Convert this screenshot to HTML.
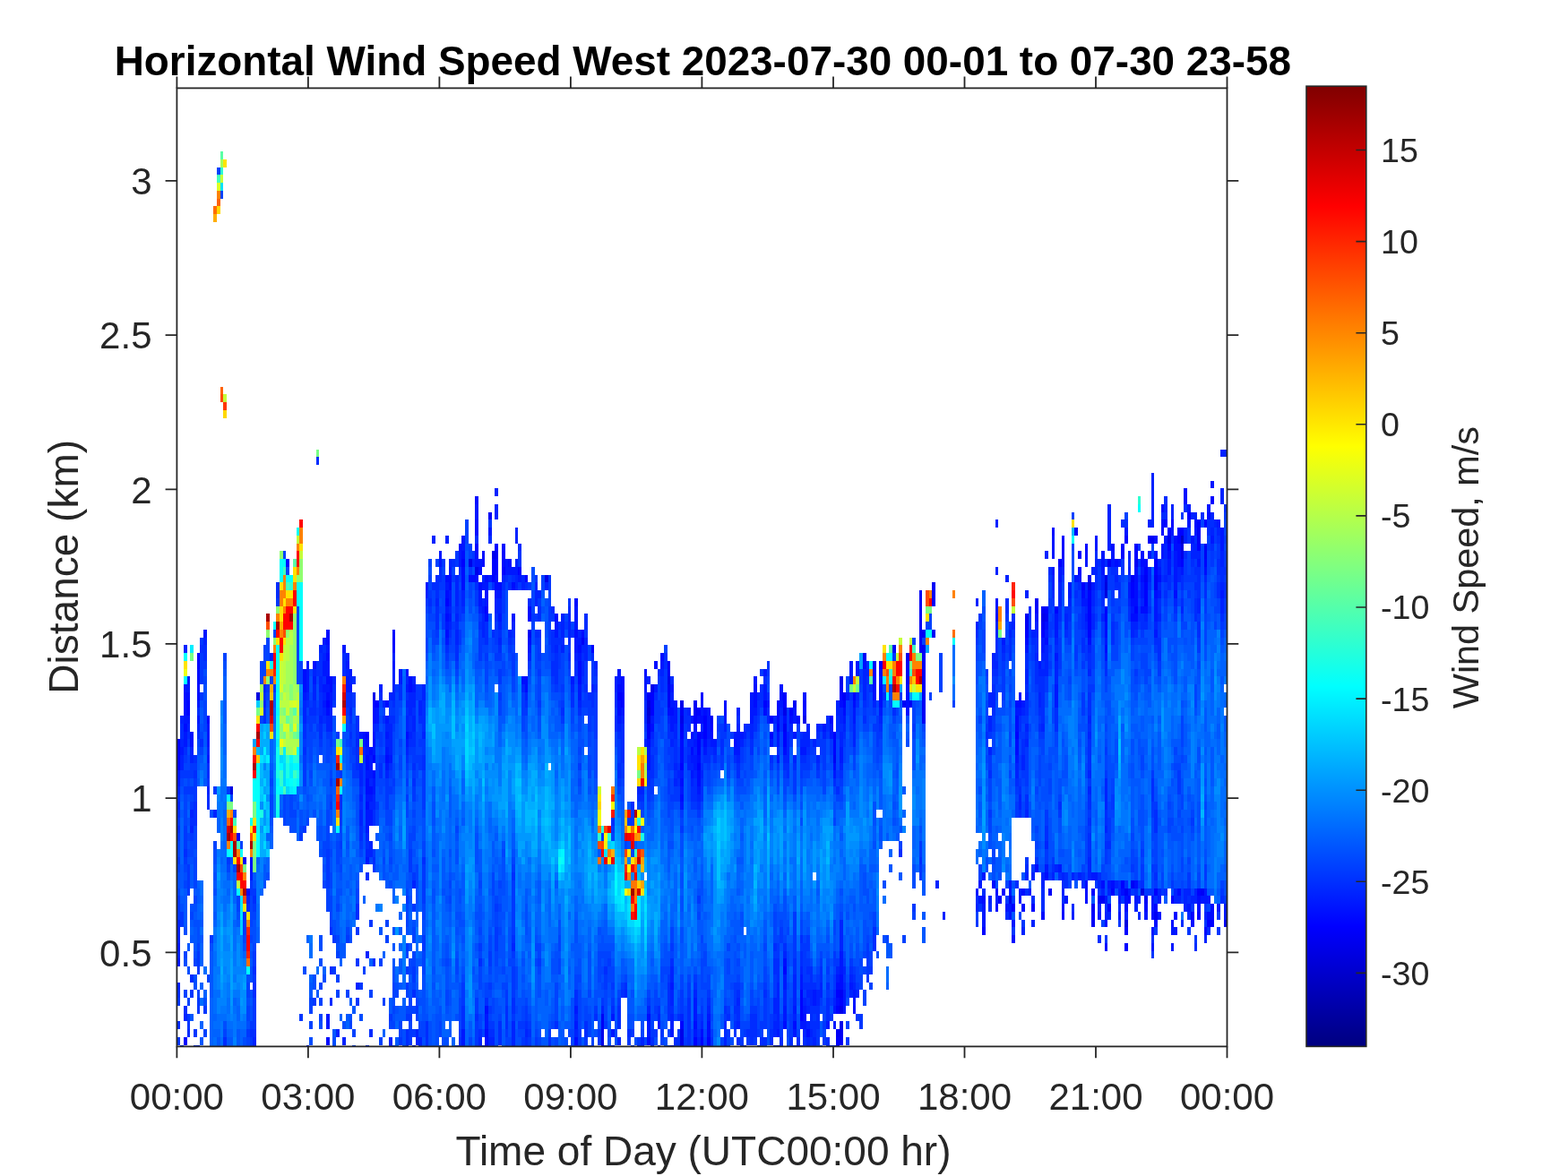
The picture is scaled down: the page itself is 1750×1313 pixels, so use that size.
<!DOCTYPE html><html><head><meta charset="utf-8"><style>html,body{margin:0;padding:0;background:#fff;}svg{display:block;}text{font-family:"Liberation Sans",Arial,sans-serif;}</style></head><body>
<svg width="1750" height="1313" viewBox="0 0 1750 1313">
<rect width="1750" height="1313" fill="#fff"/>
<g shape-rendering="crispEdges"><path fill="#0000cb" d="M1317.7 597.7h3.70V606.5h-3.70z"/><path fill="#0000d5" d="M722.4 790.2h3.70V799.0h-3.70z"/><path fill="#0000e0" d="M256.6 877.7h3.70V886.5h-3.70zM286.1 772.7h3.70V781.5h-3.70zM670.7 1166.5h3.70V1168.4h-3.70zM722.4 781.5h3.70V790.2h-3.70zM722.4 799.0h3.70V807.7h-3.70zM759.4 1166.5h3.70V1168.4h-3.70zM1232.7 650.2h3.70V667.7h-3.70zM1254.9 1026.5h3.70V1035.2h-3.70zM1273.4 991.5h3.70V1000.2h-3.70zM1317.7 606.5h3.70V615.2h-3.70z"/><path fill="#0000eb" d="M415.6 772.7h3.70V781.5h-3.70zM522.8 624.0h3.70V632.7h-3.70zM530.2 632.7h3.70V641.5h-3.70zM548.7 615.2h3.70V624.0h-3.70zM607.8 641.5h3.70V650.2h-3.70zM670.7 1149.0h3.70V1166.5h-3.70zM726.1 764.0h3.70V772.7h-3.70zM744.6 755.2h3.70V764.0h-3.70zM759.4 781.5h3.70V790.2h-3.70zM759.4 799.0h3.70V807.7h-3.70zM759.4 1149.0h3.70V1166.5h-3.70zM781.6 1166.5h3.70V1168.4h-3.70zM874.0 790.2h3.70V799.0h-3.70zM896.2 799.0h3.70V807.7h-3.70zM936.9 755.2h3.70V764.0h-3.70zM936.9 1122.7h3.70V1131.5h-3.70zM936.9 1140.2h3.70V1149.0h-3.70zM1125.5 1000.2h3.70V1009.0h-3.70zM1162.4 685.2h3.70V694.0h-3.70zM1214.2 641.5h3.70V659.0h-3.70zM1232.7 641.5h3.70V650.2h-3.70zM1302.9 597.7h3.70V606.5h-3.70zM1317.7 615.2h3.70V624.0h-3.70z"/><path fill="#0000f6" d="M264.0 930.2h3.70V939.0h-3.70zM271.3 956.5h3.70V965.2h-3.70zM545.0 571.5h3.70V580.2h-3.70zM552.4 615.2h3.70V624.0h-3.70zM589.3 702.7h3.70V711.5h-3.70zM648.5 711.5h3.70V720.2h-3.70zM670.7 1131.5h3.70V1149.0h-3.70zM722.4 772.7h3.70V781.5h-3.70zM722.4 807.7h3.70V825.2h-3.70zM744.6 737.7h3.70V755.2h-3.70zM744.6 764.0h3.70V790.2h-3.70zM759.4 790.2h3.70V799.0h-3.70zM759.4 807.7h3.70V816.5h-3.70zM774.2 781.5h3.70V799.0h-3.70zM774.2 1166.5h3.70V1168.4h-3.70zM792.7 799.0h3.70V807.7h-3.70zM874.0 807.7h3.70V816.5h-3.70zM885.1 781.5h3.70V790.2h-3.70zM929.5 842.7h3.70V851.5h-3.70zM933.2 1149.0h3.70V1157.7h-3.70zM936.9 764.0h3.70V772.7h-3.70zM936.9 1105.2h3.70V1114.0h-3.70zM936.9 1149.0h3.70V1166.5h-3.70zM940.6 772.7h3.70V781.5h-3.70zM962.8 729.0h3.70V737.7h-3.70zM973.9 737.7h3.70V746.5h-3.70zM996.1 720.2h3.70V729.0h-3.70zM1007.1 781.5h3.70V790.2h-3.70zM1010.8 729.0h3.70V764.0h-3.70zM1014.5 781.5h3.70V790.2h-3.70zM1025.6 659.0h3.70V729.0h-3.70zM1029.3 702.7h3.70V711.5h-3.70zM1029.3 720.2h3.70V807.7h-3.70zM1040.4 650.2h3.70V676.5h-3.70zM1040.4 702.7h3.70V711.5h-3.70zM1114.4 1000.2h3.70V1009.0h-3.70zM1144.0 685.2h3.70V702.7h-3.70zM1155.0 667.7h3.70V676.5h-3.70zM1162.4 676.5h3.70V685.2h-3.70zM1162.4 694.0h3.70V702.7h-3.70zM1166.1 685.2h3.70V694.0h-3.70zM1169.8 991.5h3.70V1000.2h-3.70zM1199.4 589.0h3.70V597.7h-3.70zM1217.9 1009.0h3.70V1017.7h-3.70zM1217.9 1026.5h3.70V1035.2h-3.70zM1225.3 1000.2h3.70V1009.0h-3.70zM1229.0 1000.2h3.70V1009.0h-3.70zM1236.4 624.0h3.70V632.7h-3.70zM1254.9 991.5h3.70V1000.2h-3.70zM1262.3 641.5h3.70V650.2h-3.70zM1262.3 982.7h3.70V991.5h-3.70zM1266.0 624.0h3.70V632.7h-3.70zM1277.1 641.5h3.70V650.2h-3.70zM1277.1 1000.2h3.70V1009.0h-3.70zM1280.8 597.7h3.70V606.5h-3.70zM1284.5 597.7h3.70V606.5h-3.70zM1288.2 641.5h3.70V659.0h-3.70zM1288.2 1017.7h3.70V1026.5h-3.70zM1336.2 589.0h3.70V606.5h-3.70zM1339.9 991.5h3.70V1000.2h-3.70zM1343.6 606.5h3.70V624.0h-3.70zM1365.8 1026.5h3.70V1035.2h-3.70z"/><path fill="#0001ff" d="M197.4 825.2h3.70V860.2h-3.70zM204.8 1157.7h3.70V1166.5h-3.70zM208.5 781.5h3.70V799.0h-3.70zM219.6 729.0h3.70V746.5h-3.70zM230.7 799.0h3.70V807.7h-3.70zM319.4 624.0h3.70V632.7h-3.70zM363.8 781.5h3.70V790.2h-3.70zM408.2 816.5h3.70V825.2h-3.70zM415.6 781.5h3.70V790.2h-3.70zM415.6 842.7h3.70V851.5h-3.70zM419.2 781.5h3.70V790.2h-3.70zM437.7 711.5h3.70V720.2h-3.70zM496.9 667.7h3.70V676.5h-3.70zM515.4 624.0h3.70V632.7h-3.70zM530.2 606.5h3.70V615.2h-3.70zM541.3 676.5h3.70V685.2h-3.70zM548.7 624.0h3.70V650.2h-3.70zM552.4 606.5h3.70V615.2h-3.70zM552.4 624.0h3.70V641.5h-3.70zM559.8 615.2h3.70V624.0h-3.70zM559.8 632.7h3.70V641.5h-3.70zM578.2 632.7h3.70V641.5h-3.70zM585.6 641.5h3.70V650.2h-3.70zM659.6 720.2h3.70V729.0h-3.70zM689.2 772.7h3.70V781.5h-3.70zM692.9 772.7h3.70V790.2h-3.70zM726.1 772.7h3.70V799.0h-3.70zM759.4 816.5h3.70V825.2h-3.70zM759.4 851.5h3.70V860.2h-3.70zM759.4 1140.2h3.70V1149.0h-3.70zM774.2 799.0h3.70V807.7h-3.70zM774.2 1157.7h3.70V1166.5h-3.70zM777.9 790.2h3.70V799.0h-3.70zM777.9 816.5h3.70V842.7h-3.70zM777.9 851.5h3.70V860.2h-3.70zM781.6 1157.7h3.70V1166.5h-3.70zM785.3 799.0h3.70V825.2h-3.70zM789.0 1157.7h3.70V1166.5h-3.70zM792.7 807.7h3.70V816.5h-3.70zM851.9 781.5h3.70V790.2h-3.70zM859.2 799.0h3.70V807.7h-3.70zM859.2 816.5h3.70V825.2h-3.70zM866.6 807.7h3.70V816.5h-3.70zM874.0 772.7h3.70V790.2h-3.70zM874.0 816.5h3.70V834.0h-3.70zM874.0 1079.0h3.70V1087.7h-3.70zM881.4 790.2h3.70V799.0h-3.70zM892.5 1105.2h3.70V1140.2h-3.70zM896.2 781.5h3.70V790.2h-3.70zM925.8 799.0h3.70V807.7h-3.70zM929.5 816.5h3.70V842.7h-3.70zM933.2 1105.2h3.70V1114.0h-3.70zM933.2 1122.7h3.70V1131.5h-3.70zM933.2 1157.7h3.70V1168.4h-3.70zM936.9 772.7h3.70V781.5h-3.70zM936.9 1114.0h3.70V1122.7h-3.70zM940.6 781.5h3.70V790.2h-3.70zM951.7 772.7h3.70V781.5h-3.70zM973.9 746.5h3.70V764.0h-3.70zM981.3 737.7h3.70V746.5h-3.70zM1095.9 1035.2h3.70V1044.0h-3.70zM1118.1 991.5h3.70V1000.2h-3.70zM1129.2 1009.0h3.70V1017.7h-3.70zM1132.9 816.5h3.70V825.2h-3.70zM1144.0 702.7h3.70V711.5h-3.70zM1151.3 1009.0h3.70V1017.7h-3.70zM1155.0 676.5h3.70V685.2h-3.70zM1162.4 702.7h3.70V711.5h-3.70zM1166.1 676.5h3.70V685.2h-3.70zM1177.2 676.5h3.70V685.2h-3.70zM1180.9 624.0h3.70V632.7h-3.70zM1184.6 597.7h3.70V615.2h-3.70zM1203.1 615.2h3.70V624.0h-3.70zM1203.1 632.7h3.70V641.5h-3.70zM1206.8 650.2h3.70V659.0h-3.70zM1210.5 606.5h3.70V615.2h-3.70zM1214.2 659.0h3.70V711.5h-3.70zM1217.9 991.5h3.70V1000.2h-3.70zM1217.9 1017.7h3.70V1026.5h-3.70zM1232.7 676.5h3.70V694.0h-3.70zM1236.4 1009.0h3.70V1017.7h-3.70zM1240.1 991.5h3.70V1000.2h-3.70zM1251.2 606.5h3.70V624.0h-3.70zM1251.2 982.7h3.70V991.5h-3.70zM1254.9 597.7h3.70V606.5h-3.70zM1254.9 1035.2h3.70V1044.0h-3.70zM1254.9 1052.7h3.70V1061.5h-3.70zM1258.6 1000.2h3.70V1009.0h-3.70zM1262.3 650.2h3.70V667.7h-3.70zM1266.0 606.5h3.70V624.0h-3.70zM1266.0 676.5h3.70V685.2h-3.70zM1277.1 632.7h3.70V641.5h-3.70zM1277.1 650.2h3.70V676.5h-3.70zM1288.2 624.0h3.70V641.5h-3.70zM1288.2 991.5h3.70V1000.2h-3.70zM1288.2 1009.0h3.70V1017.7h-3.70zM1295.6 589.0h3.70V597.7h-3.70zM1299.2 580.2h3.70V589.0h-3.70zM1302.9 589.0h3.70V597.7h-3.70zM1302.9 606.5h3.70V615.2h-3.70zM1306.6 580.2h3.70V589.0h-3.70zM1306.6 1000.2h3.70V1009.0h-3.70zM1310.3 1017.7h3.70V1026.5h-3.70zM1314.0 589.0h3.70V606.5h-3.70zM1317.7 589.0h3.70V597.7h-3.70zM1317.7 624.0h3.70V632.7h-3.70zM1325.1 571.5h3.70V580.2h-3.70zM1328.8 1017.7h3.70V1026.5h-3.70zM1336.2 580.2h3.70V589.0h-3.70zM1336.2 606.5h3.70V615.2h-3.70zM1336.2 991.5h3.70V1000.2h-3.70zM1336.2 1017.7h3.70V1026.5h-3.70zM1343.6 580.2h3.70V589.0h-3.70zM1343.6 624.0h3.70V632.7h-3.70zM1347.3 1026.5h3.70V1035.2h-3.70zM1351.0 554.0h3.70V562.7h-3.70zM1351.0 1026.5h3.70V1035.2h-3.70z"/><path fill="#000cff" d="M204.8 772.7h3.70V799.0h-3.70zM204.8 807.7h3.70V816.5h-3.70zM208.5 772.7h3.70V781.5h-3.70zM212.2 816.5h3.70V834.0h-3.70zM219.6 746.5h3.70V781.5h-3.70zM275.0 991.5h3.70V1000.2h-3.70zM278.7 956.5h3.70V974.0h-3.70zM337.9 746.5h3.70V772.7h-3.70zM349.0 737.7h3.70V746.5h-3.70zM363.8 702.7h3.70V720.2h-3.70zM363.8 729.0h3.70V737.7h-3.70zM363.8 755.2h3.70V764.0h-3.70zM363.8 772.7h3.70V781.5h-3.70zM363.8 790.2h3.70V799.0h-3.70zM363.8 1157.7h3.70V1166.5h-3.70zM367.5 755.2h3.70V772.7h-3.70zM404.5 816.5h3.70V825.2h-3.70zM408.2 825.2h3.70V834.0h-3.70zM408.2 842.7h3.70V860.2h-3.70zM408.2 869.0h3.70V886.5h-3.70zM408.2 895.2h3.70V904.0h-3.70zM411.9 834.0h3.70V842.7h-3.70zM411.9 877.7h3.70V886.5h-3.70zM415.6 790.2h3.70V807.7h-3.70zM415.6 825.2h3.70V834.0h-3.70zM415.6 860.2h3.70V869.0h-3.70zM430.3 781.5h3.70V790.2h-3.70zM430.3 842.7h3.70V851.5h-3.70zM437.7 702.7h3.70V711.5h-3.70zM437.7 720.2h3.70V729.0h-3.70zM452.5 746.5h3.70V755.2h-3.70zM452.5 816.5h3.70V825.2h-3.70zM456.2 755.2h3.70V772.7h-3.70zM496.9 641.5h3.70V650.2h-3.70zM496.9 659.0h3.70V667.7h-3.70zM496.9 685.2h3.70V694.0h-3.70zM496.9 702.7h3.70V711.5h-3.70zM500.6 641.5h3.70V659.0h-3.70zM511.7 606.5h3.70V615.2h-3.70zM515.4 615.2h3.70V624.0h-3.70zM515.4 632.7h3.70V659.0h-3.70zM522.8 641.5h3.70V650.2h-3.70zM526.5 641.5h3.70V650.2h-3.70zM530.2 554.0h3.70V562.7h-3.70zM530.2 580.2h3.70V597.7h-3.70zM530.2 615.2h3.70V624.0h-3.70zM530.2 641.5h3.70V650.2h-3.70zM533.9 632.7h3.70V641.5h-3.70zM533.9 650.2h3.70V659.0h-3.70zM537.6 615.2h3.70V632.7h-3.70zM541.3 641.5h3.70V650.2h-3.70zM541.3 659.0h3.70V667.7h-3.70zM541.3 685.2h3.70V694.0h-3.70zM541.3 1122.7h3.70V1131.5h-3.70zM541.3 1149.0h3.70V1168.4h-3.70zM552.4 641.5h3.70V659.0h-3.70zM556.1 650.2h3.70V659.0h-3.70zM559.8 606.5h3.70V615.2h-3.70zM559.8 624.0h3.70V632.7h-3.70zM567.1 624.0h3.70V632.7h-3.70zM570.8 650.2h3.70V659.0h-3.70zM581.9 755.2h3.70V764.0h-3.70zM585.6 755.2h3.70V772.7h-3.70zM589.3 676.5h3.70V694.0h-3.70zM589.3 711.5h3.70V720.2h-3.70zM618.9 685.2h3.70V694.0h-3.70zM641.1 667.7h3.70V676.5h-3.70zM641.1 702.7h3.70V711.5h-3.70zM641.1 1157.7h3.70V1166.5h-3.70zM644.8 720.2h3.70V729.0h-3.70zM644.8 737.7h3.70V764.0h-3.70zM648.5 702.7h3.70V711.5h-3.70zM689.2 764.0h3.70V772.7h-3.70zM689.2 781.5h3.70V799.0h-3.70zM692.9 755.2h3.70V772.7h-3.70zM718.7 746.5h3.70V755.2h-3.70zM722.4 825.2h3.70V834.0h-3.70zM722.4 1131.5h3.70V1140.2h-3.70zM722.4 1157.7h3.70V1166.5h-3.70zM726.1 807.7h3.70V816.5h-3.70zM729.8 737.7h3.70V746.5h-3.70zM737.2 729.0h3.70V737.7h-3.70zM744.6 790.2h3.70V799.0h-3.70zM748.3 790.2h3.70V799.0h-3.70zM748.3 1166.5h3.70V1168.4h-3.70zM759.4 825.2h3.70V851.5h-3.70zM759.4 869.0h3.70V877.7h-3.70zM759.4 886.5h3.70V895.2h-3.70zM770.5 816.5h3.70V825.2h-3.70zM770.5 834.0h3.70V842.7h-3.70zM774.2 807.7h3.70V816.5h-3.70zM774.2 1140.2h3.70V1149.0h-3.70zM777.9 799.0h3.70V807.7h-3.70zM777.9 842.7h3.70V851.5h-3.70zM777.9 860.2h3.70V877.7h-3.70zM781.6 772.7h3.70V781.5h-3.70zM781.6 799.0h3.70V807.7h-3.70zM781.6 816.5h3.70V825.2h-3.70zM781.6 1149.0h3.70V1157.7h-3.70zM785.3 790.2h3.70V799.0h-3.70zM785.3 825.2h3.70V834.0h-3.70zM789.0 1140.2h3.70V1157.7h-3.70zM789.0 1166.5h3.70V1168.4h-3.70zM792.7 816.5h3.70V825.2h-3.70zM807.5 781.5h3.70V799.0h-3.70zM807.5 1166.5h3.70V1168.4h-3.70zM818.6 825.2h3.70V834.0h-3.70zM840.8 764.0h3.70V790.2h-3.70zM851.9 790.2h3.70V799.0h-3.70zM866.6 781.5h3.70V807.7h-3.70zM866.6 1166.5h3.70V1168.4h-3.70zM870.3 772.7h3.70V781.5h-3.70zM874.0 799.0h3.70V807.7h-3.70zM874.0 834.0h3.70V842.7h-3.70zM874.0 1070.2h3.70V1079.0h-3.70zM874.0 1140.2h3.70V1149.0h-3.70zM881.4 799.0h3.70V807.7h-3.70zM885.1 1140.2h3.70V1149.0h-3.70zM888.8 799.0h3.70V807.7h-3.70zM888.8 1166.5h3.70V1168.4h-3.70zM896.2 790.2h3.70V799.0h-3.70zM896.2 1131.5h3.70V1140.2h-3.70zM899.9 1149.0h3.70V1157.7h-3.70zM929.5 851.5h3.70V860.2h-3.70zM933.2 1096.5h3.70V1105.2h-3.70zM933.2 1114.0h3.70V1122.7h-3.70zM936.9 781.5h3.70V790.2h-3.70zM936.9 1087.7h3.70V1105.2h-3.70zM940.6 790.2h3.70V799.0h-3.70zM951.7 781.5h3.70V790.2h-3.70zM951.7 1122.7h3.70V1131.5h-3.70zM962.8 737.7h3.70V746.5h-3.70zM973.9 764.0h3.70V781.5h-3.70zM981.3 746.5h3.70V755.2h-3.70zM981.3 764.0h3.70V790.2h-3.70zM1010.8 764.0h3.70V799.0h-3.70zM1095.9 1000.2h3.70V1009.0h-3.70zM1107.0 982.7h3.70V991.5h-3.70zM1110.7 685.2h3.70V694.0h-3.70zM1110.7 991.5h3.70V1000.2h-3.70zM1110.7 1009.0h3.70V1017.7h-3.70zM1129.2 1044.0h3.70V1052.7h-3.70zM1132.9 781.5h3.70V790.2h-3.70zM1132.9 799.0h3.70V816.5h-3.70zM1132.9 825.2h3.70V842.7h-3.70zM1136.6 772.7h3.70V790.2h-3.70zM1140.3 991.5h3.70V1000.2h-3.70zM1140.3 1009.0h3.70V1017.7h-3.70zM1144.0 711.5h3.70V720.2h-3.70zM1155.0 965.2h3.70V974.0h-3.70zM1162.4 1017.7h3.70V1026.5h-3.70zM1166.1 694.0h3.70V702.7h-3.70zM1166.1 711.5h3.70V720.2h-3.70zM1166.1 974.0h3.70V982.7h-3.70zM1173.5 589.0h3.70V597.7h-3.70zM1184.6 615.2h3.70V624.0h-3.70zM1184.6 1017.7h3.70V1026.5h-3.70zM1206.8 659.0h3.70V667.7h-3.70zM1210.5 615.2h3.70V624.0h-3.70zM1210.5 982.7h3.70V1009.0h-3.70zM1214.2 711.5h3.70V720.2h-3.70zM1229.0 982.7h3.70V991.5h-3.70zM1232.7 694.0h3.70V711.5h-3.70zM1232.7 720.2h3.70V729.0h-3.70zM1232.7 1026.5h3.70V1035.2h-3.70zM1232.7 1052.7h3.70V1061.5h-3.70zM1240.1 606.5h3.70V615.2h-3.70zM1240.1 982.7h3.70V991.5h-3.70zM1243.8 624.0h3.70V632.7h-3.70zM1251.2 991.5h3.70V1000.2h-3.70zM1254.9 1000.2h3.70V1017.7h-3.70zM1262.3 667.7h3.70V676.5h-3.70zM1262.3 685.2h3.70V694.0h-3.70zM1266.0 632.7h3.70V676.5h-3.70zM1266.0 685.2h3.70V694.0h-3.70zM1266.0 982.7h3.70V991.5h-3.70zM1273.4 615.2h3.70V632.7h-3.70zM1273.4 641.5h3.70V650.2h-3.70zM1273.4 676.5h3.70V685.2h-3.70zM1277.1 624.0h3.70V632.7h-3.70zM1277.1 676.5h3.70V685.2h-3.70zM1277.1 1009.0h3.70V1017.7h-3.70zM1284.5 1017.7h3.70V1026.5h-3.70zM1288.2 597.7h3.70V606.5h-3.70zM1288.2 659.0h3.70V667.7h-3.70zM1288.2 1026.5h3.70V1035.2h-3.70zM1291.9 641.5h3.70V650.2h-3.70zM1295.6 562.7h3.70V571.5h-3.70zM1295.6 580.2h3.70V589.0h-3.70zM1302.9 615.2h3.70V624.0h-3.70zM1306.6 1026.5h3.70V1035.2h-3.70zM1310.3 597.7h3.70V615.2h-3.70zM1310.3 659.0h3.70V667.7h-3.70zM1314.0 606.5h3.70V632.7h-3.70zM1314.0 991.5h3.70V1000.2h-3.70zM1321.4 545.2h3.70V562.7h-3.70zM1328.8 1026.5h3.70V1035.2h-3.70zM1332.5 580.2h3.70V589.0h-3.70zM1336.2 1000.2h3.70V1017.7h-3.70zM1343.6 632.7h3.70V641.5h-3.70zM1343.6 1035.2h3.70V1044.0h-3.70zM1347.3 571.5h3.70V580.2h-3.70zM1347.3 1017.7h3.70V1026.5h-3.70zM1351.0 1009.0h3.70V1026.5h-3.70z"/><path fill="#0017ff" d="M197.4 860.2h3.70V877.7h-3.70zM197.4 1052.7h3.70V1061.5h-3.70zM197.4 1070.2h3.70V1079.0h-3.70zM201.1 834.0h3.70V842.7h-3.70zM204.8 764.0h3.70V772.7h-3.70zM204.8 799.0h3.70V807.7h-3.70zM204.8 816.5h3.70V834.0h-3.70zM208.5 755.2h3.70V772.7h-3.70zM208.5 799.0h3.70V807.7h-3.70zM219.6 781.5h3.70V790.2h-3.70zM219.6 799.0h3.70V807.7h-3.70zM227.0 702.7h3.70V711.5h-3.70zM230.7 807.7h3.70V834.0h-3.70zM230.7 842.7h3.70V851.5h-3.70zM278.7 974.0h3.70V982.7h-3.70zM337.9 772.7h3.70V781.5h-3.70zM341.6 737.7h3.70V772.7h-3.70zM341.6 1166.5h3.70V1168.4h-3.70zM349.0 755.2h3.70V764.0h-3.70zM360.1 711.5h3.70V720.2h-3.70zM360.1 737.7h3.70V755.2h-3.70zM360.1 764.0h3.70V772.7h-3.70zM360.1 781.5h3.70V790.2h-3.70zM363.8 720.2h3.70V729.0h-3.70zM363.8 737.7h3.70V755.2h-3.70zM363.8 764.0h3.70V772.7h-3.70zM363.8 1131.5h3.70V1149.0h-3.70zM367.5 772.7h3.70V790.2h-3.70zM382.3 720.2h3.70V729.0h-3.70zM386.0 737.7h3.70V746.5h-3.70zM386.0 755.2h3.70V772.7h-3.70zM389.7 746.5h3.70V755.2h-3.70zM389.7 764.0h3.70V772.7h-3.70zM400.8 816.5h3.70V825.2h-3.70zM404.5 825.2h3.70V834.0h-3.70zM408.2 834.0h3.70V842.7h-3.70zM408.2 860.2h3.70V869.0h-3.70zM408.2 886.5h3.70V895.2h-3.70zM408.2 904.0h3.70V930.2h-3.70zM408.2 956.5h3.70V965.2h-3.70zM411.9 842.7h3.70V869.0h-3.70zM411.9 886.5h3.70V895.2h-3.70zM411.9 904.0h3.70V921.5h-3.70zM415.6 816.5h3.70V825.2h-3.70zM415.6 834.0h3.70V842.7h-3.70zM415.6 869.0h3.70V886.5h-3.70zM419.2 790.2h3.70V807.7h-3.70zM430.3 799.0h3.70V807.7h-3.70zM430.3 816.5h3.70V825.2h-3.70zM430.3 834.0h3.70V842.7h-3.70zM430.3 851.5h3.70V860.2h-3.70zM434.0 842.7h3.70V851.5h-3.70zM437.7 737.7h3.70V746.5h-3.70zM445.1 746.5h3.70V764.0h-3.70zM452.5 764.0h3.70V772.7h-3.70zM452.5 825.2h3.70V834.0h-3.70zM459.9 764.0h3.70V772.7h-3.70zM459.9 1166.5h3.70V1168.4h-3.70zM474.7 650.2h3.70V659.0h-3.70zM489.5 615.2h3.70V632.7h-3.70zM496.9 650.2h3.70V659.0h-3.70zM496.9 676.5h3.70V685.2h-3.70zM496.9 694.0h3.70V702.7h-3.70zM496.9 711.5h3.70V720.2h-3.70zM500.6 632.7h3.70V641.5h-3.70zM500.6 659.0h3.70V676.5h-3.70zM500.6 685.2h3.70V694.0h-3.70zM511.7 615.2h3.70V632.7h-3.70zM515.4 597.7h3.70V615.2h-3.70zM515.4 1149.0h3.70V1168.4h-3.70zM530.2 562.7h3.70V580.2h-3.70zM530.2 624.0h3.70V632.7h-3.70zM533.9 624.0h3.70V632.7h-3.70zM533.9 659.0h3.70V676.5h-3.70zM537.6 650.2h3.70V659.0h-3.70zM537.6 676.5h3.70V685.2h-3.70zM541.3 650.2h3.70V659.0h-3.70zM541.3 667.7h3.70V676.5h-3.70zM541.3 1131.5h3.70V1149.0h-3.70zM545.0 589.0h3.70V597.7h-3.70zM545.0 641.5h3.70V650.2h-3.70zM552.4 659.0h3.70V667.7h-3.70zM556.1 659.0h3.70V667.7h-3.70zM556.1 685.2h3.70V694.0h-3.70zM563.5 624.0h3.70V641.5h-3.70zM567.1 632.7h3.70V641.5h-3.70zM570.8 632.7h3.70V641.5h-3.70zM570.8 685.2h3.70V694.0h-3.70zM570.8 1166.5h3.70V1168.4h-3.70zM574.5 632.7h3.70V641.5h-3.70zM578.2 641.5h3.70V650.2h-3.70zM589.3 720.2h3.70V729.0h-3.70zM611.5 1166.5h3.70V1168.4h-3.70zM618.9 694.0h3.70V711.5h-3.70zM637.4 755.2h3.70V764.0h-3.70zM641.1 676.5h3.70V702.7h-3.70zM641.1 711.5h3.70V729.0h-3.70zM641.1 1122.7h3.70V1131.5h-3.70zM641.1 1140.2h3.70V1149.0h-3.70zM644.8 711.5h3.70V720.2h-3.70zM644.8 729.0h3.70V737.7h-3.70zM644.8 764.0h3.70V781.5h-3.70zM681.8 1131.5h3.70V1140.2h-3.70zM681.8 1149.0h3.70V1157.7h-3.70zM681.8 1166.5h3.70V1168.4h-3.70zM689.2 746.5h3.70V764.0h-3.70zM689.2 799.0h3.70V807.7h-3.70zM692.9 790.2h3.70V799.0h-3.70zM718.7 755.2h3.70V772.7h-3.70zM722.4 834.0h3.70V860.2h-3.70zM722.4 1140.2h3.70V1157.7h-3.70zM726.1 799.0h3.70V807.7h-3.70zM729.8 764.0h3.70V772.7h-3.70zM733.5 1140.2h3.70V1149.0h-3.70zM733.5 1166.5h3.70V1168.4h-3.70zM737.2 737.7h3.70V746.5h-3.70zM748.3 764.0h3.70V772.7h-3.70zM748.3 781.5h3.70V790.2h-3.70zM748.3 799.0h3.70V816.5h-3.70zM748.3 1096.5h3.70V1105.2h-3.70zM748.3 1149.0h3.70V1157.7h-3.70zM752.0 781.5h3.70V807.7h-3.70zM759.4 860.2h3.70V869.0h-3.70zM759.4 877.7h3.70V886.5h-3.70zM759.4 895.2h3.70V904.0h-3.70zM770.5 799.0h3.70V807.7h-3.70zM770.5 842.7h3.70V851.5h-3.70zM770.5 860.2h3.70V869.0h-3.70zM774.2 825.2h3.70V834.0h-3.70zM774.2 842.7h3.70V860.2h-3.70zM774.2 1114.0h3.70V1140.2h-3.70zM774.2 1149.0h3.70V1157.7h-3.70zM777.9 877.7h3.70V886.5h-3.70zM781.6 781.5h3.70V799.0h-3.70zM785.3 834.0h3.70V842.7h-3.70zM789.0 790.2h3.70V825.2h-3.70zM789.0 1131.5h3.70V1140.2h-3.70zM792.7 825.2h3.70V834.0h-3.70zM796.4 825.2h3.70V834.0h-3.70zM807.5 799.0h3.70V807.7h-3.70zM818.6 816.5h3.70V825.2h-3.70zM818.6 834.0h3.70V842.7h-3.70zM822.3 816.5h3.70V842.7h-3.70zM826.0 816.5h3.70V825.2h-3.70zM837.1 772.7h3.70V807.7h-3.70zM840.8 755.2h3.70V764.0h-3.70zM840.8 790.2h3.70V799.0h-3.70zM851.9 746.5h3.70V755.2h-3.70zM851.9 764.0h3.70V781.5h-3.70zM855.6 781.5h3.70V790.2h-3.70zM859.2 825.2h3.70V834.0h-3.70zM866.6 816.5h3.70V834.0h-3.70zM866.6 842.7h3.70V851.5h-3.70zM866.6 1149.0h3.70V1157.7h-3.70zM870.3 764.0h3.70V772.7h-3.70zM870.3 781.5h3.70V790.2h-3.70zM874.0 1087.7h3.70V1105.2h-3.70zM874.0 1122.7h3.70V1140.2h-3.70zM885.1 790.2h3.70V807.7h-3.70zM885.1 816.5h3.70V825.2h-3.70zM885.1 1122.7h3.70V1131.5h-3.70zM885.1 1149.0h3.70V1157.7h-3.70zM892.5 834.0h3.70V842.7h-3.70zM892.5 1087.7h3.70V1105.2h-3.70zM892.5 1140.2h3.70V1149.0h-3.70zM896.2 772.7h3.70V781.5h-3.70zM896.2 834.0h3.70V842.7h-3.70zM896.2 1122.7h3.70V1131.5h-3.70zM896.2 1140.2h3.70V1149.0h-3.70zM899.9 1166.5h3.70V1168.4h-3.70zM907.3 1105.2h3.70V1122.7h-3.70zM918.4 807.7h3.70V816.5h-3.70zM922.1 1140.2h3.70V1149.0h-3.70zM925.8 807.7h3.70V825.2h-3.70zM929.5 860.2h3.70V869.0h-3.70zM929.5 1122.7h3.70V1131.5h-3.70zM929.5 1140.2h3.70V1149.0h-3.70zM933.2 1087.7h3.70V1096.5h-3.70zM936.9 834.0h3.70V851.5h-3.70zM936.9 1061.5h3.70V1087.7h-3.70zM940.6 799.0h3.70V807.7h-3.70zM940.6 1105.2h3.70V1131.5h-3.70zM944.3 772.7h3.70V781.5h-3.70zM948.0 737.7h3.70V764.0h-3.70zM948.0 1096.5h3.70V1105.2h-3.70zM951.7 790.2h3.70V807.7h-3.70zM951.7 1105.2h3.70V1122.7h-3.70zM955.4 737.7h3.70V755.2h-3.70zM981.3 755.2h3.70V764.0h-3.70zM981.3 790.2h3.70V799.0h-3.70zM1088.5 991.5h3.70V1000.2h-3.70zM1092.2 982.7h3.70V991.5h-3.70zM1092.2 1000.2h3.70V1009.0h-3.70zM1095.9 974.0h3.70V982.7h-3.70zM1095.9 1009.0h3.70V1035.2h-3.70zM1110.7 667.7h3.70V685.2h-3.70zM1118.1 711.5h3.70V720.2h-3.70zM1121.8 1009.0h3.70V1017.7h-3.70zM1125.5 982.7h3.70V1000.2h-3.70zM1125.5 1009.0h3.70V1026.5h-3.70zM1129.2 1026.5h3.70V1035.2h-3.70zM1132.9 790.2h3.70V799.0h-3.70zM1132.9 842.7h3.70V851.5h-3.70zM1136.6 790.2h3.70V799.0h-3.70zM1136.6 991.5h3.70V1009.0h-3.70zM1140.3 781.5h3.70V790.2h-3.70zM1144.0 720.2h3.70V729.0h-3.70zM1147.7 991.5h3.70V1000.2h-3.70zM1155.0 685.2h3.70V694.0h-3.70zM1158.7 737.7h3.70V746.5h-3.70zM1162.4 711.5h3.70V729.0h-3.70zM1166.1 702.7h3.70V711.5h-3.70zM1166.1 965.2h3.70V974.0h-3.70zM1173.5 597.7h3.70V624.0h-3.70zM1173.5 632.7h3.70V641.5h-3.70zM1177.2 685.2h3.70V711.5h-3.70zM1177.2 729.0h3.70V737.7h-3.70zM1177.2 764.0h3.70V790.2h-3.70zM1180.9 632.7h3.70V650.2h-3.70zM1180.9 965.2h3.70V974.0h-3.70zM1184.6 624.0h3.70V632.7h-3.70zM1184.6 1009.0h3.70V1017.7h-3.70zM1188.3 1000.2h3.70V1009.0h-3.70zM1192.0 650.2h3.70V667.7h-3.70zM1199.4 641.5h3.70V650.2h-3.70zM1203.1 641.5h3.70V650.2h-3.70zM1206.8 667.7h3.70V676.5h-3.70zM1210.5 624.0h3.70V632.7h-3.70zM1210.5 667.7h3.70V676.5h-3.70zM1210.5 685.2h3.70V694.0h-3.70zM1217.9 650.2h3.70V659.0h-3.70zM1217.9 974.0h3.70V982.7h-3.70zM1221.6 597.7h3.70V615.2h-3.70zM1221.6 974.0h3.70V982.7h-3.70zM1225.3 1017.7h3.70V1026.5h-3.70zM1229.0 615.2h3.70V641.5h-3.70zM1232.7 711.5h3.70V720.2h-3.70zM1232.7 729.0h3.70V737.7h-3.70zM1232.7 1000.2h3.70V1009.0h-3.70zM1236.4 982.7h3.70V991.5h-3.70zM1240.1 615.2h3.70V632.7h-3.70zM1247.5 624.0h3.70V632.7h-3.70zM1247.5 1000.2h3.70V1009.0h-3.70zM1247.5 1017.7h3.70V1026.5h-3.70zM1254.9 589.0h3.70V597.7h-3.70zM1258.6 650.2h3.70V667.7h-3.70zM1258.6 991.5h3.70V1000.2h-3.70zM1262.3 676.5h3.70V685.2h-3.70zM1266.0 1000.2h3.70V1009.0h-3.70zM1273.4 632.7h3.70V641.5h-3.70zM1273.4 650.2h3.70V667.7h-3.70zM1277.1 1017.7h3.70V1026.5h-3.70zM1280.8 615.2h3.70V624.0h-3.70zM1284.5 1000.2h3.70V1017.7h-3.70zM1284.5 1035.2h3.70V1044.0h-3.70zM1284.5 1052.7h3.70V1061.5h-3.70zM1288.2 615.2h3.70V624.0h-3.70zM1288.2 667.7h3.70V694.0h-3.70zM1288.2 702.7h3.70V711.5h-3.70zM1291.9 632.7h3.70V641.5h-3.70zM1291.9 659.0h3.70V667.7h-3.70zM1291.9 1000.2h3.70V1009.0h-3.70zM1291.9 1017.7h3.70V1026.5h-3.70zM1295.6 606.5h3.70V624.0h-3.70zM1299.2 597.7h3.70V606.5h-3.70zM1302.9 624.0h3.70V641.5h-3.70zM1306.6 589.0h3.70V597.7h-3.70zM1306.6 1035.2h3.70V1044.0h-3.70zM1306.6 1052.7h3.70V1061.5h-3.70zM1310.3 615.2h3.70V659.0h-3.70zM1310.3 1035.2h3.70V1044.0h-3.70zM1317.7 632.7h3.70V641.5h-3.70zM1325.1 562.7h3.70V571.5h-3.70zM1325.1 580.2h3.70V589.0h-3.70zM1325.1 1009.0h3.70V1017.7h-3.70zM1328.8 597.7h3.70V606.5h-3.70zM1332.5 589.0h3.70V597.7h-3.70zM1336.2 624.0h3.70V632.7h-3.70zM1339.9 1000.2h3.70V1009.0h-3.70zM1343.6 991.5h3.70V1009.0h-3.70zM1347.3 562.7h3.70V571.5h-3.70zM1347.3 1000.2h3.70V1009.0h-3.70zM1351.0 536.5h3.70V545.2h-3.70zM1351.0 597.7h3.70V606.5h-3.70zM1358.4 580.2h3.70V589.0h-3.70zM1358.4 1009.0h3.70V1017.7h-3.70zM1362.1 589.0h3.70V615.2h-3.70zM1362.1 659.0h3.70V667.7h-3.70zM1365.8 1009.0h3.70V1026.5h-3.70z"/><path fill="#0022ff" d="M197.4 877.7h3.70V886.5h-3.70zM197.4 895.2h3.70V904.0h-3.70zM197.4 1026.5h3.70V1052.7h-3.70zM197.4 1061.5h3.70V1070.2h-3.70zM197.4 1096.5h3.70V1105.2h-3.70zM201.1 799.0h3.70V807.7h-3.70zM201.1 825.2h3.70V834.0h-3.70zM201.1 842.7h3.70V860.2h-3.70zM204.8 720.2h3.70V729.0h-3.70zM204.8 1131.5h3.70V1140.2h-3.70zM208.5 807.7h3.70V816.5h-3.70zM212.2 834.0h3.70V851.5h-3.70zM212.2 904.0h3.70V912.7h-3.70zM212.2 921.5h3.70V930.2h-3.70zM219.6 807.7h3.70V816.5h-3.70zM219.6 1166.5h3.70V1168.4h-3.70zM227.0 711.5h3.70V720.2h-3.70zM230.7 834.0h3.70V842.7h-3.70zM230.7 877.7h3.70V886.5h-3.70zM238.1 904.0h3.70V912.7h-3.70zM249.2 1166.5h3.70V1168.4h-3.70zM275.0 1000.2h3.70V1009.0h-3.70zM282.4 1157.7h3.70V1168.4h-3.70zM293.5 764.0h3.70V772.7h-3.70zM293.5 781.5h3.70V790.2h-3.70zM300.9 729.0h3.70V737.7h-3.70zM337.9 781.5h3.70V807.7h-3.70zM341.6 772.7h3.70V781.5h-3.70zM349.0 746.5h3.70V755.2h-3.70zM349.0 764.0h3.70V781.5h-3.70zM356.4 720.2h3.70V729.0h-3.70zM356.4 755.2h3.70V772.7h-3.70zM356.4 799.0h3.70V807.7h-3.70zM360.1 729.0h3.70V737.7h-3.70zM360.1 772.7h3.70V781.5h-3.70zM360.1 790.2h3.70V799.0h-3.70zM363.8 799.0h3.70V816.5h-3.70zM367.5 790.2h3.70V816.5h-3.70zM371.2 755.2h3.70V764.0h-3.70zM374.9 1149.0h3.70V1157.7h-3.70zM382.3 1157.7h3.70V1166.5h-3.70zM386.0 729.0h3.70V737.7h-3.70zM386.0 746.5h3.70V755.2h-3.70zM389.7 755.2h3.70V764.0h-3.70zM389.7 790.2h3.70V799.0h-3.70zM397.1 825.2h3.70V834.0h-3.70zM397.1 1096.5h3.70V1105.2h-3.70zM400.8 851.5h3.70V877.7h-3.70zM400.8 886.5h3.70V895.2h-3.70zM400.8 904.0h3.70V921.5h-3.70zM404.5 834.0h3.70V842.7h-3.70zM408.2 930.2h3.70V939.0h-3.70zM408.2 947.7h3.70V956.5h-3.70zM408.2 1061.5h3.70V1070.2h-3.70zM411.9 869.0h3.70V877.7h-3.70zM411.9 895.2h3.70V904.0h-3.70zM411.9 939.0h3.70V956.5h-3.70zM415.6 807.7h3.70V816.5h-3.70zM415.6 886.5h3.70V904.0h-3.70zM422.9 764.0h3.70V772.7h-3.70zM426.6 781.5h3.70V790.2h-3.70zM430.3 807.7h3.70V816.5h-3.70zM430.3 825.2h3.70V834.0h-3.70zM430.3 860.2h3.70V869.0h-3.70zM434.0 772.7h3.70V781.5h-3.70zM434.0 807.7h3.70V842.7h-3.70zM434.0 1157.7h3.70V1168.4h-3.70zM437.7 729.0h3.70V737.7h-3.70zM437.7 746.5h3.70V781.5h-3.70zM452.5 755.2h3.70V764.0h-3.70zM452.5 781.5h3.70V790.2h-3.70zM452.5 799.0h3.70V816.5h-3.70zM452.5 834.0h3.70V842.7h-3.70zM456.2 772.7h3.70V799.0h-3.70zM456.2 816.5h3.70V825.2h-3.70zM459.9 755.2h3.70V764.0h-3.70zM459.9 772.7h3.70V790.2h-3.70zM459.9 799.0h3.70V816.5h-3.70zM459.9 982.7h3.70V991.5h-3.70zM463.6 1149.0h3.70V1166.5h-3.70zM467.3 781.5h3.70V799.0h-3.70zM467.3 1157.7h3.70V1168.4h-3.70zM471.0 764.0h3.70V781.5h-3.70zM471.0 816.5h3.70V825.2h-3.70zM474.7 659.0h3.70V667.7h-3.70zM474.7 1166.5h3.70V1168.4h-3.70zM482.1 597.7h3.70V606.5h-3.70zM485.8 667.7h3.70V676.5h-3.70zM496.9 597.7h3.70V606.5h-3.70zM500.6 624.0h3.70V632.7h-3.70zM500.6 676.5h3.70V685.2h-3.70zM500.6 694.0h3.70V702.7h-3.70zM508.0 641.5h3.70V676.5h-3.70zM508.0 685.2h3.70V694.0h-3.70zM508.0 702.7h3.70V720.2h-3.70zM511.7 1166.5h3.70V1168.4h-3.70zM515.4 659.0h3.70V676.5h-3.70zM526.5 624.0h3.70V632.7h-3.70zM533.9 676.5h3.70V685.2h-3.70zM533.9 1157.7h3.70V1168.4h-3.70zM537.6 641.5h3.70V650.2h-3.70zM537.6 667.7h3.70V676.5h-3.70zM537.6 685.2h3.70V711.5h-3.70zM545.0 1157.7h3.70V1166.5h-3.70zM548.7 1157.7h3.70V1168.4h-3.70zM552.4 545.2h3.70V554.0h-3.70zM552.4 562.7h3.70V580.2h-3.70zM552.4 667.7h3.70V685.2h-3.70zM556.1 667.7h3.70V685.2h-3.70zM556.1 694.0h3.70V702.7h-3.70zM556.1 711.5h3.70V720.2h-3.70zM559.8 641.5h3.70V650.2h-3.70zM567.1 702.7h3.70V711.5h-3.70zM570.8 694.0h3.70V702.7h-3.70zM570.8 1052.7h3.70V1061.5h-3.70zM570.8 1140.2h3.70V1166.5h-3.70zM574.5 589.0h3.70V606.5h-3.70zM574.5 624.0h3.70V632.7h-3.70zM574.5 641.5h3.70V659.0h-3.70zM581.9 641.5h3.70V659.0h-3.70zM581.9 764.0h3.70V772.7h-3.70zM585.6 772.7h3.70V781.5h-3.70zM585.6 1149.0h3.70V1157.7h-3.70zM585.6 1166.5h3.70V1168.4h-3.70zM589.3 729.0h3.70V737.7h-3.70zM589.3 1166.5h3.70V1168.4h-3.70zM596.7 650.2h3.70V676.5h-3.70zM600.4 659.0h3.70V667.7h-3.70zM607.8 650.2h3.70V659.0h-3.70zM618.9 720.2h3.70V729.0h-3.70zM626.3 685.2h3.70V711.5h-3.70zM626.3 720.2h3.70V729.0h-3.70zM633.7 685.2h3.70V711.5h-3.70zM637.4 764.0h3.70V772.7h-3.70zM641.1 729.0h3.70V737.7h-3.70zM641.1 1131.5h3.70V1140.2h-3.70zM641.1 1149.0h3.70V1157.7h-3.70zM641.1 1166.5h3.70V1168.4h-3.70zM644.8 702.7h3.70V711.5h-3.70zM644.8 781.5h3.70V790.2h-3.70zM648.5 720.2h3.70V729.0h-3.70zM648.5 737.7h3.70V755.2h-3.70zM652.2 711.5h3.70V737.7h-3.70zM659.6 764.0h3.70V772.7h-3.70zM663.3 737.7h3.70V746.5h-3.70zM670.7 1122.7h3.70V1131.5h-3.70zM685.5 755.2h3.70V772.7h-3.70zM689.2 807.7h3.70V816.5h-3.70zM689.2 1157.7h3.70V1166.5h-3.70zM692.9 799.0h3.70V807.7h-3.70zM696.6 1105.2h3.70V1114.0h-3.70zM711.3 877.7h3.70V886.5h-3.70zM711.3 1166.5h3.70V1168.4h-3.70zM715.0 877.7h3.70V886.5h-3.70zM715.0 1157.7h3.70V1168.4h-3.70zM718.7 772.7h3.70V781.5h-3.70zM718.7 825.2h3.70V834.0h-3.70zM722.4 755.2h3.70V764.0h-3.70zM722.4 1122.7h3.70V1131.5h-3.70zM726.1 816.5h3.70V825.2h-3.70zM726.1 1166.5h3.70V1168.4h-3.70zM733.5 1131.5h3.70V1140.2h-3.70zM737.2 746.5h3.70V755.2h-3.70zM744.6 799.0h3.70V807.7h-3.70zM748.3 772.7h3.70V781.5h-3.70zM748.3 825.2h3.70V834.0h-3.70zM748.3 1079.0h3.70V1096.5h-3.70zM748.3 1105.2h3.70V1122.7h-3.70zM748.3 1131.5h3.70V1149.0h-3.70zM752.0 807.7h3.70V825.2h-3.70zM752.0 851.5h3.70V860.2h-3.70zM752.0 869.0h3.70V877.7h-3.70zM755.7 860.2h3.70V869.0h-3.70zM759.4 1131.5h3.70V1140.2h-3.70zM766.8 790.2h3.70V799.0h-3.70zM766.8 825.2h3.70V834.0h-3.70zM766.8 842.7h3.70V860.2h-3.70zM770.5 825.2h3.70V834.0h-3.70zM770.5 851.5h3.70V860.2h-3.70zM770.5 869.0h3.70V877.7h-3.70zM774.2 816.5h3.70V825.2h-3.70zM774.2 834.0h3.70V842.7h-3.70zM774.2 860.2h3.70V869.0h-3.70zM774.2 1105.2h3.70V1114.0h-3.70zM777.9 886.5h3.70V895.2h-3.70zM777.9 1157.7h3.70V1168.4h-3.70zM781.6 807.7h3.70V816.5h-3.70zM781.6 860.2h3.70V869.0h-3.70zM781.6 1140.2h3.70V1149.0h-3.70zM789.0 825.2h3.70V834.0h-3.70zM789.0 1122.7h3.70V1131.5h-3.70zM796.4 834.0h3.70V842.7h-3.70zM807.5 807.7h3.70V816.5h-3.70zM807.5 1140.2h3.70V1149.0h-3.70zM807.5 1157.7h3.70V1166.5h-3.70zM822.3 790.2h3.70V799.0h-3.70zM822.3 807.7h3.70V816.5h-3.70zM822.3 842.7h3.70V851.5h-3.70zM822.3 1114.0h3.70V1122.7h-3.70zM822.3 1140.2h3.70V1149.0h-3.70zM826.0 825.2h3.70V834.0h-3.70zM829.7 816.5h3.70V825.2h-3.70zM829.7 1166.5h3.70V1168.4h-3.70zM837.1 807.7h3.70V825.2h-3.70zM844.5 772.7h3.70V781.5h-3.70zM855.6 799.0h3.70V807.7h-3.70zM862.9 799.0h3.70V807.7h-3.70zM862.9 1114.0h3.70V1131.5h-3.70zM862.9 1140.2h3.70V1157.7h-3.70zM862.9 1166.5h3.70V1168.4h-3.70zM866.6 1096.5h3.70V1149.0h-3.70zM870.3 790.2h3.70V799.0h-3.70zM874.0 842.7h3.70V851.5h-3.70zM874.0 1061.5h3.70V1070.2h-3.70zM874.0 1105.2h3.70V1122.7h-3.70zM877.7 816.5h3.70V851.5h-3.70zM881.4 807.7h3.70V816.5h-3.70zM885.1 842.7h3.70V851.5h-3.70zM885.1 1087.7h3.70V1122.7h-3.70zM885.1 1131.5h3.70V1140.2h-3.70zM892.5 825.2h3.70V834.0h-3.70zM892.5 1079.0h3.70V1087.7h-3.70zM892.5 1166.5h3.70V1168.4h-3.70zM896.2 816.5h3.70V834.0h-3.70zM896.2 1114.0h3.70V1122.7h-3.70zM896.2 1149.0h3.70V1157.7h-3.70zM899.9 807.7h3.70V834.0h-3.70zM899.9 1105.2h3.70V1114.0h-3.70zM899.9 1122.7h3.70V1131.5h-3.70zM899.9 1140.2h3.70V1149.0h-3.70zM899.9 1157.7h3.70V1166.5h-3.70zM903.6 1105.2h3.70V1122.7h-3.70zM903.6 1149.0h3.70V1157.7h-3.70zM907.3 825.2h3.70V834.0h-3.70zM907.3 1157.7h3.70V1168.4h-3.70zM911.0 807.7h3.70V816.5h-3.70zM911.0 842.7h3.70V851.5h-3.70zM911.0 1105.2h3.70V1122.7h-3.70zM914.7 1096.5h3.70V1114.0h-3.70zM918.4 816.5h3.70V825.2h-3.70zM929.5 1114.0h3.70V1122.7h-3.70zM933.2 781.5h3.70V799.0h-3.70zM933.2 1079.0h3.70V1087.7h-3.70zM936.9 790.2h3.70V807.7h-3.70zM936.9 816.5h3.70V834.0h-3.70zM936.9 851.5h3.70V860.2h-3.70zM936.9 1026.5h3.70V1061.5h-3.70zM940.6 807.7h3.70V816.5h-3.70zM940.6 1079.0h3.70V1087.7h-3.70zM940.6 1096.5h3.70V1105.2h-3.70zM948.0 1087.7h3.70V1096.5h-3.70zM948.0 1105.2h3.70V1114.0h-3.70zM951.7 807.7h3.70V834.0h-3.70zM951.7 1096.5h3.70V1105.2h-3.70zM955.4 772.7h3.70V781.5h-3.70zM955.4 1105.2h3.70V1114.0h-3.70zM962.8 746.5h3.70V781.5h-3.70zM966.5 746.5h3.70V755.2h-3.70zM973.9 781.5h3.70V790.2h-3.70zM981.3 799.0h3.70V807.7h-3.70zM1044.1 982.7h3.70V991.5h-3.70zM1051.5 1017.7h3.70V1026.5h-3.70zM1088.5 667.7h3.70V676.5h-3.70zM1088.5 694.0h3.70V702.7h-3.70zM1088.5 1009.0h3.70V1017.7h-3.70zM1103.3 772.7h3.70V790.2h-3.70zM1103.3 799.0h3.70V816.5h-3.70zM1103.3 834.0h3.70V842.7h-3.70zM1103.3 1000.2h3.70V1009.0h-3.70zM1107.0 729.0h3.70V746.5h-3.70zM1107.0 772.7h3.70V790.2h-3.70zM1110.7 580.2h3.70V589.0h-3.70zM1110.7 632.7h3.70V641.5h-3.70zM1110.7 694.0h3.70V711.5h-3.70zM1110.7 737.7h3.70V746.5h-3.70zM1110.7 1000.2h3.70V1009.0h-3.70zM1118.1 720.2h3.70V729.0h-3.70zM1121.8 641.5h3.70V650.2h-3.70zM1125.5 702.7h3.70V711.5h-3.70zM1129.2 694.0h3.70V702.7h-3.70zM1132.9 851.5h3.70V869.0h-3.70zM1136.6 886.5h3.70V904.0h-3.70zM1140.3 790.2h3.70V799.0h-3.70zM1140.3 842.7h3.70V860.2h-3.70zM1140.3 1035.2h3.70V1044.0h-3.70zM1144.0 659.0h3.70V667.7h-3.70zM1144.0 746.5h3.70V764.0h-3.70zM1144.0 772.7h3.70V781.5h-3.70zM1144.0 807.7h3.70V816.5h-3.70zM1144.0 825.2h3.70V834.0h-3.70zM1144.0 904.0h3.70V912.7h-3.70zM1144.0 974.0h3.70V982.7h-3.70zM1151.3 702.7h3.70V711.5h-3.70zM1151.3 974.0h3.70V982.7h-3.70zM1151.3 1026.5h3.70V1035.2h-3.70zM1155.0 694.0h3.70V711.5h-3.70zM1155.0 729.0h3.70V737.7h-3.70zM1158.7 746.5h3.70V755.2h-3.70zM1158.7 772.7h3.70V790.2h-3.70zM1162.4 729.0h3.70V737.7h-3.70zM1162.4 746.5h3.70V755.2h-3.70zM1162.4 807.7h3.70V816.5h-3.70zM1162.4 974.0h3.70V991.5h-3.70zM1166.1 615.2h3.70V624.0h-3.70zM1166.1 720.2h3.70V755.2h-3.70zM1166.1 939.0h3.70V947.7h-3.70zM1173.5 641.5h3.70V659.0h-3.70zM1173.5 974.0h3.70V982.7h-3.70zM1177.2 711.5h3.70V720.2h-3.70zM1177.2 737.7h3.70V764.0h-3.70zM1177.2 965.2h3.70V974.0h-3.70zM1180.9 650.2h3.70V676.5h-3.70zM1184.6 632.7h3.70V641.5h-3.70zM1184.6 974.0h3.70V982.7h-3.70zM1184.6 991.5h3.70V1000.2h-3.70zM1188.3 685.2h3.70V702.7h-3.70zM1192.0 667.7h3.70V676.5h-3.70zM1195.7 974.0h3.70V982.7h-3.70zM1195.7 1017.7h3.70V1026.5h-3.70zM1203.1 974.0h3.70V982.7h-3.70zM1210.5 650.2h3.70V667.7h-3.70zM1210.5 676.5h3.70V685.2h-3.70zM1210.5 694.0h3.70V702.7h-3.70zM1214.2 720.2h3.70V729.0h-3.70zM1214.2 746.5h3.70V755.2h-3.70zM1214.2 799.0h3.70V807.7h-3.70zM1214.2 816.5h3.70V825.2h-3.70zM1214.2 860.2h3.70V869.0h-3.70zM1214.2 877.7h3.70V886.5h-3.70zM1214.2 956.5h3.70V982.7h-3.70zM1217.9 632.7h3.70V641.5h-3.70zM1217.9 659.0h3.70V676.5h-3.70zM1217.9 685.2h3.70V702.7h-3.70zM1221.6 624.0h3.70V641.5h-3.70zM1225.3 982.7h3.70V991.5h-3.70zM1225.3 1009.0h3.70V1017.7h-3.70zM1229.0 641.5h3.70V659.0h-3.70zM1229.0 685.2h3.70V694.0h-3.70zM1229.0 991.5h3.70V1000.2h-3.70zM1232.7 869.0h3.70V904.0h-3.70zM1232.7 921.5h3.70V930.2h-3.70zM1232.7 1017.7h3.70V1026.5h-3.70zM1236.4 562.7h3.70V615.2h-3.70zM1236.4 991.5h3.70V1000.2h-3.70zM1236.4 1017.7h3.70V1026.5h-3.70zM1243.8 641.5h3.70V650.2h-3.70zM1243.8 982.7h3.70V991.5h-3.70zM1247.5 991.5h3.70V1000.2h-3.70zM1254.9 1017.7h3.70V1026.5h-3.70zM1258.6 615.2h3.70V624.0h-3.70zM1258.6 632.7h3.70V641.5h-3.70zM1258.6 667.7h3.70V676.5h-3.70zM1262.3 694.0h3.70V711.5h-3.70zM1266.0 694.0h3.70V702.7h-3.70zM1266.0 1009.0h3.70V1017.7h-3.70zM1269.7 1000.2h3.70V1009.0h-3.70zM1273.4 667.7h3.70V676.5h-3.70zM1277.1 685.2h3.70V694.0h-3.70zM1280.8 580.2h3.70V589.0h-3.70zM1280.8 632.7h3.70V650.2h-3.70zM1284.5 527.7h3.70V589.0h-3.70zM1288.2 694.0h3.70V702.7h-3.70zM1291.9 624.0h3.70V632.7h-3.70zM1291.9 650.2h3.70V659.0h-3.70zM1291.9 685.2h3.70V694.0h-3.70zM1291.9 991.5h3.70V1000.2h-3.70zM1299.2 562.7h3.70V571.5h-3.70zM1299.2 606.5h3.70V624.0h-3.70zM1299.2 641.5h3.70V650.2h-3.70zM1306.6 562.7h3.70V580.2h-3.70zM1310.3 667.7h3.70V676.5h-3.70zM1310.3 991.5h3.70V1009.0h-3.70zM1314.0 632.7h3.70V650.2h-3.70zM1314.0 1000.2h3.70V1009.0h-3.70zM1317.7 676.5h3.70V685.2h-3.70zM1321.4 589.0h3.70V606.5h-3.70zM1321.4 991.5h3.70V1017.7h-3.70zM1325.1 991.5h3.70V1000.2h-3.70zM1328.8 571.5h3.70V580.2h-3.70zM1328.8 606.5h3.70V624.0h-3.70zM1328.8 1000.2h3.70V1009.0h-3.70zM1332.5 571.5h3.70V580.2h-3.70zM1332.5 606.5h3.70V624.0h-3.70zM1332.5 991.5h3.70V1009.0h-3.70zM1336.2 615.2h3.70V624.0h-3.70zM1336.2 667.7h3.70V685.2h-3.70zM1343.6 641.5h3.70V650.2h-3.70zM1343.6 1017.7h3.70V1026.5h-3.70zM1343.6 1044.0h3.70V1052.7h-3.70zM1351.0 571.5h3.70V580.2h-3.70zM1351.0 589.0h3.70V597.7h-3.70zM1354.7 580.2h3.70V589.0h-3.70zM1358.4 589.0h3.70V597.7h-3.70zM1362.1 501.5h3.70V510.2h-3.70zM1362.1 545.2h3.70V562.7h-3.70zM1362.1 615.2h3.70V632.7h-3.70zM1362.1 650.2h3.70V659.0h-3.70zM1362.1 667.7h3.70V685.2h-3.70zM1365.8 501.5h3.70V510.2h-3.70z"/><path fill="#002cff" d="M197.4 886.5h3.70V895.2h-3.70zM197.4 904.0h3.70V912.7h-3.70zM197.4 921.5h3.70V930.2h-3.70zM197.4 1105.2h3.70V1114.0h-3.70zM197.4 1140.2h3.70V1149.0h-3.70zM201.1 807.7h3.70V825.2h-3.70zM204.8 834.0h3.70V842.7h-3.70zM204.8 947.7h3.70V956.5h-3.70zM204.8 1122.7h3.70V1131.5h-3.70zM208.5 816.5h3.70V825.2h-3.70zM208.5 1149.0h3.70V1157.7h-3.70zM212.2 912.7h3.70V921.5h-3.70zM212.2 1087.7h3.70V1096.5h-3.70zM215.9 842.7h3.70V851.5h-3.70zM215.9 860.2h3.70V869.0h-3.70zM215.9 895.2h3.70V921.5h-3.70zM215.9 1166.5h3.70V1168.4h-3.70zM219.6 790.2h3.70V799.0h-3.70zM219.6 816.5h3.70V825.2h-3.70zM223.3 720.2h3.70V729.0h-3.70zM223.3 825.2h3.70V834.0h-3.70zM227.0 720.2h3.70V737.7h-3.70zM230.7 851.5h3.70V869.0h-3.70zM230.7 886.5h3.70V904.0h-3.70zM249.2 1157.7h3.70V1166.5h-3.70zM271.3 1017.7h3.70V1026.5h-3.70zM275.0 1009.0h3.70V1017.7h-3.70zM278.7 1149.0h3.70V1157.7h-3.70zM278.7 1166.5h3.70V1168.4h-3.70zM282.4 1000.2h3.70V1009.0h-3.70zM282.4 1079.0h3.70V1087.7h-3.70zM282.4 1096.5h3.70V1114.0h-3.70zM282.4 1149.0h3.70V1157.7h-3.70zM293.5 772.7h3.70V781.5h-3.70zM293.5 790.2h3.70V807.7h-3.70zM308.3 650.2h3.70V667.7h-3.70zM337.9 807.7h3.70V825.2h-3.70zM337.9 834.0h3.70V842.7h-3.70zM341.6 781.5h3.70V790.2h-3.70zM345.3 790.2h3.70V799.0h-3.70zM349.0 781.5h3.70V799.0h-3.70zM352.7 510.2h3.70V519.0h-3.70zM352.7 737.7h3.70V755.2h-3.70zM356.4 729.0h3.70V755.2h-3.70zM356.4 772.7h3.70V799.0h-3.70zM356.4 807.7h3.70V825.2h-3.70zM360.1 720.2h3.70V729.0h-3.70zM360.1 755.2h3.70V764.0h-3.70zM360.1 799.0h3.70V807.7h-3.70zM367.5 1035.2h3.70V1044.0h-3.70zM367.5 1079.0h3.70V1087.7h-3.70zM367.5 1114.0h3.70V1122.7h-3.70zM371.2 764.0h3.70V781.5h-3.70zM378.6 886.5h3.70V904.0h-3.70zM382.3 729.0h3.70V755.2h-3.70zM386.0 772.7h3.70V790.2h-3.70zM389.7 772.7h3.70V790.2h-3.70zM389.7 799.0h3.70V807.7h-3.70zM389.7 816.5h3.70V825.2h-3.70zM393.4 755.2h3.70V764.0h-3.70zM397.1 799.0h3.70V825.2h-3.70zM397.1 834.0h3.70V860.2h-3.70zM397.1 1009.0h3.70V1026.5h-3.70zM400.8 877.7h3.70V886.5h-3.70zM400.8 895.2h3.70V904.0h-3.70zM400.8 921.5h3.70V939.0h-3.70zM404.5 842.7h3.70V851.5h-3.70zM408.2 939.0h3.70V947.7h-3.70zM408.2 974.0h3.70V982.7h-3.70zM408.2 1166.5h3.70V1168.4h-3.70zM411.9 1149.0h3.70V1157.7h-3.70zM415.6 904.0h3.70V921.5h-3.70zM415.6 956.5h3.70V965.2h-3.70zM415.6 1070.2h3.70V1079.0h-3.70zM419.2 807.7h3.70V816.5h-3.70zM422.9 772.7h3.70V781.5h-3.70zM422.9 851.5h3.70V869.0h-3.70zM426.6 799.0h3.70V807.7h-3.70zM434.0 799.0h3.70V807.7h-3.70zM434.0 851.5h3.70V860.2h-3.70zM437.7 781.5h3.70V790.2h-3.70zM437.7 799.0h3.70V807.7h-3.70zM445.1 764.0h3.70V781.5h-3.70zM452.5 772.7h3.70V781.5h-3.70zM452.5 790.2h3.70V799.0h-3.70zM452.5 842.7h3.70V851.5h-3.70zM452.5 1149.0h3.70V1168.4h-3.70zM456.2 799.0h3.70V816.5h-3.70zM456.2 825.2h3.70V834.0h-3.70zM459.9 790.2h3.70V799.0h-3.70zM459.9 816.5h3.70V834.0h-3.70zM459.9 851.5h3.70V860.2h-3.70zM459.9 869.0h3.70V877.7h-3.70zM459.9 1105.2h3.70V1114.0h-3.70zM467.3 799.0h3.70V807.7h-3.70zM471.0 781.5h3.70V816.5h-3.70zM471.0 842.7h3.70V860.2h-3.70zM471.0 956.5h3.70V965.2h-3.70zM474.7 1140.2h3.70V1166.5h-3.70zM478.4 667.7h3.70V676.5h-3.70zM482.1 650.2h3.70V659.0h-3.70zM485.8 641.5h3.70V667.7h-3.70zM485.8 676.5h3.70V702.7h-3.70zM489.5 632.7h3.70V650.2h-3.70zM496.9 720.2h3.70V729.0h-3.70zM500.6 702.7h3.70V711.5h-3.70zM504.3 624.0h3.70V632.7h-3.70zM508.0 676.5h3.70V685.2h-3.70zM508.0 694.0h3.70V702.7h-3.70zM508.0 720.2h3.70V737.7h-3.70zM508.0 1166.5h3.70V1168.4h-3.70zM511.7 632.7h3.70V641.5h-3.70zM511.7 1157.7h3.70V1166.5h-3.70zM515.4 676.5h3.70V685.2h-3.70zM515.4 1122.7h3.70V1149.0h-3.70zM530.2 597.7h3.70V606.5h-3.70zM530.2 650.2h3.70V659.0h-3.70zM530.2 1131.5h3.70V1140.2h-3.70zM530.2 1166.5h3.70V1168.4h-3.70zM533.9 694.0h3.70V702.7h-3.70zM533.9 1070.2h3.70V1079.0h-3.70zM533.9 1149.0h3.70V1157.7h-3.70zM541.3 694.0h3.70V720.2h-3.70zM541.3 1114.0h3.70V1122.7h-3.70zM545.0 597.7h3.70V606.5h-3.70zM545.0 1149.0h3.70V1157.7h-3.70zM545.0 1166.5h3.70V1168.4h-3.70zM548.7 650.2h3.70V659.0h-3.70zM548.7 702.7h3.70V711.5h-3.70zM548.7 1149.0h3.70V1157.7h-3.70zM552.4 685.2h3.70V694.0h-3.70zM556.1 702.7h3.70V711.5h-3.70zM556.1 720.2h3.70V729.0h-3.70zM556.1 1140.2h3.70V1166.5h-3.70zM559.8 650.2h3.70V659.0h-3.70zM563.5 641.5h3.70V650.2h-3.70zM563.5 1122.7h3.70V1149.0h-3.70zM567.1 650.2h3.70V659.0h-3.70zM567.1 711.5h3.70V720.2h-3.70zM570.8 641.5h3.70V650.2h-3.70zM570.8 702.7h3.70V711.5h-3.70zM570.8 974.0h3.70V982.7h-3.70zM570.8 1044.0h3.70V1052.7h-3.70zM570.8 1114.0h3.70V1131.5h-3.70zM578.2 606.5h3.70V615.2h-3.70zM581.9 1166.5h3.70V1168.4h-3.70zM585.6 650.2h3.70V659.0h-3.70zM585.6 781.5h3.70V790.2h-3.70zM585.6 1140.2h3.70V1149.0h-3.70zM585.6 1157.7h3.70V1166.5h-3.70zM589.3 667.7h3.70V676.5h-3.70zM589.3 1149.0h3.70V1157.7h-3.70zM596.7 702.7h3.70V711.5h-3.70zM600.4 676.5h3.70V694.0h-3.70zM600.4 702.7h3.70V711.5h-3.70zM611.5 1157.7h3.70V1166.5h-3.70zM615.2 676.5h3.70V685.2h-3.70zM615.2 702.7h3.70V729.0h-3.70zM615.2 737.7h3.70V755.2h-3.70zM618.9 711.5h3.70V720.2h-3.70zM618.9 729.0h3.70V764.0h-3.70zM618.9 1140.2h3.70V1149.0h-3.70zM622.6 694.0h3.70V702.7h-3.70zM622.6 711.5h3.70V720.2h-3.70zM626.3 711.5h3.70V720.2h-3.70zM626.3 790.2h3.70V799.0h-3.70zM633.7 676.5h3.70V685.2h-3.70zM633.7 711.5h3.70V720.2h-3.70zM633.7 729.0h3.70V737.7h-3.70zM637.4 702.7h3.70V711.5h-3.70zM637.4 772.7h3.70V790.2h-3.70zM641.1 737.7h3.70V755.2h-3.70zM641.1 1105.2h3.70V1122.7h-3.70zM644.8 790.2h3.70V799.0h-3.70zM644.8 1166.5h3.70V1168.4h-3.70zM648.5 729.0h3.70V737.7h-3.70zM648.5 755.2h3.70V764.0h-3.70zM652.2 685.2h3.70V702.7h-3.70zM652.2 764.0h3.70V772.7h-3.70zM652.2 1140.2h3.70V1157.7h-3.70zM655.9 772.7h3.70V781.5h-3.70zM659.6 729.0h3.70V737.7h-3.70zM659.6 772.7h3.70V790.2h-3.70zM659.6 1166.5h3.70V1168.4h-3.70zM663.3 746.5h3.70V755.2h-3.70zM663.3 764.0h3.70V772.7h-3.70zM663.3 1131.5h3.70V1140.2h-3.70zM674.4 1079.0h3.70V1087.7h-3.70zM681.8 912.7h3.70V921.5h-3.70zM681.8 1122.7h3.70V1131.5h-3.70zM685.5 772.7h3.70V790.2h-3.70zM685.5 799.0h3.70V816.5h-3.70zM689.2 816.5h3.70V825.2h-3.70zM689.2 851.5h3.70V869.0h-3.70zM689.2 1122.7h3.70V1149.0h-3.70zM692.9 807.7h3.70V851.5h-3.70zM692.9 1105.2h3.70V1114.0h-3.70zM696.6 1096.5h3.70V1105.2h-3.70zM700.3 1149.0h3.70V1157.7h-3.70zM704.0 895.2h3.70V904.0h-3.70zM711.3 886.5h3.70V895.2h-3.70zM715.0 886.5h3.70V895.2h-3.70zM718.7 781.5h3.70V807.7h-3.70zM722.4 860.2h3.70V877.7h-3.70zM726.1 825.2h3.70V834.0h-3.70zM726.1 842.7h3.70V869.0h-3.70zM726.1 1157.7h3.70V1166.5h-3.70zM729.8 772.7h3.70V781.5h-3.70zM733.5 746.5h3.70V755.2h-3.70zM733.5 1122.7h3.70V1131.5h-3.70zM737.2 755.2h3.70V772.7h-3.70zM740.9 729.0h3.70V746.5h-3.70zM744.6 807.7h3.70V825.2h-3.70zM744.6 1096.5h3.70V1140.2h-3.70zM748.3 755.2h3.70V764.0h-3.70zM748.3 816.5h3.70V825.2h-3.70zM748.3 1070.2h3.70V1079.0h-3.70zM748.3 1122.7h3.70V1131.5h-3.70zM752.0 825.2h3.70V851.5h-3.70zM752.0 860.2h3.70V869.0h-3.70zM752.0 1157.7h3.70V1166.5h-3.70zM755.7 851.5h3.70V860.2h-3.70zM755.7 869.0h3.70V877.7h-3.70zM755.7 1131.5h3.70V1140.2h-3.70zM755.7 1157.7h3.70V1168.4h-3.70zM763.1 790.2h3.70V807.7h-3.70zM763.1 1166.5h3.70V1168.4h-3.70zM766.8 799.0h3.70V816.5h-3.70zM766.8 834.0h3.70V842.7h-3.70zM766.8 1114.0h3.70V1166.5h-3.70zM770.5 877.7h3.70V895.2h-3.70zM774.2 869.0h3.70V895.2h-3.70zM774.2 1096.5h3.70V1105.2h-3.70zM777.9 895.2h3.70V904.0h-3.70zM777.9 1149.0h3.70V1157.7h-3.70zM781.6 825.2h3.70V834.0h-3.70zM781.6 851.5h3.70V860.2h-3.70zM781.6 869.0h3.70V895.2h-3.70zM781.6 1131.5h3.70V1140.2h-3.70zM785.3 842.7h3.70V851.5h-3.70zM789.0 834.0h3.70V851.5h-3.70zM789.0 1114.0h3.70V1122.7h-3.70zM792.7 834.0h3.70V842.7h-3.70zM792.7 1157.7h3.70V1168.4h-3.70zM796.4 842.7h3.70V851.5h-3.70zM803.8 825.2h3.70V842.7h-3.70zM807.5 1122.7h3.70V1131.5h-3.70zM807.5 1149.0h3.70V1157.7h-3.70zM811.2 1131.5h3.70V1140.2h-3.70zM818.6 842.7h3.70V851.5h-3.70zM818.6 1122.7h3.70V1131.5h-3.70zM818.6 1140.2h3.70V1149.0h-3.70zM822.3 799.0h3.70V807.7h-3.70zM822.3 851.5h3.70V869.0h-3.70zM822.3 1105.2h3.70V1114.0h-3.70zM822.3 1122.7h3.70V1140.2h-3.70zM822.3 1157.7h3.70V1166.5h-3.70zM826.0 1166.5h3.70V1168.4h-3.70zM829.7 807.7h3.70V816.5h-3.70zM833.4 807.7h3.70V816.5h-3.70zM833.4 1149.0h3.70V1157.7h-3.70zM837.1 825.2h3.70V842.7h-3.70zM837.1 1131.5h3.70V1166.5h-3.70zM840.8 799.0h3.70V816.5h-3.70zM840.8 1131.5h3.70V1157.7h-3.70zM844.5 781.5h3.70V799.0h-3.70zM844.5 1166.5h3.70V1168.4h-3.70zM848.2 764.0h3.70V790.2h-3.70zM848.2 1157.7h3.70V1166.5h-3.70zM851.9 755.2h3.70V764.0h-3.70zM851.9 1105.2h3.70V1114.0h-3.70zM851.9 1157.7h3.70V1166.5h-3.70zM855.6 772.7h3.70V781.5h-3.70zM855.6 790.2h3.70V799.0h-3.70zM859.2 842.7h3.70V851.5h-3.70zM859.2 1149.0h3.70V1166.5h-3.70zM862.9 1052.7h3.70V1061.5h-3.70zM862.9 1070.2h3.70V1087.7h-3.70zM862.9 1131.5h3.70V1140.2h-3.70zM866.6 834.0h3.70V842.7h-3.70zM866.6 1070.2h3.70V1096.5h-3.70zM870.3 799.0h3.70V816.5h-3.70zM870.3 1157.7h3.70V1168.4h-3.70zM874.0 851.5h3.70V860.2h-3.70zM874.0 1052.7h3.70V1061.5h-3.70zM877.7 851.5h3.70V869.0h-3.70zM881.4 816.5h3.70V825.2h-3.70zM881.4 1157.7h3.70V1166.5h-3.70zM885.1 851.5h3.70V860.2h-3.70zM885.1 1070.2h3.70V1087.7h-3.70zM885.1 1166.5h3.70V1168.4h-3.70zM888.8 1157.7h3.70V1166.5h-3.70zM892.5 816.5h3.70V825.2h-3.70zM892.5 842.7h3.70V851.5h-3.70zM892.5 1044.0h3.70V1052.7h-3.70zM892.5 1061.5h3.70V1079.0h-3.70zM896.2 842.7h3.70V851.5h-3.70zM896.2 1096.5h3.70V1105.2h-3.70zM896.2 1157.7h3.70V1168.4h-3.70zM899.9 834.0h3.70V842.7h-3.70zM899.9 1079.0h3.70V1087.7h-3.70zM899.9 1096.5h3.70V1105.2h-3.70zM899.9 1114.0h3.70V1122.7h-3.70zM903.6 1079.0h3.70V1105.2h-3.70zM903.6 1122.7h3.70V1149.0h-3.70zM903.6 1157.7h3.70V1168.4h-3.70zM907.3 1096.5h3.70V1105.2h-3.70zM907.3 1122.7h3.70V1131.5h-3.70zM907.3 1140.2h3.70V1157.7h-3.70zM911.0 816.5h3.70V825.2h-3.70zM911.0 851.5h3.70V860.2h-3.70zM911.0 1122.7h3.70V1149.0h-3.70zM914.7 807.7h3.70V816.5h-3.70zM914.7 1079.0h3.70V1096.5h-3.70zM922.1 799.0h3.70V816.5h-3.70zM922.1 1096.5h3.70V1105.2h-3.70zM922.1 1114.0h3.70V1140.2h-3.70zM922.1 1157.7h3.70V1168.4h-3.70zM929.5 869.0h3.70V877.7h-3.70zM929.5 1105.2h3.70V1114.0h-3.70zM929.5 1166.5h3.70V1168.4h-3.70zM933.2 799.0h3.70V816.5h-3.70zM933.2 877.7h3.70V886.5h-3.70zM936.9 807.7h3.70V816.5h-3.70zM936.9 860.2h3.70V869.0h-3.70zM940.6 816.5h3.70V825.2h-3.70zM940.6 1087.7h3.70V1096.5h-3.70zM948.0 772.7h3.70V781.5h-3.70zM948.0 1079.0h3.70V1087.7h-3.70zM951.7 1087.7h3.70V1096.5h-3.70zM955.4 781.5h3.70V790.2h-3.70zM962.8 781.5h3.70V790.2h-3.70zM962.8 799.0h3.70V807.7h-3.70zM966.5 737.7h3.70V746.5h-3.70zM966.5 755.2h3.70V764.0h-3.70zM970.2 764.0h3.70V772.7h-3.70zM973.9 1035.2h3.70V1061.5h-3.70zM981.3 807.7h3.70V816.5h-3.70zM985.0 772.7h3.70V781.5h-3.70zM996.1 790.2h3.70V799.0h-3.70zM1003.4 947.7h3.70V956.5h-3.70zM1025.6 956.5h3.70V965.2h-3.70zM1088.5 702.7h3.70V711.5h-3.70zM1088.5 1000.2h3.70V1009.0h-3.70zM1095.9 991.5h3.70V1000.2h-3.70zM1099.6 816.5h3.70V825.2h-3.70zM1103.3 860.2h3.70V869.0h-3.70zM1103.3 1009.0h3.70V1017.7h-3.70zM1107.0 746.5h3.70V755.2h-3.70zM1107.0 764.0h3.70V772.7h-3.70zM1107.0 790.2h3.70V799.0h-3.70zM1110.7 711.5h3.70V737.7h-3.70zM1110.7 746.5h3.70V755.2h-3.70zM1118.1 729.0h3.70V737.7h-3.70zM1121.8 667.7h3.70V685.2h-3.70zM1121.8 1017.7h3.70V1026.5h-3.70zM1125.5 694.0h3.70V702.7h-3.70zM1125.5 711.5h3.70V737.7h-3.70zM1129.2 685.2h3.70V694.0h-3.70zM1132.9 869.0h3.70V877.7h-3.70zM1132.9 982.7h3.70V991.5h-3.70zM1136.6 799.0h3.70V816.5h-3.70zM1136.6 877.7h3.70V886.5h-3.70zM1136.6 904.0h3.70V912.7h-3.70zM1140.3 825.2h3.70V842.7h-3.70zM1144.0 729.0h3.70V746.5h-3.70zM1144.0 764.0h3.70V772.7h-3.70zM1144.0 781.5h3.70V799.0h-3.70zM1144.0 816.5h3.70V825.2h-3.70zM1144.0 886.5h3.70V904.0h-3.70zM1144.0 965.2h3.70V974.0h-3.70zM1144.0 991.5h3.70V1000.2h-3.70zM1147.7 676.5h3.70V685.2h-3.70zM1151.3 711.5h3.70V720.2h-3.70zM1151.3 1000.2h3.70V1009.0h-3.70zM1155.0 711.5h3.70V729.0h-3.70zM1155.0 737.7h3.70V764.0h-3.70zM1158.7 755.2h3.70V772.7h-3.70zM1158.7 790.2h3.70V799.0h-3.70zM1158.7 807.7h3.70V816.5h-3.70zM1162.4 737.7h3.70V746.5h-3.70zM1162.4 755.2h3.70V807.7h-3.70zM1162.4 991.5h3.70V1017.7h-3.70zM1166.1 921.5h3.70V939.0h-3.70zM1169.8 632.7h3.70V641.5h-3.70zM1173.5 659.0h3.70V667.7h-3.70zM1173.5 965.2h3.70V974.0h-3.70zM1177.2 720.2h3.70V729.0h-3.70zM1177.2 790.2h3.70V816.5h-3.70zM1180.9 676.5h3.70V694.0h-3.70zM1180.9 895.2h3.70V904.0h-3.70zM1180.9 974.0h3.70V982.7h-3.70zM1184.6 982.7h3.70V991.5h-3.70zM1184.6 1000.2h3.70V1009.0h-3.70zM1188.3 676.5h3.70V685.2h-3.70zM1188.3 702.7h3.70V711.5h-3.70zM1188.3 974.0h3.70V991.5h-3.70zM1192.0 676.5h3.70V694.0h-3.70zM1195.7 1009.0h3.70V1017.7h-3.70zM1199.4 659.0h3.70V667.7h-3.70zM1203.1 650.2h3.70V659.0h-3.70zM1206.8 676.5h3.70V702.7h-3.70zM1206.8 711.5h3.70V729.0h-3.70zM1206.8 974.0h3.70V991.5h-3.70zM1210.5 702.7h3.70V711.5h-3.70zM1214.2 729.0h3.70V746.5h-3.70zM1214.2 772.7h3.70V799.0h-3.70zM1214.2 807.7h3.70V816.5h-3.70zM1214.2 825.2h3.70V860.2h-3.70zM1214.2 886.5h3.70V904.0h-3.70zM1214.2 912.7h3.70V921.5h-3.70zM1214.2 930.2h3.70V956.5h-3.70zM1217.9 676.5h3.70V685.2h-3.70zM1221.6 615.2h3.70V624.0h-3.70zM1221.6 641.5h3.70V659.0h-3.70zM1225.3 624.0h3.70V632.7h-3.70zM1225.3 974.0h3.70V982.7h-3.70zM1225.3 1044.0h3.70V1052.7h-3.70zM1229.0 659.0h3.70V676.5h-3.70zM1232.7 624.0h3.70V632.7h-3.70zM1232.7 737.7h3.70V755.2h-3.70zM1232.7 904.0h3.70V921.5h-3.70zM1232.7 939.0h3.70V947.7h-3.70zM1232.7 1009.0h3.70V1017.7h-3.70zM1236.4 939.0h3.70V947.7h-3.70zM1240.1 632.7h3.70V641.5h-3.70zM1240.1 694.0h3.70V720.2h-3.70zM1243.8 632.7h3.70V641.5h-3.70zM1243.8 650.2h3.70V659.0h-3.70zM1247.5 650.2h3.70V667.7h-3.70zM1247.5 982.7h3.70V991.5h-3.70zM1247.5 1009.0h3.70V1017.7h-3.70zM1251.2 580.2h3.70V589.0h-3.70zM1254.9 580.2h3.70V589.0h-3.70zM1254.9 982.7h3.70V991.5h-3.70zM1258.6 624.0h3.70V632.7h-3.70zM1258.6 641.5h3.70V650.2h-3.70zM1258.6 676.5h3.70V694.0h-3.70zM1266.0 702.7h3.70V711.5h-3.70zM1266.0 991.5h3.70V1000.2h-3.70zM1269.7 624.0h3.70V632.7h-3.70zM1269.7 641.5h3.70V650.2h-3.70zM1269.7 659.0h3.70V667.7h-3.70zM1269.7 676.5h3.70V694.0h-3.70zM1269.7 1017.7h3.70V1026.5h-3.70zM1273.4 685.2h3.70V702.7h-3.70zM1273.4 982.7h3.70V991.5h-3.70zM1277.1 694.0h3.70V702.7h-3.70zM1280.8 650.2h3.70V659.0h-3.70zM1280.8 676.5h3.70V685.2h-3.70zM1284.5 869.0h3.70V895.2h-3.70zM1284.5 1044.0h3.70V1052.7h-3.70zM1288.2 711.5h3.70V720.2h-3.70zM1288.2 904.0h3.70V930.2h-3.70zM1288.2 974.0h3.70V982.7h-3.70zM1288.2 1000.2h3.70V1009.0h-3.70zM1291.9 667.7h3.70V685.2h-3.70zM1291.9 711.5h3.70V737.7h-3.70zM1295.6 571.5h3.70V580.2h-3.70zM1295.6 641.5h3.70V650.2h-3.70zM1299.2 554.0h3.70V562.7h-3.70zM1299.2 571.5h3.70V580.2h-3.70zM1299.2 624.0h3.70V641.5h-3.70zM1299.2 659.0h3.70V667.7h-3.70zM1299.2 991.5h3.70V1000.2h-3.70zM1302.9 641.5h3.70V659.0h-3.70zM1306.6 597.7h3.70V606.5h-3.70zM1310.3 676.5h3.70V685.2h-3.70zM1317.7 641.5h3.70V659.0h-3.70zM1317.7 667.7h3.70V676.5h-3.70zM1317.7 1026.5h3.70V1035.2h-3.70zM1321.4 562.7h3.70V571.5h-3.70zM1321.4 615.2h3.70V624.0h-3.70zM1325.1 1000.2h3.70V1009.0h-3.70zM1325.1 1017.7h3.70V1026.5h-3.70zM1328.8 624.0h3.70V632.7h-3.70zM1332.5 597.7h3.70V606.5h-3.70zM1332.5 632.7h3.70V641.5h-3.70zM1332.5 650.2h3.70V659.0h-3.70zM1332.5 667.7h3.70V694.0h-3.70zM1332.5 1052.7h3.70V1061.5h-3.70zM1336.2 632.7h3.70V667.7h-3.70zM1336.2 694.0h3.70V711.5h-3.70zM1339.9 571.5h3.70V580.2h-3.70zM1343.6 650.2h3.70V667.7h-3.70zM1347.3 580.2h3.70V597.7h-3.70zM1347.3 1035.2h3.70V1044.0h-3.70zM1351.0 580.2h3.70V589.0h-3.70zM1351.0 606.5h3.70V615.2h-3.70zM1358.4 597.7h3.70V606.5h-3.70zM1358.4 624.0h3.70V641.5h-3.70zM1358.4 650.2h3.70V667.7h-3.70zM1362.1 632.7h3.70V650.2h-3.70zM1362.1 685.2h3.70V694.0h-3.70zM1362.1 1000.2h3.70V1009.0h-3.70zM1365.8 562.7h3.70V571.5h-3.70zM1365.8 632.7h3.70V641.5h-3.70zM1365.8 650.2h3.70V667.7h-3.70z"/><path fill="#0037ff" d="M197.4 912.7h3.70V921.5h-3.70zM197.4 930.2h3.70V939.0h-3.70zM197.4 956.5h3.70V965.2h-3.70zM197.4 1000.2h3.70V1026.5h-3.70zM197.4 1114.0h3.70V1122.7h-3.70zM197.4 1157.7h3.70V1166.5h-3.70zM201.1 860.2h3.70V869.0h-3.70zM201.1 1017.7h3.70V1035.2h-3.70zM201.1 1166.5h3.70V1168.4h-3.70zM204.8 842.7h3.70V851.5h-3.70zM204.8 860.2h3.70V869.0h-3.70zM204.8 877.7h3.70V886.5h-3.70zM204.8 921.5h3.70V947.7h-3.70zM204.8 956.5h3.70V965.2h-3.70zM208.5 825.2h3.70V834.0h-3.70zM208.5 860.2h3.70V869.0h-3.70zM208.5 877.7h3.70V886.5h-3.70zM208.5 965.2h3.70V1000.2h-3.70zM208.5 1131.5h3.70V1149.0h-3.70zM212.2 851.5h3.70V869.0h-3.70zM212.2 877.7h3.70V886.5h-3.70zM212.2 895.2h3.70V904.0h-3.70zM212.2 930.2h3.70V939.0h-3.70zM212.2 1105.2h3.70V1114.0h-3.70zM215.9 851.5h3.70V860.2h-3.70zM215.9 869.0h3.70V895.2h-3.70zM215.9 1149.0h3.70V1157.7h-3.70zM219.6 1061.5h3.70V1087.7h-3.70zM219.6 1114.0h3.70V1131.5h-3.70zM223.3 711.5h3.70V720.2h-3.70zM223.3 729.0h3.70V764.0h-3.70zM223.3 772.7h3.70V781.5h-3.70zM227.0 737.7h3.70V746.5h-3.70zM227.0 1122.7h3.70V1131.5h-3.70zM230.7 869.0h3.70V877.7h-3.70zM234.4 1044.0h3.70V1052.7h-3.70zM238.1 877.7h3.70V886.5h-3.70zM252.9 877.7h3.70V886.5h-3.70zM252.9 956.5h3.70V965.2h-3.70zM271.3 1026.5h3.70V1044.0h-3.70zM275.0 1149.0h3.70V1157.7h-3.70zM278.7 982.7h3.70V1000.2h-3.70zM278.7 1140.2h3.70V1149.0h-3.70zM278.7 1157.7h3.70V1166.5h-3.70zM282.4 991.5h3.70V1000.2h-3.70zM282.4 1009.0h3.70V1017.7h-3.70zM282.4 1061.5h3.70V1079.0h-3.70zM282.4 1087.7h3.70V1096.5h-3.70zM282.4 1114.0h3.70V1149.0h-3.70zM297.2 764.0h3.70V772.7h-3.70zM304.6 764.0h3.70V772.7h-3.70zM308.3 667.7h3.70V676.5h-3.70zM334.2 930.2h3.70V939.0h-3.70zM334.2 1131.5h3.70V1140.2h-3.70zM337.9 825.2h3.70V834.0h-3.70zM337.9 842.7h3.70V877.7h-3.70zM337.9 921.5h3.70V930.2h-3.70zM341.6 799.0h3.70V807.7h-3.70zM345.3 781.5h3.70V790.2h-3.70zM345.3 799.0h3.70V816.5h-3.70zM349.0 799.0h3.70V807.7h-3.70zM349.0 1114.0h3.70V1122.7h-3.70zM352.7 790.2h3.70V799.0h-3.70zM352.7 807.7h3.70V816.5h-3.70zM356.4 825.2h3.70V834.0h-3.70zM363.8 816.5h3.70V825.2h-3.70zM363.8 947.7h3.70V991.5h-3.70zM367.5 816.5h3.70V834.0h-3.70zM367.5 869.0h3.70V877.7h-3.70zM367.5 895.2h3.70V904.0h-3.70zM371.2 781.5h3.70V790.2h-3.70zM371.2 1044.0h3.70V1052.7h-3.70zM371.2 1079.0h3.70V1087.7h-3.70zM374.9 816.5h3.70V825.2h-3.70zM378.6 860.2h3.70V869.0h-3.70zM378.6 904.0h3.70V921.5h-3.70zM378.6 939.0h3.70V947.7h-3.70zM386.0 790.2h3.70V799.0h-3.70zM386.0 1044.0h3.70V1052.7h-3.70zM389.7 807.7h3.70V816.5h-3.70zM389.7 825.2h3.70V834.0h-3.70zM393.4 772.7h3.70V790.2h-3.70zM393.4 834.0h3.70V842.7h-3.70zM393.4 851.5h3.70V869.0h-3.70zM397.1 860.2h3.70V869.0h-3.70zM397.1 1035.2h3.70V1044.0h-3.70zM397.1 1070.2h3.70V1079.0h-3.70zM397.1 1114.0h3.70V1122.7h-3.70zM400.8 939.0h3.70V947.7h-3.70zM400.8 1096.5h3.70V1105.2h-3.70zM404.5 851.5h3.70V877.7h-3.70zM411.9 1026.5h3.70V1035.2h-3.70zM415.6 947.7h3.70V956.5h-3.70zM415.6 965.2h3.70V974.0h-3.70zM419.2 816.5h3.70V825.2h-3.70zM419.2 851.5h3.70V860.2h-3.70zM419.2 895.2h3.70V904.0h-3.70zM422.9 816.5h3.70V834.0h-3.70zM422.9 842.7h3.70V851.5h-3.70zM426.6 842.7h3.70V851.5h-3.70zM430.3 869.0h3.70V904.0h-3.70zM434.0 781.5h3.70V799.0h-3.70zM434.0 860.2h3.70V869.0h-3.70zM434.0 877.7h3.70V886.5h-3.70zM434.0 1131.5h3.70V1140.2h-3.70zM437.7 790.2h3.70V799.0h-3.70zM437.7 807.7h3.70V816.5h-3.70zM437.7 869.0h3.70V877.7h-3.70zM437.7 1166.5h3.70V1168.4h-3.70zM441.4 764.0h3.70V772.7h-3.70zM445.1 1157.7h3.70V1166.5h-3.70zM452.5 851.5h3.70V860.2h-3.70zM452.5 869.0h3.70V877.7h-3.70zM452.5 886.5h3.70V895.2h-3.70zM452.5 1000.2h3.70V1009.0h-3.70zM452.5 1052.7h3.70V1061.5h-3.70zM452.5 1079.0h3.70V1087.7h-3.70zM452.5 1096.5h3.70V1105.2h-3.70zM452.5 1131.5h3.70V1140.2h-3.70zM456.2 834.0h3.70V842.7h-3.70zM456.2 947.7h3.70V974.0h-3.70zM456.2 1131.5h3.70V1140.2h-3.70zM456.2 1149.0h3.70V1166.5h-3.70zM459.9 834.0h3.70V851.5h-3.70zM459.9 860.2h3.70V869.0h-3.70zM459.9 877.7h3.70V895.2h-3.70zM459.9 974.0h3.70V982.7h-3.70zM459.9 1009.0h3.70V1017.7h-3.70zM459.9 1079.0h3.70V1096.5h-3.70zM459.9 1149.0h3.70V1157.7h-3.70zM463.6 764.0h3.70V781.5h-3.70zM463.6 842.7h3.70V851.5h-3.70zM463.6 1122.7h3.70V1131.5h-3.70zM467.3 764.0h3.70V781.5h-3.70zM467.3 825.2h3.70V834.0h-3.70zM467.3 842.7h3.70V860.2h-3.70zM471.0 825.2h3.70V842.7h-3.70zM471.0 860.2h3.70V904.0h-3.70zM471.0 965.2h3.70V1009.0h-3.70zM471.0 1044.0h3.70V1061.5h-3.70zM474.7 667.7h3.70V676.5h-3.70zM478.4 659.0h3.70V667.7h-3.70zM478.4 676.5h3.70V685.2h-3.70zM485.8 702.7h3.70V711.5h-3.70zM489.5 650.2h3.70V659.0h-3.70zM493.2 624.0h3.70V632.7h-3.70zM493.2 641.5h3.70V659.0h-3.70zM493.2 685.2h3.70V702.7h-3.70zM496.9 729.0h3.70V737.7h-3.70zM500.6 711.5h3.70V720.2h-3.70zM504.3 641.5h3.70V650.2h-3.70zM504.3 694.0h3.70V702.7h-3.70zM508.0 615.2h3.70V632.7h-3.70zM508.0 737.7h3.70V746.5h-3.70zM511.7 641.5h3.70V650.2h-3.70zM511.7 659.0h3.70V694.0h-3.70zM511.7 702.7h3.70V720.2h-3.70zM511.7 1149.0h3.70V1157.7h-3.70zM515.4 1096.5h3.70V1122.7h-3.70zM522.8 632.7h3.70V641.5h-3.70zM526.5 615.2h3.70V624.0h-3.70zM530.2 659.0h3.70V676.5h-3.70zM530.2 1114.0h3.70V1131.5h-3.70zM530.2 1140.2h3.70V1166.5h-3.70zM533.9 685.2h3.70V694.0h-3.70zM533.9 702.7h3.70V737.7h-3.70zM533.9 1052.7h3.70V1061.5h-3.70zM537.6 711.5h3.70V720.2h-3.70zM537.6 1166.5h3.70V1168.4h-3.70zM541.3 729.0h3.70V737.7h-3.70zM545.0 580.2h3.70V589.0h-3.70zM545.0 1061.5h3.70V1079.0h-3.70zM545.0 1096.5h3.70V1105.2h-3.70zM545.0 1122.7h3.70V1131.5h-3.70zM545.0 1140.2h3.70V1149.0h-3.70zM548.7 1140.2h3.70V1149.0h-3.70zM552.4 694.0h3.70V720.2h-3.70zM552.4 729.0h3.70V737.7h-3.70zM552.4 1009.0h3.70V1017.7h-3.70zM552.4 1035.2h3.70V1061.5h-3.70zM556.1 729.0h3.70V737.7h-3.70zM556.1 746.5h3.70V764.0h-3.70zM556.1 772.7h3.70V781.5h-3.70zM559.8 659.0h3.70V685.2h-3.70zM563.5 1105.2h3.70V1122.7h-3.70zM563.5 1149.0h3.70V1157.7h-3.70zM563.5 1166.5h3.70V1168.4h-3.70zM567.1 641.5h3.70V650.2h-3.70zM567.1 720.2h3.70V729.0h-3.70zM570.8 711.5h3.70V720.2h-3.70zM570.8 729.0h3.70V755.2h-3.70zM570.8 965.2h3.70V974.0h-3.70zM570.8 982.7h3.70V1044.0h-3.70zM570.8 1061.5h3.70V1070.2h-3.70zM570.8 1079.0h3.70V1114.0h-3.70zM570.8 1131.5h3.70V1140.2h-3.70zM578.2 615.2h3.70V632.7h-3.70zM578.2 650.2h3.70V659.0h-3.70zM578.2 1140.2h3.70V1149.0h-3.70zM581.9 772.7h3.70V799.0h-3.70zM581.9 1140.2h3.70V1149.0h-3.70zM581.9 1157.7h3.70V1166.5h-3.70zM585.6 790.2h3.70V799.0h-3.70zM585.6 1122.7h3.70V1140.2h-3.70zM589.3 650.2h3.70V659.0h-3.70zM589.3 737.7h3.70V746.5h-3.70zM589.3 1140.2h3.70V1149.0h-3.70zM589.3 1157.7h3.70V1166.5h-3.70zM593.0 685.2h3.70V694.0h-3.70zM596.7 641.5h3.70V650.2h-3.70zM596.7 685.2h3.70V694.0h-3.70zM596.7 711.5h3.70V720.2h-3.70zM596.7 1157.7h3.70V1168.4h-3.70zM600.4 667.7h3.70V676.5h-3.70zM600.4 711.5h3.70V737.7h-3.70zM600.4 746.5h3.70V755.2h-3.70zM600.4 781.5h3.70V790.2h-3.70zM600.4 1070.2h3.70V1079.0h-3.70zM611.5 641.5h3.70V659.0h-3.70zM611.5 676.5h3.70V694.0h-3.70zM611.5 702.7h3.70V720.2h-3.70zM611.5 1149.0h3.70V1157.7h-3.70zM615.2 685.2h3.70V694.0h-3.70zM615.2 729.0h3.70V737.7h-3.70zM615.2 755.2h3.70V764.0h-3.70zM618.9 764.0h3.70V772.7h-3.70zM622.6 702.7h3.70V711.5h-3.70zM622.6 720.2h3.70V746.5h-3.70zM626.3 764.0h3.70V772.7h-3.70zM626.3 781.5h3.70V790.2h-3.70zM626.3 799.0h3.70V807.7h-3.70zM630.0 694.0h3.70V702.7h-3.70zM633.7 667.7h3.70V676.5h-3.70zM633.7 720.2h3.70V729.0h-3.70zM633.7 737.7h3.70V746.5h-3.70zM637.4 1166.5h3.70V1168.4h-3.70zM644.8 851.5h3.70V860.2h-3.70zM644.8 1149.0h3.70V1166.5h-3.70zM648.5 764.0h3.70V772.7h-3.70zM648.5 781.5h3.70V790.2h-3.70zM652.2 702.7h3.70V711.5h-3.70zM652.2 737.7h3.70V764.0h-3.70zM652.2 772.7h3.70V790.2h-3.70zM652.2 1157.7h3.70V1168.4h-3.70zM655.9 781.5h3.70V816.5h-3.70zM659.6 737.7h3.70V764.0h-3.70zM659.6 790.2h3.70V799.0h-3.70zM663.3 755.2h3.70V764.0h-3.70zM663.3 772.7h3.70V825.2h-3.70zM663.3 1122.7h3.70V1131.5h-3.70zM667.0 1149.0h3.70V1166.5h-3.70zM670.7 930.2h3.70V939.0h-3.70zM670.7 1114.0h3.70V1122.7h-3.70zM674.4 1087.7h3.70V1105.2h-3.70zM674.4 1140.2h3.70V1149.0h-3.70zM674.4 1166.5h3.70V1168.4h-3.70zM678.1 1070.2h3.70V1079.0h-3.70zM678.1 1166.5h3.70V1168.4h-3.70zM681.8 921.5h3.70V930.2h-3.70zM681.8 1096.5h3.70V1105.2h-3.70zM681.8 1114.0h3.70V1122.7h-3.70zM685.5 790.2h3.70V799.0h-3.70zM689.2 825.2h3.70V851.5h-3.70zM689.2 869.0h3.70V877.7h-3.70zM689.2 1114.0h3.70V1122.7h-3.70zM692.9 851.5h3.70V869.0h-3.70zM692.9 1096.5h3.70V1105.2h-3.70zM700.3 912.7h3.70V921.5h-3.70zM700.3 1157.7h3.70V1166.5h-3.70zM704.0 904.0h3.70V921.5h-3.70zM704.0 1149.0h3.70V1157.7h-3.70zM704.0 1166.5h3.70V1168.4h-3.70zM711.3 1157.7h3.70V1166.5h-3.70zM715.0 895.2h3.70V904.0h-3.70zM718.7 807.7h3.70V816.5h-3.70zM722.4 877.7h3.70V895.2h-3.70zM722.4 1114.0h3.70V1122.7h-3.70zM726.1 834.0h3.70V842.7h-3.70zM726.1 869.0h3.70V886.5h-3.70zM726.1 1149.0h3.70V1157.7h-3.70zM729.8 781.5h3.70V807.7h-3.70zM729.8 834.0h3.70V842.7h-3.70zM729.8 1122.7h3.70V1131.5h-3.70zM729.8 1149.0h3.70V1157.7h-3.70zM733.5 755.2h3.70V764.0h-3.70zM733.5 781.5h3.70V807.7h-3.70zM737.2 772.7h3.70V781.5h-3.70zM737.2 790.2h3.70V799.0h-3.70zM737.2 1149.0h3.70V1157.7h-3.70zM740.9 746.5h3.70V772.7h-3.70zM744.6 834.0h3.70V842.7h-3.70zM744.6 851.5h3.70V860.2h-3.70zM744.6 869.0h3.70V886.5h-3.70zM744.6 1087.7h3.70V1096.5h-3.70zM748.3 834.0h3.70V860.2h-3.70zM748.3 886.5h3.70V895.2h-3.70zM748.3 1052.7h3.70V1061.5h-3.70zM752.0 877.7h3.70V895.2h-3.70zM752.0 1166.5h3.70V1168.4h-3.70zM755.7 834.0h3.70V851.5h-3.70zM755.7 877.7h3.70V895.2h-3.70zM755.7 1149.0h3.70V1157.7h-3.70zM759.4 904.0h3.70V912.7h-3.70zM759.4 921.5h3.70V930.2h-3.70zM759.4 1105.2h3.70V1131.5h-3.70zM763.1 807.7h3.70V825.2h-3.70zM763.1 834.0h3.70V851.5h-3.70zM763.1 1157.7h3.70V1166.5h-3.70zM766.8 1096.5h3.70V1114.0h-3.70zM766.8 1166.5h3.70V1168.4h-3.70zM770.5 895.2h3.70V904.0h-3.70zM770.5 1166.5h3.70V1168.4h-3.70zM774.2 895.2h3.70V904.0h-3.70zM774.2 1087.7h3.70V1096.5h-3.70zM777.9 904.0h3.70V912.7h-3.70zM777.9 1000.2h3.70V1009.0h-3.70zM777.9 1131.5h3.70V1149.0h-3.70zM781.6 834.0h3.70V851.5h-3.70zM781.6 1122.7h3.70V1131.5h-3.70zM785.3 1157.7h3.70V1168.4h-3.70zM789.0 851.5h3.70V860.2h-3.70zM789.0 1105.2h3.70V1114.0h-3.70zM792.7 1149.0h3.70V1157.7h-3.70zM800.1 807.7h3.70V816.5h-3.70zM803.8 807.7h3.70V825.2h-3.70zM803.8 842.7h3.70V860.2h-3.70zM803.8 1166.5h3.70V1168.4h-3.70zM807.5 816.5h3.70V825.2h-3.70zM807.5 1131.5h3.70V1140.2h-3.70zM811.2 1122.7h3.70V1131.5h-3.70zM811.2 1149.0h3.70V1157.7h-3.70zM811.2 1166.5h3.70V1168.4h-3.70zM814.9 816.5h3.70V825.2h-3.70zM818.6 1096.5h3.70V1122.7h-3.70zM818.6 1131.5h3.70V1140.2h-3.70zM818.6 1149.0h3.70V1157.7h-3.70zM822.3 1096.5h3.70V1105.2h-3.70zM826.0 834.0h3.70V851.5h-3.70zM826.0 1157.7h3.70V1166.5h-3.70zM829.7 825.2h3.70V834.0h-3.70zM829.7 1149.0h3.70V1157.7h-3.70zM833.4 816.5h3.70V825.2h-3.70zM833.4 1157.7h3.70V1166.5h-3.70zM837.1 1122.7h3.70V1131.5h-3.70zM840.8 1122.7h3.70V1131.5h-3.70zM840.8 1157.7h3.70V1166.5h-3.70zM844.5 799.0h3.70V807.7h-3.70zM844.5 1149.0h3.70V1157.7h-3.70zM848.2 746.5h3.70V755.2h-3.70zM848.2 1140.2h3.70V1149.0h-3.70zM848.2 1166.5h3.70V1168.4h-3.70zM851.9 1096.5h3.70V1105.2h-3.70zM851.9 1114.0h3.70V1149.0h-3.70zM855.6 737.7h3.70V755.2h-3.70zM859.2 851.5h3.70V860.2h-3.70zM859.2 1131.5h3.70V1149.0h-3.70zM862.9 807.7h3.70V816.5h-3.70zM862.9 1061.5h3.70V1070.2h-3.70zM862.9 1087.7h3.70V1114.0h-3.70zM866.6 851.5h3.70V860.2h-3.70zM866.6 1052.7h3.70V1070.2h-3.70zM870.3 1035.2h3.70V1052.7h-3.70zM870.3 1140.2h3.70V1157.7h-3.70zM874.0 860.2h3.70V869.0h-3.70zM877.7 790.2h3.70V816.5h-3.70zM881.4 825.2h3.70V834.0h-3.70zM881.4 1131.5h3.70V1157.7h-3.70zM881.4 1166.5h3.70V1168.4h-3.70zM885.1 860.2h3.70V886.5h-3.70zM885.1 1017.7h3.70V1070.2h-3.70zM888.8 807.7h3.70V816.5h-3.70zM892.5 851.5h3.70V869.0h-3.70zM892.5 1052.7h3.70V1061.5h-3.70zM896.2 851.5h3.70V860.2h-3.70zM896.2 1052.7h3.70V1096.5h-3.70zM896.2 1105.2h3.70V1114.0h-3.70zM899.9 842.7h3.70V860.2h-3.70zM899.9 1044.0h3.70V1061.5h-3.70zM899.9 1070.2h3.70V1079.0h-3.70zM899.9 1087.7h3.70V1096.5h-3.70zM903.6 825.2h3.70V842.7h-3.70zM907.3 834.0h3.70V842.7h-3.70zM907.3 1131.5h3.70V1140.2h-3.70zM911.0 825.2h3.70V834.0h-3.70zM911.0 860.2h3.70V869.0h-3.70zM911.0 1087.7h3.70V1105.2h-3.70zM911.0 1149.0h3.70V1166.5h-3.70zM914.7 825.2h3.70V842.7h-3.70zM914.7 1070.2h3.70V1079.0h-3.70zM914.7 1114.0h3.70V1122.7h-3.70zM918.4 825.2h3.70V860.2h-3.70zM918.4 1140.2h3.70V1149.0h-3.70zM918.4 1157.7h3.70V1166.5h-3.70zM922.1 816.5h3.70V825.2h-3.70zM922.1 1079.0h3.70V1087.7h-3.70zM922.1 1105.2h3.70V1114.0h-3.70zM925.8 825.2h3.70V842.7h-3.70zM925.8 1114.0h3.70V1122.7h-3.70zM925.8 1131.5h3.70V1140.2h-3.70zM925.8 1166.5h3.70V1168.4h-3.70zM929.5 1061.5h3.70V1079.0h-3.70zM929.5 1087.7h3.70V1105.2h-3.70zM933.2 816.5h3.70V825.2h-3.70zM933.2 860.2h3.70V869.0h-3.70zM933.2 1070.2h3.70V1079.0h-3.70zM936.9 869.0h3.70V877.7h-3.70zM940.6 825.2h3.70V834.0h-3.70zM940.6 1070.2h3.70V1079.0h-3.70zM944.3 1157.7h3.70V1166.5h-3.70zM948.0 781.5h3.70V816.5h-3.70zM948.0 1070.2h3.70V1079.0h-3.70zM951.7 834.0h3.70V842.7h-3.70zM951.7 1079.0h3.70V1087.7h-3.70zM955.4 1096.5h3.70V1105.2h-3.70zM955.4 1131.5h3.70V1140.2h-3.70zM959.1 746.5h3.70V764.0h-3.70zM959.1 1131.5h3.70V1149.0h-3.70zM962.8 790.2h3.70V799.0h-3.70zM966.5 764.0h3.70V790.2h-3.70zM966.5 1052.7h3.70V1096.5h-3.70zM970.2 1079.0h3.70V1087.7h-3.70zM973.9 790.2h3.70V799.0h-3.70zM973.9 807.7h3.70V816.5h-3.70zM977.6 799.0h3.70V834.0h-3.70zM981.3 816.5h3.70V825.2h-3.70zM996.1 729.0h3.70V737.7h-3.70zM1003.4 772.7h3.70V781.5h-3.70zM1018.2 807.7h3.70V816.5h-3.70zM1018.2 1009.0h3.70V1017.7h-3.70zM1025.6 939.0h3.70V956.5h-3.70zM1025.6 965.2h3.70V982.7h-3.70zM1088.5 711.5h3.70V720.2h-3.70zM1088.5 1026.5h3.70V1035.2h-3.70zM1092.2 685.2h3.70V694.0h-3.70zM1092.2 1009.0h3.70V1017.7h-3.70zM1099.6 746.5h3.70V755.2h-3.70zM1099.6 807.7h3.70V816.5h-3.70zM1099.6 825.2h3.70V834.0h-3.70zM1103.3 816.5h3.70V825.2h-3.70zM1103.3 842.7h3.70V860.2h-3.70zM1103.3 904.0h3.70V912.7h-3.70zM1107.0 755.2h3.70V764.0h-3.70zM1107.0 799.0h3.70V816.5h-3.70zM1110.7 755.2h3.70V764.0h-3.70zM1118.1 737.7h3.70V781.5h-3.70zM1121.8 685.2h3.70V694.0h-3.70zM1121.8 720.2h3.70V729.0h-3.70zM1121.8 1000.2h3.70V1009.0h-3.70zM1129.2 702.7h3.70V711.5h-3.70zM1129.2 1000.2h3.70V1009.0h-3.70zM1129.2 1035.2h3.70V1044.0h-3.70zM1132.9 877.7h3.70V886.5h-3.70zM1132.9 895.2h3.70V912.7h-3.70zM1136.6 816.5h3.70V825.2h-3.70zM1136.6 842.7h3.70V860.2h-3.70zM1136.6 869.0h3.70V877.7h-3.70zM1140.3 799.0h3.70V807.7h-3.70zM1140.3 816.5h3.70V825.2h-3.70zM1140.3 860.2h3.70V869.0h-3.70zM1140.3 1026.5h3.70V1035.2h-3.70zM1144.0 799.0h3.70V807.7h-3.70zM1144.0 834.0h3.70V877.7h-3.70zM1144.0 956.5h3.70V965.2h-3.70zM1147.7 685.2h3.70V711.5h-3.70zM1151.3 720.2h3.70V737.7h-3.70zM1151.3 965.2h3.70V974.0h-3.70zM1155.0 764.0h3.70V772.7h-3.70zM1155.0 956.5h3.70V965.2h-3.70zM1158.7 799.0h3.70V807.7h-3.70zM1158.7 816.5h3.70V825.2h-3.70zM1162.4 816.5h3.70V825.2h-3.70zM1166.1 755.2h3.70V772.7h-3.70zM1166.1 904.0h3.70V921.5h-3.70zM1166.1 947.7h3.70V965.2h-3.70zM1169.8 641.5h3.70V650.2h-3.70zM1169.8 667.7h3.70V685.2h-3.70zM1169.8 694.0h3.70V711.5h-3.70zM1169.8 720.2h3.70V729.0h-3.70zM1169.8 737.7h3.70V746.5h-3.70zM1169.8 974.0h3.70V982.7h-3.70zM1173.5 667.7h3.70V676.5h-3.70zM1173.5 685.2h3.70V702.7h-3.70zM1173.5 956.5h3.70V965.2h-3.70zM1180.9 694.0h3.70V702.7h-3.70zM1180.9 711.5h3.70V746.5h-3.70zM1180.9 904.0h3.70V912.7h-3.70zM1184.6 641.5h3.70V650.2h-3.70zM1192.0 694.0h3.70V720.2h-3.70zM1199.4 650.2h3.70V659.0h-3.70zM1199.4 667.7h3.70V676.5h-3.70zM1199.4 720.2h3.70V737.7h-3.70zM1199.4 974.0h3.70V982.7h-3.70zM1203.1 659.0h3.70V676.5h-3.70zM1203.1 685.2h3.70V702.7h-3.70zM1206.8 702.7h3.70V711.5h-3.70zM1206.8 737.7h3.70V746.5h-3.70zM1206.8 772.7h3.70V799.0h-3.70zM1210.5 720.2h3.70V737.7h-3.70zM1214.2 764.0h3.70V772.7h-3.70zM1214.2 869.0h3.70V877.7h-3.70zM1214.2 904.0h3.70V912.7h-3.70zM1214.2 921.5h3.70V930.2h-3.70zM1217.9 702.7h3.70V711.5h-3.70zM1217.9 720.2h3.70V746.5h-3.70zM1217.9 764.0h3.70V772.7h-3.70zM1221.6 659.0h3.70V676.5h-3.70zM1221.6 685.2h3.70V694.0h-3.70zM1221.6 982.7h3.70V991.5h-3.70zM1225.3 632.7h3.70V659.0h-3.70zM1225.3 991.5h3.70V1000.2h-3.70zM1229.0 676.5h3.70V685.2h-3.70zM1229.0 694.0h3.70V711.5h-3.70zM1232.7 834.0h3.70V842.7h-3.70zM1232.7 860.2h3.70V869.0h-3.70zM1232.7 930.2h3.70V939.0h-3.70zM1232.7 947.7h3.70V965.2h-3.70zM1232.7 1044.0h3.70V1052.7h-3.70zM1236.4 632.7h3.70V659.0h-3.70zM1236.4 912.7h3.70V939.0h-3.70zM1240.1 641.5h3.70V676.5h-3.70zM1240.1 685.2h3.70V694.0h-3.70zM1240.1 886.5h3.70V904.0h-3.70zM1243.8 694.0h3.70V702.7h-3.70zM1247.5 641.5h3.70V650.2h-3.70zM1247.5 676.5h3.70V685.2h-3.70zM1247.5 1026.5h3.70V1035.2h-3.70zM1251.2 624.0h3.70V641.5h-3.70zM1251.2 1000.2h3.70V1009.0h-3.70zM1262.3 711.5h3.70V720.2h-3.70zM1262.3 965.2h3.70V974.0h-3.70zM1262.3 991.5h3.70V1000.2h-3.70zM1266.0 746.5h3.70V755.2h-3.70zM1269.7 606.5h3.70V615.2h-3.70zM1269.7 650.2h3.70V659.0h-3.70zM1269.7 667.7h3.70V676.5h-3.70zM1269.7 694.0h3.70V702.7h-3.70zM1269.7 982.7h3.70V991.5h-3.70zM1273.4 702.7h3.70V711.5h-3.70zM1273.4 947.7h3.70V956.5h-3.70zM1273.4 965.2h3.70V982.7h-3.70zM1277.1 991.5h3.70V1000.2h-3.70zM1280.8 659.0h3.70V676.5h-3.70zM1280.8 991.5h3.70V1000.2h-3.70zM1284.5 860.2h3.70V869.0h-3.70zM1284.5 895.2h3.70V912.7h-3.70zM1284.5 965.2h3.70V974.0h-3.70zM1284.5 991.5h3.70V1000.2h-3.70zM1284.5 1061.5h3.70V1070.2h-3.70zM1288.2 720.2h3.70V729.0h-3.70zM1288.2 895.2h3.70V904.0h-3.70zM1288.2 965.2h3.70V974.0h-3.70zM1288.2 982.7h3.70V991.5h-3.70zM1288.2 1035.2h3.70V1044.0h-3.70zM1291.9 694.0h3.70V711.5h-3.70zM1291.9 737.7h3.70V755.2h-3.70zM1295.6 624.0h3.70V641.5h-3.70zM1295.6 991.5h3.70V1000.2h-3.70zM1299.2 650.2h3.70V659.0h-3.70zM1299.2 667.7h3.70V676.5h-3.70zM1306.6 615.2h3.70V632.7h-3.70zM1306.6 641.5h3.70V650.2h-3.70zM1306.6 982.7h3.70V991.5h-3.70zM1310.3 685.2h3.70V694.0h-3.70zM1314.0 860.2h3.70V886.5h-3.70zM1317.7 571.5h3.70V580.2h-3.70zM1317.7 659.0h3.70V667.7h-3.70zM1317.7 685.2h3.70V694.0h-3.70zM1317.7 991.5h3.70V1009.0h-3.70zM1321.4 624.0h3.70V650.2h-3.70zM1325.1 589.0h3.70V606.5h-3.70zM1325.1 641.5h3.70V650.2h-3.70zM1325.1 659.0h3.70V667.7h-3.70zM1325.1 974.0h3.70V991.5h-3.70zM1325.1 1035.2h3.70V1044.0h-3.70zM1328.8 632.7h3.70V650.2h-3.70zM1328.8 912.7h3.70V921.5h-3.70zM1328.8 1009.0h3.70V1017.7h-3.70zM1332.5 624.0h3.70V632.7h-3.70zM1332.5 641.5h3.70V650.2h-3.70zM1332.5 659.0h3.70V667.7h-3.70zM1332.5 1044.0h3.70V1052.7h-3.70zM1336.2 685.2h3.70V694.0h-3.70zM1336.2 711.5h3.70V729.0h-3.70zM1343.6 667.7h3.70V685.2h-3.70zM1343.6 965.2h3.70V982.7h-3.70zM1343.6 1009.0h3.70V1017.7h-3.70zM1343.6 1026.5h3.70V1035.2h-3.70zM1347.3 606.5h3.70V615.2h-3.70zM1351.0 615.2h3.70V632.7h-3.70zM1354.7 589.0h3.70V606.5h-3.70zM1358.4 606.5h3.70V624.0h-3.70zM1358.4 641.5h3.70V650.2h-3.70zM1358.4 1017.7h3.70V1026.5h-3.70zM1358.4 1035.2h3.70V1044.0h-3.70zM1362.1 694.0h3.70V702.7h-3.70zM1362.1 991.5h3.70V1000.2h-3.70zM1365.8 571.5h3.70V580.2h-3.70zM1365.8 597.7h3.70V606.5h-3.70zM1365.8 615.2h3.70V632.7h-3.70zM1365.8 641.5h3.70V650.2h-3.70zM1365.8 667.7h3.70V685.2h-3.70zM1365.8 1000.2h3.70V1009.0h-3.70z"/><path fill="#0042ff" d="M197.4 939.0h3.70V956.5h-3.70zM197.4 965.2h3.70V974.0h-3.70zM197.4 991.5h3.70V1000.2h-3.70zM201.1 869.0h3.70V877.7h-3.70zM204.8 851.5h3.70V860.2h-3.70zM204.8 886.5h3.70V921.5h-3.70zM204.8 965.2h3.70V974.0h-3.70zM204.8 982.7h3.70V991.5h-3.70zM204.8 1061.5h3.70V1070.2h-3.70zM204.8 1105.2h3.70V1114.0h-3.70zM208.5 842.7h3.70V860.2h-3.70zM208.5 869.0h3.70V877.7h-3.70zM208.5 930.2h3.70V939.0h-3.70zM208.5 947.7h3.70V956.5h-3.70zM208.5 1114.0h3.70V1122.7h-3.70zM212.2 886.5h3.70V895.2h-3.70zM212.2 939.0h3.70V956.5h-3.70zM212.2 1017.7h3.70V1026.5h-3.70zM215.9 921.5h3.70V947.7h-3.70zM215.9 956.5h3.70V991.5h-3.70zM215.9 1000.2h3.70V1009.0h-3.70zM215.9 1070.2h3.70V1079.0h-3.70zM219.6 825.2h3.70V834.0h-3.70zM219.6 1052.7h3.70V1061.5h-3.70zM219.6 1105.2h3.70V1114.0h-3.70zM223.3 816.5h3.70V825.2h-3.70zM223.3 834.0h3.70V842.7h-3.70zM227.0 755.2h3.70V764.0h-3.70zM227.0 781.5h3.70V816.5h-3.70zM227.0 1149.0h3.70V1157.7h-3.70zM230.7 1087.7h3.70V1096.5h-3.70zM238.1 939.0h3.70V947.7h-3.70zM241.8 186.5h3.70V195.2h-3.70zM245.5 212.7h3.70V221.5h-3.70zM249.2 729.0h3.70V737.7h-3.70zM249.2 1149.0h3.70V1157.7h-3.70zM252.9 965.2h3.70V974.0h-3.70zM256.6 886.5h3.70V895.2h-3.70zM260.3 904.0h3.70V912.7h-3.70zM260.3 965.2h3.70V974.0h-3.70zM264.0 1000.2h3.70V1017.7h-3.70zM267.7 939.0h3.70V947.7h-3.70zM271.3 1044.0h3.70V1052.7h-3.70zM271.3 1166.5h3.70V1168.4h-3.70zM275.0 1096.5h3.70V1114.0h-3.70zM275.0 1122.7h3.70V1140.2h-3.70zM275.0 1157.7h3.70V1168.4h-3.70zM278.7 1000.2h3.70V1035.2h-3.70zM278.7 1044.0h3.70V1052.7h-3.70zM282.4 1017.7h3.70V1026.5h-3.70zM282.4 1052.7h3.70V1061.5h-3.70zM289.8 737.7h3.70V764.0h-3.70zM289.8 799.0h3.70V807.7h-3.70zM293.5 720.2h3.70V755.2h-3.70zM297.2 711.5h3.70V737.7h-3.70zM297.2 772.7h3.70V781.5h-3.70zM300.9 755.2h3.70V764.0h-3.70zM300.9 869.0h3.70V877.7h-3.70zM300.9 886.5h3.70V912.7h-3.70zM304.6 702.7h3.70V711.5h-3.70zM315.7 615.2h3.70V624.0h-3.70zM315.7 886.5h3.70V921.5h-3.70zM319.4 632.7h3.70V641.5h-3.70zM323.1 886.5h3.70V912.7h-3.70zM326.8 904.0h3.70V912.7h-3.70zM330.5 676.5h3.70V764.0h-3.70zM334.2 737.7h3.70V764.0h-3.70zM334.2 921.5h3.70V930.2h-3.70zM341.6 790.2h3.70V799.0h-3.70zM341.6 807.7h3.70V834.0h-3.70zM341.6 912.7h3.70V921.5h-3.70zM345.3 746.5h3.70V755.2h-3.70zM345.3 772.7h3.70V781.5h-3.70zM345.3 816.5h3.70V851.5h-3.70zM345.3 860.2h3.70V869.0h-3.70zM345.3 1114.0h3.70V1131.5h-3.70zM345.3 1140.2h3.70V1149.0h-3.70zM349.0 816.5h3.70V825.2h-3.70zM352.7 755.2h3.70V764.0h-3.70zM352.7 781.5h3.70V790.2h-3.70zM352.7 799.0h3.70V807.7h-3.70zM356.4 834.0h3.70V842.7h-3.70zM356.4 1096.5h3.70V1105.2h-3.70zM356.4 1114.0h3.70V1122.7h-3.70zM356.4 1131.5h3.70V1140.2h-3.70zM360.1 807.7h3.70V816.5h-3.70zM360.1 939.0h3.70V956.5h-3.70zM360.1 982.7h3.70V991.5h-3.70zM363.8 825.2h3.70V851.5h-3.70zM363.8 904.0h3.70V947.7h-3.70zM363.8 991.5h3.70V1017.7h-3.70zM367.5 834.0h3.70V842.7h-3.70zM367.5 860.2h3.70V869.0h-3.70zM367.5 886.5h3.70V895.2h-3.70zM367.5 947.7h3.70V956.5h-3.70zM367.5 974.0h3.70V991.5h-3.70zM367.5 1000.2h3.70V1035.2h-3.70zM371.2 1166.5h3.70V1168.4h-3.70zM374.9 860.2h3.70V869.0h-3.70zM374.9 939.0h3.70V965.2h-3.70zM374.9 1009.0h3.70V1017.7h-3.70zM374.9 1044.0h3.70V1052.7h-3.70zM374.9 1061.5h3.70V1070.2h-3.70zM374.9 1087.7h3.70V1096.5h-3.70zM374.9 1105.2h3.70V1114.0h-3.70zM378.6 921.5h3.70V939.0h-3.70zM378.6 947.7h3.70V956.5h-3.70zM378.6 965.2h3.70V974.0h-3.70zM386.0 799.0h3.70V816.5h-3.70zM386.0 825.2h3.70V834.0h-3.70zM386.0 1035.2h3.70V1044.0h-3.70zM386.0 1105.2h3.70V1114.0h-3.70zM389.7 834.0h3.70V851.5h-3.70zM389.7 1140.2h3.70V1149.0h-3.70zM393.4 807.7h3.70V834.0h-3.70zM393.4 842.7h3.70V851.5h-3.70zM393.4 1149.0h3.70V1157.7h-3.70zM393.4 1166.5h3.70V1168.4h-3.70zM397.1 991.5h3.70V1009.0h-3.70zM400.8 947.7h3.70V956.5h-3.70zM404.5 877.7h3.70V886.5h-3.70zM404.5 921.5h3.70V930.2h-3.70zM404.5 1079.0h3.70V1087.7h-3.70zM411.9 956.5h3.70V965.2h-3.70zM411.9 1105.2h3.70V1114.0h-3.70zM419.2 825.2h3.70V834.0h-3.70zM419.2 842.7h3.70V851.5h-3.70zM419.2 860.2h3.70V877.7h-3.70zM419.2 904.0h3.70V921.5h-3.70zM422.9 781.5h3.70V790.2h-3.70zM422.9 799.0h3.70V807.7h-3.70zM422.9 834.0h3.70V842.7h-3.70zM422.9 869.0h3.70V886.5h-3.70zM422.9 1070.2h3.70V1079.0h-3.70zM422.9 1157.7h3.70V1166.5h-3.70zM426.6 790.2h3.70V799.0h-3.70zM426.6 807.7h3.70V834.0h-3.70zM426.6 869.0h3.70V877.7h-3.70zM426.6 956.5h3.70V965.2h-3.70zM426.6 1114.0h3.70V1122.7h-3.70zM430.3 904.0h3.70V921.5h-3.70zM430.3 1026.5h3.70V1035.2h-3.70zM430.3 1044.0h3.70V1052.7h-3.70zM434.0 869.0h3.70V877.7h-3.70zM434.0 904.0h3.70V921.5h-3.70zM434.0 930.2h3.70V939.0h-3.70zM434.0 956.5h3.70V965.2h-3.70zM434.0 1140.2h3.70V1149.0h-3.70zM437.7 816.5h3.70V842.7h-3.70zM437.7 851.5h3.70V869.0h-3.70zM437.7 877.7h3.70V886.5h-3.70zM437.7 1096.5h3.70V1114.0h-3.70zM437.7 1122.7h3.70V1131.5h-3.70zM437.7 1140.2h3.70V1149.0h-3.70zM441.4 772.7h3.70V807.7h-3.70zM441.4 1105.2h3.70V1114.0h-3.70zM445.1 781.5h3.70V790.2h-3.70zM445.1 825.2h3.70V834.0h-3.70zM445.1 842.7h3.70V860.2h-3.70zM445.1 1140.2h3.70V1157.7h-3.70zM448.8 1166.5h3.70V1168.4h-3.70zM452.5 860.2h3.70V869.0h-3.70zM452.5 895.2h3.70V912.7h-3.70zM452.5 991.5h3.70V1000.2h-3.70zM452.5 1009.0h3.70V1035.2h-3.70zM452.5 1061.5h3.70V1070.2h-3.70zM452.5 1105.2h3.70V1114.0h-3.70zM452.5 1122.7h3.70V1131.5h-3.70zM456.2 842.7h3.70V851.5h-3.70zM456.2 930.2h3.70V947.7h-3.70zM456.2 1070.2h3.70V1087.7h-3.70zM456.2 1114.0h3.70V1131.5h-3.70zM456.2 1140.2h3.70V1149.0h-3.70zM459.9 904.0h3.70V912.7h-3.70zM459.9 921.5h3.70V939.0h-3.70zM459.9 1035.2h3.70V1052.7h-3.70zM459.9 1061.5h3.70V1079.0h-3.70zM459.9 1096.5h3.70V1105.2h-3.70zM459.9 1122.7h3.70V1131.5h-3.70zM463.6 816.5h3.70V842.7h-3.70zM463.6 851.5h3.70V869.0h-3.70zM463.6 965.2h3.70V991.5h-3.70zM463.6 1114.0h3.70V1122.7h-3.70zM463.6 1131.5h3.70V1140.2h-3.70zM467.3 807.7h3.70V825.2h-3.70zM467.3 834.0h3.70V842.7h-3.70zM467.3 1140.2h3.70V1157.7h-3.70zM471.0 904.0h3.70V912.7h-3.70zM471.0 939.0h3.70V956.5h-3.70zM471.0 1009.0h3.70V1026.5h-3.70zM471.0 1061.5h3.70V1087.7h-3.70zM471.0 1140.2h3.70V1157.7h-3.70zM474.7 676.5h3.70V685.2h-3.70zM474.7 711.5h3.70V729.0h-3.70zM478.4 624.0h3.70V632.7h-3.70zM478.4 641.5h3.70V659.0h-3.70zM478.4 685.2h3.70V694.0h-3.70zM482.1 659.0h3.70V676.5h-3.70zM482.1 685.2h3.70V694.0h-3.70zM482.1 702.7h3.70V720.2h-3.70zM485.8 624.0h3.70V632.7h-3.70zM485.8 711.5h3.70V720.2h-3.70zM489.5 659.0h3.70V667.7h-3.70zM489.5 676.5h3.70V685.2h-3.70zM489.5 1140.2h3.70V1157.7h-3.70zM493.2 632.7h3.70V641.5h-3.70zM493.2 659.0h3.70V685.2h-3.70zM493.2 1166.5h3.70V1168.4h-3.70zM496.9 737.7h3.70V746.5h-3.70zM496.9 1070.2h3.70V1079.0h-3.70zM496.9 1105.2h3.70V1122.7h-3.70zM500.6 720.2h3.70V729.0h-3.70zM500.6 982.7h3.70V991.5h-3.70zM500.6 1000.2h3.70V1009.0h-3.70zM504.3 632.7h3.70V641.5h-3.70zM504.3 676.5h3.70V685.2h-3.70zM504.3 702.7h3.70V729.0h-3.70zM508.0 746.5h3.70V755.2h-3.70zM508.0 921.5h3.70V930.2h-3.70zM508.0 1070.2h3.70V1087.7h-3.70zM511.7 650.2h3.70V659.0h-3.70zM511.7 1114.0h3.70V1149.0h-3.70zM515.4 685.2h3.70V694.0h-3.70zM515.4 1087.7h3.70V1096.5h-3.70zM519.1 580.2h3.70V606.5h-3.70zM522.8 606.5h3.70V624.0h-3.70zM522.8 650.2h3.70V667.7h-3.70zM522.8 1157.7h3.70V1166.5h-3.70zM533.9 982.7h3.70V991.5h-3.70zM533.9 1035.2h3.70V1044.0h-3.70zM533.9 1061.5h3.70V1070.2h-3.70zM533.9 1079.0h3.70V1105.2h-3.70zM533.9 1131.5h3.70V1149.0h-3.70zM537.6 720.2h3.70V729.0h-3.70zM537.6 1149.0h3.70V1157.7h-3.70zM541.3 720.2h3.70V729.0h-3.70zM541.3 737.7h3.70V764.0h-3.70zM541.3 1096.5h3.70V1114.0h-3.70zM545.0 1044.0h3.70V1061.5h-3.70zM545.0 1079.0h3.70V1087.7h-3.70zM545.0 1105.2h3.70V1114.0h-3.70zM545.0 1131.5h3.70V1140.2h-3.70zM548.7 711.5h3.70V729.0h-3.70zM548.7 974.0h3.70V1000.2h-3.70zM548.7 1114.0h3.70V1131.5h-3.70zM552.4 720.2h3.70V729.0h-3.70zM552.4 1000.2h3.70V1009.0h-3.70zM552.4 1017.7h3.70V1035.2h-3.70zM552.4 1061.5h3.70V1079.0h-3.70zM552.4 1166.5h3.70V1168.4h-3.70zM556.1 781.5h3.70V799.0h-3.70zM556.1 982.7h3.70V991.5h-3.70zM556.1 1009.0h3.70V1017.7h-3.70zM556.1 1035.2h3.70V1044.0h-3.70zM556.1 1131.5h3.70V1140.2h-3.70zM559.8 685.2h3.70V702.7h-3.70zM559.8 737.7h3.70V755.2h-3.70zM559.8 947.7h3.70V956.5h-3.70zM559.8 1079.0h3.70V1087.7h-3.70zM559.8 1096.5h3.70V1105.2h-3.70zM563.5 650.2h3.70V659.0h-3.70zM563.5 1096.5h3.70V1105.2h-3.70zM563.5 1157.7h3.70V1166.5h-3.70zM567.1 729.0h3.70V737.7h-3.70zM567.1 1070.2h3.70V1079.0h-3.70zM567.1 1157.7h3.70V1168.4h-3.70zM570.8 720.2h3.70V729.0h-3.70zM570.8 755.2h3.70V772.7h-3.70zM570.8 956.5h3.70V965.2h-3.70zM570.8 1070.2h3.70V1079.0h-3.70zM574.5 1079.0h3.70V1105.2h-3.70zM574.5 1122.7h3.70V1131.5h-3.70zM574.5 1166.5h3.70V1168.4h-3.70zM578.2 1149.0h3.70V1157.7h-3.70zM581.9 799.0h3.70V816.5h-3.70zM581.9 1122.7h3.70V1140.2h-3.70zM581.9 1149.0h3.70V1157.7h-3.70zM585.6 1114.0h3.70V1122.7h-3.70zM589.3 746.5h3.70V755.2h-3.70zM589.3 1131.5h3.70V1140.2h-3.70zM593.0 659.0h3.70V685.2h-3.70zM593.0 694.0h3.70V702.7h-3.70zM596.7 720.2h3.70V746.5h-3.70zM596.7 1052.7h3.70V1061.5h-3.70zM596.7 1070.2h3.70V1079.0h-3.70zM596.7 1149.0h3.70V1157.7h-3.70zM600.4 737.7h3.70V746.5h-3.70zM600.4 755.2h3.70V781.5h-3.70zM600.4 790.2h3.70V799.0h-3.70zM600.4 1052.7h3.70V1070.2h-3.70zM600.4 1079.0h3.70V1087.7h-3.70zM600.4 1157.7h3.70V1168.4h-3.70zM604.1 641.5h3.70V659.0h-3.70zM611.5 659.0h3.70V676.5h-3.70zM611.5 694.0h3.70V702.7h-3.70zM611.5 720.2h3.70V737.7h-3.70zM615.2 764.0h3.70V772.7h-3.70zM615.2 1140.2h3.70V1149.0h-3.70zM618.9 1096.5h3.70V1140.2h-3.70zM618.9 1157.7h3.70V1168.4h-3.70zM622.6 746.5h3.70V772.7h-3.70zM622.6 781.5h3.70V790.2h-3.70zM622.6 1044.0h3.70V1061.5h-3.70zM622.6 1070.2h3.70V1087.7h-3.70zM626.3 729.0h3.70V764.0h-3.70zM626.3 772.7h3.70V781.5h-3.70zM630.0 685.2h3.70V694.0h-3.70zM633.7 746.5h3.70V755.2h-3.70zM633.7 1149.0h3.70V1157.7h-3.70zM637.4 694.0h3.70V702.7h-3.70zM637.4 790.2h3.70V807.7h-3.70zM637.4 1149.0h3.70V1166.5h-3.70zM641.1 755.2h3.70V764.0h-3.70zM641.1 1087.7h3.70V1105.2h-3.70zM644.8 799.0h3.70V816.5h-3.70zM644.8 834.0h3.70V842.7h-3.70zM644.8 869.0h3.70V877.7h-3.70zM644.8 1087.7h3.70V1096.5h-3.70zM644.8 1105.2h3.70V1149.0h-3.70zM648.5 772.7h3.70V781.5h-3.70zM648.5 790.2h3.70V799.0h-3.70zM652.2 790.2h3.70V799.0h-3.70zM652.2 1122.7h3.70V1140.2h-3.70zM655.9 720.2h3.70V737.7h-3.70zM655.9 816.5h3.70V834.0h-3.70zM655.9 842.7h3.70V869.0h-3.70zM655.9 1105.2h3.70V1114.0h-3.70zM655.9 1131.5h3.70V1157.7h-3.70zM655.9 1166.5h3.70V1168.4h-3.70zM659.6 799.0h3.70V816.5h-3.70zM659.6 1157.7h3.70V1166.5h-3.70zM663.3 825.2h3.70V869.0h-3.70zM667.0 1061.5h3.70V1096.5h-3.70zM670.7 1061.5h3.70V1070.2h-3.70zM670.7 1079.0h3.70V1087.7h-3.70zM670.7 1096.5h3.70V1105.2h-3.70zM674.4 1061.5h3.70V1079.0h-3.70zM674.4 1105.2h3.70V1140.2h-3.70zM678.1 1061.5h3.70V1070.2h-3.70zM678.1 1079.0h3.70V1096.5h-3.70zM678.1 1149.0h3.70V1157.7h-3.70zM681.8 930.2h3.70V939.0h-3.70zM681.8 1079.0h3.70V1096.5h-3.70zM681.8 1105.2h3.70V1114.0h-3.70zM685.5 816.5h3.70V834.0h-3.70zM685.5 1149.0h3.70V1157.7h-3.70zM689.2 877.7h3.70V886.5h-3.70zM689.2 1105.2h3.70V1114.0h-3.70zM692.9 869.0h3.70V877.7h-3.70zM696.6 939.0h3.70V947.7h-3.70zM696.6 1087.7h3.70V1096.5h-3.70zM704.0 947.7h3.70V956.5h-3.70zM711.3 895.2h3.70V904.0h-3.70zM715.0 904.0h3.70V912.7h-3.70zM715.0 1149.0h3.70V1157.7h-3.70zM718.7 816.5h3.70V825.2h-3.70zM718.7 1157.7h3.70V1166.5h-3.70zM722.4 895.2h3.70V904.0h-3.70zM722.4 1105.2h3.70V1114.0h-3.70zM726.1 886.5h3.70V895.2h-3.70zM726.1 1131.5h3.70V1149.0h-3.70zM729.8 816.5h3.70V834.0h-3.70zM729.8 842.7h3.70V869.0h-3.70zM729.8 1105.2h3.70V1122.7h-3.70zM729.8 1131.5h3.70V1140.2h-3.70zM733.5 764.0h3.70V781.5h-3.70zM733.5 807.7h3.70V816.5h-3.70zM733.5 1114.0h3.70V1122.7h-3.70zM737.2 781.5h3.70V790.2h-3.70zM737.2 799.0h3.70V825.2h-3.70zM737.2 1079.0h3.70V1096.5h-3.70zM737.2 1157.7h3.70V1166.5h-3.70zM740.9 720.2h3.70V729.0h-3.70zM740.9 772.7h3.70V790.2h-3.70zM740.9 825.2h3.70V860.2h-3.70zM740.9 1079.0h3.70V1087.7h-3.70zM744.6 825.2h3.70V834.0h-3.70zM744.6 842.7h3.70V851.5h-3.70zM744.6 860.2h3.70V869.0h-3.70zM744.6 886.5h3.70V912.7h-3.70zM744.6 1079.0h3.70V1087.7h-3.70zM744.6 1149.0h3.70V1157.7h-3.70zM748.3 869.0h3.70V886.5h-3.70zM748.3 895.2h3.70V904.0h-3.70zM748.3 1035.2h3.70V1052.7h-3.70zM748.3 1061.5h3.70V1070.2h-3.70zM752.0 1131.5h3.70V1140.2h-3.70zM755.7 825.2h3.70V834.0h-3.70zM755.7 1114.0h3.70V1131.5h-3.70zM759.4 912.7h3.70V921.5h-3.70zM759.4 1087.7h3.70V1105.2h-3.70zM763.1 825.2h3.70V834.0h-3.70zM763.1 1122.7h3.70V1157.7h-3.70zM766.8 860.2h3.70V895.2h-3.70zM766.8 1087.7h3.70V1096.5h-3.70zM770.5 1149.0h3.70V1166.5h-3.70zM777.9 1017.7h3.70V1026.5h-3.70zM781.6 895.2h3.70V904.0h-3.70zM781.6 1044.0h3.70V1052.7h-3.70zM781.6 1070.2h3.70V1105.2h-3.70zM781.6 1114.0h3.70V1122.7h-3.70zM785.3 851.5h3.70V860.2h-3.70zM785.3 1061.5h3.70V1079.0h-3.70zM785.3 1096.5h3.70V1105.2h-3.70zM785.3 1149.0h3.70V1157.7h-3.70zM789.0 860.2h3.70V877.7h-3.70zM789.0 1087.7h3.70V1105.2h-3.70zM792.7 842.7h3.70V851.5h-3.70zM792.7 1131.5h3.70V1140.2h-3.70zM796.4 851.5h3.70V860.2h-3.70zM800.1 799.0h3.70V807.7h-3.70zM800.1 816.5h3.70V834.0h-3.70zM800.1 842.7h3.70V851.5h-3.70zM803.8 1157.7h3.70V1166.5h-3.70zM807.5 1114.0h3.70V1122.7h-3.70zM811.2 842.7h3.70V869.0h-3.70zM811.2 1052.7h3.70V1061.5h-3.70zM811.2 1070.2h3.70V1087.7h-3.70zM811.2 1157.7h3.70V1166.5h-3.70zM814.9 1096.5h3.70V1105.2h-3.70zM818.6 851.5h3.70V860.2h-3.70zM822.3 869.0h3.70V877.7h-3.70zM822.3 1070.2h3.70V1079.0h-3.70zM822.3 1087.7h3.70V1096.5h-3.70zM826.0 851.5h3.70V860.2h-3.70zM826.0 869.0h3.70V877.7h-3.70zM826.0 1096.5h3.70V1105.2h-3.70zM826.0 1140.2h3.70V1157.7h-3.70zM829.7 834.0h3.70V851.5h-3.70zM829.7 860.2h3.70V869.0h-3.70zM829.7 1140.2h3.70V1149.0h-3.70zM833.4 825.2h3.70V834.0h-3.70zM833.4 1140.2h3.70V1149.0h-3.70zM837.1 842.7h3.70V860.2h-3.70zM837.1 1105.2h3.70V1122.7h-3.70zM840.8 816.5h3.70V825.2h-3.70zM844.5 807.7h3.70V816.5h-3.70zM844.5 834.0h3.70V842.7h-3.70zM844.5 1114.0h3.70V1149.0h-3.70zM848.2 790.2h3.70V799.0h-3.70zM848.2 1149.0h3.70V1157.7h-3.70zM851.9 1052.7h3.70V1061.5h-3.70zM851.9 1079.0h3.70V1096.5h-3.70zM851.9 1166.5h3.70V1168.4h-3.70zM855.6 755.2h3.70V764.0h-3.70zM855.6 1105.2h3.70V1149.0h-3.70zM862.9 816.5h3.70V834.0h-3.70zM862.9 1017.7h3.70V1052.7h-3.70zM866.6 860.2h3.70V877.7h-3.70zM866.6 1044.0h3.70V1052.7h-3.70zM870.3 816.5h3.70V834.0h-3.70zM870.3 1026.5h3.70V1035.2h-3.70zM870.3 1131.5h3.70V1140.2h-3.70zM874.0 869.0h3.70V886.5h-3.70zM874.0 1044.0h3.70V1052.7h-3.70zM877.7 869.0h3.70V877.7h-3.70zM877.7 1035.2h3.70V1044.0h-3.70zM877.7 1061.5h3.70V1079.0h-3.70zM877.7 1096.5h3.70V1105.2h-3.70zM877.7 1131.5h3.70V1140.2h-3.70zM877.7 1149.0h3.70V1157.7h-3.70zM877.7 1166.5h3.70V1168.4h-3.70zM881.4 1114.0h3.70V1131.5h-3.70zM888.8 816.5h3.70V825.2h-3.70zM888.8 1149.0h3.70V1157.7h-3.70zM892.5 869.0h3.70V886.5h-3.70zM892.5 1026.5h3.70V1044.0h-3.70zM896.2 860.2h3.70V869.0h-3.70zM896.2 1044.0h3.70V1052.7h-3.70zM899.9 860.2h3.70V869.0h-3.70zM899.9 1061.5h3.70V1070.2h-3.70zM903.6 842.7h3.70V860.2h-3.70zM903.6 1070.2h3.70V1079.0h-3.70zM907.3 842.7h3.70V851.5h-3.70zM907.3 1087.7h3.70V1096.5h-3.70zM911.0 1079.0h3.70V1087.7h-3.70zM911.0 1166.5h3.70V1168.4h-3.70zM914.7 816.5h3.70V825.2h-3.70zM914.7 842.7h3.70V851.5h-3.70zM914.7 1061.5h3.70V1070.2h-3.70zM914.7 1122.7h3.70V1131.5h-3.70zM918.4 860.2h3.70V886.5h-3.70zM918.4 1122.7h3.70V1140.2h-3.70zM918.4 1149.0h3.70V1157.7h-3.70zM922.1 1070.2h3.70V1079.0h-3.70zM922.1 1087.7h3.70V1096.5h-3.70zM925.8 842.7h3.70V851.5h-3.70zM925.8 1105.2h3.70V1114.0h-3.70zM929.5 877.7h3.70V886.5h-3.70zM929.5 912.7h3.70V921.5h-3.70zM929.5 1026.5h3.70V1044.0h-3.70zM929.5 1079.0h3.70V1087.7h-3.70zM933.2 825.2h3.70V860.2h-3.70zM933.2 869.0h3.70V877.7h-3.70zM933.2 886.5h3.70V895.2h-3.70zM936.9 877.7h3.70V895.2h-3.70zM936.9 1017.7h3.70V1026.5h-3.70zM940.6 834.0h3.70V851.5h-3.70zM940.6 1061.5h3.70V1070.2h-3.70zM944.3 755.2h3.70V772.7h-3.70zM944.3 781.5h3.70V799.0h-3.70zM944.3 1096.5h3.70V1114.0h-3.70zM944.3 1140.2h3.70V1149.0h-3.70zM948.0 816.5h3.70V834.0h-3.70zM951.7 842.7h3.70V860.2h-3.70zM955.4 790.2h3.70V799.0h-3.70zM955.4 1079.0h3.70V1096.5h-3.70zM959.1 764.0h3.70V772.7h-3.70zM959.1 1070.2h3.70V1079.0h-3.70zM959.1 1087.7h3.70V1105.2h-3.70zM962.8 807.7h3.70V816.5h-3.70zM962.8 1061.5h3.70V1070.2h-3.70zM962.8 1079.0h3.70V1087.7h-3.70zM962.8 1105.2h3.70V1122.7h-3.70zM966.5 790.2h3.70V816.5h-3.70zM966.5 1044.0h3.70V1052.7h-3.70zM970.2 772.7h3.70V799.0h-3.70zM970.2 1061.5h3.70V1079.0h-3.70zM970.2 1096.5h3.70V1105.2h-3.70zM973.9 1017.7h3.70V1035.2h-3.70zM977.6 781.5h3.70V790.2h-3.70zM977.6 834.0h3.70V851.5h-3.70zM981.3 825.2h3.70V842.7h-3.70zM985.0 764.0h3.70V772.7h-3.70zM985.0 781.5h3.70V790.2h-3.70zM988.7 1044.0h3.70V1052.7h-3.70zM992.4 764.0h3.70V772.7h-3.70zM996.1 799.0h3.70V807.7h-3.70zM999.8 790.2h3.70V799.0h-3.70zM1003.4 939.0h3.70V947.7h-3.70zM1007.1 1044.0h3.70V1052.7h-3.70zM1018.2 711.5h3.70V720.2h-3.70zM1018.2 781.5h3.70V807.7h-3.70zM1018.2 816.5h3.70V825.2h-3.70zM1018.2 1017.7h3.70V1026.5h-3.70zM1029.3 711.5h3.70V720.2h-3.70zM1029.3 807.7h3.70V816.5h-3.70zM1033.0 694.0h3.70V702.7h-3.70zM1036.7 685.2h3.70V702.7h-3.70zM1036.7 772.7h3.70V781.5h-3.70zM1047.8 729.0h3.70V772.7h-3.70zM1062.6 781.5h3.70V790.2h-3.70zM1088.5 720.2h3.70V737.7h-3.70zM1088.5 1017.7h3.70V1026.5h-3.70zM1092.2 694.0h3.70V702.7h-3.70zM1092.2 799.0h3.70V807.7h-3.70zM1092.2 965.2h3.70V982.7h-3.70zM1095.9 702.7h3.70V729.0h-3.70zM1099.6 755.2h3.70V764.0h-3.70zM1099.6 781.5h3.70V807.7h-3.70zM1099.6 842.7h3.70V851.5h-3.70zM1103.3 869.0h3.70V895.2h-3.70zM1103.3 912.7h3.70V930.2h-3.70zM1107.0 816.5h3.70V842.7h-3.70zM1107.0 947.7h3.70V965.2h-3.70zM1110.7 764.0h3.70V781.5h-3.70zM1114.4 711.5h3.70V755.2h-3.70zM1114.4 764.0h3.70V772.7h-3.70zM1118.1 781.5h3.70V790.2h-3.70zM1121.8 702.7h3.70V720.2h-3.70zM1121.8 729.0h3.70V737.7h-3.70zM1121.8 982.7h3.70V991.5h-3.70zM1125.5 746.5h3.70V755.2h-3.70zM1125.5 764.0h3.70V772.7h-3.70zM1125.5 781.5h3.70V790.2h-3.70zM1125.5 816.5h3.70V834.0h-3.70zM1125.5 860.2h3.70V869.0h-3.70zM1129.2 711.5h3.70V720.2h-3.70zM1132.9 886.5h3.70V895.2h-3.70zM1136.6 825.2h3.70V842.7h-3.70zM1136.6 860.2h3.70V869.0h-3.70zM1136.6 1017.7h3.70V1026.5h-3.70zM1140.3 807.7h3.70V816.5h-3.70zM1140.3 869.0h3.70V877.7h-3.70zM1140.3 895.2h3.70V912.7h-3.70zM1144.0 877.7h3.70V886.5h-3.70zM1147.7 711.5h3.70V720.2h-3.70zM1147.7 729.0h3.70V737.7h-3.70zM1147.7 781.5h3.70V790.2h-3.70zM1147.7 807.7h3.70V816.5h-3.70zM1151.3 737.7h3.70V772.7h-3.70zM1155.0 772.7h3.70V799.0h-3.70zM1155.0 877.7h3.70V886.5h-3.70zM1155.0 921.5h3.70V930.2h-3.70zM1155.0 939.0h3.70V947.7h-3.70zM1158.7 825.2h3.70V834.0h-3.70zM1158.7 842.7h3.70V877.7h-3.70zM1162.4 825.2h3.70V842.7h-3.70zM1169.8 650.2h3.70V667.7h-3.70zM1169.8 685.2h3.70V694.0h-3.70zM1169.8 729.0h3.70V737.7h-3.70zM1169.8 746.5h3.70V755.2h-3.70zM1169.8 851.5h3.70V860.2h-3.70zM1169.8 869.0h3.70V886.5h-3.70zM1169.8 965.2h3.70V974.0h-3.70zM1173.5 676.5h3.70V685.2h-3.70zM1173.5 702.7h3.70V711.5h-3.70zM1173.5 790.2h3.70V807.7h-3.70zM1177.2 816.5h3.70V834.0h-3.70zM1180.9 702.7h3.70V711.5h-3.70zM1180.9 746.5h3.70V755.2h-3.70zM1180.9 886.5h3.70V895.2h-3.70zM1184.6 650.2h3.70V659.0h-3.70zM1188.3 711.5h3.70V720.2h-3.70zM1192.0 755.2h3.70V764.0h-3.70zM1192.0 982.7h3.70V991.5h-3.70zM1195.7 571.5h3.70V580.2h-3.70zM1195.7 606.5h3.70V615.2h-3.70zM1199.4 676.5h3.70V685.2h-3.70zM1199.4 694.0h3.70V720.2h-3.70zM1199.4 737.7h3.70V746.5h-3.70zM1203.1 676.5h3.70V685.2h-3.70zM1203.1 702.7h3.70V720.2h-3.70zM1206.8 729.0h3.70V737.7h-3.70zM1206.8 965.2h3.70V974.0h-3.70zM1210.5 711.5h3.70V720.2h-3.70zM1210.5 834.0h3.70V842.7h-3.70zM1210.5 851.5h3.70V869.0h-3.70zM1210.5 921.5h3.70V965.2h-3.70zM1210.5 974.0h3.70V982.7h-3.70zM1214.2 755.2h3.70V764.0h-3.70zM1217.9 711.5h3.70V720.2h-3.70zM1217.9 746.5h3.70V764.0h-3.70zM1221.6 676.5h3.70V685.2h-3.70zM1221.6 694.0h3.70V702.7h-3.70zM1225.3 667.7h3.70V676.5h-3.70zM1229.0 711.5h3.70V720.2h-3.70zM1229.0 965.2h3.70V982.7h-3.70zM1229.0 1026.5h3.70V1035.2h-3.70zM1232.7 755.2h3.70V772.7h-3.70zM1232.7 807.7h3.70V816.5h-3.70zM1232.7 825.2h3.70V834.0h-3.70zM1232.7 842.7h3.70V860.2h-3.70zM1232.7 974.0h3.70V982.7h-3.70zM1236.4 895.2h3.70V912.7h-3.70zM1236.4 947.7h3.70V965.2h-3.70zM1240.1 676.5h3.70V685.2h-3.70zM1240.1 720.2h3.70V737.7h-3.70zM1240.1 869.0h3.70V886.5h-3.70zM1240.1 904.0h3.70V912.7h-3.70zM1243.8 667.7h3.70V685.2h-3.70zM1243.8 702.7h3.70V737.7h-3.70zM1247.5 667.7h3.70V676.5h-3.70zM1251.2 641.5h3.70V650.2h-3.70zM1254.9 571.5h3.70V580.2h-3.70zM1262.3 720.2h3.70V737.7h-3.70zM1262.3 930.2h3.70V939.0h-3.70zM1262.3 947.7h3.70V965.2h-3.70zM1266.0 711.5h3.70V720.2h-3.70zM1266.0 755.2h3.70V764.0h-3.70zM1266.0 956.5h3.70V982.7h-3.70zM1269.7 632.7h3.70V641.5h-3.70zM1269.7 711.5h3.70V720.2h-3.70zM1273.4 711.5h3.70V720.2h-3.70zM1273.4 729.0h3.70V746.5h-3.70zM1273.4 842.7h3.70V860.2h-3.70zM1273.4 939.0h3.70V947.7h-3.70zM1273.4 956.5h3.70V965.2h-3.70zM1277.1 711.5h3.70V720.2h-3.70zM1277.1 729.0h3.70V764.0h-3.70zM1280.8 685.2h3.70V702.7h-3.70zM1280.8 746.5h3.70V755.2h-3.70zM1284.5 606.5h3.70V624.0h-3.70zM1284.5 912.7h3.70V939.0h-3.70zM1284.5 947.7h3.70V956.5h-3.70zM1284.5 974.0h3.70V991.5h-3.70zM1288.2 930.2h3.70V965.2h-3.70zM1295.6 650.2h3.70V667.7h-3.70zM1295.6 974.0h3.70V991.5h-3.70zM1299.2 676.5h3.70V694.0h-3.70zM1302.9 659.0h3.70V667.7h-3.70zM1302.9 895.2h3.70V904.0h-3.70zM1302.9 912.7h3.70V930.2h-3.70zM1306.6 632.7h3.70V641.5h-3.70zM1306.6 650.2h3.70V659.0h-3.70zM1306.6 912.7h3.70V921.5h-3.70zM1306.6 974.0h3.70V982.7h-3.70zM1310.3 834.0h3.70V842.7h-3.70zM1310.3 851.5h3.70V860.2h-3.70zM1314.0 650.2h3.70V659.0h-3.70zM1314.0 667.7h3.70V676.5h-3.70zM1314.0 851.5h3.70V860.2h-3.70zM1314.0 904.0h3.70V912.7h-3.70zM1317.7 694.0h3.70V702.7h-3.70zM1317.7 799.0h3.70V834.0h-3.70zM1317.7 842.7h3.70V851.5h-3.70zM1317.7 886.5h3.70V904.0h-3.70zM1317.7 921.5h3.70V930.2h-3.70zM1317.7 956.5h3.70V974.0h-3.70zM1317.7 982.7h3.70V991.5h-3.70zM1321.4 650.2h3.70V659.0h-3.70zM1321.4 694.0h3.70V702.7h-3.70zM1325.1 615.2h3.70V641.5h-3.70zM1325.1 650.2h3.70V659.0h-3.70zM1325.1 956.5h3.70V965.2h-3.70zM1328.8 650.2h3.70V685.2h-3.70zM1328.8 904.0h3.70V912.7h-3.70zM1328.8 921.5h3.70V930.2h-3.70zM1328.8 991.5h3.70V1000.2h-3.70zM1332.5 764.0h3.70V790.2h-3.70zM1336.2 737.7h3.70V746.5h-3.70zM1336.2 974.0h3.70V991.5h-3.70zM1339.9 580.2h3.70V589.0h-3.70zM1339.9 606.5h3.70V641.5h-3.70zM1343.6 685.2h3.70V720.2h-3.70zM1343.6 895.2h3.70V904.0h-3.70zM1343.6 982.7h3.70V991.5h-3.70zM1347.3 597.7h3.70V606.5h-3.70zM1347.3 615.2h3.70V641.5h-3.70zM1347.3 1009.0h3.70V1017.7h-3.70zM1354.7 615.2h3.70V624.0h-3.70zM1354.7 650.2h3.70V667.7h-3.70zM1354.7 676.5h3.70V685.2h-3.70zM1354.7 694.0h3.70V702.7h-3.70zM1358.4 667.7h3.70V685.2h-3.70zM1362.1 702.7h3.70V711.5h-3.70zM1362.1 982.7h3.70V991.5h-3.70zM1365.8 580.2h3.70V597.7h-3.70zM1365.8 606.5h3.70V615.2h-3.70zM1365.8 685.2h3.70V702.7h-3.70z"/><path fill="#004dff" d="M197.4 974.0h3.70V991.5h-3.70zM201.1 877.7h3.70V886.5h-3.70zM201.1 1009.0h3.70V1017.7h-3.70zM204.8 869.0h3.70V877.7h-3.70zM204.8 974.0h3.70V982.7h-3.70zM204.8 1035.2h3.70V1044.0h-3.70zM204.8 1070.2h3.70V1079.0h-3.70zM208.5 834.0h3.70V842.7h-3.70zM208.5 886.5h3.70V895.2h-3.70zM208.5 912.7h3.70V921.5h-3.70zM208.5 939.0h3.70V947.7h-3.70zM208.5 956.5h3.70V965.2h-3.70zM208.5 1079.0h3.70V1087.7h-3.70zM212.2 869.0h3.70V877.7h-3.70zM212.2 956.5h3.70V965.2h-3.70zM212.2 1009.0h3.70V1017.7h-3.70zM215.9 947.7h3.70V956.5h-3.70zM215.9 1009.0h3.70V1017.7h-3.70zM215.9 1026.5h3.70V1035.2h-3.70zM215.9 1061.5h3.70V1070.2h-3.70zM215.9 1087.7h3.70V1105.2h-3.70zM219.6 834.0h3.70V842.7h-3.70zM219.6 1026.5h3.70V1052.7h-3.70zM223.3 781.5h3.70V790.2h-3.70zM223.3 807.7h3.70V816.5h-3.70zM227.0 746.5h3.70V755.2h-3.70zM227.0 764.0h3.70V781.5h-3.70zM227.0 1114.0h3.70V1122.7h-3.70zM234.4 904.0h3.70V912.7h-3.70zM234.4 1052.7h3.70V1061.5h-3.70zM238.1 947.7h3.70V965.2h-3.70zM238.1 974.0h3.70V982.7h-3.70zM238.1 991.5h3.70V1000.2h-3.70zM249.2 737.7h3.70V746.5h-3.70zM249.2 1140.2h3.70V1149.0h-3.70zM256.6 956.5h3.70V965.2h-3.70zM264.0 1017.7h3.70V1026.5h-3.70zM264.0 1166.5h3.70V1168.4h-3.70zM271.3 1052.7h3.70V1061.5h-3.70zM271.3 1157.7h3.70V1166.5h-3.70zM275.0 1087.7h3.70V1096.5h-3.70zM275.0 1114.0h3.70V1122.7h-3.70zM275.0 1140.2h3.70V1149.0h-3.70zM278.7 1035.2h3.70V1044.0h-3.70zM278.7 1061.5h3.70V1070.2h-3.70zM278.7 1079.0h3.70V1096.5h-3.70zM278.7 1105.2h3.70V1114.0h-3.70zM278.7 1122.7h3.70V1140.2h-3.70zM282.4 982.7h3.70V991.5h-3.70zM282.4 1026.5h3.70V1052.7h-3.70zM293.5 982.7h3.70V991.5h-3.70zM297.2 781.5h3.70V790.2h-3.70zM297.2 974.0h3.70V982.7h-3.70zM300.9 860.2h3.70V869.0h-3.70zM300.9 877.7h3.70V886.5h-3.70zM300.9 912.7h3.70V921.5h-3.70zM304.6 772.7h3.70V781.5h-3.70zM319.4 886.5h3.70V921.5h-3.70zM323.1 912.7h3.70V930.2h-3.70zM326.8 886.5h3.70V895.2h-3.70zM326.8 912.7h3.70V930.2h-3.70zM330.5 895.2h3.70V904.0h-3.70zM334.2 904.0h3.70V921.5h-3.70zM337.9 877.7h3.70V886.5h-3.70zM337.9 1079.0h3.70V1087.7h-3.70zM341.6 834.0h3.70V851.5h-3.70zM341.6 886.5h3.70V895.2h-3.70zM341.6 904.0h3.70V912.7h-3.70zM345.3 755.2h3.70V772.7h-3.70zM345.3 851.5h3.70V860.2h-3.70zM345.3 869.0h3.70V877.7h-3.70zM345.3 1157.7h3.70V1166.5h-3.70zM349.0 807.7h3.70V816.5h-3.70zM349.0 825.2h3.70V834.0h-3.70zM349.0 904.0h3.70V912.7h-3.70zM349.0 1087.7h3.70V1105.2h-3.70zM352.7 764.0h3.70V781.5h-3.70zM352.7 816.5h3.70V851.5h-3.70zM356.4 921.5h3.70V939.0h-3.70zM356.4 947.7h3.70V956.5h-3.70zM356.4 1044.0h3.70V1061.5h-3.70zM356.4 1070.2h3.70V1079.0h-3.70zM356.4 1140.2h3.70V1149.0h-3.70zM360.1 816.5h3.70V851.5h-3.70zM360.1 965.2h3.70V974.0h-3.70zM360.1 1087.7h3.70V1096.5h-3.70zM363.8 886.5h3.70V904.0h-3.70zM367.5 842.7h3.70V860.2h-3.70zM367.5 877.7h3.70V886.5h-3.70zM367.5 904.0h3.70V921.5h-3.70zM367.5 939.0h3.70V947.7h-3.70zM367.5 956.5h3.70V974.0h-3.70zM367.5 991.5h3.70V1000.2h-3.70zM371.2 799.0h3.70V816.5h-3.70zM371.2 825.2h3.70V834.0h-3.70zM371.2 1026.5h3.70V1044.0h-3.70zM371.2 1157.7h3.70V1166.5h-3.70zM374.9 930.2h3.70V939.0h-3.70zM374.9 965.2h3.70V974.0h-3.70zM374.9 991.5h3.70V1009.0h-3.70zM374.9 1052.7h3.70V1061.5h-3.70zM378.6 956.5h3.70V965.2h-3.70zM378.6 974.0h3.70V982.7h-3.70zM378.6 991.5h3.70V1000.2h-3.70zM382.3 816.5h3.70V825.2h-3.70zM382.3 1140.2h3.70V1149.0h-3.70zM386.0 816.5h3.70V825.2h-3.70zM386.0 939.0h3.70V947.7h-3.70zM389.7 851.5h3.70V860.2h-3.70zM389.7 1044.0h3.70V1052.7h-3.70zM389.7 1131.5h3.70V1140.2h-3.70zM393.4 790.2h3.70V807.7h-3.70zM393.4 869.0h3.70V877.7h-3.70zM397.1 869.0h3.70V877.7h-3.70zM397.1 886.5h3.70V921.5h-3.70zM397.1 982.7h3.70V991.5h-3.70zM400.8 965.2h3.70V974.0h-3.70zM400.8 1131.5h3.70V1140.2h-3.70zM404.5 886.5h3.70V921.5h-3.70zM404.5 930.2h3.70V947.7h-3.70zM419.2 834.0h3.70V842.7h-3.70zM419.2 877.7h3.70V895.2h-3.70zM422.9 790.2h3.70V799.0h-3.70zM422.9 807.7h3.70V816.5h-3.70zM422.9 886.5h3.70V895.2h-3.70zM426.6 834.0h3.70V842.7h-3.70zM426.6 851.5h3.70V869.0h-3.70zM426.6 877.7h3.70V904.0h-3.70zM426.6 947.7h3.70V956.5h-3.70zM426.6 965.2h3.70V982.7h-3.70zM430.3 930.2h3.70V939.0h-3.70zM434.0 886.5h3.70V904.0h-3.70zM434.0 921.5h3.70V930.2h-3.70zM434.0 939.0h3.70V956.5h-3.70zM434.0 965.2h3.70V974.0h-3.70zM434.0 982.7h3.70V991.5h-3.70zM437.7 842.7h3.70V851.5h-3.70zM437.7 886.5h3.70V904.0h-3.70zM437.7 1035.2h3.70V1044.0h-3.70zM437.7 1079.0h3.70V1096.5h-3.70zM437.7 1114.0h3.70V1122.7h-3.70zM437.7 1131.5h3.70V1140.2h-3.70zM441.4 807.7h3.70V825.2h-3.70zM441.4 1096.5h3.70V1105.2h-3.70zM441.4 1122.7h3.70V1131.5h-3.70zM445.1 790.2h3.70V799.0h-3.70zM445.1 834.0h3.70V842.7h-3.70zM445.1 860.2h3.70V869.0h-3.70zM448.8 1149.0h3.70V1166.5h-3.70zM452.5 877.7h3.70V886.5h-3.70zM452.5 982.7h3.70V991.5h-3.70zM452.5 1035.2h3.70V1044.0h-3.70zM456.2 851.5h3.70V860.2h-3.70zM456.2 921.5h3.70V930.2h-3.70zM456.2 974.0h3.70V991.5h-3.70zM456.2 1000.2h3.70V1009.0h-3.70zM456.2 1052.7h3.70V1061.5h-3.70zM456.2 1096.5h3.70V1114.0h-3.70zM459.9 895.2h3.70V904.0h-3.70zM459.9 912.7h3.70V921.5h-3.70zM459.9 947.7h3.70V956.5h-3.70zM459.9 965.2h3.70V974.0h-3.70zM459.9 1026.5h3.70V1035.2h-3.70zM463.6 781.5h3.70V816.5h-3.70zM463.6 869.0h3.70V877.7h-3.70zM463.6 886.5h3.70V895.2h-3.70zM463.6 991.5h3.70V1009.0h-3.70zM463.6 1105.2h3.70V1114.0h-3.70zM467.3 869.0h3.70V877.7h-3.70zM467.3 1114.0h3.70V1122.7h-3.70zM471.0 912.7h3.70V939.0h-3.70zM471.0 1026.5h3.70V1044.0h-3.70zM471.0 1087.7h3.70V1140.2h-3.70zM471.0 1157.7h3.70V1168.4h-3.70zM474.7 685.2h3.70V711.5h-3.70zM474.7 729.0h3.70V737.7h-3.70zM474.7 1131.5h3.70V1140.2h-3.70zM478.4 632.7h3.70V641.5h-3.70zM478.4 694.0h3.70V702.7h-3.70zM478.4 1140.2h3.70V1168.4h-3.70zM482.1 676.5h3.70V685.2h-3.70zM482.1 694.0h3.70V702.7h-3.70zM482.1 720.2h3.70V729.0h-3.70zM482.1 895.2h3.70V921.5h-3.70zM482.1 947.7h3.70V956.5h-3.70zM482.1 991.5h3.70V1009.0h-3.70zM482.1 1079.0h3.70V1087.7h-3.70zM482.1 1096.5h3.70V1105.2h-3.70zM482.1 1166.5h3.70V1168.4h-3.70zM485.8 1131.5h3.70V1166.5h-3.70zM489.5 667.7h3.70V676.5h-3.70zM489.5 1122.7h3.70V1140.2h-3.70zM489.5 1166.5h3.70V1168.4h-3.70zM493.2 711.5h3.70V720.2h-3.70zM493.2 991.5h3.70V1000.2h-3.70zM493.2 1070.2h3.70V1079.0h-3.70zM493.2 1157.7h3.70V1166.5h-3.70zM496.9 1000.2h3.70V1009.0h-3.70zM496.9 1052.7h3.70V1070.2h-3.70zM496.9 1079.0h3.70V1105.2h-3.70zM496.9 1122.7h3.70V1131.5h-3.70zM496.9 1157.7h3.70V1168.4h-3.70zM500.6 729.0h3.70V737.7h-3.70zM500.6 947.7h3.70V956.5h-3.70zM500.6 974.0h3.70V982.7h-3.70zM500.6 991.5h3.70V1000.2h-3.70zM500.6 1009.0h3.70V1017.7h-3.70zM500.6 1070.2h3.70V1079.0h-3.70zM500.6 1105.2h3.70V1122.7h-3.70zM504.3 650.2h3.70V676.5h-3.70zM504.3 685.2h3.70V694.0h-3.70zM504.3 729.0h3.70V737.7h-3.70zM508.0 755.2h3.70V764.0h-3.70zM508.0 930.2h3.70V939.0h-3.70zM508.0 947.7h3.70V965.2h-3.70zM508.0 1017.7h3.70V1026.5h-3.70zM508.0 1035.2h3.70V1044.0h-3.70zM508.0 1061.5h3.70V1070.2h-3.70zM508.0 1087.7h3.70V1096.5h-3.70zM508.0 1131.5h3.70V1140.2h-3.70zM511.7 694.0h3.70V702.7h-3.70zM511.7 720.2h3.70V729.0h-3.70zM511.7 991.5h3.70V1009.0h-3.70zM511.7 1017.7h3.70V1035.2h-3.70zM511.7 1096.5h3.70V1114.0h-3.70zM515.4 694.0h3.70V711.5h-3.70zM515.4 1026.5h3.70V1035.2h-3.70zM515.4 1044.0h3.70V1052.7h-3.70zM515.4 1079.0h3.70V1087.7h-3.70zM519.1 606.5h3.70V615.2h-3.70zM522.8 667.7h3.70V685.2h-3.70zM522.8 1166.5h3.70V1168.4h-3.70zM526.5 632.7h3.70V641.5h-3.70zM526.5 650.2h3.70V659.0h-3.70zM526.5 1079.0h3.70V1087.7h-3.70zM530.2 676.5h3.70V685.2h-3.70zM530.2 737.7h3.70V746.5h-3.70zM530.2 930.2h3.70V965.2h-3.70zM530.2 1017.7h3.70V1026.5h-3.70zM530.2 1052.7h3.70V1061.5h-3.70zM530.2 1105.2h3.70V1114.0h-3.70zM533.9 737.7h3.70V746.5h-3.70zM533.9 974.0h3.70V982.7h-3.70zM533.9 991.5h3.70V1000.2h-3.70zM533.9 1009.0h3.70V1035.2h-3.70zM533.9 1044.0h3.70V1052.7h-3.70zM537.6 729.0h3.70V737.7h-3.70zM537.6 1070.2h3.70V1079.0h-3.70zM537.6 1096.5h3.70V1114.0h-3.70zM537.6 1131.5h3.70V1140.2h-3.70zM541.3 764.0h3.70V772.7h-3.70zM545.0 650.2h3.70V659.0h-3.70zM545.0 711.5h3.70V729.0h-3.70zM545.0 737.7h3.70V746.5h-3.70zM545.0 1035.2h3.70V1044.0h-3.70zM545.0 1087.7h3.70V1096.5h-3.70zM545.0 1114.0h3.70V1122.7h-3.70zM548.7 1000.2h3.70V1035.2h-3.70zM548.7 1096.5h3.70V1105.2h-3.70zM548.7 1131.5h3.70V1140.2h-3.70zM552.4 737.7h3.70V755.2h-3.70zM552.4 1079.0h3.70V1096.5h-3.70zM552.4 1114.0h3.70V1166.5h-3.70zM556.1 737.7h3.70V746.5h-3.70zM556.1 764.0h3.70V772.7h-3.70zM556.1 991.5h3.70V1009.0h-3.70zM556.1 1017.7h3.70V1035.2h-3.70zM556.1 1044.0h3.70V1070.2h-3.70zM556.1 1079.0h3.70V1087.7h-3.70zM556.1 1122.7h3.70V1131.5h-3.70zM559.8 702.7h3.70V720.2h-3.70zM559.8 729.0h3.70V737.7h-3.70zM559.8 939.0h3.70V947.7h-3.70zM559.8 956.5h3.70V1000.2h-3.70zM559.8 1017.7h3.70V1026.5h-3.70zM559.8 1044.0h3.70V1079.0h-3.70zM559.8 1105.2h3.70V1114.0h-3.70zM563.5 659.0h3.70V702.7h-3.70zM563.5 711.5h3.70V720.2h-3.70zM563.5 746.5h3.70V755.2h-3.70zM563.5 1087.7h3.70V1096.5h-3.70zM567.1 737.7h3.70V746.5h-3.70zM567.1 1035.2h3.70V1070.2h-3.70zM567.1 1140.2h3.70V1157.7h-3.70zM570.8 947.7h3.70V956.5h-3.70zM574.5 729.0h3.70V737.7h-3.70zM574.5 1105.2h3.70V1122.7h-3.70zM574.5 1131.5h3.70V1140.2h-3.70zM574.5 1149.0h3.70V1166.5h-3.70zM578.2 1114.0h3.70V1140.2h-3.70zM578.2 1157.7h3.70V1168.4h-3.70zM581.9 1070.2h3.70V1079.0h-3.70zM581.9 1087.7h3.70V1096.5h-3.70zM581.9 1105.2h3.70V1122.7h-3.70zM585.6 799.0h3.70V825.2h-3.70zM585.6 1009.0h3.70V1044.0h-3.70zM589.3 755.2h3.70V764.0h-3.70zM589.3 1122.7h3.70V1131.5h-3.70zM593.0 632.7h3.70V650.2h-3.70zM593.0 702.7h3.70V720.2h-3.70zM596.7 746.5h3.70V755.2h-3.70zM596.7 764.0h3.70V781.5h-3.70zM596.7 1044.0h3.70V1052.7h-3.70zM596.7 1140.2h3.70V1149.0h-3.70zM600.4 799.0h3.70V816.5h-3.70zM600.4 1087.7h3.70V1114.0h-3.70zM600.4 1149.0h3.70V1157.7h-3.70zM604.1 676.5h3.70V685.2h-3.70zM604.1 729.0h3.70V737.7h-3.70zM604.1 1166.5h3.70V1168.4h-3.70zM607.8 667.7h3.70V676.5h-3.70zM607.8 694.0h3.70V711.5h-3.70zM607.8 720.2h3.70V746.5h-3.70zM611.5 737.7h3.70V746.5h-3.70zM611.5 1140.2h3.70V1149.0h-3.70zM615.2 772.7h3.70V781.5h-3.70zM615.2 1070.2h3.70V1087.7h-3.70zM615.2 1131.5h3.70V1140.2h-3.70zM615.2 1157.7h3.70V1166.5h-3.70zM618.9 772.7h3.70V781.5h-3.70zM618.9 1061.5h3.70V1087.7h-3.70zM622.6 772.7h3.70V781.5h-3.70zM622.6 790.2h3.70V799.0h-3.70zM622.6 1026.5h3.70V1044.0h-3.70zM622.6 1061.5h3.70V1070.2h-3.70zM622.6 1166.5h3.70V1168.4h-3.70zM626.3 807.7h3.70V816.5h-3.70zM630.0 702.7h3.70V711.5h-3.70zM630.0 720.2h3.70V737.7h-3.70zM630.0 1157.7h3.70V1168.4h-3.70zM633.7 755.2h3.70V764.0h-3.70zM633.7 1166.5h3.70V1168.4h-3.70zM637.4 807.7h3.70V816.5h-3.70zM637.4 1114.0h3.70V1149.0h-3.70zM641.1 764.0h3.70V772.7h-3.70zM641.1 1026.5h3.70V1052.7h-3.70zM641.1 1079.0h3.70V1087.7h-3.70zM644.8 816.5h3.70V834.0h-3.70zM644.8 842.7h3.70V851.5h-3.70zM644.8 860.2h3.70V869.0h-3.70zM644.8 877.7h3.70V886.5h-3.70zM644.8 1070.2h3.70V1087.7h-3.70zM644.8 1096.5h3.70V1105.2h-3.70zM648.5 799.0h3.70V807.7h-3.70zM648.5 825.2h3.70V834.0h-3.70zM648.5 1114.0h3.70V1140.2h-3.70zM648.5 1166.5h3.70V1168.4h-3.70zM652.2 1114.0h3.70V1122.7h-3.70zM655.9 834.0h3.70V842.7h-3.70zM655.9 877.7h3.70V886.5h-3.70zM655.9 1061.5h3.70V1105.2h-3.70zM655.9 1122.7h3.70V1131.5h-3.70zM659.6 816.5h3.70V860.2h-3.70zM663.3 869.0h3.70V886.5h-3.70zM663.3 1105.2h3.70V1122.7h-3.70zM663.3 1149.0h3.70V1157.7h-3.70zM667.0 1035.2h3.70V1044.0h-3.70zM667.0 1052.7h3.70V1061.5h-3.70zM667.0 1096.5h3.70V1114.0h-3.70zM667.0 1140.2h3.70V1149.0h-3.70zM670.7 1044.0h3.70V1061.5h-3.70zM670.7 1070.2h3.70V1079.0h-3.70zM670.7 1087.7h3.70V1096.5h-3.70zM670.7 1105.2h3.70V1114.0h-3.70zM674.4 1052.7h3.70V1061.5h-3.70zM678.1 1052.7h3.70V1061.5h-3.70zM678.1 1096.5h3.70V1114.0h-3.70zM678.1 1157.7h3.70V1166.5h-3.70zM681.8 1052.7h3.70V1061.5h-3.70zM681.8 1070.2h3.70V1079.0h-3.70zM685.5 1140.2h3.70V1149.0h-3.70zM685.5 1157.7h3.70V1166.5h-3.70zM692.9 877.7h3.70V895.2h-3.70zM692.9 1087.7h3.70V1096.5h-3.70zM700.3 939.0h3.70V947.7h-3.70zM700.3 1131.5h3.70V1149.0h-3.70zM704.0 1105.2h3.70V1114.0h-3.70zM704.0 1131.5h3.70V1149.0h-3.70zM707.7 1157.7h3.70V1166.5h-3.70zM715.0 1140.2h3.70V1149.0h-3.70zM722.4 904.0h3.70V912.7h-3.70zM726.1 895.2h3.70V904.0h-3.70zM726.1 1114.0h3.70V1131.5h-3.70zM729.8 807.7h3.70V816.5h-3.70zM729.8 1096.5h3.70V1105.2h-3.70zM729.8 1157.7h3.70V1166.5h-3.70zM733.5 816.5h3.70V825.2h-3.70zM737.2 1070.2h3.70V1079.0h-3.70zM737.2 1096.5h3.70V1114.0h-3.70zM737.2 1140.2h3.70V1149.0h-3.70zM740.9 790.2h3.70V799.0h-3.70zM740.9 816.5h3.70V825.2h-3.70zM740.9 860.2h3.70V869.0h-3.70zM740.9 877.7h3.70V895.2h-3.70zM740.9 1052.7h3.70V1079.0h-3.70zM740.9 1087.7h3.70V1105.2h-3.70zM740.9 1122.7h3.70V1131.5h-3.70zM740.9 1157.7h3.70V1166.5h-3.70zM744.6 939.0h3.70V947.7h-3.70zM744.6 1061.5h3.70V1079.0h-3.70zM744.6 1166.5h3.70V1168.4h-3.70zM748.3 860.2h3.70V869.0h-3.70zM748.3 904.0h3.70V930.2h-3.70zM748.3 939.0h3.70V947.7h-3.70zM752.0 895.2h3.70V904.0h-3.70zM755.7 790.2h3.70V825.2h-3.70zM755.7 895.2h3.70V904.0h-3.70zM755.7 1105.2h3.70V1114.0h-3.70zM759.4 930.2h3.70V956.5h-3.70zM759.4 974.0h3.70V991.5h-3.70zM759.4 1000.2h3.70V1017.7h-3.70zM759.4 1035.2h3.70V1052.7h-3.70zM763.1 851.5h3.70V869.0h-3.70zM763.1 1114.0h3.70V1122.7h-3.70zM766.8 895.2h3.70V912.7h-3.70zM770.5 904.0h3.70V912.7h-3.70zM770.5 921.5h3.70V930.2h-3.70zM774.2 904.0h3.70V912.7h-3.70zM774.2 1079.0h3.70V1087.7h-3.70zM777.9 912.7h3.70V921.5h-3.70zM777.9 991.5h3.70V1000.2h-3.70zM777.9 1009.0h3.70V1017.7h-3.70zM777.9 1087.7h3.70V1122.7h-3.70zM781.6 904.0h3.70V912.7h-3.70zM781.6 982.7h3.70V1000.2h-3.70zM781.6 1052.7h3.70V1070.2h-3.70zM781.6 1105.2h3.70V1114.0h-3.70zM785.3 860.2h3.70V877.7h-3.70zM785.3 1052.7h3.70V1061.5h-3.70zM785.3 1079.0h3.70V1096.5h-3.70zM785.3 1105.2h3.70V1149.0h-3.70zM789.0 877.7h3.70V886.5h-3.70zM789.0 1079.0h3.70V1087.7h-3.70zM792.7 851.5h3.70V877.7h-3.70zM792.7 1114.0h3.70V1131.5h-3.70zM792.7 1140.2h3.70V1149.0h-3.70zM796.4 860.2h3.70V869.0h-3.70zM800.1 851.5h3.70V860.2h-3.70zM803.8 799.0h3.70V807.7h-3.70zM807.5 825.2h3.70V834.0h-3.70zM807.5 1070.2h3.70V1114.0h-3.70zM811.2 807.7h3.70V842.7h-3.70zM811.2 1087.7h3.70V1105.2h-3.70zM811.2 1114.0h3.70V1122.7h-3.70zM814.9 842.7h3.70V851.5h-3.70zM814.9 1087.7h3.70V1096.5h-3.70zM814.9 1105.2h3.70V1122.7h-3.70zM814.9 1131.5h3.70V1140.2h-3.70zM814.9 1157.7h3.70V1166.5h-3.70zM818.6 860.2h3.70V869.0h-3.70zM818.6 1044.0h3.70V1052.7h-3.70zM818.6 1061.5h3.70V1096.5h-3.70zM822.3 877.7h3.70V886.5h-3.70zM822.3 1052.7h3.70V1061.5h-3.70zM822.3 1079.0h3.70V1087.7h-3.70zM826.0 860.2h3.70V869.0h-3.70zM826.0 877.7h3.70V886.5h-3.70zM826.0 1017.7h3.70V1035.2h-3.70zM826.0 1105.2h3.70V1114.0h-3.70zM826.0 1122.7h3.70V1140.2h-3.70zM829.7 851.5h3.70V860.2h-3.70zM829.7 877.7h3.70V886.5h-3.70zM833.4 834.0h3.70V877.7h-3.70zM833.4 1131.5h3.70V1140.2h-3.70zM837.1 860.2h3.70V869.0h-3.70zM837.1 1096.5h3.70V1105.2h-3.70zM840.8 825.2h3.70V834.0h-3.70zM840.8 1114.0h3.70V1122.7h-3.70zM844.5 816.5h3.70V834.0h-3.70zM844.5 1096.5h3.70V1114.0h-3.70zM848.2 1096.5h3.70V1105.2h-3.70zM848.2 1122.7h3.70V1140.2h-3.70zM851.9 799.0h3.70V807.7h-3.70zM851.9 816.5h3.70V825.2h-3.70zM851.9 834.0h3.70V842.7h-3.70zM851.9 1044.0h3.70V1052.7h-3.70zM851.9 1061.5h3.70V1079.0h-3.70zM855.6 764.0h3.70V772.7h-3.70zM855.6 1087.7h3.70V1105.2h-3.70zM855.6 1149.0h3.70V1166.5h-3.70zM859.2 860.2h3.70V869.0h-3.70zM859.2 1114.0h3.70V1131.5h-3.70zM862.9 842.7h3.70V851.5h-3.70zM862.9 1009.0h3.70V1017.7h-3.70zM866.6 877.7h3.70V886.5h-3.70zM866.6 1017.7h3.70V1035.2h-3.70zM870.3 834.0h3.70V842.7h-3.70zM870.3 1017.7h3.70V1026.5h-3.70zM870.3 1052.7h3.70V1061.5h-3.70zM874.0 886.5h3.70V895.2h-3.70zM874.0 1000.2h3.70V1044.0h-3.70zM877.7 1026.5h3.70V1035.2h-3.70zM877.7 1052.7h3.70V1061.5h-3.70zM877.7 1079.0h3.70V1096.5h-3.70zM877.7 1105.2h3.70V1131.5h-3.70zM877.7 1140.2h3.70V1149.0h-3.70zM877.7 1157.7h3.70V1166.5h-3.70zM881.4 1052.7h3.70V1079.0h-3.70zM881.4 1096.5h3.70V1114.0h-3.70zM885.1 886.5h3.70V895.2h-3.70zM888.8 825.2h3.70V834.0h-3.70zM888.8 1131.5h3.70V1149.0h-3.70zM892.5 895.2h3.70V904.0h-3.70zM892.5 912.7h3.70V921.5h-3.70zM892.5 1017.7h3.70V1026.5h-3.70zM896.2 869.0h3.70V877.7h-3.70zM899.9 1035.2h3.70V1044.0h-3.70zM911.0 1070.2h3.70V1079.0h-3.70zM914.7 851.5h3.70V877.7h-3.70zM918.4 1114.0h3.70V1122.7h-3.70zM922.1 825.2h3.70V842.7h-3.70zM922.1 851.5h3.70V860.2h-3.70zM922.1 1044.0h3.70V1052.7h-3.70zM922.1 1061.5h3.70V1070.2h-3.70zM925.8 851.5h3.70V860.2h-3.70zM925.8 1070.2h3.70V1079.0h-3.70zM925.8 1087.7h3.70V1105.2h-3.70zM925.8 1122.7h3.70V1131.5h-3.70zM929.5 895.2h3.70V912.7h-3.70zM929.5 1044.0h3.70V1061.5h-3.70zM933.2 1061.5h3.70V1070.2h-3.70zM936.9 895.2h3.70V904.0h-3.70zM936.9 991.5h3.70V1000.2h-3.70zM936.9 1009.0h3.70V1017.7h-3.70zM944.3 799.0h3.70V816.5h-3.70zM944.3 825.2h3.70V851.5h-3.70zM944.3 1017.7h3.70V1026.5h-3.70zM944.3 1087.7h3.70V1096.5h-3.70zM944.3 1114.0h3.70V1122.7h-3.70zM948.0 834.0h3.70V842.7h-3.70zM948.0 1052.7h3.70V1070.2h-3.70zM951.7 1009.0h3.70V1017.7h-3.70zM951.7 1070.2h3.70V1079.0h-3.70zM955.4 799.0h3.70V825.2h-3.70zM955.4 1052.7h3.70V1079.0h-3.70zM959.1 772.7h3.70V781.5h-3.70zM959.1 790.2h3.70V799.0h-3.70zM959.1 1079.0h3.70V1087.7h-3.70zM962.8 974.0h3.70V1000.2h-3.70zM962.8 1026.5h3.70V1061.5h-3.70zM966.5 991.5h3.70V1009.0h-3.70zM966.5 1035.2h3.70V1044.0h-3.70zM970.2 799.0h3.70V807.7h-3.70zM970.2 1017.7h3.70V1026.5h-3.70zM970.2 1044.0h3.70V1052.7h-3.70zM973.9 799.0h3.70V807.7h-3.70zM973.9 816.5h3.70V851.5h-3.70zM973.9 895.2h3.70V921.5h-3.70zM973.9 939.0h3.70V947.7h-3.70zM977.6 790.2h3.70V799.0h-3.70zM977.6 851.5h3.70V860.2h-3.70zM977.6 1061.5h3.70V1070.2h-3.70zM981.3 842.7h3.70V851.5h-3.70zM981.3 860.2h3.70V869.0h-3.70zM981.3 921.5h3.70V939.0h-3.70zM985.0 982.7h3.70V991.5h-3.70zM985.0 1044.0h3.70V1052.7h-3.70zM992.4 772.7h3.70V790.2h-3.70zM996.1 816.5h3.70V825.2h-3.70zM996.1 895.2h3.70V904.0h-3.70zM996.1 912.7h3.70V921.5h-3.70zM999.8 851.5h3.70V869.0h-3.70zM1003.4 921.5h3.70V930.2h-3.70zM1010.8 799.0h3.70V807.7h-3.70zM1010.8 825.2h3.70V834.0h-3.70zM1018.2 825.2h3.70V860.2h-3.70zM1018.2 965.2h3.70V991.5h-3.70zM1021.9 781.5h3.70V790.2h-3.70zM1025.6 921.5h3.70V930.2h-3.70zM1029.3 816.5h3.70V825.2h-3.70zM1088.5 737.7h3.70V764.0h-3.70zM1092.2 702.7h3.70V720.2h-3.70zM1092.2 729.0h3.70V737.7h-3.70zM1092.2 877.7h3.70V886.5h-3.70zM1095.9 676.5h3.70V685.2h-3.70zM1095.9 694.0h3.70V702.7h-3.70zM1095.9 729.0h3.70V737.7h-3.70zM1099.6 764.0h3.70V781.5h-3.70zM1099.6 834.0h3.70V842.7h-3.70zM1099.6 851.5h3.70V860.2h-3.70zM1099.6 956.5h3.70V974.0h-3.70zM1103.3 895.2h3.70V904.0h-3.70zM1103.3 930.2h3.70V947.7h-3.70zM1107.0 965.2h3.70V982.7h-3.70zM1110.7 781.5h3.70V799.0h-3.70zM1110.7 807.7h3.70V816.5h-3.70zM1110.7 982.7h3.70V991.5h-3.70zM1114.4 755.2h3.70V764.0h-3.70zM1114.4 790.2h3.70V799.0h-3.70zM1114.4 807.7h3.70V816.5h-3.70zM1114.4 974.0h3.70V982.7h-3.70zM1118.1 790.2h3.70V799.0h-3.70zM1121.8 694.0h3.70V702.7h-3.70zM1121.8 737.7h3.70V746.5h-3.70zM1125.5 755.2h3.70V764.0h-3.70zM1125.5 772.7h3.70V781.5h-3.70zM1125.5 790.2h3.70V816.5h-3.70zM1125.5 842.7h3.70V851.5h-3.70zM1129.2 720.2h3.70V729.0h-3.70zM1129.2 982.7h3.70V991.5h-3.70zM1140.3 877.7h3.70V895.2h-3.70zM1147.7 720.2h3.70V729.0h-3.70zM1147.7 737.7h3.70V746.5h-3.70zM1147.7 772.7h3.70V781.5h-3.70zM1147.7 790.2h3.70V799.0h-3.70zM1147.7 816.5h3.70V825.2h-3.70zM1147.7 895.2h3.70V912.7h-3.70zM1151.3 772.7h3.70V807.7h-3.70zM1155.0 799.0h3.70V816.5h-3.70zM1155.0 860.2h3.70V869.0h-3.70zM1155.0 886.5h3.70V895.2h-3.70zM1155.0 930.2h3.70V939.0h-3.70zM1155.0 947.7h3.70V956.5h-3.70zM1158.7 834.0h3.70V842.7h-3.70zM1158.7 895.2h3.70V904.0h-3.70zM1158.7 939.0h3.70V947.7h-3.70zM1158.7 965.2h3.70V974.0h-3.70zM1162.4 842.7h3.70V869.0h-3.70zM1162.4 877.7h3.70V895.2h-3.70zM1162.4 965.2h3.70V974.0h-3.70zM1166.1 772.7h3.70V790.2h-3.70zM1166.1 851.5h3.70V904.0h-3.70zM1169.8 711.5h3.70V720.2h-3.70zM1169.8 834.0h3.70V851.5h-3.70zM1169.8 860.2h3.70V869.0h-3.70zM1169.8 886.5h3.70V895.2h-3.70zM1169.8 912.7h3.70V965.2h-3.70zM1173.5 764.0h3.70V790.2h-3.70zM1173.5 834.0h3.70V842.7h-3.70zM1173.5 939.0h3.70V956.5h-3.70zM1177.2 834.0h3.70V851.5h-3.70zM1180.9 869.0h3.70V886.5h-3.70zM1180.9 912.7h3.70V930.2h-3.70zM1180.9 947.7h3.70V956.5h-3.70zM1184.6 659.0h3.70V676.5h-3.70zM1184.6 825.2h3.70V834.0h-3.70zM1184.6 860.2h3.70V869.0h-3.70zM1184.6 947.7h3.70V956.5h-3.70zM1188.3 720.2h3.70V729.0h-3.70zM1188.3 842.7h3.70V869.0h-3.70zM1192.0 720.2h3.70V729.0h-3.70zM1192.0 746.5h3.70V755.2h-3.70zM1192.0 764.0h3.70V781.5h-3.70zM1192.0 965.2h3.70V982.7h-3.70zM1195.7 615.2h3.70V641.5h-3.70zM1199.4 685.2h3.70V694.0h-3.70zM1199.4 746.5h3.70V755.2h-3.70zM1203.1 720.2h3.70V729.0h-3.70zM1203.1 807.7h3.70V816.5h-3.70zM1203.1 825.2h3.70V834.0h-3.70zM1206.8 746.5h3.70V772.7h-3.70zM1206.8 799.0h3.70V816.5h-3.70zM1210.5 737.7h3.70V746.5h-3.70zM1210.5 790.2h3.70V799.0h-3.70zM1210.5 807.7h3.70V834.0h-3.70zM1210.5 842.7h3.70V851.5h-3.70zM1210.5 895.2h3.70V921.5h-3.70zM1210.5 965.2h3.70V974.0h-3.70zM1217.9 772.7h3.70V781.5h-3.70zM1225.3 659.0h3.70V667.7h-3.70zM1225.3 676.5h3.70V694.0h-3.70zM1229.0 720.2h3.70V746.5h-3.70zM1232.7 781.5h3.70V790.2h-3.70zM1232.7 799.0h3.70V807.7h-3.70zM1232.7 816.5h3.70V825.2h-3.70zM1232.7 965.2h3.70V974.0h-3.70zM1232.7 982.7h3.70V1000.2h-3.70zM1236.4 667.7h3.70V676.5h-3.70zM1236.4 755.2h3.70V764.0h-3.70zM1236.4 781.5h3.70V799.0h-3.70zM1236.4 842.7h3.70V895.2h-3.70zM1236.4 965.2h3.70V982.7h-3.70zM1236.4 1000.2h3.70V1009.0h-3.70zM1240.1 851.5h3.70V869.0h-3.70zM1240.1 912.7h3.70V930.2h-3.70zM1243.8 685.2h3.70V694.0h-3.70zM1243.8 825.2h3.70V851.5h-3.70zM1243.8 991.5h3.70V1000.2h-3.70zM1247.5 685.2h3.70V720.2h-3.70zM1251.2 650.2h3.70V676.5h-3.70zM1254.9 641.5h3.70V650.2h-3.70zM1254.9 667.7h3.70V676.5h-3.70zM1254.9 694.0h3.70V711.5h-3.70zM1254.9 956.5h3.70V965.2h-3.70zM1258.6 694.0h3.70V702.7h-3.70zM1262.3 746.5h3.70V772.7h-3.70zM1262.3 825.2h3.70V842.7h-3.70zM1262.3 851.5h3.70V869.0h-3.70zM1262.3 912.7h3.70V930.2h-3.70zM1262.3 939.0h3.70V947.7h-3.70zM1262.3 974.0h3.70V982.7h-3.70zM1266.0 720.2h3.70V746.5h-3.70zM1266.0 764.0h3.70V781.5h-3.70zM1266.0 947.7h3.70V956.5h-3.70zM1269.7 702.7h3.70V711.5h-3.70zM1269.7 729.0h3.70V737.7h-3.70zM1269.7 746.5h3.70V764.0h-3.70zM1269.7 825.2h3.70V842.7h-3.70zM1269.7 904.0h3.70V921.5h-3.70zM1273.4 720.2h3.70V729.0h-3.70zM1273.4 746.5h3.70V755.2h-3.70zM1273.4 834.0h3.70V842.7h-3.70zM1273.4 860.2h3.70V869.0h-3.70zM1273.4 886.5h3.70V939.0h-3.70zM1277.1 702.7h3.70V711.5h-3.70zM1277.1 720.2h3.70V729.0h-3.70zM1280.8 702.7h3.70V729.0h-3.70zM1280.8 764.0h3.70V772.7h-3.70zM1284.5 694.0h3.70V720.2h-3.70zM1284.5 834.0h3.70V860.2h-3.70zM1284.5 939.0h3.70V947.7h-3.70zM1284.5 956.5h3.70V965.2h-3.70zM1288.2 729.0h3.70V737.7h-3.70zM1288.2 877.7h3.70V895.2h-3.70zM1291.9 755.2h3.70V764.0h-3.70zM1291.9 912.7h3.70V921.5h-3.70zM1295.6 667.7h3.70V676.5h-3.70zM1295.6 685.2h3.70V694.0h-3.70zM1295.6 947.7h3.70V956.5h-3.70zM1295.6 965.2h3.70V974.0h-3.70zM1299.2 694.0h3.70V702.7h-3.70zM1302.9 667.7h3.70V676.5h-3.70zM1302.9 711.5h3.70V729.0h-3.70zM1302.9 886.5h3.70V895.2h-3.70zM1302.9 904.0h3.70V912.7h-3.70zM1306.6 606.5h3.70V615.2h-3.70zM1306.6 659.0h3.70V676.5h-3.70zM1306.6 685.2h3.70V694.0h-3.70zM1306.6 711.5h3.70V720.2h-3.70zM1306.6 729.0h3.70V737.7h-3.70zM1306.6 851.5h3.70V860.2h-3.70zM1306.6 869.0h3.70V877.7h-3.70zM1306.6 895.2h3.70V912.7h-3.70zM1306.6 921.5h3.70V939.0h-3.70zM1306.6 965.2h3.70V974.0h-3.70zM1306.6 991.5h3.70V1000.2h-3.70zM1310.3 694.0h3.70V764.0h-3.70zM1310.3 842.7h3.70V851.5h-3.70zM1310.3 860.2h3.70V869.0h-3.70zM1310.3 921.5h3.70V939.0h-3.70zM1310.3 982.7h3.70V991.5h-3.70zM1314.0 659.0h3.70V667.7h-3.70zM1314.0 842.7h3.70V851.5h-3.70zM1314.0 886.5h3.70V904.0h-3.70zM1314.0 912.7h3.70V921.5h-3.70zM1314.0 930.2h3.70V939.0h-3.70zM1314.0 974.0h3.70V991.5h-3.70zM1317.7 702.7h3.70V711.5h-3.70zM1317.7 781.5h3.70V790.2h-3.70zM1317.7 834.0h3.70V842.7h-3.70zM1317.7 869.0h3.70V886.5h-3.70zM1317.7 912.7h3.70V921.5h-3.70zM1317.7 930.2h3.70V956.5h-3.70zM1317.7 974.0h3.70V982.7h-3.70zM1321.4 667.7h3.70V676.5h-3.70zM1321.4 711.5h3.70V720.2h-3.70zM1321.4 842.7h3.70V851.5h-3.70zM1321.4 982.7h3.70V991.5h-3.70zM1325.1 667.7h3.70V685.2h-3.70zM1325.1 886.5h3.70V895.2h-3.70zM1325.1 912.7h3.70V921.5h-3.70zM1325.1 965.2h3.70V974.0h-3.70zM1328.8 685.2h3.70V720.2h-3.70zM1328.8 895.2h3.70V904.0h-3.70zM1328.8 930.2h3.70V939.0h-3.70zM1332.5 790.2h3.70V799.0h-3.70zM1336.2 729.0h3.70V737.7h-3.70zM1336.2 746.5h3.70V764.0h-3.70zM1336.2 834.0h3.70V851.5h-3.70zM1336.2 895.2h3.70V930.2h-3.70zM1336.2 965.2h3.70V974.0h-3.70zM1339.9 641.5h3.70V650.2h-3.70zM1343.6 720.2h3.70V737.7h-3.70zM1343.6 869.0h3.70V877.7h-3.70zM1343.6 886.5h3.70V895.2h-3.70zM1343.6 904.0h3.70V921.5h-3.70zM1343.6 947.7h3.70V965.2h-3.70zM1347.3 641.5h3.70V650.2h-3.70zM1347.3 685.2h3.70V694.0h-3.70zM1351.0 632.7h3.70V641.5h-3.70zM1351.0 650.2h3.70V676.5h-3.70zM1354.7 606.5h3.70V615.2h-3.70zM1354.7 624.0h3.70V632.7h-3.70zM1354.7 641.5h3.70V650.2h-3.70zM1354.7 667.7h3.70V676.5h-3.70zM1354.7 685.2h3.70V694.0h-3.70zM1362.1 711.5h3.70V720.2h-3.70zM1365.8 982.7h3.70V1000.2h-3.70z"/><path fill="#0057ff" d="M201.1 886.5h3.70V895.2h-3.70zM201.1 904.0h3.70V912.7h-3.70zM201.1 965.2h3.70V991.5h-3.70zM201.1 1000.2h3.70V1009.0h-3.70zM204.8 991.5h3.70V1035.2h-3.70zM208.5 895.2h3.70V904.0h-3.70zM208.5 921.5h3.70V930.2h-3.70zM208.5 1052.7h3.70V1061.5h-3.70zM212.2 965.2h3.70V991.5h-3.70zM212.2 1026.5h3.70V1035.2h-3.70zM212.2 1044.0h3.70V1052.7h-3.70zM212.2 1131.5h3.70V1140.2h-3.70zM215.9 991.5h3.70V1000.2h-3.70zM215.9 1017.7h3.70V1026.5h-3.70zM215.9 1035.2h3.70V1061.5h-3.70zM219.6 842.7h3.70V860.2h-3.70zM219.6 869.0h3.70V877.7h-3.70zM219.6 991.5h3.70V1009.0h-3.70zM223.3 790.2h3.70V807.7h-3.70zM223.3 842.7h3.70V851.5h-3.70zM223.3 1026.5h3.70V1035.2h-3.70zM223.3 1044.0h3.70V1052.7h-3.70zM223.3 1157.7h3.70V1166.5h-3.70zM227.0 816.5h3.70V834.0h-3.70zM227.0 869.0h3.70V877.7h-3.70zM234.4 1061.5h3.70V1114.0h-3.70zM238.1 965.2h3.70V974.0h-3.70zM238.1 982.7h3.70V991.5h-3.70zM238.1 1017.7h3.70V1026.5h-3.70zM241.8 1157.7h3.70V1168.4h-3.70zM249.2 746.5h3.70V755.2h-3.70zM249.2 781.5h3.70V807.7h-3.70zM252.9 974.0h3.70V982.7h-3.70zM252.9 1157.7h3.70V1168.4h-3.70zM256.6 1157.7h3.70V1168.4h-3.70zM264.0 1026.5h3.70V1035.2h-3.70zM264.0 1149.0h3.70V1166.5h-3.70zM267.7 1166.5h3.70V1168.4h-3.70zM278.7 1052.7h3.70V1061.5h-3.70zM278.7 1070.2h3.70V1079.0h-3.70zM278.7 1114.0h3.70V1122.7h-3.70zM282.4 974.0h3.70V982.7h-3.70zM293.5 965.2h3.70V982.7h-3.70zM297.2 790.2h3.70V807.7h-3.70zM300.9 851.5h3.70V860.2h-3.70zM300.9 921.5h3.70V930.2h-3.70zM304.6 781.5h3.70V790.2h-3.70zM312.0 904.0h3.70V912.7h-3.70zM326.8 895.2h3.70V904.0h-3.70zM330.5 886.5h3.70V895.2h-3.70zM337.9 904.0h3.70V921.5h-3.70zM341.6 851.5h3.70V860.2h-3.70zM341.6 877.7h3.70V886.5h-3.70zM341.6 895.2h3.70V904.0h-3.70zM345.3 886.5h3.70V895.2h-3.70zM345.3 1096.5h3.70V1114.0h-3.70zM349.0 834.0h3.70V842.7h-3.70zM352.7 851.5h3.70V860.2h-3.70zM352.7 921.5h3.70V939.0h-3.70zM352.7 1105.2h3.70V1114.0h-3.70zM356.4 851.5h3.70V860.2h-3.70zM356.4 904.0h3.70V921.5h-3.70zM356.4 939.0h3.70V947.7h-3.70zM360.1 851.5h3.70V860.2h-3.70zM360.1 869.0h3.70V877.7h-3.70zM360.1 921.5h3.70V939.0h-3.70zM360.1 956.5h3.70V965.2h-3.70zM360.1 974.0h3.70V982.7h-3.70zM363.8 851.5h3.70V886.5h-3.70zM367.5 930.2h3.70V939.0h-3.70zM371.2 816.5h3.70V825.2h-3.70zM371.2 834.0h3.70V851.5h-3.70zM371.2 869.0h3.70V886.5h-3.70zM371.2 939.0h3.70V947.7h-3.70zM371.2 1149.0h3.70V1157.7h-3.70zM374.9 974.0h3.70V991.5h-3.70zM374.9 1017.7h3.70V1044.0h-3.70zM378.6 982.7h3.70V991.5h-3.70zM378.6 1009.0h3.70V1017.7h-3.70zM378.6 1052.7h3.70V1070.2h-3.70zM382.3 825.2h3.70V834.0h-3.70zM382.3 1052.7h3.70V1070.2h-3.70zM386.0 834.0h3.70V860.2h-3.70zM386.0 921.5h3.70V939.0h-3.70zM386.0 947.7h3.70V956.5h-3.70zM386.0 982.7h3.70V991.5h-3.70zM386.0 1026.5h3.70V1035.2h-3.70zM386.0 1131.5h3.70V1140.2h-3.70zM389.7 965.2h3.70V982.7h-3.70zM389.7 991.5h3.70V1000.2h-3.70zM389.7 1035.2h3.70V1044.0h-3.70zM389.7 1114.0h3.70V1122.7h-3.70zM393.4 877.7h3.70V895.2h-3.70zM393.4 1122.7h3.70V1131.5h-3.70zM397.1 877.7h3.70V886.5h-3.70zM397.1 921.5h3.70V939.0h-3.70zM397.1 947.7h3.70V956.5h-3.70zM397.1 974.0h3.70V982.7h-3.70zM400.8 956.5h3.70V965.2h-3.70zM404.5 947.7h3.70V965.2h-3.70zM419.2 930.2h3.70V939.0h-3.70zM419.2 965.2h3.70V974.0h-3.70zM422.9 895.2h3.70V912.7h-3.70zM422.9 1035.2h3.70V1044.0h-3.70zM426.6 904.0h3.70V912.7h-3.70zM426.6 921.5h3.70V930.2h-3.70zM426.6 939.0h3.70V947.7h-3.70zM430.3 921.5h3.70V930.2h-3.70zM430.3 974.0h3.70V991.5h-3.70zM434.0 1114.0h3.70V1131.5h-3.70zM437.7 947.7h3.70V965.2h-3.70zM437.7 974.0h3.70V982.7h-3.70zM437.7 1052.7h3.70V1061.5h-3.70zM437.7 1070.2h3.70V1079.0h-3.70zM441.4 825.2h3.70V842.7h-3.70zM441.4 851.5h3.70V860.2h-3.70zM441.4 869.0h3.70V877.7h-3.70zM441.4 965.2h3.70V982.7h-3.70zM441.4 1131.5h3.70V1140.2h-3.70zM441.4 1157.7h3.70V1166.5h-3.70zM445.1 799.0h3.70V825.2h-3.70zM445.1 869.0h3.70V877.7h-3.70zM445.1 1035.2h3.70V1044.0h-3.70zM445.1 1070.2h3.70V1087.7h-3.70zM445.1 1096.5h3.70V1105.2h-3.70zM445.1 1122.7h3.70V1140.2h-3.70zM448.8 1122.7h3.70V1140.2h-3.70zM452.5 912.7h3.70V947.7h-3.70zM452.5 974.0h3.70V982.7h-3.70zM456.2 904.0h3.70V921.5h-3.70zM456.2 991.5h3.70V1000.2h-3.70zM456.2 1009.0h3.70V1017.7h-3.70zM456.2 1026.5h3.70V1044.0h-3.70zM456.2 1087.7h3.70V1096.5h-3.70zM459.9 939.0h3.70V947.7h-3.70zM459.9 956.5h3.70V965.2h-3.70zM463.6 877.7h3.70V886.5h-3.70zM463.6 895.2h3.70V930.2h-3.70zM463.6 939.0h3.70V947.7h-3.70zM463.6 956.5h3.70V965.2h-3.70zM463.6 1009.0h3.70V1017.7h-3.70zM463.6 1070.2h3.70V1087.7h-3.70zM463.6 1096.5h3.70V1105.2h-3.70zM467.3 860.2h3.70V869.0h-3.70zM467.3 877.7h3.70V921.5h-3.70zM467.3 1070.2h3.70V1079.0h-3.70zM467.3 1105.2h3.70V1114.0h-3.70zM467.3 1131.5h3.70V1140.2h-3.70zM474.7 1114.0h3.70V1131.5h-3.70zM478.4 702.7h3.70V711.5h-3.70zM482.1 729.0h3.70V737.7h-3.70zM482.1 877.7h3.70V895.2h-3.70zM482.1 921.5h3.70V947.7h-3.70zM482.1 965.2h3.70V974.0h-3.70zM482.1 982.7h3.70V991.5h-3.70zM482.1 1009.0h3.70V1079.0h-3.70zM482.1 1087.7h3.70V1096.5h-3.70zM482.1 1105.2h3.70V1122.7h-3.70zM482.1 1131.5h3.70V1166.5h-3.70zM485.8 965.2h3.70V974.0h-3.70zM485.8 1114.0h3.70V1131.5h-3.70zM485.8 1166.5h3.70V1168.4h-3.70zM489.5 685.2h3.70V694.0h-3.70zM489.5 1105.2h3.70V1114.0h-3.70zM493.2 702.7h3.70V711.5h-3.70zM493.2 720.2h3.70V729.0h-3.70zM493.2 956.5h3.70V991.5h-3.70zM493.2 1052.7h3.70V1070.2h-3.70zM496.9 746.5h3.70V755.2h-3.70zM496.9 982.7h3.70V1000.2h-3.70zM496.9 1009.0h3.70V1017.7h-3.70zM496.9 1044.0h3.70V1052.7h-3.70zM496.9 1131.5h3.70V1140.2h-3.70zM500.6 737.7h3.70V755.2h-3.70zM500.6 877.7h3.70V912.7h-3.70zM500.6 956.5h3.70V974.0h-3.70zM500.6 1017.7h3.70V1035.2h-3.70zM500.6 1079.0h3.70V1105.2h-3.70zM500.6 1122.7h3.70V1140.2h-3.70zM500.6 1149.0h3.70V1157.7h-3.70zM504.3 974.0h3.70V982.7h-3.70zM504.3 1096.5h3.70V1105.2h-3.70zM508.0 912.7h3.70V921.5h-3.70zM508.0 939.0h3.70V947.7h-3.70zM508.0 982.7h3.70V1017.7h-3.70zM508.0 1026.5h3.70V1035.2h-3.70zM508.0 1044.0h3.70V1061.5h-3.70zM508.0 1096.5h3.70V1105.2h-3.70zM511.7 1009.0h3.70V1017.7h-3.70zM511.7 1035.2h3.70V1044.0h-3.70zM515.4 711.5h3.70V720.2h-3.70zM515.4 912.7h3.70V921.5h-3.70zM515.4 974.0h3.70V1000.2h-3.70zM515.4 1017.7h3.70V1026.5h-3.70zM515.4 1035.2h3.70V1044.0h-3.70zM515.4 1052.7h3.70V1061.5h-3.70zM515.4 1070.2h3.70V1079.0h-3.70zM519.1 615.2h3.70V632.7h-3.70zM519.1 641.5h3.70V650.2h-3.70zM519.1 659.0h3.70V667.7h-3.70zM519.1 1166.5h3.70V1168.4h-3.70zM522.8 1140.2h3.70V1157.7h-3.70zM526.5 659.0h3.70V676.5h-3.70zM526.5 685.2h3.70V694.0h-3.70zM526.5 1087.7h3.70V1096.5h-3.70zM530.2 685.2h3.70V694.0h-3.70zM530.2 729.0h3.70V737.7h-3.70zM530.2 746.5h3.70V764.0h-3.70zM530.2 921.5h3.70V930.2h-3.70zM530.2 965.2h3.70V974.0h-3.70zM530.2 1000.2h3.70V1017.7h-3.70zM530.2 1026.5h3.70V1044.0h-3.70zM530.2 1061.5h3.70V1070.2h-3.70zM530.2 1087.7h3.70V1096.5h-3.70zM533.9 746.5h3.70V755.2h-3.70zM533.9 947.7h3.70V974.0h-3.70zM533.9 1000.2h3.70V1009.0h-3.70zM533.9 1105.2h3.70V1131.5h-3.70zM537.6 737.7h3.70V746.5h-3.70zM537.6 1017.7h3.70V1026.5h-3.70zM537.6 1044.0h3.70V1061.5h-3.70zM537.6 1079.0h3.70V1096.5h-3.70zM537.6 1114.0h3.70V1131.5h-3.70zM537.6 1140.2h3.70V1149.0h-3.70zM541.3 772.7h3.70V781.5h-3.70zM541.3 1087.7h3.70V1096.5h-3.70zM545.0 685.2h3.70V694.0h-3.70zM545.0 746.5h3.70V755.2h-3.70zM545.0 991.5h3.70V1000.2h-3.70zM545.0 1026.5h3.70V1035.2h-3.70zM548.7 729.0h3.70V746.5h-3.70zM548.7 939.0h3.70V956.5h-3.70zM548.7 965.2h3.70V974.0h-3.70zM548.7 1044.0h3.70V1096.5h-3.70zM548.7 1105.2h3.70V1114.0h-3.70zM552.4 930.2h3.70V939.0h-3.70zM552.4 956.5h3.70V965.2h-3.70zM552.4 982.7h3.70V1000.2h-3.70zM552.4 1096.5h3.70V1105.2h-3.70zM556.1 799.0h3.70V816.5h-3.70zM556.1 965.2h3.70V982.7h-3.70zM556.1 1070.2h3.70V1079.0h-3.70zM556.1 1087.7h3.70V1105.2h-3.70zM556.1 1114.0h3.70V1122.7h-3.70zM559.8 755.2h3.70V807.7h-3.70zM559.8 1000.2h3.70V1017.7h-3.70zM559.8 1026.5h3.70V1044.0h-3.70zM559.8 1087.7h3.70V1096.5h-3.70zM559.8 1114.0h3.70V1131.5h-3.70zM559.8 1149.0h3.70V1168.4h-3.70zM563.5 702.7h3.70V711.5h-3.70zM563.5 720.2h3.70V729.0h-3.70zM563.5 737.7h3.70V746.5h-3.70zM563.5 755.2h3.70V764.0h-3.70zM563.5 982.7h3.70V1017.7h-3.70zM563.5 1079.0h3.70V1087.7h-3.70zM567.1 746.5h3.70V755.2h-3.70zM567.1 1017.7h3.70V1035.2h-3.70zM567.1 1079.0h3.70V1096.5h-3.70zM567.1 1122.7h3.70V1140.2h-3.70zM570.8 772.7h3.70V781.5h-3.70zM570.8 930.2h3.70V947.7h-3.70zM574.5 737.7h3.70V772.7h-3.70zM574.5 1070.2h3.70V1079.0h-3.70zM574.5 1140.2h3.70V1149.0h-3.70zM581.9 816.5h3.70V825.2h-3.70zM581.9 1061.5h3.70V1070.2h-3.70zM581.9 1079.0h3.70V1087.7h-3.70zM581.9 1096.5h3.70V1105.2h-3.70zM585.6 825.2h3.70V834.0h-3.70zM585.6 991.5h3.70V1009.0h-3.70zM585.6 1044.0h3.70V1052.7h-3.70zM585.6 1105.2h3.70V1114.0h-3.70zM589.3 764.0h3.70V772.7h-3.70zM589.3 1035.2h3.70V1052.7h-3.70zM589.3 1061.5h3.70V1070.2h-3.70zM589.3 1096.5h3.70V1122.7h-3.70zM593.0 650.2h3.70V659.0h-3.70zM593.0 1157.7h3.70V1168.4h-3.70zM596.7 755.2h3.70V764.0h-3.70zM596.7 781.5h3.70V790.2h-3.70zM596.7 1035.2h3.70V1044.0h-3.70zM596.7 1061.5h3.70V1070.2h-3.70zM596.7 1079.0h3.70V1140.2h-3.70zM600.4 816.5h3.70V825.2h-3.70zM600.4 982.7h3.70V1009.0h-3.70zM600.4 1044.0h3.70V1052.7h-3.70zM600.4 1140.2h3.70V1149.0h-3.70zM604.1 659.0h3.70V667.7h-3.70zM604.1 737.7h3.70V755.2h-3.70zM604.1 1157.7h3.70V1166.5h-3.70zM607.8 676.5h3.70V694.0h-3.70zM607.8 711.5h3.70V720.2h-3.70zM607.8 746.5h3.70V755.2h-3.70zM607.8 1105.2h3.70V1122.7h-3.70zM607.8 1157.7h3.70V1166.5h-3.70zM611.5 746.5h3.70V755.2h-3.70zM611.5 1131.5h3.70V1140.2h-3.70zM615.2 790.2h3.70V799.0h-3.70zM615.2 1061.5h3.70V1070.2h-3.70zM615.2 1087.7h3.70V1096.5h-3.70zM615.2 1114.0h3.70V1131.5h-3.70zM618.9 781.5h3.70V790.2h-3.70zM618.9 799.0h3.70V816.5h-3.70zM618.9 982.7h3.70V991.5h-3.70zM618.9 1052.7h3.70V1061.5h-3.70zM618.9 1087.7h3.70V1096.5h-3.70zM622.6 799.0h3.70V816.5h-3.70zM622.6 1096.5h3.70V1105.2h-3.70zM622.6 1140.2h3.70V1157.7h-3.70zM626.3 816.5h3.70V825.2h-3.70zM626.3 1122.7h3.70V1140.2h-3.70zM626.3 1149.0h3.70V1166.5h-3.70zM630.0 737.7h3.70V755.2h-3.70zM630.0 1140.2h3.70V1149.0h-3.70zM633.7 764.0h3.70V781.5h-3.70zM633.7 1079.0h3.70V1087.7h-3.70zM633.7 1140.2h3.70V1149.0h-3.70zM637.4 816.5h3.70V825.2h-3.70zM637.4 1052.7h3.70V1061.5h-3.70zM641.1 772.7h3.70V799.0h-3.70zM641.1 807.7h3.70V816.5h-3.70zM641.1 1017.7h3.70V1026.5h-3.70zM641.1 1052.7h3.70V1079.0h-3.70zM644.8 1052.7h3.70V1070.2h-3.70zM648.5 807.7h3.70V825.2h-3.70zM648.5 834.0h3.70V842.7h-3.70zM648.5 1140.2h3.70V1149.0h-3.70zM648.5 1157.7h3.70V1166.5h-3.70zM655.9 869.0h3.70V877.7h-3.70zM655.9 1052.7h3.70V1061.5h-3.70zM655.9 1114.0h3.70V1122.7h-3.70zM659.6 1114.0h3.70V1157.7h-3.70zM663.3 1079.0h3.70V1105.2h-3.70zM667.0 947.7h3.70V956.5h-3.70zM667.0 1044.0h3.70V1052.7h-3.70zM667.0 1131.5h3.70V1140.2h-3.70zM670.7 1035.2h3.70V1044.0h-3.70zM674.4 1026.5h3.70V1052.7h-3.70zM678.1 1044.0h3.70V1052.7h-3.70zM678.1 1114.0h3.70V1122.7h-3.70zM678.1 1140.2h3.70V1149.0h-3.70zM681.8 1044.0h3.70V1052.7h-3.70zM681.8 1061.5h3.70V1070.2h-3.70zM685.5 834.0h3.70V842.7h-3.70zM685.5 1122.7h3.70V1140.2h-3.70zM689.2 886.5h3.70V895.2h-3.70zM689.2 1096.5h3.70V1105.2h-3.70zM692.9 895.2h3.70V904.0h-3.70zM692.9 1070.2h3.70V1087.7h-3.70zM696.6 1079.0h3.70V1087.7h-3.70zM700.3 895.2h3.70V904.0h-3.70zM700.3 1114.0h3.70V1131.5h-3.70zM704.0 1114.0h3.70V1131.5h-3.70zM707.7 939.0h3.70V947.7h-3.70zM711.3 1131.5h3.70V1140.2h-3.70zM715.0 921.5h3.70V930.2h-3.70zM715.0 1131.5h3.70V1140.2h-3.70zM718.7 1114.0h3.70V1122.7h-3.70zM718.7 1131.5h3.70V1140.2h-3.70zM722.4 912.7h3.70V921.5h-3.70zM722.4 1096.5h3.70V1105.2h-3.70zM726.1 904.0h3.70V912.7h-3.70zM726.1 1070.2h3.70V1079.0h-3.70zM726.1 1087.7h3.70V1114.0h-3.70zM729.8 869.0h3.70V877.7h-3.70zM729.8 1087.7h3.70V1096.5h-3.70zM733.5 825.2h3.70V842.7h-3.70zM733.5 851.5h3.70V860.2h-3.70zM733.5 869.0h3.70V877.7h-3.70zM737.2 834.0h3.70V851.5h-3.70zM737.2 877.7h3.70V895.2h-3.70zM737.2 904.0h3.70V912.7h-3.70zM737.2 1052.7h3.70V1070.2h-3.70zM737.2 1114.0h3.70V1122.7h-3.70zM737.2 1131.5h3.70V1140.2h-3.70zM740.9 799.0h3.70V816.5h-3.70zM740.9 869.0h3.70V877.7h-3.70zM740.9 895.2h3.70V921.5h-3.70zM740.9 1044.0h3.70V1052.7h-3.70zM740.9 1105.2h3.70V1122.7h-3.70zM740.9 1131.5h3.70V1149.0h-3.70zM740.9 1166.5h3.70V1168.4h-3.70zM744.6 912.7h3.70V939.0h-3.70zM744.6 947.7h3.70V974.0h-3.70zM748.3 930.2h3.70V939.0h-3.70zM748.3 1026.5h3.70V1035.2h-3.70zM752.0 1052.7h3.70V1070.2h-3.70zM752.0 1079.0h3.70V1087.7h-3.70zM752.0 1096.5h3.70V1105.2h-3.70zM752.0 1122.7h3.70V1131.5h-3.70zM755.7 904.0h3.70V912.7h-3.70zM759.4 956.5h3.70V974.0h-3.70zM759.4 991.5h3.70V1000.2h-3.70zM759.4 1017.7h3.70V1026.5h-3.70zM759.4 1052.7h3.70V1087.7h-3.70zM763.1 869.0h3.70V895.2h-3.70zM763.1 1096.5h3.70V1114.0h-3.70zM766.8 912.7h3.70V930.2h-3.70zM766.8 1079.0h3.70V1087.7h-3.70zM770.5 912.7h3.70V921.5h-3.70zM770.5 930.2h3.70V939.0h-3.70zM770.5 1070.2h3.70V1079.0h-3.70zM770.5 1140.2h3.70V1149.0h-3.70zM774.2 912.7h3.70V921.5h-3.70zM774.2 956.5h3.70V974.0h-3.70zM777.9 921.5h3.70V939.0h-3.70zM777.9 982.7h3.70V991.5h-3.70zM777.9 1026.5h3.70V1044.0h-3.70zM777.9 1052.7h3.70V1061.5h-3.70zM777.9 1070.2h3.70V1079.0h-3.70zM777.9 1122.7h3.70V1131.5h-3.70zM781.6 921.5h3.70V930.2h-3.70zM781.6 965.2h3.70V982.7h-3.70zM781.6 1000.2h3.70V1017.7h-3.70zM781.6 1026.5h3.70V1044.0h-3.70zM785.3 1017.7h3.70V1026.5h-3.70zM792.7 877.7h3.70V886.5h-3.70zM792.7 1079.0h3.70V1087.7h-3.70zM792.7 1105.2h3.70V1114.0h-3.70zM796.4 869.0h3.70V877.7h-3.70zM800.1 834.0h3.70V842.7h-3.70zM800.1 860.2h3.70V869.0h-3.70zM803.8 1131.5h3.70V1149.0h-3.70zM807.5 1061.5h3.70V1070.2h-3.70zM811.2 869.0h3.70V877.7h-3.70zM811.2 1061.5h3.70V1070.2h-3.70zM811.2 1105.2h3.70V1114.0h-3.70zM814.9 834.0h3.70V842.7h-3.70zM814.9 851.5h3.70V860.2h-3.70zM814.9 1026.5h3.70V1035.2h-3.70zM814.9 1044.0h3.70V1087.7h-3.70zM814.9 1122.7h3.70V1131.5h-3.70zM814.9 1140.2h3.70V1149.0h-3.70zM818.6 869.0h3.70V886.5h-3.70zM818.6 1017.7h3.70V1044.0h-3.70zM818.6 1052.7h3.70V1061.5h-3.70zM822.3 886.5h3.70V895.2h-3.70zM822.3 956.5h3.70V965.2h-3.70zM822.3 991.5h3.70V1000.2h-3.70zM822.3 1026.5h3.70V1044.0h-3.70zM822.3 1061.5h3.70V1070.2h-3.70zM826.0 895.2h3.70V904.0h-3.70zM826.0 930.2h3.70V939.0h-3.70zM826.0 956.5h3.70V965.2h-3.70zM826.0 1035.2h3.70V1044.0h-3.70zM826.0 1079.0h3.70V1096.5h-3.70zM826.0 1114.0h3.70V1122.7h-3.70zM829.7 869.0h3.70V877.7h-3.70zM829.7 1052.7h3.70V1070.2h-3.70zM829.7 1131.5h3.70V1140.2h-3.70zM833.4 877.7h3.70V886.5h-3.70zM837.1 1061.5h3.70V1096.5h-3.70zM840.8 860.2h3.70V869.0h-3.70zM840.8 1105.2h3.70V1114.0h-3.70zM844.5 842.7h3.70V851.5h-3.70zM844.5 1087.7h3.70V1096.5h-3.70zM848.2 799.0h3.70V807.7h-3.70zM848.2 1105.2h3.70V1122.7h-3.70zM851.9 807.7h3.70V816.5h-3.70zM851.9 825.2h3.70V834.0h-3.70zM851.9 860.2h3.70V869.0h-3.70zM851.9 877.7h3.70V886.5h-3.70zM851.9 1026.5h3.70V1044.0h-3.70zM855.6 807.7h3.70V816.5h-3.70zM855.6 1079.0h3.70V1087.7h-3.70zM859.2 869.0h3.70V877.7h-3.70zM862.9 851.5h3.70V860.2h-3.70zM866.6 1000.2h3.70V1017.7h-3.70zM866.6 1035.2h3.70V1044.0h-3.70zM870.3 842.7h3.70V851.5h-3.70zM870.3 1061.5h3.70V1079.0h-3.70zM870.3 1114.0h3.70V1131.5h-3.70zM874.0 895.2h3.70V904.0h-3.70zM874.0 991.5h3.70V1000.2h-3.70zM877.7 1017.7h3.70V1026.5h-3.70zM877.7 1044.0h3.70V1052.7h-3.70zM881.4 834.0h3.70V842.7h-3.70zM881.4 851.5h3.70V886.5h-3.70zM881.4 1044.0h3.70V1052.7h-3.70zM881.4 1087.7h3.70V1096.5h-3.70zM885.1 1000.2h3.70V1017.7h-3.70zM888.8 1061.5h3.70V1105.2h-3.70zM888.8 1114.0h3.70V1122.7h-3.70zM892.5 886.5h3.70V895.2h-3.70zM892.5 1009.0h3.70V1017.7h-3.70zM896.2 1026.5h3.70V1044.0h-3.70zM899.9 869.0h3.70V877.7h-3.70zM899.9 1017.7h3.70V1035.2h-3.70zM903.6 860.2h3.70V877.7h-3.70zM903.6 1061.5h3.70V1070.2h-3.70zM907.3 851.5h3.70V869.0h-3.70zM907.3 1079.0h3.70V1087.7h-3.70zM911.0 869.0h3.70V877.7h-3.70zM911.0 991.5h3.70V1000.2h-3.70zM911.0 1052.7h3.70V1070.2h-3.70zM914.7 1052.7h3.70V1061.5h-3.70zM914.7 1140.2h3.70V1157.7h-3.70zM918.4 1052.7h3.70V1070.2h-3.70zM918.4 1105.2h3.70V1114.0h-3.70zM922.1 842.7h3.70V851.5h-3.70zM922.1 869.0h3.70V877.7h-3.70zM922.1 1035.2h3.70V1044.0h-3.70zM922.1 1052.7h3.70V1061.5h-3.70zM925.8 860.2h3.70V869.0h-3.70zM925.8 1079.0h3.70V1087.7h-3.70zM929.5 886.5h3.70V895.2h-3.70zM933.2 895.2h3.70V904.0h-3.70zM933.2 1009.0h3.70V1061.5h-3.70zM936.9 930.2h3.70V939.0h-3.70zM936.9 1000.2h3.70V1009.0h-3.70zM940.6 851.5h3.70V877.7h-3.70zM940.6 886.5h3.70V895.2h-3.70zM940.6 1044.0h3.70V1061.5h-3.70zM944.3 816.5h3.70V825.2h-3.70zM944.3 851.5h3.70V860.2h-3.70zM944.3 1009.0h3.70V1017.7h-3.70zM944.3 1035.2h3.70V1044.0h-3.70zM944.3 1079.0h3.70V1087.7h-3.70zM948.0 1000.2h3.70V1009.0h-3.70zM948.0 1044.0h3.70V1052.7h-3.70zM951.7 860.2h3.70V869.0h-3.70zM951.7 1000.2h3.70V1009.0h-3.70zM951.7 1017.7h3.70V1026.5h-3.70zM955.4 825.2h3.70V842.7h-3.70zM955.4 1035.2h3.70V1052.7h-3.70zM959.1 781.5h3.70V790.2h-3.70zM959.1 799.0h3.70V816.5h-3.70zM959.1 965.2h3.70V1017.7h-3.70zM959.1 1061.5h3.70V1070.2h-3.70zM962.8 816.5h3.70V825.2h-3.70zM962.8 965.2h3.70V974.0h-3.70zM962.8 1009.0h3.70V1026.5h-3.70zM966.5 816.5h3.70V834.0h-3.70zM966.5 1009.0h3.70V1035.2h-3.70zM970.2 807.7h3.70V816.5h-3.70zM970.2 965.2h3.70V974.0h-3.70zM970.2 982.7h3.70V991.5h-3.70zM970.2 1009.0h3.70V1017.7h-3.70zM970.2 1026.5h3.70V1044.0h-3.70zM970.2 1052.7h3.70V1061.5h-3.70zM973.9 851.5h3.70V869.0h-3.70zM973.9 921.5h3.70V939.0h-3.70zM973.9 965.2h3.70V974.0h-3.70zM973.9 991.5h3.70V1017.7h-3.70zM981.3 851.5h3.70V860.2h-3.70zM981.3 869.0h3.70V904.0h-3.70zM981.3 912.7h3.70V921.5h-3.70zM981.3 939.0h3.70V947.7h-3.70zM985.0 790.2h3.70V799.0h-3.70zM988.7 930.2h3.70V939.0h-3.70zM988.7 1052.7h3.70V1070.2h-3.70zM992.4 790.2h3.70V799.0h-3.70zM992.4 807.7h3.70V825.2h-3.70zM992.4 965.2h3.70V974.0h-3.70zM992.4 1052.7h3.70V1070.2h-3.70zM996.1 807.7h3.70V816.5h-3.70zM996.1 825.2h3.70V834.0h-3.70zM996.1 860.2h3.70V869.0h-3.70zM996.1 886.5h3.70V895.2h-3.70zM996.1 904.0h3.70V912.7h-3.70zM999.8 799.0h3.70V807.7h-3.70zM999.8 825.2h3.70V851.5h-3.70zM999.8 869.0h3.70V886.5h-3.70zM999.8 895.2h3.70V904.0h-3.70zM999.8 912.7h3.70V921.5h-3.70zM999.8 930.2h3.70V939.0h-3.70zM1003.4 781.5h3.70V790.2h-3.70zM1003.4 799.0h3.70V807.7h-3.70zM1003.4 974.0h3.70V982.7h-3.70zM1007.1 877.7h3.70V886.5h-3.70zM1010.8 816.5h3.70V825.2h-3.70zM1021.9 790.2h3.70V799.0h-3.70zM1025.6 781.5h3.70V799.0h-3.70zM1025.6 930.2h3.70V939.0h-3.70zM1029.3 825.2h3.70V834.0h-3.70zM1029.3 965.2h3.70V974.0h-3.70zM1029.3 982.7h3.70V1000.2h-3.70zM1029.3 1017.7h3.70V1026.5h-3.70zM1029.3 1035.2h3.70V1052.7h-3.70zM1088.5 764.0h3.70V790.2h-3.70zM1088.5 799.0h3.70V816.5h-3.70zM1092.2 720.2h3.70V729.0h-3.70zM1092.2 737.7h3.70V755.2h-3.70zM1092.2 790.2h3.70V799.0h-3.70zM1092.2 807.7h3.70V825.2h-3.70zM1092.2 895.2h3.70V912.7h-3.70zM1095.9 685.2h3.70V694.0h-3.70zM1099.6 869.0h3.70V877.7h-3.70zM1099.6 886.5h3.70V895.2h-3.70zM1107.0 851.5h3.70V869.0h-3.70zM1107.0 939.0h3.70V947.7h-3.70zM1110.7 799.0h3.70V807.7h-3.70zM1110.7 834.0h3.70V877.7h-3.70zM1110.7 921.5h3.70V930.2h-3.70zM1110.7 956.5h3.70V974.0h-3.70zM1114.4 799.0h3.70V807.7h-3.70zM1114.4 816.5h3.70V851.5h-3.70zM1114.4 869.0h3.70V904.0h-3.70zM1114.4 956.5h3.70V974.0h-3.70zM1121.8 755.2h3.70V764.0h-3.70zM1121.8 790.2h3.70V799.0h-3.70zM1125.5 851.5h3.70V860.2h-3.70zM1125.5 869.0h3.70V886.5h-3.70zM1129.2 729.0h3.70V746.5h-3.70zM1129.2 755.2h3.70V781.5h-3.70zM1129.2 869.0h3.70V877.7h-3.70zM1129.2 1017.7h3.70V1026.5h-3.70zM1140.3 974.0h3.70V982.7h-3.70zM1147.7 746.5h3.70V755.2h-3.70zM1147.7 764.0h3.70V772.7h-3.70zM1147.7 799.0h3.70V807.7h-3.70zM1147.7 825.2h3.70V886.5h-3.70zM1147.7 982.7h3.70V991.5h-3.70zM1151.3 807.7h3.70V834.0h-3.70zM1151.3 912.7h3.70V930.2h-3.70zM1155.0 825.2h3.70V834.0h-3.70zM1155.0 842.7h3.70V860.2h-3.70zM1155.0 869.0h3.70V877.7h-3.70zM1155.0 895.2h3.70V921.5h-3.70zM1158.7 877.7h3.70V895.2h-3.70zM1158.7 904.0h3.70V939.0h-3.70zM1158.7 947.7h3.70V965.2h-3.70zM1162.4 869.0h3.70V877.7h-3.70zM1162.4 895.2h3.70V904.0h-3.70zM1162.4 939.0h3.70V947.7h-3.70zM1162.4 956.5h3.70V965.2h-3.70zM1166.1 799.0h3.70V807.7h-3.70zM1166.1 842.7h3.70V851.5h-3.70zM1169.8 895.2h3.70V912.7h-3.70zM1173.5 711.5h3.70V746.5h-3.70zM1173.5 807.7h3.70V834.0h-3.70zM1173.5 842.7h3.70V860.2h-3.70zM1173.5 930.2h3.70V939.0h-3.70zM1177.2 851.5h3.70V904.0h-3.70zM1180.9 755.2h3.70V772.7h-3.70zM1180.9 930.2h3.70V947.7h-3.70zM1180.9 956.5h3.70V965.2h-3.70zM1184.6 676.5h3.70V694.0h-3.70zM1184.6 755.2h3.70V764.0h-3.70zM1184.6 816.5h3.70V825.2h-3.70zM1184.6 834.0h3.70V860.2h-3.70zM1184.6 869.0h3.70V877.7h-3.70zM1184.6 956.5h3.70V974.0h-3.70zM1188.3 729.0h3.70V737.7h-3.70zM1188.3 746.5h3.70V781.5h-3.70zM1188.3 834.0h3.70V842.7h-3.70zM1188.3 869.0h3.70V877.7h-3.70zM1188.3 947.7h3.70V965.2h-3.70zM1192.0 729.0h3.70V746.5h-3.70zM1192.0 947.7h3.70V965.2h-3.70zM1195.7 641.5h3.70V667.7h-3.70zM1195.7 676.5h3.70V685.2h-3.70zM1199.4 982.7h3.70V991.5h-3.70zM1203.1 729.0h3.70V755.2h-3.70zM1203.1 772.7h3.70V781.5h-3.70zM1203.1 790.2h3.70V807.7h-3.70zM1203.1 816.5h3.70V825.2h-3.70zM1203.1 834.0h3.70V851.5h-3.70zM1203.1 921.5h3.70V930.2h-3.70zM1203.1 947.7h3.70V956.5h-3.70zM1206.8 921.5h3.70V939.0h-3.70zM1210.5 746.5h3.70V772.7h-3.70zM1210.5 781.5h3.70V790.2h-3.70zM1210.5 799.0h3.70V807.7h-3.70zM1210.5 869.0h3.70V895.2h-3.70zM1217.9 781.5h3.70V799.0h-3.70zM1217.9 1000.2h3.70V1009.0h-3.70zM1221.6 702.7h3.70V711.5h-3.70zM1221.6 904.0h3.70V921.5h-3.70zM1221.6 939.0h3.70V947.7h-3.70zM1221.6 956.5h3.70V965.2h-3.70zM1225.3 842.7h3.70V851.5h-3.70zM1229.0 746.5h3.70V781.5h-3.70zM1229.0 877.7h3.70V886.5h-3.70zM1229.0 956.5h3.70V965.2h-3.70zM1232.7 772.7h3.70V781.5h-3.70zM1232.7 790.2h3.70V799.0h-3.70zM1236.4 659.0h3.70V667.7h-3.70zM1236.4 676.5h3.70V685.2h-3.70zM1236.4 746.5h3.70V755.2h-3.70zM1236.4 764.0h3.70V781.5h-3.70zM1236.4 799.0h3.70V842.7h-3.70zM1240.1 737.7h3.70V755.2h-3.70zM1240.1 799.0h3.70V807.7h-3.70zM1240.1 842.7h3.70V851.5h-3.70zM1240.1 930.2h3.70V939.0h-3.70zM1240.1 974.0h3.70V982.7h-3.70zM1243.8 737.7h3.70V746.5h-3.70zM1243.8 816.5h3.70V825.2h-3.70zM1243.8 851.5h3.70V860.2h-3.70zM1247.5 720.2h3.70V746.5h-3.70zM1251.2 676.5h3.70V685.2h-3.70zM1251.2 807.7h3.70V816.5h-3.70zM1251.2 965.2h3.70V974.0h-3.70zM1254.9 650.2h3.70V667.7h-3.70zM1254.9 676.5h3.70V694.0h-3.70zM1254.9 965.2h3.70V974.0h-3.70zM1258.6 851.5h3.70V869.0h-3.70zM1258.6 956.5h3.70V974.0h-3.70zM1262.3 737.7h3.70V746.5h-3.70zM1262.3 772.7h3.70V799.0h-3.70zM1262.3 807.7h3.70V816.5h-3.70zM1262.3 842.7h3.70V851.5h-3.70zM1262.3 869.0h3.70V912.7h-3.70zM1266.0 781.5h3.70V790.2h-3.70zM1266.0 807.7h3.70V825.2h-3.70zM1266.0 869.0h3.70V877.7h-3.70zM1266.0 939.0h3.70V947.7h-3.70zM1269.7 720.2h3.70V729.0h-3.70zM1269.7 737.7h3.70V746.5h-3.70zM1269.7 764.0h3.70V772.7h-3.70zM1269.7 816.5h3.70V825.2h-3.70zM1269.7 842.7h3.70V860.2h-3.70zM1269.7 869.0h3.70V904.0h-3.70zM1269.7 921.5h3.70V930.2h-3.70zM1269.7 991.5h3.70V1000.2h-3.70zM1273.4 755.2h3.70V764.0h-3.70zM1273.4 799.0h3.70V816.5h-3.70zM1273.4 825.2h3.70V834.0h-3.70zM1277.1 764.0h3.70V781.5h-3.70zM1277.1 825.2h3.70V842.7h-3.70zM1277.1 851.5h3.70V860.2h-3.70zM1277.1 904.0h3.70V921.5h-3.70zM1280.8 729.0h3.70V746.5h-3.70zM1280.8 755.2h3.70V764.0h-3.70zM1280.8 772.7h3.70V790.2h-3.70zM1284.5 641.5h3.70V659.0h-3.70zM1284.5 676.5h3.70V694.0h-3.70zM1284.5 799.0h3.70V807.7h-3.70zM1284.5 825.2h3.70V834.0h-3.70zM1288.2 737.7h3.70V746.5h-3.70zM1288.2 755.2h3.70V764.0h-3.70zM1288.2 869.0h3.70V877.7h-3.70zM1291.9 764.0h3.70V772.7h-3.70zM1291.9 799.0h3.70V807.7h-3.70zM1291.9 816.5h3.70V860.2h-3.70zM1291.9 904.0h3.70V912.7h-3.70zM1291.9 921.5h3.70V974.0h-3.70zM1291.9 982.7h3.70V991.5h-3.70zM1295.6 676.5h3.70V685.2h-3.70zM1295.6 694.0h3.70V711.5h-3.70zM1295.6 921.5h3.70V947.7h-3.70zM1295.6 956.5h3.70V965.2h-3.70zM1299.2 702.7h3.70V711.5h-3.70zM1299.2 921.5h3.70V930.2h-3.70zM1299.2 1000.2h3.70V1009.0h-3.70zM1302.9 676.5h3.70V685.2h-3.70zM1302.9 694.0h3.70V711.5h-3.70zM1302.9 729.0h3.70V737.7h-3.70zM1302.9 877.7h3.70V886.5h-3.70zM1302.9 930.2h3.70V947.7h-3.70zM1302.9 974.0h3.70V991.5h-3.70zM1306.6 676.5h3.70V685.2h-3.70zM1306.6 694.0h3.70V711.5h-3.70zM1306.6 737.7h3.70V755.2h-3.70zM1306.6 825.2h3.70V834.0h-3.70zM1306.6 877.7h3.70V895.2h-3.70zM1306.6 939.0h3.70V965.2h-3.70zM1310.3 825.2h3.70V834.0h-3.70zM1310.3 869.0h3.70V886.5h-3.70zM1310.3 912.7h3.70V921.5h-3.70zM1310.3 974.0h3.70V982.7h-3.70zM1314.0 711.5h3.70V720.2h-3.70zM1314.0 825.2h3.70V842.7h-3.70zM1314.0 921.5h3.70V930.2h-3.70zM1314.0 939.0h3.70V974.0h-3.70zM1317.7 711.5h3.70V720.2h-3.70zM1317.7 790.2h3.70V799.0h-3.70zM1317.7 851.5h3.70V869.0h-3.70zM1317.7 904.0h3.70V912.7h-3.70zM1321.4 659.0h3.70V667.7h-3.70zM1321.4 676.5h3.70V694.0h-3.70zM1321.4 702.7h3.70V711.5h-3.70zM1321.4 720.2h3.70V729.0h-3.70zM1321.4 755.2h3.70V772.7h-3.70zM1321.4 781.5h3.70V790.2h-3.70zM1321.4 807.7h3.70V834.0h-3.70zM1321.4 851.5h3.70V860.2h-3.70zM1321.4 904.0h3.70V930.2h-3.70zM1321.4 965.2h3.70V982.7h-3.70zM1325.1 685.2h3.70V694.0h-3.70zM1325.1 702.7h3.70V737.7h-3.70zM1325.1 877.7h3.70V886.5h-3.70zM1325.1 895.2h3.70V912.7h-3.70zM1325.1 921.5h3.70V956.5h-3.70zM1328.8 720.2h3.70V746.5h-3.70zM1328.8 886.5h3.70V895.2h-3.70zM1328.8 982.7h3.70V991.5h-3.70zM1332.5 694.0h3.70V702.7h-3.70zM1332.5 755.2h3.70V764.0h-3.70zM1332.5 860.2h3.70V869.0h-3.70zM1336.2 764.0h3.70V781.5h-3.70zM1336.2 851.5h3.70V860.2h-3.70zM1336.2 869.0h3.70V895.2h-3.70zM1336.2 930.2h3.70V965.2h-3.70zM1339.9 650.2h3.70V667.7h-3.70zM1343.6 790.2h3.70V816.5h-3.70zM1343.6 834.0h3.70V842.7h-3.70zM1343.6 851.5h3.70V869.0h-3.70zM1343.6 877.7h3.70V886.5h-3.70zM1343.6 921.5h3.70V947.7h-3.70zM1347.3 650.2h3.70V659.0h-3.70zM1347.3 667.7h3.70V685.2h-3.70zM1347.3 694.0h3.70V702.7h-3.70zM1347.3 991.5h3.70V1000.2h-3.70zM1351.0 641.5h3.70V650.2h-3.70zM1351.0 676.5h3.70V694.0h-3.70zM1351.0 746.5h3.70V772.7h-3.70zM1351.0 834.0h3.70V877.7h-3.70zM1351.0 991.5h3.70V1000.2h-3.70zM1354.7 632.7h3.70V641.5h-3.70zM1358.4 685.2h3.70V702.7h-3.70zM1358.4 807.7h3.70V825.2h-3.70zM1358.4 991.5h3.70V1000.2h-3.70zM1362.1 720.2h3.70V729.0h-3.70zM1362.1 755.2h3.70V764.0h-3.70zM1365.8 702.7h3.70V711.5h-3.70zM1365.8 799.0h3.70V816.5h-3.70zM1365.8 965.2h3.70V974.0h-3.70z"/><path fill="#0062ff" d="M201.1 895.2h3.70V904.0h-3.70zM201.1 912.7h3.70V965.2h-3.70zM201.1 991.5h3.70V1000.2h-3.70zM208.5 904.0h3.70V912.7h-3.70zM212.2 1035.2h3.70V1044.0h-3.70zM219.6 860.2h3.70V869.0h-3.70zM219.6 982.7h3.70V991.5h-3.70zM219.6 1009.0h3.70V1026.5h-3.70zM223.3 851.5h3.70V860.2h-3.70zM223.3 1000.2h3.70V1009.0h-3.70zM223.3 1017.7h3.70V1026.5h-3.70zM223.3 1052.7h3.70V1079.0h-3.70zM223.3 1096.5h3.70V1105.2h-3.70zM223.3 1140.2h3.70V1149.0h-3.70zM227.0 834.0h3.70V842.7h-3.70zM227.0 851.5h3.70V869.0h-3.70zM227.0 1105.2h3.70V1114.0h-3.70zM234.4 1114.0h3.70V1168.4h-3.70zM238.1 1000.2h3.70V1017.7h-3.70zM238.1 1026.5h3.70V1035.2h-3.70zM238.1 1131.5h3.70V1140.2h-3.70zM238.1 1149.0h3.70V1157.7h-3.70zM238.1 1166.5h3.70V1168.4h-3.70zM241.8 912.7h3.70V930.2h-3.70zM241.8 1149.0h3.70V1157.7h-3.70zM245.5 956.5h3.70V965.2h-3.70zM249.2 755.2h3.70V781.5h-3.70zM249.2 807.7h3.70V842.7h-3.70zM249.2 904.0h3.70V921.5h-3.70zM249.2 939.0h3.70V947.7h-3.70zM252.9 991.5h3.70V1000.2h-3.70zM252.9 1149.0h3.70V1157.7h-3.70zM256.6 1149.0h3.70V1157.7h-3.70zM260.3 974.0h3.70V1009.0h-3.70zM260.3 1026.5h3.70V1035.2h-3.70zM260.3 1114.0h3.70V1122.7h-3.70zM264.0 1122.7h3.70V1140.2h-3.70zM267.7 1149.0h3.70V1166.5h-3.70zM271.3 1061.5h3.70V1070.2h-3.70zM271.3 1149.0h3.70V1157.7h-3.70zM286.1 956.5h3.70V965.2h-3.70zM286.1 1035.2h3.70V1052.7h-3.70zM289.8 991.5h3.70V1000.2h-3.70zM297.2 930.2h3.70V939.0h-3.70zM297.2 956.5h3.70V974.0h-3.70zM300.9 825.2h3.70V851.5h-3.70zM300.9 930.2h3.70V947.7h-3.70zM304.6 790.2h3.70V807.7h-3.70zM312.0 886.5h3.70V904.0h-3.70zM330.5 877.7h3.70V886.5h-3.70zM330.5 904.0h3.70V912.7h-3.70zM330.5 930.2h3.70V939.0h-3.70zM334.2 877.7h3.70V886.5h-3.70zM337.9 886.5h3.70V904.0h-3.70zM341.6 860.2h3.70V877.7h-3.70zM341.6 1044.0h3.70V1052.7h-3.70zM345.3 877.7h3.70V886.5h-3.70zM345.3 895.2h3.70V912.7h-3.70zM345.3 1087.7h3.70V1096.5h-3.70zM349.0 842.7h3.70V851.5h-3.70zM349.0 877.7h3.70V886.5h-3.70zM349.0 895.2h3.70V904.0h-3.70zM352.7 860.2h3.70V877.7h-3.70zM352.7 912.7h3.70V921.5h-3.70zM356.4 860.2h3.70V869.0h-3.70zM356.4 895.2h3.70V904.0h-3.70zM360.1 860.2h3.70V869.0h-3.70zM360.1 1079.0h3.70V1087.7h-3.70zM371.2 851.5h3.70V869.0h-3.70zM371.2 886.5h3.70V895.2h-3.70zM371.2 930.2h3.70V939.0h-3.70zM371.2 947.7h3.70V974.0h-3.70zM371.2 1000.2h3.70V1026.5h-3.70zM378.6 1000.2h3.70V1009.0h-3.70zM378.6 1035.2h3.70V1052.7h-3.70zM378.6 1070.2h3.70V1079.0h-3.70zM378.6 1131.5h3.70V1140.2h-3.70zM382.3 834.0h3.70V851.5h-3.70zM382.3 956.5h3.70V965.2h-3.70zM382.3 974.0h3.70V1000.2h-3.70zM386.0 860.2h3.70V869.0h-3.70zM386.0 956.5h3.70V982.7h-3.70zM386.0 1000.2h3.70V1026.5h-3.70zM386.0 1140.2h3.70V1149.0h-3.70zM389.7 860.2h3.70V877.7h-3.70zM389.7 982.7h3.70V991.5h-3.70zM389.7 1009.0h3.70V1017.7h-3.70zM389.7 1026.5h3.70V1035.2h-3.70zM393.4 895.2h3.70V904.0h-3.70zM393.4 912.7h3.70V921.5h-3.70zM393.4 939.0h3.70V947.7h-3.70zM393.4 956.5h3.70V982.7h-3.70zM393.4 1017.7h3.70V1026.5h-3.70zM397.1 939.0h3.70V947.7h-3.70zM397.1 956.5h3.70V965.2h-3.70zM404.5 1000.2h3.70V1009.0h-3.70zM411.9 1070.2h3.70V1079.0h-3.70zM419.2 947.7h3.70V965.2h-3.70zM422.9 912.7h3.70V921.5h-3.70zM422.9 930.2h3.70V956.5h-3.70zM422.9 965.2h3.70V974.0h-3.70zM426.6 912.7h3.70V921.5h-3.70zM426.6 930.2h3.70V939.0h-3.70zM426.6 1061.5h3.70V1070.2h-3.70zM426.6 1149.0h3.70V1157.7h-3.70zM430.3 939.0h3.70V947.7h-3.70zM430.3 965.2h3.70V974.0h-3.70zM434.0 974.0h3.70V982.7h-3.70zM437.7 904.0h3.70V921.5h-3.70zM437.7 939.0h3.70V947.7h-3.70zM437.7 965.2h3.70V974.0h-3.70zM437.7 982.7h3.70V1009.0h-3.70zM441.4 842.7h3.70V851.5h-3.70zM441.4 860.2h3.70V869.0h-3.70zM441.4 877.7h3.70V886.5h-3.70zM441.4 947.7h3.70V965.2h-3.70zM441.4 1087.7h3.70V1096.5h-3.70zM441.4 1140.2h3.70V1149.0h-3.70zM441.4 1166.5h3.70V1168.4h-3.70zM445.1 877.7h3.70V886.5h-3.70zM445.1 921.5h3.70V939.0h-3.70zM445.1 947.7h3.70V965.2h-3.70zM445.1 1017.7h3.70V1026.5h-3.70zM445.1 1052.7h3.70V1061.5h-3.70zM448.8 755.2h3.70V781.5h-3.70zM448.8 825.2h3.70V842.7h-3.70zM448.8 965.2h3.70V974.0h-3.70zM448.8 1096.5h3.70V1105.2h-3.70zM448.8 1114.0h3.70V1122.7h-3.70zM452.5 947.7h3.70V974.0h-3.70zM456.2 860.2h3.70V869.0h-3.70zM456.2 877.7h3.70V886.5h-3.70zM456.2 895.2h3.70V904.0h-3.70zM456.2 1017.7h3.70V1026.5h-3.70zM463.6 930.2h3.70V939.0h-3.70zM463.6 947.7h3.70V956.5h-3.70zM463.6 1017.7h3.70V1035.2h-3.70zM463.6 1087.7h3.70V1096.5h-3.70zM467.3 921.5h3.70V947.7h-3.70zM467.3 982.7h3.70V1017.7h-3.70zM467.3 1044.0h3.70V1052.7h-3.70zM467.3 1061.5h3.70V1070.2h-3.70zM467.3 1122.7h3.70V1131.5h-3.70zM474.7 737.7h3.70V746.5h-3.70zM474.7 755.2h3.70V764.0h-3.70zM474.7 956.5h3.70V991.5h-3.70zM474.7 1026.5h3.70V1035.2h-3.70zM474.7 1105.2h3.70V1114.0h-3.70zM478.4 1122.7h3.70V1140.2h-3.70zM482.1 746.5h3.70V755.2h-3.70zM482.1 956.5h3.70V965.2h-3.70zM482.1 974.0h3.70V982.7h-3.70zM482.1 1122.7h3.70V1131.5h-3.70zM485.8 720.2h3.70V737.7h-3.70zM485.8 930.2h3.70V965.2h-3.70zM485.8 974.0h3.70V1000.2h-3.70zM485.8 1044.0h3.70V1061.5h-3.70zM485.8 1087.7h3.70V1096.5h-3.70zM485.8 1105.2h3.70V1114.0h-3.70zM489.5 694.0h3.70V702.7h-3.70zM489.5 1070.2h3.70V1079.0h-3.70zM489.5 1087.7h3.70V1105.2h-3.70zM489.5 1114.0h3.70V1122.7h-3.70zM493.2 729.0h3.70V746.5h-3.70zM493.2 947.7h3.70V956.5h-3.70zM493.2 1000.2h3.70V1052.7h-3.70zM493.2 1079.0h3.70V1087.7h-3.70zM493.2 1131.5h3.70V1157.7h-3.70zM496.9 755.2h3.70V764.0h-3.70zM496.9 974.0h3.70V982.7h-3.70zM496.9 1017.7h3.70V1035.2h-3.70zM496.9 1149.0h3.70V1157.7h-3.70zM500.6 755.2h3.70V772.7h-3.70zM500.6 869.0h3.70V877.7h-3.70zM500.6 912.7h3.70V947.7h-3.70zM500.6 1035.2h3.70V1070.2h-3.70zM500.6 1140.2h3.70V1149.0h-3.70zM504.3 991.5h3.70V1000.2h-3.70zM504.3 1114.0h3.70V1140.2h-3.70zM504.3 1157.7h3.70V1168.4h-3.70zM508.0 764.0h3.70V772.7h-3.70zM508.0 904.0h3.70V912.7h-3.70zM508.0 965.2h3.70V982.7h-3.70zM508.0 1105.2h3.70V1131.5h-3.70zM511.7 729.0h3.70V746.5h-3.70zM511.7 982.7h3.70V991.5h-3.70zM511.7 1044.0h3.70V1052.7h-3.70zM511.7 1079.0h3.70V1096.5h-3.70zM515.4 720.2h3.70V737.7h-3.70zM515.4 746.5h3.70V764.0h-3.70zM515.4 869.0h3.70V886.5h-3.70zM515.4 895.2h3.70V912.7h-3.70zM515.4 965.2h3.70V974.0h-3.70zM515.4 1000.2h3.70V1017.7h-3.70zM515.4 1061.5h3.70V1070.2h-3.70zM519.1 632.7h3.70V641.5h-3.70zM519.1 650.2h3.70V659.0h-3.70zM519.1 667.7h3.70V676.5h-3.70zM519.1 1149.0h3.70V1166.5h-3.70zM522.8 685.2h3.70V694.0h-3.70zM526.5 676.5h3.70V685.2h-3.70zM526.5 694.0h3.70V746.5h-3.70zM526.5 1052.7h3.70V1079.0h-3.70zM526.5 1096.5h3.70V1105.2h-3.70zM526.5 1157.7h3.70V1168.4h-3.70zM530.2 694.0h3.70V702.7h-3.70zM530.2 711.5h3.70V729.0h-3.70zM530.2 764.0h3.70V790.2h-3.70zM530.2 912.7h3.70V921.5h-3.70zM530.2 991.5h3.70V1000.2h-3.70zM530.2 1044.0h3.70V1052.7h-3.70zM530.2 1079.0h3.70V1087.7h-3.70zM530.2 1096.5h3.70V1105.2h-3.70zM533.9 755.2h3.70V772.7h-3.70zM537.6 1000.2h3.70V1017.7h-3.70zM537.6 1026.5h3.70V1044.0h-3.70zM537.6 1061.5h3.70V1070.2h-3.70zM541.3 781.5h3.70V790.2h-3.70zM541.3 1052.7h3.70V1070.2h-3.70zM541.3 1079.0h3.70V1087.7h-3.70zM545.0 694.0h3.70V711.5h-3.70zM545.0 729.0h3.70V737.7h-3.70zM545.0 755.2h3.70V790.2h-3.70zM545.0 912.7h3.70V930.2h-3.70zM545.0 974.0h3.70V991.5h-3.70zM545.0 1000.2h3.70V1026.5h-3.70zM548.7 746.5h3.70V772.7h-3.70zM548.7 956.5h3.70V965.2h-3.70zM548.7 1035.2h3.70V1044.0h-3.70zM552.4 755.2h3.70V764.0h-3.70zM552.4 921.5h3.70V930.2h-3.70zM552.4 947.7h3.70V956.5h-3.70zM552.4 965.2h3.70V974.0h-3.70zM552.4 1105.2h3.70V1114.0h-3.70zM556.1 816.5h3.70V834.0h-3.70zM556.1 956.5h3.70V965.2h-3.70zM556.1 1105.2h3.70V1114.0h-3.70zM559.8 720.2h3.70V729.0h-3.70zM559.8 1131.5h3.70V1149.0h-3.70zM563.5 729.0h3.70V737.7h-3.70zM563.5 764.0h3.70V799.0h-3.70zM563.5 974.0h3.70V982.7h-3.70zM563.5 1061.5h3.70V1070.2h-3.70zM567.1 755.2h3.70V764.0h-3.70zM567.1 1000.2h3.70V1017.7h-3.70zM567.1 1096.5h3.70V1122.7h-3.70zM570.8 781.5h3.70V790.2h-3.70zM570.8 912.7h3.70V930.2h-3.70zM574.5 772.7h3.70V799.0h-3.70zM574.5 1061.5h3.70V1070.2h-3.70zM578.2 1079.0h3.70V1114.0h-3.70zM581.9 825.2h3.70V842.7h-3.70zM581.9 1017.7h3.70V1026.5h-3.70zM585.6 834.0h3.70V851.5h-3.70zM585.6 1052.7h3.70V1061.5h-3.70zM585.6 1087.7h3.70V1105.2h-3.70zM589.3 772.7h3.70V790.2h-3.70zM589.3 991.5h3.70V1000.2h-3.70zM589.3 1017.7h3.70V1035.2h-3.70zM589.3 1052.7h3.70V1061.5h-3.70zM589.3 1070.2h3.70V1087.7h-3.70zM593.0 799.0h3.70V816.5h-3.70zM593.0 1122.7h3.70V1157.7h-3.70zM596.7 790.2h3.70V799.0h-3.70zM596.7 982.7h3.70V991.5h-3.70zM596.7 1000.2h3.70V1009.0h-3.70zM596.7 1017.7h3.70V1035.2h-3.70zM600.4 974.0h3.70V982.7h-3.70zM600.4 1009.0h3.70V1044.0h-3.70zM600.4 1114.0h3.70V1131.5h-3.70zM604.1 667.7h3.70V676.5h-3.70zM604.1 685.2h3.70V694.0h-3.70zM604.1 1052.7h3.70V1061.5h-3.70zM604.1 1070.2h3.70V1079.0h-3.70zM604.1 1105.2h3.70V1149.0h-3.70zM607.8 1096.5h3.70V1105.2h-3.70zM607.8 1122.7h3.70V1157.7h-3.70zM607.8 1166.5h3.70V1168.4h-3.70zM611.5 755.2h3.70V781.5h-3.70zM611.5 799.0h3.70V825.2h-3.70zM611.5 991.5h3.70V1035.2h-3.70zM611.5 1096.5h3.70V1105.2h-3.70zM611.5 1122.7h3.70V1131.5h-3.70zM615.2 781.5h3.70V790.2h-3.70zM615.2 799.0h3.70V807.7h-3.70zM615.2 816.5h3.70V825.2h-3.70zM615.2 1052.7h3.70V1061.5h-3.70zM615.2 1096.5h3.70V1114.0h-3.70zM615.2 1166.5h3.70V1168.4h-3.70zM618.9 790.2h3.70V799.0h-3.70zM618.9 816.5h3.70V825.2h-3.70zM618.9 860.2h3.70V869.0h-3.70zM622.6 1009.0h3.70V1026.5h-3.70zM622.6 1087.7h3.70V1096.5h-3.70zM622.6 1105.2h3.70V1114.0h-3.70zM622.6 1157.7h3.70V1166.5h-3.70zM626.3 825.2h3.70V842.7h-3.70zM626.3 1087.7h3.70V1096.5h-3.70zM626.3 1105.2h3.70V1122.7h-3.70zM626.3 1140.2h3.70V1149.0h-3.70zM626.3 1166.5h3.70V1168.4h-3.70zM630.0 755.2h3.70V772.7h-3.70zM633.7 781.5h3.70V790.2h-3.70zM633.7 1017.7h3.70V1026.5h-3.70zM633.7 1070.2h3.70V1079.0h-3.70zM633.7 1087.7h3.70V1105.2h-3.70zM633.7 1122.7h3.70V1140.2h-3.70zM637.4 825.2h3.70V842.7h-3.70zM637.4 851.5h3.70V860.2h-3.70zM637.4 869.0h3.70V895.2h-3.70zM637.4 1061.5h3.70V1070.2h-3.70zM641.1 799.0h3.70V807.7h-3.70zM641.1 825.2h3.70V877.7h-3.70zM641.1 886.5h3.70V912.7h-3.70zM641.1 1000.2h3.70V1017.7h-3.70zM644.8 886.5h3.70V895.2h-3.70zM644.8 1044.0h3.70V1052.7h-3.70zM648.5 842.7h3.70V851.5h-3.70zM648.5 1044.0h3.70V1070.2h-3.70zM648.5 1096.5h3.70V1114.0h-3.70zM652.2 807.7h3.70V834.0h-3.70zM652.2 1105.2h3.70V1114.0h-3.70zM655.9 886.5h3.70V895.2h-3.70zM655.9 1035.2h3.70V1052.7h-3.70zM659.6 860.2h3.70V904.0h-3.70zM659.6 912.7h3.70V921.5h-3.70zM663.3 886.5h3.70V895.2h-3.70zM663.3 1044.0h3.70V1052.7h-3.70zM663.3 1061.5h3.70V1079.0h-3.70zM667.0 1114.0h3.70V1131.5h-3.70zM670.7 1026.5h3.70V1035.2h-3.70zM674.4 1009.0h3.70V1026.5h-3.70zM678.1 1122.7h3.70V1140.2h-3.70zM685.5 842.7h3.70V860.2h-3.70zM685.5 1114.0h3.70V1122.7h-3.70zM689.2 895.2h3.70V904.0h-3.70zM689.2 1087.7h3.70V1096.5h-3.70zM692.9 904.0h3.70V921.5h-3.70zM696.6 1070.2h3.70V1079.0h-3.70zM700.3 1087.7h3.70V1096.5h-3.70zM700.3 1105.2h3.70V1114.0h-3.70zM704.0 1087.7h3.70V1105.2h-3.70zM711.3 1122.7h3.70V1131.5h-3.70zM715.0 1122.7h3.70V1131.5h-3.70zM718.7 877.7h3.70V886.5h-3.70zM718.7 1122.7h3.70V1131.5h-3.70zM722.4 930.2h3.70V939.0h-3.70zM722.4 1087.7h3.70V1096.5h-3.70zM726.1 912.7h3.70V939.0h-3.70zM726.1 1061.5h3.70V1070.2h-3.70zM726.1 1079.0h3.70V1087.7h-3.70zM729.8 886.5h3.70V895.2h-3.70zM733.5 842.7h3.70V851.5h-3.70zM733.5 860.2h3.70V869.0h-3.70zM733.5 1096.5h3.70V1114.0h-3.70zM737.2 825.2h3.70V834.0h-3.70zM737.2 851.5h3.70V877.7h-3.70zM737.2 895.2h3.70V904.0h-3.70zM737.2 912.7h3.70V947.7h-3.70zM737.2 1026.5h3.70V1052.7h-3.70zM737.2 1122.7h3.70V1131.5h-3.70zM740.9 921.5h3.70V930.2h-3.70zM740.9 1017.7h3.70V1044.0h-3.70zM744.6 974.0h3.70V982.7h-3.70zM744.6 1052.7h3.70V1061.5h-3.70zM748.3 947.7h3.70V956.5h-3.70zM748.3 1009.0h3.70V1026.5h-3.70zM752.0 904.0h3.70V921.5h-3.70zM752.0 974.0h3.70V1017.7h-3.70zM752.0 1035.2h3.70V1052.7h-3.70zM752.0 1070.2h3.70V1079.0h-3.70zM752.0 1087.7h3.70V1096.5h-3.70zM752.0 1105.2h3.70V1122.7h-3.70zM755.7 912.7h3.70V921.5h-3.70zM755.7 1070.2h3.70V1079.0h-3.70zM755.7 1087.7h3.70V1105.2h-3.70zM759.4 1026.5h3.70V1035.2h-3.70zM763.1 895.2h3.70V904.0h-3.70zM763.1 921.5h3.70V930.2h-3.70zM763.1 1052.7h3.70V1070.2h-3.70zM763.1 1079.0h3.70V1096.5h-3.70zM766.8 930.2h3.70V939.0h-3.70zM766.8 982.7h3.70V991.5h-3.70zM766.8 1009.0h3.70V1017.7h-3.70zM770.5 1052.7h3.70V1070.2h-3.70zM770.5 1079.0h3.70V1096.5h-3.70zM770.5 1105.2h3.70V1140.2h-3.70zM774.2 921.5h3.70V956.5h-3.70zM774.2 974.0h3.70V982.7h-3.70zM774.2 991.5h3.70V1009.0h-3.70zM774.2 1070.2h3.70V1079.0h-3.70zM777.9 947.7h3.70V956.5h-3.70zM777.9 1044.0h3.70V1052.7h-3.70zM777.9 1061.5h3.70V1070.2h-3.70zM777.9 1079.0h3.70V1087.7h-3.70zM781.6 912.7h3.70V921.5h-3.70zM781.6 939.0h3.70V965.2h-3.70zM781.6 1017.7h3.70V1026.5h-3.70zM785.3 991.5h3.70V1009.0h-3.70zM785.3 1026.5h3.70V1052.7h-3.70zM789.0 886.5h3.70V895.2h-3.70zM789.0 1017.7h3.70V1026.5h-3.70zM789.0 1061.5h3.70V1079.0h-3.70zM792.7 886.5h3.70V895.2h-3.70zM792.7 965.2h3.70V1009.0h-3.70zM792.7 1070.2h3.70V1079.0h-3.70zM796.4 1079.0h3.70V1114.0h-3.70zM796.4 1149.0h3.70V1157.7h-3.70zM800.1 869.0h3.70V877.7h-3.70zM803.8 869.0h3.70V877.7h-3.70zM807.5 834.0h3.70V851.5h-3.70zM807.5 1044.0h3.70V1061.5h-3.70zM811.2 1017.7h3.70V1026.5h-3.70zM811.2 1035.2h3.70V1052.7h-3.70zM814.9 860.2h3.70V869.0h-3.70zM814.9 1000.2h3.70V1026.5h-3.70zM814.9 1035.2h3.70V1044.0h-3.70zM818.6 886.5h3.70V895.2h-3.70zM818.6 1009.0h3.70V1017.7h-3.70zM822.3 965.2h3.70V991.5h-3.70zM822.3 1017.7h3.70V1026.5h-3.70zM822.3 1044.0h3.70V1052.7h-3.70zM826.0 886.5h3.70V895.2h-3.70zM826.0 912.7h3.70V930.2h-3.70zM826.0 939.0h3.70V956.5h-3.70zM826.0 965.2h3.70V974.0h-3.70zM826.0 982.7h3.70V1000.2h-3.70zM826.0 1009.0h3.70V1017.7h-3.70zM826.0 1044.0h3.70V1061.5h-3.70zM826.0 1070.2h3.70V1079.0h-3.70zM829.7 886.5h3.70V895.2h-3.70zM829.7 1044.0h3.70V1052.7h-3.70zM829.7 1070.2h3.70V1079.0h-3.70zM829.7 1122.7h3.70V1131.5h-3.70zM833.4 886.5h3.70V895.2h-3.70zM833.4 1096.5h3.70V1131.5h-3.70zM837.1 869.0h3.70V886.5h-3.70zM837.1 1044.0h3.70V1061.5h-3.70zM840.8 834.0h3.70V860.2h-3.70zM840.8 1052.7h3.70V1070.2h-3.70zM844.5 851.5h3.70V860.2h-3.70zM844.5 1061.5h3.70V1087.7h-3.70zM848.2 807.7h3.70V816.5h-3.70zM848.2 825.2h3.70V842.7h-3.70zM848.2 1052.7h3.70V1096.5h-3.70zM851.9 842.7h3.70V860.2h-3.70zM851.9 869.0h3.70V877.7h-3.70zM851.9 886.5h3.70V912.7h-3.70zM851.9 1017.7h3.70V1026.5h-3.70zM855.6 816.5h3.70V825.2h-3.70zM855.6 1070.2h3.70V1079.0h-3.70zM859.2 886.5h3.70V895.2h-3.70zM859.2 974.0h3.70V982.7h-3.70zM859.2 991.5h3.70V1009.0h-3.70zM859.2 1017.7h3.70V1035.2h-3.70zM859.2 1096.5h3.70V1114.0h-3.70zM862.9 860.2h3.70V869.0h-3.70zM862.9 1000.2h3.70V1009.0h-3.70zM866.6 982.7h3.70V1000.2h-3.70zM870.3 851.5h3.70V860.2h-3.70zM870.3 1009.0h3.70V1017.7h-3.70zM870.3 1079.0h3.70V1114.0h-3.70zM874.0 904.0h3.70V912.7h-3.70zM874.0 974.0h3.70V982.7h-3.70zM877.7 877.7h3.70V886.5h-3.70zM877.7 1009.0h3.70V1017.7h-3.70zM881.4 842.7h3.70V851.5h-3.70zM881.4 1079.0h3.70V1087.7h-3.70zM885.1 895.2h3.70V904.0h-3.70zM888.8 834.0h3.70V877.7h-3.70zM888.8 1105.2h3.70V1114.0h-3.70zM888.8 1122.7h3.70V1131.5h-3.70zM892.5 904.0h3.70V912.7h-3.70zM892.5 982.7h3.70V1009.0h-3.70zM896.2 1017.7h3.70V1026.5h-3.70zM899.9 877.7h3.70V886.5h-3.70zM903.6 877.7h3.70V886.5h-3.70zM903.6 1052.7h3.70V1061.5h-3.70zM907.3 869.0h3.70V886.5h-3.70zM911.0 877.7h3.70V895.2h-3.70zM911.0 982.7h3.70V991.5h-3.70zM911.0 1000.2h3.70V1009.0h-3.70zM911.0 1035.2h3.70V1052.7h-3.70zM914.7 877.7h3.70V886.5h-3.70zM914.7 1044.0h3.70V1052.7h-3.70zM914.7 1166.5h3.70V1168.4h-3.70zM918.4 886.5h3.70V895.2h-3.70zM918.4 1087.7h3.70V1105.2h-3.70zM922.1 860.2h3.70V869.0h-3.70zM922.1 1026.5h3.70V1035.2h-3.70zM925.8 869.0h3.70V877.7h-3.70zM925.8 1052.7h3.70V1070.2h-3.70zM929.5 1009.0h3.70V1026.5h-3.70zM933.2 904.0h3.70V921.5h-3.70zM933.2 991.5h3.70V1009.0h-3.70zM936.9 904.0h3.70V912.7h-3.70zM936.9 921.5h3.70V930.2h-3.70zM936.9 947.7h3.70V956.5h-3.70zM936.9 982.7h3.70V991.5h-3.70zM940.6 895.2h3.70V912.7h-3.70zM940.6 956.5h3.70V982.7h-3.70zM940.6 1009.0h3.70V1017.7h-3.70zM944.3 860.2h3.70V877.7h-3.70zM944.3 1000.2h3.70V1009.0h-3.70zM944.3 1026.5h3.70V1035.2h-3.70zM944.3 1044.0h3.70V1079.0h-3.70zM948.0 851.5h3.70V860.2h-3.70zM948.0 877.7h3.70V886.5h-3.70zM948.0 991.5h3.70V1000.2h-3.70zM948.0 1009.0h3.70V1026.5h-3.70zM948.0 1035.2h3.70V1044.0h-3.70zM951.7 895.2h3.70V904.0h-3.70zM951.7 991.5h3.70V1000.2h-3.70zM951.7 1026.5h3.70V1035.2h-3.70zM951.7 1044.0h3.70V1052.7h-3.70zM951.7 1061.5h3.70V1070.2h-3.70zM955.4 851.5h3.70V877.7h-3.70zM955.4 1009.0h3.70V1035.2h-3.70zM959.1 956.5h3.70V965.2h-3.70zM959.1 1017.7h3.70V1026.5h-3.70zM959.1 1052.7h3.70V1061.5h-3.70zM962.8 825.2h3.70V834.0h-3.70zM962.8 1000.2h3.70V1009.0h-3.70zM966.5 834.0h3.70V842.7h-3.70zM966.5 851.5h3.70V877.7h-3.70zM966.5 974.0h3.70V991.5h-3.70zM970.2 834.0h3.70V842.7h-3.70zM970.2 851.5h3.70V869.0h-3.70zM970.2 947.7h3.70V965.2h-3.70zM970.2 974.0h3.70V982.7h-3.70zM970.2 991.5h3.70V1009.0h-3.70zM973.9 869.0h3.70V886.5h-3.70zM973.9 947.7h3.70V965.2h-3.70zM973.9 982.7h3.70V991.5h-3.70zM977.6 860.2h3.70V869.0h-3.70zM977.6 965.2h3.70V974.0h-3.70zM977.6 1035.2h3.70V1044.0h-3.70zM988.7 790.2h3.70V799.0h-3.70zM988.7 1096.5h3.70V1105.2h-3.70zM992.4 799.0h3.70V807.7h-3.70zM992.4 825.2h3.70V834.0h-3.70zM992.4 947.7h3.70V956.5h-3.70zM996.1 834.0h3.70V860.2h-3.70zM996.1 869.0h3.70V886.5h-3.70zM996.1 921.5h3.70V930.2h-3.70zM999.8 807.7h3.70V816.5h-3.70zM999.8 886.5h3.70V895.2h-3.70zM999.8 904.0h3.70V912.7h-3.70zM999.8 921.5h3.70V930.2h-3.70zM1003.4 790.2h3.70V799.0h-3.70zM1007.1 904.0h3.70V912.7h-3.70zM1010.8 807.7h3.70V816.5h-3.70zM1018.2 921.5h3.70V947.7h-3.70zM1018.2 956.5h3.70V965.2h-3.70zM1021.9 799.0h3.70V807.7h-3.70zM1021.9 965.2h3.70V974.0h-3.70zM1025.6 799.0h3.70V834.0h-3.70zM1025.6 842.7h3.70V860.2h-3.70zM1025.6 912.7h3.70V921.5h-3.70zM1029.3 842.7h3.70V851.5h-3.70zM1029.3 974.0h3.70V982.7h-3.70zM1088.5 790.2h3.70V799.0h-3.70zM1088.5 816.5h3.70V842.7h-3.70zM1088.5 851.5h3.70V860.2h-3.70zM1088.5 869.0h3.70V886.5h-3.70zM1088.5 921.5h3.70V930.2h-3.70zM1092.2 772.7h3.70V790.2h-3.70zM1092.2 825.2h3.70V834.0h-3.70zM1092.2 869.0h3.70V877.7h-3.70zM1092.2 886.5h3.70V895.2h-3.70zM1092.2 912.7h3.70V921.5h-3.70zM1092.2 947.7h3.70V956.5h-3.70zM1095.9 659.0h3.70V676.5h-3.70zM1095.9 737.7h3.70V746.5h-3.70zM1099.6 860.2h3.70V869.0h-3.70zM1099.6 877.7h3.70V886.5h-3.70zM1099.6 904.0h3.70V921.5h-3.70zM1103.3 956.5h3.70V965.2h-3.70zM1103.3 974.0h3.70V982.7h-3.70zM1107.0 842.7h3.70V851.5h-3.70zM1107.0 869.0h3.70V895.2h-3.70zM1107.0 904.0h3.70V912.7h-3.70zM1107.0 921.5h3.70V939.0h-3.70zM1110.7 816.5h3.70V825.2h-3.70zM1110.7 930.2h3.70V947.7h-3.70zM1110.7 974.0h3.70V982.7h-3.70zM1114.4 860.2h3.70V869.0h-3.70zM1114.4 904.0h3.70V912.7h-3.70zM1114.4 921.5h3.70V930.2h-3.70zM1114.4 939.0h3.70V956.5h-3.70zM1118.1 807.7h3.70V816.5h-3.70zM1121.8 746.5h3.70V755.2h-3.70zM1121.8 764.0h3.70V772.7h-3.70zM1121.8 781.5h3.70V790.2h-3.70zM1121.8 965.2h3.70V974.0h-3.70zM1125.5 834.0h3.70V842.7h-3.70zM1129.2 746.5h3.70V755.2h-3.70zM1129.2 781.5h3.70V790.2h-3.70zM1129.2 807.7h3.70V816.5h-3.70zM1129.2 851.5h3.70V860.2h-3.70zM1129.2 877.7h3.70V886.5h-3.70zM1129.2 904.0h3.70V912.7h-3.70zM1147.7 755.2h3.70V764.0h-3.70zM1147.7 886.5h3.70V895.2h-3.70zM1151.3 834.0h3.70V860.2h-3.70zM1151.3 904.0h3.70V912.7h-3.70zM1151.3 930.2h3.70V939.0h-3.70zM1155.0 816.5h3.70V825.2h-3.70zM1155.0 834.0h3.70V842.7h-3.70zM1162.4 904.0h3.70V939.0h-3.70zM1162.4 947.7h3.70V956.5h-3.70zM1166.1 790.2h3.70V799.0h-3.70zM1166.1 807.7h3.70V842.7h-3.70zM1169.8 755.2h3.70V772.7h-3.70zM1169.8 816.5h3.70V834.0h-3.70zM1173.5 746.5h3.70V764.0h-3.70zM1173.5 860.2h3.70V886.5h-3.70zM1173.5 904.0h3.70V930.2h-3.70zM1177.2 904.0h3.70V930.2h-3.70zM1177.2 974.0h3.70V982.7h-3.70zM1180.9 772.7h3.70V790.2h-3.70zM1180.9 799.0h3.70V807.7h-3.70zM1180.9 860.2h3.70V869.0h-3.70zM1184.6 737.7h3.70V755.2h-3.70zM1184.6 807.7h3.70V816.5h-3.70zM1184.6 930.2h3.70V947.7h-3.70zM1188.3 737.7h3.70V746.5h-3.70zM1188.3 816.5h3.70V834.0h-3.70zM1188.3 877.7h3.70V886.5h-3.70zM1188.3 965.2h3.70V974.0h-3.70zM1192.0 781.5h3.70V790.2h-3.70zM1192.0 886.5h3.70V895.2h-3.70zM1192.0 921.5h3.70V947.7h-3.70zM1195.7 667.7h3.70V676.5h-3.70zM1195.7 895.2h3.70V912.7h-3.70zM1199.4 755.2h3.70V764.0h-3.70zM1199.4 939.0h3.70V956.5h-3.70zM1203.1 755.2h3.70V772.7h-3.70zM1203.1 781.5h3.70V790.2h-3.70zM1203.1 851.5h3.70V860.2h-3.70zM1203.1 869.0h3.70V921.5h-3.70zM1203.1 930.2h3.70V947.7h-3.70zM1203.1 956.5h3.70V974.0h-3.70zM1206.8 904.0h3.70V921.5h-3.70zM1206.8 947.7h3.70V965.2h-3.70zM1210.5 772.7h3.70V781.5h-3.70zM1217.9 799.0h3.70V834.0h-3.70zM1217.9 895.2h3.70V912.7h-3.70zM1221.6 711.5h3.70V720.2h-3.70zM1221.6 729.0h3.70V746.5h-3.70zM1221.6 877.7h3.70V904.0h-3.70zM1221.6 921.5h3.70V939.0h-3.70zM1221.6 947.7h3.70V956.5h-3.70zM1221.6 965.2h3.70V974.0h-3.70zM1225.3 694.0h3.70V711.5h-3.70zM1225.3 720.2h3.70V737.7h-3.70zM1225.3 799.0h3.70V816.5h-3.70zM1225.3 825.2h3.70V842.7h-3.70zM1229.0 781.5h3.70V790.2h-3.70zM1229.0 799.0h3.70V807.7h-3.70zM1229.0 869.0h3.70V877.7h-3.70zM1229.0 886.5h3.70V895.2h-3.70zM1229.0 947.7h3.70V956.5h-3.70zM1240.1 772.7h3.70V781.5h-3.70zM1240.1 790.2h3.70V799.0h-3.70zM1240.1 807.7h3.70V842.7h-3.70zM1240.1 939.0h3.70V956.5h-3.70zM1240.1 965.2h3.70V974.0h-3.70zM1243.8 807.7h3.70V816.5h-3.70zM1243.8 860.2h3.70V869.0h-3.70zM1247.5 921.5h3.70V930.2h-3.70zM1247.5 947.7h3.70V956.5h-3.70zM1247.5 965.2h3.70V982.7h-3.70zM1251.2 685.2h3.70V694.0h-3.70zM1251.2 816.5h3.70V851.5h-3.70zM1251.2 947.7h3.70V965.2h-3.70zM1251.2 974.0h3.70V982.7h-3.70zM1254.9 711.5h3.70V729.0h-3.70zM1254.9 930.2h3.70V956.5h-3.70zM1254.9 974.0h3.70V982.7h-3.70zM1258.6 702.7h3.70V711.5h-3.70zM1258.6 842.7h3.70V851.5h-3.70zM1258.6 869.0h3.70V877.7h-3.70zM1258.6 939.0h3.70V956.5h-3.70zM1262.3 799.0h3.70V807.7h-3.70zM1262.3 816.5h3.70V825.2h-3.70zM1266.0 790.2h3.70V807.7h-3.70zM1266.0 825.2h3.70V869.0h-3.70zM1266.0 877.7h3.70V904.0h-3.70zM1266.0 921.5h3.70V939.0h-3.70zM1269.7 799.0h3.70V816.5h-3.70zM1269.7 860.2h3.70V869.0h-3.70zM1269.7 930.2h3.70V939.0h-3.70zM1269.7 956.5h3.70V982.7h-3.70zM1273.4 772.7h3.70V781.5h-3.70zM1273.4 816.5h3.70V825.2h-3.70zM1273.4 869.0h3.70V886.5h-3.70zM1277.1 781.5h3.70V825.2h-3.70zM1277.1 842.7h3.70V851.5h-3.70zM1277.1 860.2h3.70V869.0h-3.70zM1277.1 886.5h3.70V904.0h-3.70zM1277.1 974.0h3.70V982.7h-3.70zM1280.8 799.0h3.70V807.7h-3.70zM1280.8 860.2h3.70V886.5h-3.70zM1284.5 632.7h3.70V641.5h-3.70zM1284.5 667.7h3.70V676.5h-3.70zM1284.5 720.2h3.70V737.7h-3.70zM1284.5 807.7h3.70V825.2h-3.70zM1288.2 746.5h3.70V755.2h-3.70zM1288.2 834.0h3.70V842.7h-3.70zM1288.2 851.5h3.70V869.0h-3.70zM1291.9 807.7h3.70V816.5h-3.70zM1291.9 860.2h3.70V869.0h-3.70zM1291.9 886.5h3.70V904.0h-3.70zM1291.9 974.0h3.70V982.7h-3.70zM1295.6 711.5h3.70V729.0h-3.70zM1295.6 737.7h3.70V746.5h-3.70zM1295.6 860.2h3.70V869.0h-3.70zM1295.6 904.0h3.70V912.7h-3.70zM1299.2 755.2h3.70V764.0h-3.70zM1299.2 895.2h3.70V921.5h-3.70zM1302.9 685.2h3.70V694.0h-3.70zM1302.9 737.7h3.70V746.5h-3.70zM1302.9 947.7h3.70V974.0h-3.70zM1306.6 720.2h3.70V729.0h-3.70zM1306.6 755.2h3.70V764.0h-3.70zM1306.6 799.0h3.70V825.2h-3.70zM1306.6 834.0h3.70V842.7h-3.70zM1306.6 860.2h3.70V869.0h-3.70zM1310.3 764.0h3.70V772.7h-3.70zM1310.3 886.5h3.70V912.7h-3.70zM1310.3 939.0h3.70V974.0h-3.70zM1314.0 676.5h3.70V685.2h-3.70zM1314.0 720.2h3.70V737.7h-3.70zM1314.0 807.7h3.70V825.2h-3.70zM1317.7 720.2h3.70V729.0h-3.70zM1317.7 755.2h3.70V764.0h-3.70zM1317.7 772.7h3.70V781.5h-3.70zM1321.4 729.0h3.70V755.2h-3.70zM1321.4 772.7h3.70V781.5h-3.70zM1321.4 790.2h3.70V807.7h-3.70zM1321.4 834.0h3.70V842.7h-3.70zM1321.4 860.2h3.70V869.0h-3.70zM1321.4 886.5h3.70V895.2h-3.70zM1321.4 930.2h3.70V947.7h-3.70zM1321.4 956.5h3.70V965.2h-3.70zM1325.1 694.0h3.70V702.7h-3.70zM1325.1 737.7h3.70V755.2h-3.70zM1325.1 807.7h3.70V816.5h-3.70zM1325.1 825.2h3.70V842.7h-3.70zM1325.1 851.5h3.70V869.0h-3.70zM1328.8 939.0h3.70V982.7h-3.70zM1332.5 702.7h3.70V711.5h-3.70zM1332.5 746.5h3.70V755.2h-3.70zM1332.5 799.0h3.70V807.7h-3.70zM1332.5 851.5h3.70V860.2h-3.70zM1332.5 869.0h3.70V912.7h-3.70zM1332.5 921.5h3.70V930.2h-3.70zM1332.5 982.7h3.70V991.5h-3.70zM1336.2 781.5h3.70V799.0h-3.70zM1336.2 825.2h3.70V834.0h-3.70zM1336.2 860.2h3.70V869.0h-3.70zM1343.6 737.7h3.70V746.5h-3.70zM1343.6 781.5h3.70V790.2h-3.70zM1343.6 816.5h3.70V834.0h-3.70zM1343.6 842.7h3.70V851.5h-3.70zM1347.3 659.0h3.70V667.7h-3.70zM1347.3 702.7h3.70V720.2h-3.70zM1347.3 816.5h3.70V834.0h-3.70zM1347.3 895.2h3.70V912.7h-3.70zM1347.3 921.5h3.70V956.5h-3.70zM1347.3 965.2h3.70V974.0h-3.70zM1351.0 694.0h3.70V746.5h-3.70zM1351.0 772.7h3.70V799.0h-3.70zM1351.0 877.7h3.70V904.0h-3.70zM1351.0 912.7h3.70V921.5h-3.70zM1354.7 702.7h3.70V711.5h-3.70zM1354.7 720.2h3.70V729.0h-3.70zM1354.7 816.5h3.70V825.2h-3.70zM1358.4 746.5h3.70V755.2h-3.70zM1358.4 790.2h3.70V807.7h-3.70zM1358.4 825.2h3.70V842.7h-3.70zM1358.4 974.0h3.70V991.5h-3.70zM1358.4 1000.2h3.70V1009.0h-3.70zM1362.1 729.0h3.70V755.2h-3.70zM1362.1 764.0h3.70V772.7h-3.70zM1362.1 842.7h3.70V851.5h-3.70zM1362.1 965.2h3.70V982.7h-3.70zM1365.8 711.5h3.70V729.0h-3.70zM1365.8 737.7h3.70V755.2h-3.70zM1365.8 781.5h3.70V790.2h-3.70zM1365.8 816.5h3.70V834.0h-3.70zM1365.8 851.5h3.70V860.2h-3.70zM1365.8 869.0h3.70V877.7h-3.70zM1365.8 895.2h3.70V904.0h-3.70zM1365.8 912.7h3.70V921.5h-3.70zM1365.8 939.0h3.70V965.2h-3.70zM1365.8 974.0h3.70V982.7h-3.70z"/><path fill="#006dff" d="M223.3 982.7h3.70V1000.2h-3.70zM223.3 1009.0h3.70V1017.7h-3.70zM223.3 1035.2h3.70V1044.0h-3.70zM223.3 1114.0h3.70V1122.7h-3.70zM227.0 842.7h3.70V851.5h-3.70zM227.0 1079.0h3.70V1087.7h-3.70zM238.1 1044.0h3.70V1052.7h-3.70zM238.1 1061.5h3.70V1079.0h-3.70zM238.1 1105.2h3.70V1131.5h-3.70zM238.1 1140.2h3.70V1149.0h-3.70zM238.1 1157.7h3.70V1166.5h-3.70zM241.8 904.0h3.70V912.7h-3.70zM241.8 1105.2h3.70V1114.0h-3.70zM241.8 1131.5h3.70V1149.0h-3.70zM245.5 877.7h3.70V895.2h-3.70zM245.5 939.0h3.70V956.5h-3.70zM245.5 965.2h3.70V974.0h-3.70zM245.5 1131.5h3.70V1140.2h-3.70zM245.5 1157.7h3.70V1168.4h-3.70zM249.2 842.7h3.70V869.0h-3.70zM249.2 877.7h3.70V886.5h-3.70zM249.2 895.2h3.70V904.0h-3.70zM249.2 921.5h3.70V939.0h-3.70zM249.2 947.7h3.70V974.0h-3.70zM249.2 982.7h3.70V991.5h-3.70zM249.2 1000.2h3.70V1017.7h-3.70zM249.2 1131.5h3.70V1140.2h-3.70zM252.9 982.7h3.70V991.5h-3.70zM252.9 1000.2h3.70V1009.0h-3.70zM252.9 1114.0h3.70V1131.5h-3.70zM252.9 1140.2h3.70V1149.0h-3.70zM256.6 965.2h3.70V982.7h-3.70zM256.6 1140.2h3.70V1149.0h-3.70zM260.3 1035.2h3.70V1061.5h-3.70zM260.3 1122.7h3.70V1131.5h-3.70zM264.0 1114.0h3.70V1122.7h-3.70zM264.0 1140.2h3.70V1149.0h-3.70zM267.7 1140.2h3.70V1149.0h-3.70zM271.3 1140.2h3.70V1149.0h-3.70zM286.1 965.2h3.70V974.0h-3.70zM286.1 1009.0h3.70V1035.2h-3.70zM293.5 956.5h3.70V965.2h-3.70zM304.6 807.7h3.70V816.5h-3.70zM330.5 912.7h3.70V930.2h-3.70zM334.2 790.2h3.70V799.0h-3.70zM334.2 842.7h3.70V851.5h-3.70zM334.2 895.2h3.70V904.0h-3.70zM345.3 1052.7h3.70V1070.2h-3.70zM349.0 851.5h3.70V860.2h-3.70zM349.0 886.5h3.70V895.2h-3.70zM352.7 877.7h3.70V886.5h-3.70zM352.7 895.2h3.70V904.0h-3.70zM352.7 1079.0h3.70V1087.7h-3.70zM356.4 869.0h3.70V877.7h-3.70zM356.4 886.5h3.70V895.2h-3.70zM360.1 877.7h3.70V886.5h-3.70zM360.1 904.0h3.70V921.5h-3.70zM371.2 895.2h3.70V930.2h-3.70zM371.2 974.0h3.70V991.5h-3.70zM378.6 1017.7h3.70V1035.2h-3.70zM382.3 851.5h3.70V860.2h-3.70zM382.3 965.2h3.70V974.0h-3.70zM382.3 1000.2h3.70V1009.0h-3.70zM382.3 1026.5h3.70V1052.7h-3.70zM386.0 869.0h3.70V895.2h-3.70zM386.0 912.7h3.70V921.5h-3.70zM386.0 991.5h3.70V1000.2h-3.70zM389.7 877.7h3.70V904.0h-3.70zM389.7 912.7h3.70V921.5h-3.70zM389.7 956.5h3.70V965.2h-3.70zM389.7 1000.2h3.70V1009.0h-3.70zM389.7 1017.7h3.70V1026.5h-3.70zM393.4 904.0h3.70V912.7h-3.70zM393.4 921.5h3.70V930.2h-3.70zM393.4 982.7h3.70V1000.2h-3.70zM393.4 1026.5h3.70V1035.2h-3.70zM397.1 965.2h3.70V974.0h-3.70zM422.9 921.5h3.70V930.2h-3.70zM422.9 956.5h3.70V965.2h-3.70zM422.9 974.0h3.70V982.7h-3.70zM430.3 947.7h3.70V965.2h-3.70zM437.7 921.5h3.70V939.0h-3.70zM441.4 886.5h3.70V895.2h-3.70zM441.4 982.7h3.70V991.5h-3.70zM441.4 1079.0h3.70V1087.7h-3.70zM445.1 886.5h3.70V921.5h-3.70zM445.1 939.0h3.70V947.7h-3.70zM445.1 965.2h3.70V991.5h-3.70zM448.8 746.5h3.70V755.2h-3.70zM448.8 781.5h3.70V790.2h-3.70zM448.8 799.0h3.70V825.2h-3.70zM448.8 842.7h3.70V869.0h-3.70zM448.8 956.5h3.70V965.2h-3.70zM448.8 974.0h3.70V991.5h-3.70zM448.8 1087.7h3.70V1096.5h-3.70zM456.2 869.0h3.70V877.7h-3.70zM456.2 886.5h3.70V895.2h-3.70zM463.6 1044.0h3.70V1070.2h-3.70zM467.3 956.5h3.70V982.7h-3.70zM474.7 746.5h3.70V755.2h-3.70zM474.7 772.7h3.70V781.5h-3.70zM474.7 939.0h3.70V956.5h-3.70zM474.7 1000.2h3.70V1026.5h-3.70zM474.7 1035.2h3.70V1044.0h-3.70zM474.7 1096.5h3.70V1105.2h-3.70zM478.4 711.5h3.70V729.0h-3.70zM478.4 1000.2h3.70V1009.0h-3.70zM478.4 1114.0h3.70V1122.7h-3.70zM482.1 737.7h3.70V746.5h-3.70zM482.1 755.2h3.70V764.0h-3.70zM482.1 860.2h3.70V877.7h-3.70zM485.8 737.7h3.70V755.2h-3.70zM485.8 912.7h3.70V921.5h-3.70zM485.8 1017.7h3.70V1026.5h-3.70zM485.8 1061.5h3.70V1087.7h-3.70zM489.5 904.0h3.70V939.0h-3.70zM489.5 1079.0h3.70V1087.7h-3.70zM493.2 746.5h3.70V755.2h-3.70zM493.2 860.2h3.70V895.2h-3.70zM493.2 1087.7h3.70V1131.5h-3.70zM496.9 912.7h3.70V974.0h-3.70zM496.9 1035.2h3.70V1044.0h-3.70zM500.6 851.5h3.70V869.0h-3.70zM504.3 737.7h3.70V746.5h-3.70zM504.3 886.5h3.70V921.5h-3.70zM504.3 930.2h3.70V974.0h-3.70zM504.3 982.7h3.70V991.5h-3.70zM504.3 1000.2h3.70V1017.7h-3.70zM504.3 1026.5h3.70V1035.2h-3.70zM504.3 1087.7h3.70V1096.5h-3.70zM504.3 1105.2h3.70V1114.0h-3.70zM508.0 772.7h3.70V781.5h-3.70zM508.0 886.5h3.70V904.0h-3.70zM511.7 746.5h3.70V755.2h-3.70zM511.7 921.5h3.70V930.2h-3.70zM511.7 974.0h3.70V982.7h-3.70zM511.7 1052.7h3.70V1079.0h-3.70zM515.4 737.7h3.70V746.5h-3.70zM515.4 764.0h3.70V772.7h-3.70zM515.4 860.2h3.70V869.0h-3.70zM515.4 956.5h3.70V965.2h-3.70zM519.1 676.5h3.70V694.0h-3.70zM519.1 1140.2h3.70V1149.0h-3.70zM522.8 1131.5h3.70V1140.2h-3.70zM526.5 1017.7h3.70V1035.2h-3.70zM526.5 1044.0h3.70V1052.7h-3.70zM526.5 1105.2h3.70V1114.0h-3.70zM526.5 1149.0h3.70V1157.7h-3.70zM530.2 702.7h3.70V711.5h-3.70zM530.2 904.0h3.70V912.7h-3.70zM530.2 974.0h3.70V991.5h-3.70zM530.2 1070.2h3.70V1079.0h-3.70zM533.9 772.7h3.70V781.5h-3.70zM533.9 930.2h3.70V939.0h-3.70zM537.6 746.5h3.70V764.0h-3.70zM537.6 772.7h3.70V781.5h-3.70zM541.3 1017.7h3.70V1052.7h-3.70zM541.3 1070.2h3.70V1079.0h-3.70zM545.0 790.2h3.70V799.0h-3.70zM545.0 895.2h3.70V912.7h-3.70zM545.0 930.2h3.70V939.0h-3.70zM545.0 956.5h3.70V974.0h-3.70zM548.7 772.7h3.70V790.2h-3.70zM548.7 921.5h3.70V939.0h-3.70zM552.4 939.0h3.70V947.7h-3.70zM552.4 974.0h3.70V982.7h-3.70zM556.1 947.7h3.70V956.5h-3.70zM559.8 807.7h3.70V816.5h-3.70zM559.8 930.2h3.70V939.0h-3.70zM563.5 1017.7h3.70V1035.2h-3.70zM563.5 1044.0h3.70V1052.7h-3.70zM563.5 1070.2h3.70V1079.0h-3.70zM567.1 764.0h3.70V772.7h-3.70zM567.1 982.7h3.70V1000.2h-3.70zM570.8 904.0h3.70V912.7h-3.70zM574.5 799.0h3.70V807.7h-3.70zM574.5 947.7h3.70V956.5h-3.70zM578.2 974.0h3.70V991.5h-3.70zM578.2 1070.2h3.70V1079.0h-3.70zM581.9 842.7h3.70V851.5h-3.70zM581.9 1000.2h3.70V1017.7h-3.70zM581.9 1026.5h3.70V1035.2h-3.70zM581.9 1044.0h3.70V1061.5h-3.70zM585.6 851.5h3.70V860.2h-3.70zM585.6 974.0h3.70V991.5h-3.70zM585.6 1070.2h3.70V1087.7h-3.70zM589.3 799.0h3.70V807.7h-3.70zM589.3 816.5h3.70V825.2h-3.70zM589.3 956.5h3.70V965.2h-3.70zM589.3 974.0h3.70V991.5h-3.70zM589.3 1000.2h3.70V1017.7h-3.70zM589.3 1087.7h3.70V1096.5h-3.70zM593.0 720.2h3.70V755.2h-3.70zM593.0 764.0h3.70V772.7h-3.70zM593.0 781.5h3.70V799.0h-3.70zM596.7 799.0h3.70V825.2h-3.70zM596.7 991.5h3.70V1000.2h-3.70zM596.7 1009.0h3.70V1017.7h-3.70zM600.4 834.0h3.70V842.7h-3.70zM600.4 965.2h3.70V974.0h-3.70zM600.4 1131.5h3.70V1140.2h-3.70zM604.1 764.0h3.70V772.7h-3.70zM604.1 781.5h3.70V790.2h-3.70zM604.1 1079.0h3.70V1105.2h-3.70zM607.8 755.2h3.70V772.7h-3.70zM607.8 1009.0h3.70V1017.7h-3.70zM611.5 781.5h3.70V799.0h-3.70zM611.5 982.7h3.70V991.5h-3.70zM611.5 1035.2h3.70V1052.7h-3.70zM611.5 1105.2h3.70V1122.7h-3.70zM615.2 807.7h3.70V816.5h-3.70zM615.2 825.2h3.70V834.0h-3.70zM615.2 1035.2h3.70V1052.7h-3.70zM618.9 825.2h3.70V842.7h-3.70zM618.9 851.5h3.70V860.2h-3.70zM618.9 869.0h3.70V877.7h-3.70zM618.9 974.0h3.70V982.7h-3.70zM618.9 991.5h3.70V1000.2h-3.70zM618.9 1035.2h3.70V1052.7h-3.70zM622.6 816.5h3.70V825.2h-3.70zM622.6 1122.7h3.70V1140.2h-3.70zM626.3 842.7h3.70V860.2h-3.70zM626.3 1070.2h3.70V1079.0h-3.70zM626.3 1096.5h3.70V1105.2h-3.70zM630.0 772.7h3.70V790.2h-3.70zM630.0 1122.7h3.70V1131.5h-3.70zM633.7 790.2h3.70V825.2h-3.70zM633.7 1061.5h3.70V1070.2h-3.70zM637.4 842.7h3.70V851.5h-3.70zM637.4 860.2h3.70V869.0h-3.70zM637.4 904.0h3.70V912.7h-3.70zM637.4 1044.0h3.70V1052.7h-3.70zM637.4 1070.2h3.70V1114.0h-3.70zM641.1 816.5h3.70V825.2h-3.70zM641.1 877.7h3.70V886.5h-3.70zM641.1 921.5h3.70V947.7h-3.70zM644.8 895.2h3.70V904.0h-3.70zM644.8 982.7h3.70V991.5h-3.70zM644.8 1009.0h3.70V1017.7h-3.70zM644.8 1026.5h3.70V1044.0h-3.70zM648.5 851.5h3.70V860.2h-3.70zM648.5 869.0h3.70V895.2h-3.70zM648.5 1000.2h3.70V1009.0h-3.70zM648.5 1026.5h3.70V1035.2h-3.70zM648.5 1070.2h3.70V1096.5h-3.70zM652.2 851.5h3.70V860.2h-3.70zM652.2 1044.0h3.70V1052.7h-3.70zM652.2 1061.5h3.70V1070.2h-3.70zM652.2 1096.5h3.70V1105.2h-3.70zM655.9 895.2h3.70V904.0h-3.70zM655.9 1026.5h3.70V1035.2h-3.70zM659.6 904.0h3.70V912.7h-3.70zM659.6 921.5h3.70V930.2h-3.70zM659.6 1105.2h3.70V1114.0h-3.70zM663.3 895.2h3.70V904.0h-3.70zM663.3 1052.7h3.70V1061.5h-3.70zM667.0 1026.5h3.70V1035.2h-3.70zM670.7 1017.7h3.70V1026.5h-3.70zM674.4 965.2h3.70V974.0h-3.70zM678.1 1035.2h3.70V1044.0h-3.70zM681.8 1035.2h3.70V1044.0h-3.70zM685.5 869.0h3.70V877.7h-3.70zM685.5 1079.0h3.70V1114.0h-3.70zM689.2 904.0h3.70V912.7h-3.70zM689.2 1079.0h3.70V1087.7h-3.70zM692.9 921.5h3.70V939.0h-3.70zM692.9 1061.5h3.70V1070.2h-3.70zM700.3 1070.2h3.70V1087.7h-3.70zM700.3 1096.5h3.70V1105.2h-3.70zM704.0 1070.2h3.70V1087.7h-3.70zM707.7 1131.5h3.70V1140.2h-3.70zM711.3 939.0h3.70V947.7h-3.70zM715.0 939.0h3.70V947.7h-3.70zM715.0 1114.0h3.70V1122.7h-3.70zM718.7 886.5h3.70V930.2h-3.70zM718.7 1105.2h3.70V1114.0h-3.70zM722.4 921.5h3.70V930.2h-3.70zM722.4 939.0h3.70V947.7h-3.70zM722.4 1061.5h3.70V1087.7h-3.70zM726.1 1052.7h3.70V1061.5h-3.70zM729.8 895.2h3.70V904.0h-3.70zM729.8 912.7h3.70V930.2h-3.70zM729.8 1079.0h3.70V1087.7h-3.70zM733.5 877.7h3.70V886.5h-3.70zM737.2 947.7h3.70V965.2h-3.70zM737.2 1009.0h3.70V1017.7h-3.70zM740.9 930.2h3.70V939.0h-3.70zM740.9 956.5h3.70V974.0h-3.70zM740.9 1000.2h3.70V1017.7h-3.70zM744.6 982.7h3.70V991.5h-3.70zM748.3 956.5h3.70V965.2h-3.70zM748.3 991.5h3.70V1009.0h-3.70zM752.0 921.5h3.70V930.2h-3.70zM752.0 939.0h3.70V947.7h-3.70zM752.0 965.2h3.70V974.0h-3.70zM752.0 1017.7h3.70V1035.2h-3.70zM755.7 921.5h3.70V930.2h-3.70zM755.7 947.7h3.70V956.5h-3.70zM755.7 1052.7h3.70V1061.5h-3.70zM755.7 1079.0h3.70V1087.7h-3.70zM763.1 904.0h3.70V921.5h-3.70zM763.1 1035.2h3.70V1052.7h-3.70zM763.1 1070.2h3.70V1079.0h-3.70zM766.8 939.0h3.70V947.7h-3.70zM766.8 965.2h3.70V974.0h-3.70zM766.8 1000.2h3.70V1009.0h-3.70zM766.8 1017.7h3.70V1035.2h-3.70zM766.8 1070.2h3.70V1079.0h-3.70zM770.5 939.0h3.70V947.7h-3.70zM770.5 956.5h3.70V965.2h-3.70zM770.5 974.0h3.70V991.5h-3.70zM770.5 1035.2h3.70V1052.7h-3.70zM770.5 1096.5h3.70V1105.2h-3.70zM774.2 982.7h3.70V991.5h-3.70zM774.2 1009.0h3.70V1017.7h-3.70zM774.2 1061.5h3.70V1070.2h-3.70zM777.9 939.0h3.70V947.7h-3.70zM777.9 965.2h3.70V982.7h-3.70zM781.6 930.2h3.70V939.0h-3.70zM785.3 877.7h3.70V895.2h-3.70zM785.3 982.7h3.70V991.5h-3.70zM785.3 1009.0h3.70V1017.7h-3.70zM789.0 895.2h3.70V904.0h-3.70zM789.0 1000.2h3.70V1017.7h-3.70zM789.0 1026.5h3.70V1061.5h-3.70zM792.7 895.2h3.70V904.0h-3.70zM792.7 1009.0h3.70V1035.2h-3.70zM792.7 1044.0h3.70V1070.2h-3.70zM792.7 1087.7h3.70V1105.2h-3.70zM796.4 877.7h3.70V886.5h-3.70zM796.4 1070.2h3.70V1079.0h-3.70zM796.4 1114.0h3.70V1122.7h-3.70zM796.4 1131.5h3.70V1149.0h-3.70zM796.4 1157.7h3.70V1166.5h-3.70zM800.1 1061.5h3.70V1070.2h-3.70zM800.1 1079.0h3.70V1096.5h-3.70zM800.1 1131.5h3.70V1140.2h-3.70zM803.8 1061.5h3.70V1079.0h-3.70zM803.8 1105.2h3.70V1131.5h-3.70zM811.2 877.7h3.70V886.5h-3.70zM811.2 974.0h3.70V982.7h-3.70zM811.2 1009.0h3.70V1017.7h-3.70zM811.2 1026.5h3.70V1035.2h-3.70zM814.9 991.5h3.70V1000.2h-3.70zM818.6 895.2h3.70V904.0h-3.70zM818.6 991.5h3.70V1009.0h-3.70zM822.3 895.2h3.70V912.7h-3.70zM822.3 947.7h3.70V956.5h-3.70zM822.3 1000.2h3.70V1017.7h-3.70zM826.0 974.0h3.70V982.7h-3.70zM826.0 1061.5h3.70V1070.2h-3.70zM829.7 895.2h3.70V921.5h-3.70zM829.7 1079.0h3.70V1096.5h-3.70zM829.7 1105.2h3.70V1114.0h-3.70zM833.4 895.2h3.70V904.0h-3.70zM833.4 1000.2h3.70V1009.0h-3.70zM833.4 1026.5h3.70V1044.0h-3.70zM833.4 1052.7h3.70V1096.5h-3.70zM837.1 939.0h3.70V947.7h-3.70zM837.1 956.5h3.70V965.2h-3.70zM840.8 1035.2h3.70V1052.7h-3.70zM840.8 1070.2h3.70V1087.7h-3.70zM840.8 1096.5h3.70V1105.2h-3.70zM844.5 860.2h3.70V869.0h-3.70zM848.2 816.5h3.70V825.2h-3.70zM848.2 842.7h3.70V851.5h-3.70zM848.2 1035.2h3.70V1052.7h-3.70zM851.9 912.7h3.70V921.5h-3.70zM851.9 1000.2h3.70V1017.7h-3.70zM855.6 825.2h3.70V842.7h-3.70zM855.6 851.5h3.70V860.2h-3.70zM855.6 1017.7h3.70V1026.5h-3.70zM855.6 1061.5h3.70V1070.2h-3.70zM859.2 877.7h3.70V886.5h-3.70zM859.2 904.0h3.70V912.7h-3.70zM859.2 965.2h3.70V974.0h-3.70zM859.2 982.7h3.70V991.5h-3.70zM859.2 1009.0h3.70V1017.7h-3.70zM859.2 1044.0h3.70V1052.7h-3.70zM859.2 1070.2h3.70V1096.5h-3.70zM862.9 869.0h3.70V886.5h-3.70zM862.9 991.5h3.70V1000.2h-3.70zM866.6 886.5h3.70V895.2h-3.70zM866.6 974.0h3.70V982.7h-3.70zM870.3 860.2h3.70V869.0h-3.70zM874.0 921.5h3.70V930.2h-3.70zM874.0 939.0h3.70V947.7h-3.70zM874.0 956.5h3.70V965.2h-3.70zM874.0 982.7h3.70V991.5h-3.70zM877.7 886.5h3.70V895.2h-3.70zM877.7 1000.2h3.70V1009.0h-3.70zM881.4 886.5h3.70V895.2h-3.70zM881.4 956.5h3.70V965.2h-3.70zM881.4 991.5h3.70V1009.0h-3.70zM881.4 1017.7h3.70V1026.5h-3.70zM881.4 1035.2h3.70V1044.0h-3.70zM885.1 904.0h3.70V912.7h-3.70zM885.1 921.5h3.70V930.2h-3.70zM885.1 956.5h3.70V1000.2h-3.70zM888.8 877.7h3.70V886.5h-3.70zM888.8 1044.0h3.70V1061.5h-3.70zM892.5 921.5h3.70V939.0h-3.70zM892.5 956.5h3.70V982.7h-3.70zM899.9 886.5h3.70V912.7h-3.70zM899.9 1009.0h3.70V1017.7h-3.70zM903.6 886.5h3.70V895.2h-3.70zM903.6 930.2h3.70V939.0h-3.70zM903.6 991.5h3.70V1017.7h-3.70zM903.6 1026.5h3.70V1035.2h-3.70zM903.6 1044.0h3.70V1052.7h-3.70zM907.3 886.5h3.70V904.0h-3.70zM907.3 1070.2h3.70V1079.0h-3.70zM911.0 904.0h3.70V921.5h-3.70zM911.0 1009.0h3.70V1035.2h-3.70zM914.7 886.5h3.70V895.2h-3.70zM914.7 1035.2h3.70V1044.0h-3.70zM918.4 1044.0h3.70V1052.7h-3.70zM918.4 1070.2h3.70V1087.7h-3.70zM922.1 877.7h3.70V886.5h-3.70zM925.8 886.5h3.70V895.2h-3.70zM929.5 921.5h3.70V939.0h-3.70zM929.5 956.5h3.70V965.2h-3.70zM933.2 982.7h3.70V991.5h-3.70zM936.9 912.7h3.70V921.5h-3.70zM936.9 939.0h3.70V947.7h-3.70zM936.9 956.5h3.70V965.2h-3.70zM940.6 877.7h3.70V886.5h-3.70zM940.6 991.5h3.70V1009.0h-3.70zM940.6 1017.7h3.70V1044.0h-3.70zM944.3 982.7h3.70V1000.2h-3.70zM948.0 842.7h3.70V851.5h-3.70zM948.0 869.0h3.70V877.7h-3.70zM948.0 886.5h3.70V904.0h-3.70zM948.0 1026.5h3.70V1035.2h-3.70zM951.7 869.0h3.70V895.2h-3.70zM951.7 974.0h3.70V991.5h-3.70zM951.7 1035.2h3.70V1044.0h-3.70zM951.7 1052.7h3.70V1061.5h-3.70zM955.4 842.7h3.70V851.5h-3.70zM955.4 877.7h3.70V886.5h-3.70zM955.4 982.7h3.70V1009.0h-3.70zM959.1 816.5h3.70V825.2h-3.70zM959.1 947.7h3.70V956.5h-3.70zM959.1 1026.5h3.70V1052.7h-3.70zM962.8 834.0h3.70V842.7h-3.70zM962.8 851.5h3.70V869.0h-3.70zM962.8 947.7h3.70V956.5h-3.70zM966.5 842.7h3.70V851.5h-3.70zM966.5 877.7h3.70V895.2h-3.70zM966.5 904.0h3.70V912.7h-3.70zM970.2 816.5h3.70V834.0h-3.70zM970.2 842.7h3.70V851.5h-3.70zM970.2 869.0h3.70V877.7h-3.70zM970.2 939.0h3.70V947.7h-3.70zM973.9 886.5h3.70V895.2h-3.70zM973.9 974.0h3.70V982.7h-3.70zM977.6 869.0h3.70V877.7h-3.70zM977.6 956.5h3.70V965.2h-3.70zM985.0 799.0h3.70V807.7h-3.70zM985.0 886.5h3.70V912.7h-3.70zM985.0 1000.2h3.70V1009.0h-3.70zM988.7 781.5h3.70V790.2h-3.70zM988.7 807.7h3.70V834.0h-3.70zM988.7 912.7h3.70V930.2h-3.70zM988.7 1079.0h3.70V1096.5h-3.70zM992.4 834.0h3.70V842.7h-3.70zM992.4 912.7h3.70V921.5h-3.70zM996.1 930.2h3.70V939.0h-3.70zM999.8 816.5h3.70V825.2h-3.70zM1003.4 816.5h3.70V825.2h-3.70zM1003.4 834.0h3.70V842.7h-3.70zM1003.4 912.7h3.70V921.5h-3.70zM1018.2 860.2h3.70V869.0h-3.70zM1018.2 947.7h3.70V956.5h-3.70zM1021.9 877.7h3.70V886.5h-3.70zM1021.9 921.5h3.70V956.5h-3.70zM1025.6 834.0h3.70V842.7h-3.70zM1025.6 904.0h3.70V912.7h-3.70zM1029.3 834.0h3.70V842.7h-3.70zM1029.3 851.5h3.70V860.2h-3.70zM1029.3 939.0h3.70V965.2h-3.70zM1062.6 720.2h3.70V755.2h-3.70zM1062.6 764.0h3.70V781.5h-3.70zM1088.5 842.7h3.70V851.5h-3.70zM1088.5 860.2h3.70V869.0h-3.70zM1088.5 886.5h3.70V904.0h-3.70zM1088.5 912.7h3.70V921.5h-3.70zM1088.5 947.7h3.70V965.2h-3.70zM1092.2 764.0h3.70V772.7h-3.70zM1092.2 834.0h3.70V851.5h-3.70zM1092.2 860.2h3.70V869.0h-3.70zM1092.2 921.5h3.70V930.2h-3.70zM1092.2 939.0h3.70V947.7h-3.70zM1095.9 746.5h3.70V755.2h-3.70zM1099.6 895.2h3.70V904.0h-3.70zM1099.6 921.5h3.70V930.2h-3.70zM1099.6 939.0h3.70V956.5h-3.70zM1107.0 895.2h3.70V904.0h-3.70zM1107.0 912.7h3.70V921.5h-3.70zM1110.7 825.2h3.70V834.0h-3.70zM1110.7 877.7h3.70V895.2h-3.70zM1110.7 912.7h3.70V921.5h-3.70zM1114.4 851.5h3.70V860.2h-3.70zM1114.4 912.7h3.70V921.5h-3.70zM1118.1 799.0h3.70V807.7h-3.70zM1118.1 816.5h3.70V851.5h-3.70zM1121.8 772.7h3.70V781.5h-3.70zM1121.8 799.0h3.70V816.5h-3.70zM1121.8 834.0h3.70V851.5h-3.70zM1121.8 912.7h3.70V921.5h-3.70zM1121.8 956.5h3.70V965.2h-3.70zM1125.5 886.5h3.70V904.0h-3.70zM1125.5 930.2h3.70V947.7h-3.70zM1125.5 965.2h3.70V982.7h-3.70zM1129.2 790.2h3.70V807.7h-3.70zM1129.2 816.5h3.70V825.2h-3.70zM1129.2 834.0h3.70V842.7h-3.70zM1129.2 860.2h3.70V869.0h-3.70zM1129.2 886.5h3.70V904.0h-3.70zM1129.2 991.5h3.70V1000.2h-3.70zM1151.3 860.2h3.70V869.0h-3.70zM1169.8 807.7h3.70V816.5h-3.70zM1173.5 886.5h3.70V904.0h-3.70zM1177.2 947.7h3.70V965.2h-3.70zM1180.9 790.2h3.70V799.0h-3.70zM1180.9 807.7h3.70V816.5h-3.70zM1180.9 842.7h3.70V860.2h-3.70zM1184.6 694.0h3.70V711.5h-3.70zM1184.6 729.0h3.70V737.7h-3.70zM1184.6 764.0h3.70V807.7h-3.70zM1184.6 886.5h3.70V895.2h-3.70zM1184.6 921.5h3.70V930.2h-3.70zM1188.3 781.5h3.70V799.0h-3.70zM1188.3 807.7h3.70V816.5h-3.70zM1188.3 930.2h3.70V947.7h-3.70zM1192.0 790.2h3.70V799.0h-3.70zM1192.0 869.0h3.70V886.5h-3.70zM1192.0 895.2h3.70V921.5h-3.70zM1195.7 694.0h3.70V702.7h-3.70zM1195.7 746.5h3.70V764.0h-3.70zM1195.7 834.0h3.70V842.7h-3.70zM1195.7 860.2h3.70V869.0h-3.70zM1195.7 877.7h3.70V895.2h-3.70zM1195.7 912.7h3.70V939.0h-3.70zM1199.4 764.0h3.70V781.5h-3.70zM1199.4 895.2h3.70V939.0h-3.70zM1199.4 956.5h3.70V974.0h-3.70zM1203.1 860.2h3.70V869.0h-3.70zM1206.8 816.5h3.70V834.0h-3.70zM1206.8 886.5h3.70V904.0h-3.70zM1206.8 939.0h3.70V947.7h-3.70zM1217.9 834.0h3.70V842.7h-3.70zM1217.9 869.0h3.70V895.2h-3.70zM1217.9 912.7h3.70V921.5h-3.70zM1217.9 947.7h3.70V974.0h-3.70zM1221.6 720.2h3.70V729.0h-3.70zM1221.6 746.5h3.70V772.7h-3.70zM1221.6 860.2h3.70V877.7h-3.70zM1225.3 711.5h3.70V720.2h-3.70zM1225.3 737.7h3.70V755.2h-3.70zM1225.3 764.0h3.70V772.7h-3.70zM1225.3 781.5h3.70V799.0h-3.70zM1225.3 816.5h3.70V825.2h-3.70zM1225.3 851.5h3.70V877.7h-3.70zM1229.0 790.2h3.70V799.0h-3.70zM1229.0 816.5h3.70V869.0h-3.70zM1229.0 912.7h3.70V921.5h-3.70zM1229.0 930.2h3.70V947.7h-3.70zM1236.4 685.2h3.70V702.7h-3.70zM1236.4 737.7h3.70V746.5h-3.70zM1240.1 755.2h3.70V772.7h-3.70zM1240.1 781.5h3.70V790.2h-3.70zM1240.1 956.5h3.70V965.2h-3.70zM1243.8 746.5h3.70V764.0h-3.70zM1243.8 781.5h3.70V807.7h-3.70zM1243.8 930.2h3.70V939.0h-3.70zM1243.8 956.5h3.70V965.2h-3.70zM1243.8 974.0h3.70V982.7h-3.70zM1247.5 746.5h3.70V764.0h-3.70zM1247.5 930.2h3.70V947.7h-3.70zM1247.5 956.5h3.70V965.2h-3.70zM1251.2 694.0h3.70V729.0h-3.70zM1251.2 790.2h3.70V799.0h-3.70zM1251.2 851.5h3.70V895.2h-3.70zM1251.2 921.5h3.70V939.0h-3.70zM1254.9 825.2h3.70V834.0h-3.70zM1254.9 851.5h3.70V886.5h-3.70zM1254.9 895.2h3.70V904.0h-3.70zM1258.6 711.5h3.70V720.2h-3.70zM1258.6 729.0h3.70V755.2h-3.70zM1258.6 764.0h3.70V772.7h-3.70zM1258.6 781.5h3.70V790.2h-3.70zM1258.6 825.2h3.70V842.7h-3.70zM1258.6 886.5h3.70V895.2h-3.70zM1258.6 974.0h3.70V991.5h-3.70zM1266.0 904.0h3.70V921.5h-3.70zM1269.7 772.7h3.70V790.2h-3.70zM1269.7 939.0h3.70V956.5h-3.70zM1273.4 764.0h3.70V772.7h-3.70zM1273.4 781.5h3.70V799.0h-3.70zM1277.1 869.0h3.70V886.5h-3.70zM1277.1 921.5h3.70V956.5h-3.70zM1277.1 965.2h3.70V974.0h-3.70zM1277.1 982.7h3.70V991.5h-3.70zM1280.8 790.2h3.70V799.0h-3.70zM1280.8 807.7h3.70V825.2h-3.70zM1280.8 842.7h3.70V860.2h-3.70zM1280.8 886.5h3.70V912.7h-3.70zM1284.5 659.0h3.70V667.7h-3.70zM1284.5 737.7h3.70V746.5h-3.70zM1284.5 781.5h3.70V799.0h-3.70zM1288.2 764.0h3.70V781.5h-3.70zM1288.2 816.5h3.70V834.0h-3.70zM1288.2 842.7h3.70V851.5h-3.70zM1291.9 772.7h3.70V799.0h-3.70zM1291.9 869.0h3.70V886.5h-3.70zM1295.6 729.0h3.70V737.7h-3.70zM1295.6 746.5h3.70V772.7h-3.70zM1295.6 834.0h3.70V860.2h-3.70zM1295.6 869.0h3.70V877.7h-3.70zM1295.6 886.5h3.70V895.2h-3.70zM1295.6 912.7h3.70V921.5h-3.70zM1299.2 737.7h3.70V746.5h-3.70zM1299.2 764.0h3.70V790.2h-3.70zM1299.2 877.7h3.70V895.2h-3.70zM1299.2 930.2h3.70V939.0h-3.70zM1299.2 947.7h3.70V956.5h-3.70zM1299.2 982.7h3.70V991.5h-3.70zM1302.9 746.5h3.70V755.2h-3.70zM1302.9 816.5h3.70V834.0h-3.70zM1302.9 851.5h3.70V860.2h-3.70zM1302.9 869.0h3.70V877.7h-3.70zM1306.6 772.7h3.70V799.0h-3.70zM1306.6 842.7h3.70V851.5h-3.70zM1310.3 772.7h3.70V790.2h-3.70zM1310.3 799.0h3.70V825.2h-3.70zM1314.0 685.2h3.70V694.0h-3.70zM1314.0 737.7h3.70V746.5h-3.70zM1314.0 755.2h3.70V764.0h-3.70zM1314.0 799.0h3.70V807.7h-3.70zM1317.7 729.0h3.70V737.7h-3.70zM1317.7 746.5h3.70V755.2h-3.70zM1317.7 764.0h3.70V772.7h-3.70zM1321.4 869.0h3.70V886.5h-3.70zM1321.4 895.2h3.70V904.0h-3.70zM1321.4 947.7h3.70V956.5h-3.70zM1325.1 755.2h3.70V764.0h-3.70zM1325.1 781.5h3.70V790.2h-3.70zM1325.1 799.0h3.70V807.7h-3.70zM1325.1 816.5h3.70V825.2h-3.70zM1325.1 842.7h3.70V851.5h-3.70zM1325.1 869.0h3.70V877.7h-3.70zM1328.8 746.5h3.70V764.0h-3.70zM1328.8 869.0h3.70V886.5h-3.70zM1332.5 711.5h3.70V720.2h-3.70zM1332.5 737.7h3.70V746.5h-3.70zM1332.5 807.7h3.70V816.5h-3.70zM1332.5 912.7h3.70V921.5h-3.70zM1332.5 930.2h3.70V956.5h-3.70zM1332.5 965.2h3.70V974.0h-3.70zM1336.2 816.5h3.70V825.2h-3.70zM1339.9 667.7h3.70V676.5h-3.70zM1339.9 685.2h3.70V694.0h-3.70zM1339.9 807.7h3.70V825.2h-3.70zM1339.9 939.0h3.70V956.5h-3.70zM1339.9 982.7h3.70V991.5h-3.70zM1343.6 746.5h3.70V764.0h-3.70zM1347.3 720.2h3.70V737.7h-3.70zM1347.3 755.2h3.70V764.0h-3.70zM1347.3 772.7h3.70V816.5h-3.70zM1347.3 834.0h3.70V851.5h-3.70zM1347.3 886.5h3.70V895.2h-3.70zM1347.3 912.7h3.70V921.5h-3.70zM1347.3 956.5h3.70V965.2h-3.70zM1347.3 974.0h3.70V991.5h-3.70zM1351.0 799.0h3.70V807.7h-3.70zM1351.0 825.2h3.70V834.0h-3.70zM1351.0 904.0h3.70V912.7h-3.70zM1351.0 921.5h3.70V991.5h-3.70zM1354.7 711.5h3.70V720.2h-3.70zM1354.7 799.0h3.70V816.5h-3.70zM1354.7 825.2h3.70V834.0h-3.70zM1354.7 895.2h3.70V904.0h-3.70zM1354.7 912.7h3.70V930.2h-3.70zM1354.7 1000.2h3.70V1009.0h-3.70zM1358.4 737.7h3.70V746.5h-3.70zM1358.4 851.5h3.70V860.2h-3.70zM1362.1 772.7h3.70V790.2h-3.70zM1362.1 851.5h3.70V869.0h-3.70zM1362.1 877.7h3.70V912.7h-3.70zM1365.8 729.0h3.70V737.7h-3.70zM1365.8 772.7h3.70V781.5h-3.70zM1365.8 834.0h3.70V851.5h-3.70zM1365.8 860.2h3.70V869.0h-3.70zM1365.8 877.7h3.70V895.2h-3.70zM1365.8 904.0h3.70V912.7h-3.70zM1365.8 921.5h3.70V939.0h-3.70z"/><path fill="#0077ff" d="M223.3 860.2h3.70V869.0h-3.70zM238.1 1035.2h3.70V1044.0h-3.70zM238.1 1052.7h3.70V1061.5h-3.70zM238.1 1079.0h3.70V1105.2h-3.70zM241.8 895.2h3.70V904.0h-3.70zM241.8 947.7h3.70V956.5h-3.70zM241.8 1079.0h3.70V1087.7h-3.70zM245.5 869.0h3.70V877.7h-3.70zM245.5 895.2h3.70V912.7h-3.70zM245.5 974.0h3.70V991.5h-3.70zM245.5 1000.2h3.70V1009.0h-3.70zM245.5 1122.7h3.70V1131.5h-3.70zM245.5 1140.2h3.70V1157.7h-3.70zM249.2 869.0h3.70V877.7h-3.70zM249.2 886.5h3.70V895.2h-3.70zM249.2 974.0h3.70V982.7h-3.70zM249.2 991.5h3.70V1000.2h-3.70zM249.2 1017.7h3.70V1035.2h-3.70zM249.2 1122.7h3.70V1131.5h-3.70zM252.9 1096.5h3.70V1114.0h-3.70zM252.9 1131.5h3.70V1140.2h-3.70zM260.3 1009.0h3.70V1026.5h-3.70zM260.3 1061.5h3.70V1079.0h-3.70zM260.3 1087.7h3.70V1096.5h-3.70zM260.3 1105.2h3.70V1114.0h-3.70zM260.3 1131.5h3.70V1157.7h-3.70zM260.3 1166.5h3.70V1168.4h-3.70zM264.0 1035.2h3.70V1044.0h-3.70zM264.0 1105.2h3.70V1114.0h-3.70zM267.7 1044.0h3.70V1070.2h-3.70zM271.3 1070.2h3.70V1079.0h-3.70zM271.3 1131.5h3.70V1140.2h-3.70zM286.1 974.0h3.70V1009.0h-3.70zM289.8 974.0h3.70V982.7h-3.70zM304.6 816.5h3.70V842.7h-3.70zM304.6 851.5h3.70V860.2h-3.70zM304.6 886.5h3.70V912.7h-3.70zM334.2 781.5h3.70V790.2h-3.70zM345.3 1044.0h3.70V1052.7h-3.70zM349.0 860.2h3.70V877.7h-3.70zM352.7 886.5h3.70V895.2h-3.70zM352.7 904.0h3.70V912.7h-3.70zM356.4 877.7h3.70V886.5h-3.70zM360.1 886.5h3.70V904.0h-3.70zM371.2 991.5h3.70V1000.2h-3.70zM382.3 860.2h3.70V869.0h-3.70zM382.3 877.7h3.70V895.2h-3.70zM382.3 930.2h3.70V939.0h-3.70zM382.3 947.7h3.70V956.5h-3.70zM382.3 1009.0h3.70V1026.5h-3.70zM386.0 895.2h3.70V912.7h-3.70zM389.7 904.0h3.70V912.7h-3.70zM389.7 921.5h3.70V930.2h-3.70zM389.7 939.0h3.70V956.5h-3.70zM393.4 930.2h3.70V939.0h-3.70zM393.4 947.7h3.70V956.5h-3.70zM393.4 1000.2h3.70V1017.7h-3.70zM419.2 1009.0h3.70V1017.7h-3.70zM441.4 895.2h3.70V904.0h-3.70zM441.4 939.0h3.70V947.7h-3.70zM448.8 790.2h3.70V799.0h-3.70zM448.8 869.0h3.70V895.2h-3.70zM448.8 947.7h3.70V956.5h-3.70zM448.8 1070.2h3.70V1087.7h-3.70zM463.6 1035.2h3.70V1044.0h-3.70zM467.3 947.7h3.70V956.5h-3.70zM474.7 764.0h3.70V772.7h-3.70zM474.7 781.5h3.70V790.2h-3.70zM474.7 834.0h3.70V895.2h-3.70zM474.7 921.5h3.70V939.0h-3.70zM474.7 991.5h3.70V1000.2h-3.70zM474.7 1044.0h3.70V1070.2h-3.70zM474.7 1087.7h3.70V1096.5h-3.70zM478.4 851.5h3.70V860.2h-3.70zM478.4 877.7h3.70V886.5h-3.70zM478.4 895.2h3.70V921.5h-3.70zM478.4 939.0h3.70V974.0h-3.70zM478.4 982.7h3.70V991.5h-3.70zM478.4 1009.0h3.70V1017.7h-3.70zM478.4 1026.5h3.70V1035.2h-3.70zM478.4 1061.5h3.70V1079.0h-3.70zM478.4 1087.7h3.70V1114.0h-3.70zM482.1 764.0h3.70V781.5h-3.70zM485.8 755.2h3.70V764.0h-3.70zM485.8 921.5h3.70V930.2h-3.70zM485.8 1000.2h3.70V1017.7h-3.70zM485.8 1035.2h3.70V1044.0h-3.70zM485.8 1096.5h3.70V1105.2h-3.70zM489.5 702.7h3.70V720.2h-3.70zM489.5 877.7h3.70V904.0h-3.70zM489.5 991.5h3.70V1000.2h-3.70zM489.5 1009.0h3.70V1017.7h-3.70zM489.5 1052.7h3.70V1070.2h-3.70zM493.2 834.0h3.70V860.2h-3.70zM493.2 895.2h3.70V904.0h-3.70zM493.2 930.2h3.70V947.7h-3.70zM496.9 904.0h3.70V912.7h-3.70zM504.3 746.5h3.70V755.2h-3.70zM504.3 860.2h3.70V869.0h-3.70zM504.3 877.7h3.70V886.5h-3.70zM504.3 921.5h3.70V930.2h-3.70zM504.3 1017.7h3.70V1026.5h-3.70zM504.3 1079.0h3.70V1087.7h-3.70zM508.0 781.5h3.70V790.2h-3.70zM511.7 904.0h3.70V921.5h-3.70zM511.7 930.2h3.70V956.5h-3.70zM511.7 965.2h3.70V974.0h-3.70zM515.4 886.5h3.70V895.2h-3.70zM515.4 921.5h3.70V930.2h-3.70zM515.4 939.0h3.70V956.5h-3.70zM519.1 694.0h3.70V711.5h-3.70zM519.1 720.2h3.70V729.0h-3.70zM519.1 1026.5h3.70V1035.2h-3.70zM519.1 1061.5h3.70V1079.0h-3.70zM519.1 1105.2h3.70V1114.0h-3.70zM519.1 1122.7h3.70V1140.2h-3.70zM522.8 694.0h3.70V702.7h-3.70zM522.8 729.0h3.70V737.7h-3.70zM522.8 904.0h3.70V930.2h-3.70zM522.8 1000.2h3.70V1026.5h-3.70zM526.5 746.5h3.70V755.2h-3.70zM526.5 1035.2h3.70V1044.0h-3.70zM526.5 1114.0h3.70V1122.7h-3.70zM526.5 1131.5h3.70V1149.0h-3.70zM530.2 790.2h3.70V799.0h-3.70zM530.2 886.5h3.70V904.0h-3.70zM533.9 921.5h3.70V930.2h-3.70zM533.9 939.0h3.70V947.7h-3.70zM537.6 764.0h3.70V772.7h-3.70zM537.6 974.0h3.70V1000.2h-3.70zM541.3 851.5h3.70V860.2h-3.70zM541.3 877.7h3.70V886.5h-3.70zM541.3 895.2h3.70V930.2h-3.70zM541.3 947.7h3.70V965.2h-3.70zM541.3 974.0h3.70V991.5h-3.70zM541.3 1000.2h3.70V1017.7h-3.70zM545.0 939.0h3.70V956.5h-3.70zM548.7 790.2h3.70V799.0h-3.70zM548.7 912.7h3.70V921.5h-3.70zM552.4 816.5h3.70V851.5h-3.70zM552.4 912.7h3.70V921.5h-3.70zM556.1 834.0h3.70V877.7h-3.70zM556.1 939.0h3.70V947.7h-3.70zM559.8 825.2h3.70V834.0h-3.70zM559.8 921.5h3.70V930.2h-3.70zM563.5 799.0h3.70V807.7h-3.70zM563.5 965.2h3.70V974.0h-3.70zM563.5 1035.2h3.70V1044.0h-3.70zM563.5 1052.7h3.70V1061.5h-3.70zM567.1 772.7h3.70V781.5h-3.70zM567.1 790.2h3.70V799.0h-3.70zM567.1 895.2h3.70V947.7h-3.70zM567.1 956.5h3.70V965.2h-3.70zM567.1 974.0h3.70V982.7h-3.70zM570.8 790.2h3.70V799.0h-3.70zM574.5 807.7h3.70V825.2h-3.70zM574.5 956.5h3.70V965.2h-3.70zM574.5 1009.0h3.70V1017.7h-3.70zM574.5 1035.2h3.70V1061.5h-3.70zM578.2 799.0h3.70V807.7h-3.70zM578.2 965.2h3.70V974.0h-3.70zM578.2 991.5h3.70V1000.2h-3.70zM578.2 1061.5h3.70V1070.2h-3.70zM581.9 851.5h3.70V860.2h-3.70zM581.9 982.7h3.70V1000.2h-3.70zM585.6 1061.5h3.70V1070.2h-3.70zM589.3 790.2h3.70V799.0h-3.70zM589.3 807.7h3.70V816.5h-3.70zM589.3 825.2h3.70V842.7h-3.70zM589.3 965.2h3.70V974.0h-3.70zM593.0 755.2h3.70V764.0h-3.70zM593.0 772.7h3.70V781.5h-3.70zM593.0 816.5h3.70V825.2h-3.70zM593.0 1000.2h3.70V1009.0h-3.70zM593.0 1114.0h3.70V1122.7h-3.70zM596.7 974.0h3.70V982.7h-3.70zM600.4 825.2h3.70V834.0h-3.70zM600.4 842.7h3.70V851.5h-3.70zM600.4 947.7h3.70V965.2h-3.70zM604.1 755.2h3.70V764.0h-3.70zM604.1 772.7h3.70V781.5h-3.70zM604.1 790.2h3.70V799.0h-3.70zM604.1 825.2h3.70V842.7h-3.70zM604.1 851.5h3.70V860.2h-3.70zM604.1 1044.0h3.70V1052.7h-3.70zM604.1 1061.5h3.70V1070.2h-3.70zM607.8 982.7h3.70V1009.0h-3.70zM607.8 1017.7h3.70V1052.7h-3.70zM607.8 1079.0h3.70V1096.5h-3.70zM611.5 825.2h3.70V834.0h-3.70zM611.5 974.0h3.70V982.7h-3.70zM611.5 1052.7h3.70V1096.5h-3.70zM615.2 834.0h3.70V842.7h-3.70zM615.2 1026.5h3.70V1035.2h-3.70zM618.9 842.7h3.70V851.5h-3.70zM618.9 877.7h3.70V886.5h-3.70zM618.9 1000.2h3.70V1026.5h-3.70zM622.6 1114.0h3.70V1122.7h-3.70zM626.3 860.2h3.70V869.0h-3.70zM626.3 1035.2h3.70V1061.5h-3.70zM626.3 1079.0h3.70V1087.7h-3.70zM630.0 790.2h3.70V807.7h-3.70zM630.0 1131.5h3.70V1140.2h-3.70zM633.7 825.2h3.70V834.0h-3.70zM633.7 1026.5h3.70V1061.5h-3.70zM633.7 1105.2h3.70V1122.7h-3.70zM637.4 895.2h3.70V904.0h-3.70zM637.4 1000.2h3.70V1009.0h-3.70zM637.4 1026.5h3.70V1044.0h-3.70zM641.1 912.7h3.70V921.5h-3.70zM641.1 947.7h3.70V965.2h-3.70zM641.1 974.0h3.70V1000.2h-3.70zM644.8 912.7h3.70V921.5h-3.70zM644.8 974.0h3.70V982.7h-3.70zM644.8 991.5h3.70V1009.0h-3.70zM644.8 1017.7h3.70V1026.5h-3.70zM648.5 860.2h3.70V869.0h-3.70zM648.5 895.2h3.70V904.0h-3.70zM648.5 991.5h3.70V1000.2h-3.70zM648.5 1009.0h3.70V1017.7h-3.70zM648.5 1035.2h3.70V1044.0h-3.70zM652.2 842.7h3.70V851.5h-3.70zM652.2 895.2h3.70V904.0h-3.70zM652.2 1009.0h3.70V1044.0h-3.70zM652.2 1052.7h3.70V1061.5h-3.70zM652.2 1070.2h3.70V1096.5h-3.70zM655.9 904.0h3.70V912.7h-3.70zM655.9 1017.7h3.70V1026.5h-3.70zM659.6 1026.5h3.70V1035.2h-3.70zM659.6 1052.7h3.70V1061.5h-3.70zM659.6 1070.2h3.70V1079.0h-3.70zM659.6 1087.7h3.70V1105.2h-3.70zM663.3 1035.2h3.70V1044.0h-3.70zM667.0 965.2h3.70V974.0h-3.70zM667.0 1017.7h3.70V1026.5h-3.70zM670.7 1009.0h3.70V1017.7h-3.70zM674.4 974.0h3.70V991.5h-3.70zM685.5 860.2h3.70V869.0h-3.70zM685.5 877.7h3.70V886.5h-3.70zM689.2 1061.5h3.70V1079.0h-3.70zM692.9 939.0h3.70V947.7h-3.70zM692.9 1052.7h3.70V1061.5h-3.70zM696.6 1061.5h3.70V1070.2h-3.70zM707.7 1122.7h3.70V1131.5h-3.70zM711.3 1105.2h3.70V1122.7h-3.70zM715.0 1087.7h3.70V1114.0h-3.70zM718.7 930.2h3.70V939.0h-3.70zM722.4 947.7h3.70V956.5h-3.70zM722.4 1052.7h3.70V1061.5h-3.70zM726.1 939.0h3.70V947.7h-3.70zM726.1 1044.0h3.70V1052.7h-3.70zM729.8 904.0h3.70V912.7h-3.70zM729.8 930.2h3.70V947.7h-3.70zM729.8 1070.2h3.70V1079.0h-3.70zM733.5 886.5h3.70V895.2h-3.70zM733.5 1044.0h3.70V1052.7h-3.70zM733.5 1087.7h3.70V1096.5h-3.70zM737.2 982.7h3.70V991.5h-3.70zM737.2 1000.2h3.70V1009.0h-3.70zM737.2 1017.7h3.70V1026.5h-3.70zM740.9 939.0h3.70V956.5h-3.70zM740.9 974.0h3.70V982.7h-3.70zM740.9 991.5h3.70V1000.2h-3.70zM744.6 991.5h3.70V1000.2h-3.70zM744.6 1035.2h3.70V1052.7h-3.70zM748.3 965.2h3.70V982.7h-3.70zM752.0 930.2h3.70V939.0h-3.70zM752.0 947.7h3.70V965.2h-3.70zM755.7 930.2h3.70V947.7h-3.70zM755.7 956.5h3.70V965.2h-3.70zM755.7 1044.0h3.70V1052.7h-3.70zM755.7 1061.5h3.70V1070.2h-3.70zM763.1 930.2h3.70V939.0h-3.70zM763.1 1017.7h3.70V1035.2h-3.70zM766.8 947.7h3.70V965.2h-3.70zM766.8 974.0h3.70V982.7h-3.70zM766.8 991.5h3.70V1000.2h-3.70zM770.5 947.7h3.70V956.5h-3.70zM770.5 965.2h3.70V974.0h-3.70zM770.5 991.5h3.70V1000.2h-3.70zM774.2 1017.7h3.70V1052.7h-3.70zM777.9 956.5h3.70V965.2h-3.70zM785.3 895.2h3.70V904.0h-3.70zM785.3 912.7h3.70V921.5h-3.70zM785.3 956.5h3.70V982.7h-3.70zM789.0 982.7h3.70V1000.2h-3.70zM792.7 956.5h3.70V965.2h-3.70zM796.4 1061.5h3.70V1070.2h-3.70zM796.4 1122.7h3.70V1131.5h-3.70zM796.4 1166.5h3.70V1168.4h-3.70zM800.1 877.7h3.70V886.5h-3.70zM800.1 1070.2h3.70V1079.0h-3.70zM800.1 1096.5h3.70V1105.2h-3.70zM800.1 1114.0h3.70V1131.5h-3.70zM800.1 1140.2h3.70V1157.7h-3.70zM803.8 877.7h3.70V886.5h-3.70zM803.8 1017.7h3.70V1061.5h-3.70zM803.8 1079.0h3.70V1087.7h-3.70zM807.5 1035.2h3.70V1044.0h-3.70zM811.2 886.5h3.70V895.2h-3.70zM811.2 982.7h3.70V1009.0h-3.70zM814.9 869.0h3.70V877.7h-3.70zM818.6 904.0h3.70V912.7h-3.70zM818.6 930.2h3.70V939.0h-3.70zM818.6 947.7h3.70V956.5h-3.70zM818.6 982.7h3.70V991.5h-3.70zM822.3 912.7h3.70V921.5h-3.70zM826.0 904.0h3.70V912.7h-3.70zM826.0 1000.2h3.70V1009.0h-3.70zM829.7 930.2h3.70V974.0h-3.70zM829.7 982.7h3.70V991.5h-3.70zM829.7 1026.5h3.70V1035.2h-3.70zM829.7 1096.5h3.70V1105.2h-3.70zM829.7 1114.0h3.70V1122.7h-3.70zM833.4 904.0h3.70V912.7h-3.70zM833.4 974.0h3.70V1000.2h-3.70zM833.4 1009.0h3.70V1026.5h-3.70zM833.4 1044.0h3.70V1052.7h-3.70zM837.1 886.5h3.70V912.7h-3.70zM837.1 921.5h3.70V939.0h-3.70zM837.1 947.7h3.70V956.5h-3.70zM837.1 965.2h3.70V991.5h-3.70zM837.1 1035.2h3.70V1044.0h-3.70zM840.8 869.0h3.70V877.7h-3.70zM840.8 886.5h3.70V895.2h-3.70zM840.8 1087.7h3.70V1096.5h-3.70zM844.5 869.0h3.70V877.7h-3.70zM844.5 991.5h3.70V1009.0h-3.70zM844.5 1017.7h3.70V1035.2h-3.70zM844.5 1044.0h3.70V1061.5h-3.70zM848.2 851.5h3.70V886.5h-3.70zM848.2 965.2h3.70V974.0h-3.70zM848.2 991.5h3.70V1000.2h-3.70zM848.2 1009.0h3.70V1017.7h-3.70zM848.2 1026.5h3.70V1035.2h-3.70zM851.9 930.2h3.70V939.0h-3.70zM851.9 974.0h3.70V1000.2h-3.70zM855.6 842.7h3.70V851.5h-3.70zM855.6 1026.5h3.70V1061.5h-3.70zM859.2 895.2h3.70V904.0h-3.70zM859.2 912.7h3.70V930.2h-3.70zM859.2 956.5h3.70V965.2h-3.70zM859.2 1035.2h3.70V1044.0h-3.70zM859.2 1052.7h3.70V1070.2h-3.70zM862.9 982.7h3.70V991.5h-3.70zM866.6 895.2h3.70V904.0h-3.70zM866.6 965.2h3.70V974.0h-3.70zM870.3 869.0h3.70V877.7h-3.70zM870.3 1000.2h3.70V1009.0h-3.70zM874.0 912.7h3.70V921.5h-3.70zM874.0 947.7h3.70V956.5h-3.70zM874.0 965.2h3.70V974.0h-3.70zM881.4 895.2h3.70V904.0h-3.70zM881.4 974.0h3.70V982.7h-3.70zM881.4 1009.0h3.70V1017.7h-3.70zM881.4 1026.5h3.70V1035.2h-3.70zM885.1 912.7h3.70V921.5h-3.70zM885.1 930.2h3.70V956.5h-3.70zM888.8 886.5h3.70V904.0h-3.70zM892.5 939.0h3.70V956.5h-3.70zM896.2 877.7h3.70V886.5h-3.70zM896.2 1000.2h3.70V1017.7h-3.70zM899.9 912.7h3.70V921.5h-3.70zM899.9 947.7h3.70V965.2h-3.70zM899.9 1000.2h3.70V1009.0h-3.70zM903.6 895.2h3.70V912.7h-3.70zM903.6 921.5h3.70V930.2h-3.70zM903.6 939.0h3.70V947.7h-3.70zM903.6 965.2h3.70V991.5h-3.70zM903.6 1017.7h3.70V1026.5h-3.70zM903.6 1035.2h3.70V1044.0h-3.70zM907.3 904.0h3.70V912.7h-3.70zM907.3 1009.0h3.70V1017.7h-3.70zM907.3 1026.5h3.70V1035.2h-3.70zM907.3 1044.0h3.70V1052.7h-3.70zM907.3 1061.5h3.70V1070.2h-3.70zM911.0 921.5h3.70V939.0h-3.70zM911.0 965.2h3.70V982.7h-3.70zM914.7 895.2h3.70V912.7h-3.70zM914.7 1026.5h3.70V1035.2h-3.70zM918.4 895.2h3.70V904.0h-3.70zM918.4 1009.0h3.70V1017.7h-3.70zM918.4 1035.2h3.70V1044.0h-3.70zM922.1 886.5h3.70V895.2h-3.70zM922.1 1017.7h3.70V1026.5h-3.70zM925.8 877.7h3.70V886.5h-3.70zM925.8 895.2h3.70V904.0h-3.70zM925.8 965.2h3.70V974.0h-3.70zM925.8 1044.0h3.70V1052.7h-3.70zM929.5 939.0h3.70V956.5h-3.70zM929.5 991.5h3.70V1009.0h-3.70zM933.2 921.5h3.70V930.2h-3.70zM933.2 939.0h3.70V947.7h-3.70zM933.2 974.0h3.70V982.7h-3.70zM936.9 965.2h3.70V982.7h-3.70zM940.6 912.7h3.70V921.5h-3.70zM940.6 930.2h3.70V956.5h-3.70zM940.6 982.7h3.70V991.5h-3.70zM944.3 965.2h3.70V982.7h-3.70zM948.0 860.2h3.70V869.0h-3.70zM948.0 904.0h3.70V912.7h-3.70zM948.0 982.7h3.70V991.5h-3.70zM951.7 904.0h3.70V912.7h-3.70zM955.4 886.5h3.70V912.7h-3.70zM955.4 974.0h3.70V982.7h-3.70zM959.1 825.2h3.70V842.7h-3.70zM959.1 939.0h3.70V947.7h-3.70zM962.8 842.7h3.70V851.5h-3.70zM962.8 869.0h3.70V895.2h-3.70zM962.8 956.5h3.70V965.2h-3.70zM966.5 895.2h3.70V904.0h-3.70zM966.5 956.5h3.70V974.0h-3.70zM970.2 921.5h3.70V939.0h-3.70zM977.6 912.7h3.70V921.5h-3.70zM977.6 930.2h3.70V939.0h-3.70zM977.6 947.7h3.70V956.5h-3.70zM977.6 1017.7h3.70V1035.2h-3.70zM985.0 807.7h3.70V842.7h-3.70zM985.0 912.7h3.70V939.0h-3.70zM988.7 799.0h3.70V807.7h-3.70zM988.7 834.0h3.70V842.7h-3.70zM988.7 886.5h3.70V912.7h-3.70zM992.4 842.7h3.70V851.5h-3.70zM992.4 886.5h3.70V895.2h-3.70zM992.4 904.0h3.70V912.7h-3.70zM992.4 921.5h3.70V939.0h-3.70zM1003.4 807.7h3.70V816.5h-3.70zM1003.4 825.2h3.70V834.0h-3.70zM1003.4 842.7h3.70V851.5h-3.70zM1018.2 869.0h3.70V877.7h-3.70zM1021.9 807.7h3.70V825.2h-3.70zM1021.9 860.2h3.70V877.7h-3.70zM1021.9 886.5h3.70V912.7h-3.70zM1021.9 956.5h3.70V965.2h-3.70zM1025.6 860.2h3.70V904.0h-3.70zM1029.3 860.2h3.70V869.0h-3.70zM1029.3 904.0h3.70V939.0h-3.70zM1088.5 904.0h3.70V912.7h-3.70zM1092.2 755.2h3.70V764.0h-3.70zM1092.2 851.5h3.70V860.2h-3.70zM1095.9 755.2h3.70V772.7h-3.70zM1095.9 799.0h3.70V807.7h-3.70zM1095.9 816.5h3.70V825.2h-3.70zM1095.9 947.7h3.70V965.2h-3.70zM1110.7 895.2h3.70V912.7h-3.70zM1118.1 895.2h3.70V930.2h-3.70zM1118.1 939.0h3.70V956.5h-3.70zM1121.8 825.2h3.70V834.0h-3.70zM1121.8 851.5h3.70V869.0h-3.70zM1121.8 877.7h3.70V886.5h-3.70zM1121.8 904.0h3.70V912.7h-3.70zM1121.8 921.5h3.70V939.0h-3.70zM1121.8 974.0h3.70V982.7h-3.70zM1125.5 904.0h3.70V912.7h-3.70zM1125.5 921.5h3.70V930.2h-3.70zM1125.5 947.7h3.70V965.2h-3.70zM1129.2 825.2h3.70V834.0h-3.70zM1129.2 842.7h3.70V851.5h-3.70zM1151.3 869.0h3.70V877.7h-3.70zM1151.3 886.5h3.70V904.0h-3.70zM1169.8 781.5h3.70V807.7h-3.70zM1177.2 930.2h3.70V947.7h-3.70zM1180.9 816.5h3.70V842.7h-3.70zM1184.6 711.5h3.70V729.0h-3.70zM1184.6 877.7h3.70V886.5h-3.70zM1188.3 799.0h3.70V807.7h-3.70zM1188.3 921.5h3.70V930.2h-3.70zM1192.0 825.2h3.70V834.0h-3.70zM1192.0 842.7h3.70V869.0h-3.70zM1195.7 685.2h3.70V694.0h-3.70zM1195.7 702.7h3.70V711.5h-3.70zM1195.7 729.0h3.70V746.5h-3.70zM1195.7 764.0h3.70V781.5h-3.70zM1195.7 842.7h3.70V860.2h-3.70zM1195.7 869.0h3.70V877.7h-3.70zM1199.4 781.5h3.70V825.2h-3.70zM1199.4 877.7h3.70V895.2h-3.70zM1206.8 834.0h3.70V842.7h-3.70zM1206.8 877.7h3.70V886.5h-3.70zM1217.9 851.5h3.70V869.0h-3.70zM1217.9 921.5h3.70V930.2h-3.70zM1217.9 939.0h3.70V947.7h-3.70zM1221.6 772.7h3.70V790.2h-3.70zM1221.6 834.0h3.70V860.2h-3.70zM1225.3 755.2h3.70V764.0h-3.70zM1225.3 772.7h3.70V781.5h-3.70zM1225.3 877.7h3.70V895.2h-3.70zM1225.3 912.7h3.70V921.5h-3.70zM1225.3 930.2h3.70V947.7h-3.70zM1225.3 965.2h3.70V974.0h-3.70zM1229.0 807.7h3.70V816.5h-3.70zM1229.0 904.0h3.70V912.7h-3.70zM1229.0 921.5h3.70V930.2h-3.70zM1236.4 702.7h3.70V720.2h-3.70zM1236.4 729.0h3.70V737.7h-3.70zM1243.8 764.0h3.70V781.5h-3.70zM1243.8 921.5h3.70V930.2h-3.70zM1243.8 939.0h3.70V956.5h-3.70zM1243.8 965.2h3.70V974.0h-3.70zM1247.5 764.0h3.70V781.5h-3.70zM1251.2 729.0h3.70V746.5h-3.70zM1251.2 764.0h3.70V781.5h-3.70zM1251.2 799.0h3.70V807.7h-3.70zM1251.2 895.2h3.70V921.5h-3.70zM1251.2 939.0h3.70V947.7h-3.70zM1254.9 729.0h3.70V764.0h-3.70zM1254.9 781.5h3.70V790.2h-3.70zM1254.9 842.7h3.70V851.5h-3.70zM1254.9 886.5h3.70V895.2h-3.70zM1254.9 904.0h3.70V930.2h-3.70zM1258.6 720.2h3.70V729.0h-3.70zM1258.6 755.2h3.70V764.0h-3.70zM1258.6 772.7h3.70V781.5h-3.70zM1258.6 790.2h3.70V825.2h-3.70zM1258.6 877.7h3.70V886.5h-3.70zM1258.6 930.2h3.70V939.0h-3.70zM1269.7 790.2h3.70V799.0h-3.70zM1277.1 956.5h3.70V965.2h-3.70zM1280.8 825.2h3.70V842.7h-3.70zM1280.8 912.7h3.70V921.5h-3.70zM1280.8 930.2h3.70V947.7h-3.70zM1284.5 746.5h3.70V781.5h-3.70zM1288.2 781.5h3.70V807.7h-3.70zM1295.6 895.2h3.70V904.0h-3.70zM1299.2 711.5h3.70V737.7h-3.70zM1299.2 746.5h3.70V755.2h-3.70zM1299.2 790.2h3.70V816.5h-3.70zM1299.2 825.2h3.70V834.0h-3.70zM1299.2 851.5h3.70V860.2h-3.70zM1299.2 869.0h3.70V877.7h-3.70zM1299.2 939.0h3.70V947.7h-3.70zM1299.2 956.5h3.70V982.7h-3.70zM1302.9 755.2h3.70V764.0h-3.70zM1302.9 772.7h3.70V781.5h-3.70zM1302.9 790.2h3.70V816.5h-3.70zM1302.9 834.0h3.70V851.5h-3.70zM1302.9 860.2h3.70V869.0h-3.70zM1306.6 764.0h3.70V772.7h-3.70zM1310.3 790.2h3.70V799.0h-3.70zM1314.0 694.0h3.70V711.5h-3.70zM1314.0 746.5h3.70V755.2h-3.70zM1314.0 764.0h3.70V781.5h-3.70zM1317.7 1017.7h3.70V1026.5h-3.70zM1325.1 772.7h3.70V781.5h-3.70zM1325.1 790.2h3.70V799.0h-3.70zM1328.8 799.0h3.70V816.5h-3.70zM1332.5 720.2h3.70V737.7h-3.70zM1332.5 816.5h3.70V851.5h-3.70zM1332.5 956.5h3.70V965.2h-3.70zM1332.5 974.0h3.70V982.7h-3.70zM1336.2 799.0h3.70V816.5h-3.70zM1339.9 676.5h3.70V685.2h-3.70zM1339.9 702.7h3.70V737.7h-3.70zM1339.9 825.2h3.70V834.0h-3.70zM1339.9 842.7h3.70V851.5h-3.70zM1339.9 956.5h3.70V982.7h-3.70zM1343.6 764.0h3.70V781.5h-3.70zM1347.3 737.7h3.70V755.2h-3.70zM1347.3 764.0h3.70V772.7h-3.70zM1347.3 851.5h3.70V886.5h-3.70zM1351.0 816.5h3.70V825.2h-3.70zM1354.7 834.0h3.70V851.5h-3.70zM1354.7 869.0h3.70V877.7h-3.70zM1354.7 904.0h3.70V912.7h-3.70zM1354.7 930.2h3.70V956.5h-3.70zM1354.7 991.5h3.70V1000.2h-3.70zM1358.4 711.5h3.70V720.2h-3.70zM1358.4 729.0h3.70V737.7h-3.70zM1358.4 755.2h3.70V764.0h-3.70zM1358.4 772.7h3.70V790.2h-3.70zM1358.4 842.7h3.70V851.5h-3.70zM1358.4 860.2h3.70V869.0h-3.70zM1358.4 930.2h3.70V939.0h-3.70zM1358.4 956.5h3.70V974.0h-3.70zM1362.1 790.2h3.70V807.7h-3.70zM1362.1 816.5h3.70V842.7h-3.70zM1362.1 869.0h3.70V877.7h-3.70zM1362.1 912.7h3.70V921.5h-3.70zM1362.1 956.5h3.70V965.2h-3.70zM1365.8 755.2h3.70V764.0h-3.70z"/><path fill="#0082ff" d="M223.3 869.0h3.70V877.7h-3.70zM241.8 886.5h3.70V895.2h-3.70zM241.8 956.5h3.70V965.2h-3.70zM241.8 991.5h3.70V1017.7h-3.70zM241.8 1026.5h3.70V1035.2h-3.70zM241.8 1087.7h3.70V1105.2h-3.70zM241.8 1114.0h3.70V1131.5h-3.70zM245.5 781.5h3.70V799.0h-3.70zM245.5 807.7h3.70V834.0h-3.70zM245.5 860.2h3.70V869.0h-3.70zM245.5 912.7h3.70V939.0h-3.70zM245.5 991.5h3.70V1000.2h-3.70zM245.5 1114.0h3.70V1122.7h-3.70zM249.2 1044.0h3.70V1061.5h-3.70zM249.2 1079.0h3.70V1087.7h-3.70zM249.2 1096.5h3.70V1122.7h-3.70zM252.9 1009.0h3.70V1026.5h-3.70zM252.9 1052.7h3.70V1061.5h-3.70zM252.9 1087.7h3.70V1096.5h-3.70zM256.6 982.7h3.70V991.5h-3.70zM256.6 1131.5h3.70V1140.2h-3.70zM260.3 1079.0h3.70V1087.7h-3.70zM260.3 1157.7h3.70V1166.5h-3.70zM264.0 1044.0h3.70V1052.7h-3.70zM264.0 1079.0h3.70V1087.7h-3.70zM264.0 1096.5h3.70V1105.2h-3.70zM267.7 1070.2h3.70V1087.7h-3.70zM267.7 1131.5h3.70V1140.2h-3.70zM271.3 1079.0h3.70V1087.7h-3.70zM289.8 956.5h3.70V974.0h-3.70zM289.8 982.7h3.70V991.5h-3.70zM293.5 851.5h3.70V860.2h-3.70zM304.6 842.7h3.70V851.5h-3.70zM304.6 860.2h3.70V886.5h-3.70zM334.2 772.7h3.70V781.5h-3.70zM334.2 799.0h3.70V807.7h-3.70zM334.2 816.5h3.70V842.7h-3.70zM334.2 851.5h3.70V860.2h-3.70zM382.3 869.0h3.70V877.7h-3.70zM382.3 895.2h3.70V921.5h-3.70zM382.3 939.0h3.70V947.7h-3.70zM389.7 930.2h3.70V939.0h-3.70zM422.9 1009.0h3.70V1017.7h-3.70zM441.4 904.0h3.70V912.7h-3.70zM441.4 921.5h3.70V930.2h-3.70zM441.4 1000.2h3.70V1009.0h-3.70zM448.8 991.5h3.70V1000.2h-3.70zM448.8 1009.0h3.70V1017.7h-3.70zM448.8 1044.0h3.70V1070.2h-3.70zM474.7 790.2h3.70V799.0h-3.70zM474.7 825.2h3.70V834.0h-3.70zM474.7 895.2h3.70V921.5h-3.70zM474.7 1079.0h3.70V1087.7h-3.70zM478.4 729.0h3.70V755.2h-3.70zM478.4 834.0h3.70V851.5h-3.70zM478.4 860.2h3.70V877.7h-3.70zM478.4 886.5h3.70V895.2h-3.70zM478.4 930.2h3.70V939.0h-3.70zM478.4 974.0h3.70V982.7h-3.70zM478.4 991.5h3.70V1000.2h-3.70zM478.4 1017.7h3.70V1026.5h-3.70zM478.4 1035.2h3.70V1044.0h-3.70zM478.4 1052.7h3.70V1061.5h-3.70zM478.4 1079.0h3.70V1087.7h-3.70zM482.1 781.5h3.70V790.2h-3.70zM482.1 851.5h3.70V860.2h-3.70zM485.8 764.0h3.70V781.5h-3.70zM485.8 851.5h3.70V869.0h-3.70zM485.8 877.7h3.70V886.5h-3.70zM485.8 895.2h3.70V904.0h-3.70zM485.8 1026.5h3.70V1035.2h-3.70zM489.5 720.2h3.70V746.5h-3.70zM489.5 939.0h3.70V991.5h-3.70zM489.5 1017.7h3.70V1052.7h-3.70zM493.2 755.2h3.70V764.0h-3.70zM493.2 904.0h3.70V921.5h-3.70zM496.9 764.0h3.70V790.2h-3.70zM496.9 816.5h3.70V825.2h-3.70zM496.9 834.0h3.70V886.5h-3.70zM496.9 895.2h3.70V904.0h-3.70zM500.6 772.7h3.70V790.2h-3.70zM500.6 842.7h3.70V851.5h-3.70zM504.3 869.0h3.70V877.7h-3.70zM504.3 1035.2h3.70V1052.7h-3.70zM504.3 1070.2h3.70V1079.0h-3.70zM508.0 790.2h3.70V799.0h-3.70zM508.0 807.7h3.70V816.5h-3.70zM508.0 869.0h3.70V886.5h-3.70zM511.7 755.2h3.70V764.0h-3.70zM511.7 772.7h3.70V781.5h-3.70zM511.7 956.5h3.70V965.2h-3.70zM515.4 772.7h3.70V781.5h-3.70zM515.4 842.7h3.70V860.2h-3.70zM515.4 930.2h3.70V939.0h-3.70zM519.1 711.5h3.70V720.2h-3.70zM519.1 895.2h3.70V921.5h-3.70zM519.1 930.2h3.70V939.0h-3.70zM519.1 1009.0h3.70V1026.5h-3.70zM519.1 1035.2h3.70V1061.5h-3.70zM519.1 1079.0h3.70V1096.5h-3.70zM519.1 1114.0h3.70V1122.7h-3.70zM522.8 702.7h3.70V711.5h-3.70zM522.8 720.2h3.70V729.0h-3.70zM522.8 737.7h3.70V764.0h-3.70zM522.8 895.2h3.70V904.0h-3.70zM522.8 930.2h3.70V947.7h-3.70zM522.8 982.7h3.70V1000.2h-3.70zM522.8 1026.5h3.70V1035.2h-3.70zM526.5 1009.0h3.70V1017.7h-3.70zM526.5 1122.7h3.70V1131.5h-3.70zM530.2 799.0h3.70V807.7h-3.70zM530.2 860.2h3.70V869.0h-3.70zM533.9 781.5h3.70V790.2h-3.70zM533.9 869.0h3.70V895.2h-3.70zM533.9 904.0h3.70V921.5h-3.70zM537.6 781.5h3.70V790.2h-3.70zM537.6 947.7h3.70V974.0h-3.70zM541.3 834.0h3.70V842.7h-3.70zM541.3 869.0h3.70V877.7h-3.70zM541.3 886.5h3.70V895.2h-3.70zM541.3 930.2h3.70V947.7h-3.70zM541.3 965.2h3.70V974.0h-3.70zM541.3 991.5h3.70V1000.2h-3.70zM545.0 799.0h3.70V807.7h-3.70zM548.7 851.5h3.70V860.2h-3.70zM552.4 799.0h3.70V816.5h-3.70zM552.4 904.0h3.70V912.7h-3.70zM556.1 930.2h3.70V939.0h-3.70zM559.8 816.5h3.70V825.2h-3.70zM567.1 781.5h3.70V790.2h-3.70zM567.1 807.7h3.70V816.5h-3.70zM567.1 860.2h3.70V895.2h-3.70zM567.1 947.7h3.70V956.5h-3.70zM567.1 965.2h3.70V974.0h-3.70zM570.8 799.0h3.70V816.5h-3.70zM570.8 895.2h3.70V904.0h-3.70zM574.5 825.2h3.70V834.0h-3.70zM574.5 939.0h3.70V947.7h-3.70zM574.5 965.2h3.70V991.5h-3.70zM574.5 1000.2h3.70V1009.0h-3.70zM574.5 1017.7h3.70V1026.5h-3.70zM578.2 764.0h3.70V790.2h-3.70zM578.2 807.7h3.70V825.2h-3.70zM578.2 956.5h3.70V965.2h-3.70zM578.2 1000.2h3.70V1026.5h-3.70zM578.2 1044.0h3.70V1061.5h-3.70zM581.9 860.2h3.70V869.0h-3.70zM581.9 965.2h3.70V982.7h-3.70zM581.9 1035.2h3.70V1044.0h-3.70zM585.6 860.2h3.70V877.7h-3.70zM585.6 939.0h3.70V974.0h-3.70zM593.0 825.2h3.70V834.0h-3.70zM593.0 974.0h3.70V991.5h-3.70zM593.0 1009.0h3.70V1017.7h-3.70zM593.0 1026.5h3.70V1035.2h-3.70zM593.0 1105.2h3.70V1114.0h-3.70zM596.7 825.2h3.70V834.0h-3.70zM596.7 956.5h3.70V974.0h-3.70zM600.4 851.5h3.70V869.0h-3.70zM600.4 904.0h3.70V912.7h-3.70zM600.4 921.5h3.70V947.7h-3.70zM604.1 842.7h3.70V851.5h-3.70zM604.1 982.7h3.70V991.5h-3.70zM604.1 1017.7h3.70V1044.0h-3.70zM607.8 772.7h3.70V807.7h-3.70zM607.8 1052.7h3.70V1061.5h-3.70zM615.2 842.7h3.70V851.5h-3.70zM615.2 1017.7h3.70V1026.5h-3.70zM618.9 886.5h3.70V939.0h-3.70zM618.9 1026.5h3.70V1035.2h-3.70zM622.6 825.2h3.70V834.0h-3.70zM622.6 842.7h3.70V851.5h-3.70zM622.6 1000.2h3.70V1009.0h-3.70zM626.3 991.5h3.70V1035.2h-3.70zM626.3 1061.5h3.70V1070.2h-3.70zM630.0 851.5h3.70V877.7h-3.70zM630.0 886.5h3.70V895.2h-3.70zM630.0 1096.5h3.70V1122.7h-3.70zM633.7 834.0h3.70V842.7h-3.70zM633.7 991.5h3.70V1000.2h-3.70zM633.7 1009.0h3.70V1017.7h-3.70zM637.4 974.0h3.70V982.7h-3.70zM637.4 991.5h3.70V1000.2h-3.70zM637.4 1009.0h3.70V1026.5h-3.70zM641.1 965.2h3.70V974.0h-3.70zM644.8 904.0h3.70V912.7h-3.70zM644.8 921.5h3.70V930.2h-3.70zM644.8 939.0h3.70V947.7h-3.70zM648.5 904.0h3.70V939.0h-3.70zM648.5 947.7h3.70V956.5h-3.70zM648.5 974.0h3.70V991.5h-3.70zM648.5 1017.7h3.70V1026.5h-3.70zM652.2 860.2h3.70V895.2h-3.70zM652.2 904.0h3.70V912.7h-3.70zM655.9 912.7h3.70V921.5h-3.70zM655.9 1009.0h3.70V1017.7h-3.70zM659.6 930.2h3.70V939.0h-3.70zM659.6 1000.2h3.70V1009.0h-3.70zM659.6 1017.7h3.70V1026.5h-3.70zM659.6 1035.2h3.70V1052.7h-3.70zM659.6 1061.5h3.70V1070.2h-3.70zM659.6 1079.0h3.70V1087.7h-3.70zM663.3 904.0h3.70V912.7h-3.70zM663.3 930.2h3.70V939.0h-3.70zM663.3 947.7h3.70V956.5h-3.70zM663.3 1026.5h3.70V1035.2h-3.70zM670.7 956.5h3.70V965.2h-3.70zM674.4 1000.2h3.70V1009.0h-3.70zM678.1 1026.5h3.70V1035.2h-3.70zM681.8 1026.5h3.70V1035.2h-3.70zM685.5 886.5h3.70V895.2h-3.70zM685.5 1052.7h3.70V1079.0h-3.70zM689.2 912.7h3.70V921.5h-3.70zM692.9 947.7h3.70V956.5h-3.70zM692.9 1044.0h3.70V1052.7h-3.70zM700.3 956.5h3.70V965.2h-3.70zM700.3 1061.5h3.70V1070.2h-3.70zM704.0 974.0h3.70V982.7h-3.70zM707.7 1114.0h3.70V1122.7h-3.70zM711.3 1087.7h3.70V1105.2h-3.70zM718.7 939.0h3.70V947.7h-3.70zM718.7 1087.7h3.70V1105.2h-3.70zM722.4 956.5h3.70V982.7h-3.70zM722.4 991.5h3.70V1000.2h-3.70zM722.4 1044.0h3.70V1052.7h-3.70zM726.1 947.7h3.70V956.5h-3.70zM726.1 1026.5h3.70V1044.0h-3.70zM729.8 965.2h3.70V974.0h-3.70zM733.5 895.2h3.70V939.0h-3.70zM733.5 1035.2h3.70V1044.0h-3.70zM733.5 1052.7h3.70V1061.5h-3.70zM733.5 1070.2h3.70V1087.7h-3.70zM737.2 965.2h3.70V982.7h-3.70zM737.2 991.5h3.70V1000.2h-3.70zM740.9 982.7h3.70V991.5h-3.70zM744.6 1000.2h3.70V1009.0h-3.70zM744.6 1017.7h3.70V1035.2h-3.70zM748.3 982.7h3.70V991.5h-3.70zM755.7 974.0h3.70V991.5h-3.70zM755.7 1035.2h3.70V1044.0h-3.70zM763.1 939.0h3.70V947.7h-3.70zM763.1 956.5h3.70V965.2h-3.70zM766.8 1035.2h3.70V1070.2h-3.70zM770.5 1000.2h3.70V1009.0h-3.70zM770.5 1026.5h3.70V1035.2h-3.70zM774.2 1052.7h3.70V1061.5h-3.70zM785.3 904.0h3.70V912.7h-3.70zM789.0 904.0h3.70V921.5h-3.70zM789.0 974.0h3.70V982.7h-3.70zM792.7 904.0h3.70V912.7h-3.70zM792.7 1035.2h3.70V1044.0h-3.70zM796.4 886.5h3.70V895.2h-3.70zM796.4 1052.7h3.70V1061.5h-3.70zM800.1 1035.2h3.70V1044.0h-3.70zM800.1 1052.7h3.70V1061.5h-3.70zM800.1 1105.2h3.70V1114.0h-3.70zM800.1 1166.5h3.70V1168.4h-3.70zM803.8 1009.0h3.70V1017.7h-3.70zM803.8 1087.7h3.70V1105.2h-3.70zM807.5 851.5h3.70V869.0h-3.70zM807.5 991.5h3.70V1035.2h-3.70zM814.9 956.5h3.70V991.5h-3.70zM818.6 912.7h3.70V930.2h-3.70zM818.6 939.0h3.70V947.7h-3.70zM818.6 956.5h3.70V965.2h-3.70zM818.6 974.0h3.70V982.7h-3.70zM822.3 921.5h3.70V947.7h-3.70zM829.7 921.5h3.70V930.2h-3.70zM829.7 974.0h3.70V982.7h-3.70zM829.7 991.5h3.70V1026.5h-3.70zM833.4 912.7h3.70V921.5h-3.70zM833.4 965.2h3.70V974.0h-3.70zM837.1 912.7h3.70V921.5h-3.70zM837.1 991.5h3.70V1000.2h-3.70zM837.1 1009.0h3.70V1026.5h-3.70zM840.8 877.7h3.70V886.5h-3.70zM840.8 904.0h3.70V912.7h-3.70zM840.8 1026.5h3.70V1035.2h-3.70zM844.5 982.7h3.70V991.5h-3.70zM844.5 1009.0h3.70V1017.7h-3.70zM844.5 1035.2h3.70V1044.0h-3.70zM848.2 886.5h3.70V895.2h-3.70zM848.2 1000.2h3.70V1009.0h-3.70zM848.2 1017.7h3.70V1026.5h-3.70zM851.9 921.5h3.70V930.2h-3.70zM851.9 939.0h3.70V974.0h-3.70zM855.6 860.2h3.70V869.0h-3.70zM855.6 1009.0h3.70V1017.7h-3.70zM859.2 930.2h3.70V956.5h-3.70zM862.9 886.5h3.70V912.7h-3.70zM862.9 965.2h3.70V982.7h-3.70zM866.6 947.7h3.70V965.2h-3.70zM870.3 877.7h3.70V904.0h-3.70zM870.3 982.7h3.70V1000.2h-3.70zM874.0 930.2h3.70V939.0h-3.70zM877.7 895.2h3.70V904.0h-3.70zM881.4 930.2h3.70V956.5h-3.70zM881.4 965.2h3.70V974.0h-3.70zM881.4 982.7h3.70V991.5h-3.70zM888.8 991.5h3.70V1000.2h-3.70zM888.8 1017.7h3.70V1044.0h-3.70zM896.2 886.5h3.70V895.2h-3.70zM896.2 991.5h3.70V1000.2h-3.70zM899.9 921.5h3.70V947.7h-3.70zM899.9 965.2h3.70V1000.2h-3.70zM903.6 912.7h3.70V921.5h-3.70zM903.6 947.7h3.70V965.2h-3.70zM907.3 912.7h3.70V939.0h-3.70zM907.3 991.5h3.70V1009.0h-3.70zM907.3 1017.7h3.70V1026.5h-3.70zM907.3 1035.2h3.70V1044.0h-3.70zM907.3 1052.7h3.70V1061.5h-3.70zM911.0 895.2h3.70V904.0h-3.70zM911.0 939.0h3.70V947.7h-3.70zM911.0 956.5h3.70V965.2h-3.70zM914.7 921.5h3.70V930.2h-3.70zM914.7 1017.7h3.70V1026.5h-3.70zM918.4 904.0h3.70V912.7h-3.70zM918.4 991.5h3.70V1009.0h-3.70zM918.4 1017.7h3.70V1035.2h-3.70zM922.1 895.2h3.70V904.0h-3.70zM922.1 991.5h3.70V1000.2h-3.70zM922.1 1009.0h3.70V1017.7h-3.70zM925.8 939.0h3.70V947.7h-3.70zM925.8 956.5h3.70V965.2h-3.70zM925.8 974.0h3.70V982.7h-3.70zM925.8 1000.2h3.70V1009.0h-3.70zM925.8 1035.2h3.70V1044.0h-3.70zM929.5 965.2h3.70V991.5h-3.70zM933.2 930.2h3.70V939.0h-3.70zM933.2 947.7h3.70V974.0h-3.70zM944.3 877.7h3.70V895.2h-3.70zM948.0 947.7h3.70V956.5h-3.70zM948.0 965.2h3.70V982.7h-3.70zM951.7 912.7h3.70V921.5h-3.70zM951.7 956.5h3.70V974.0h-3.70zM955.4 912.7h3.70V921.5h-3.70zM955.4 947.7h3.70V956.5h-3.70zM955.4 965.2h3.70V974.0h-3.70zM959.1 842.7h3.70V877.7h-3.70zM959.1 912.7h3.70V939.0h-3.70zM962.8 895.2h3.70V912.7h-3.70zM962.8 939.0h3.70V947.7h-3.70zM966.5 912.7h3.70V930.2h-3.70zM966.5 939.0h3.70V956.5h-3.70zM970.2 877.7h3.70V886.5h-3.70zM977.6 877.7h3.70V904.0h-3.70zM977.6 921.5h3.70V930.2h-3.70zM977.6 939.0h3.70V947.7h-3.70zM977.6 974.0h3.70V991.5h-3.70zM977.6 1000.2h3.70V1017.7h-3.70zM985.0 842.7h3.70V851.5h-3.70zM985.0 869.0h3.70V886.5h-3.70zM988.7 842.7h3.70V851.5h-3.70zM988.7 877.7h3.70V886.5h-3.70zM992.4 895.2h3.70V904.0h-3.70zM1003.4 851.5h3.70V860.2h-3.70zM1007.1 921.5h3.70V930.2h-3.70zM1018.2 877.7h3.70V886.5h-3.70zM1018.2 904.0h3.70V921.5h-3.70zM1021.9 851.5h3.70V860.2h-3.70zM1021.9 912.7h3.70V921.5h-3.70zM1029.3 869.0h3.70V904.0h-3.70zM1095.9 772.7h3.70V799.0h-3.70zM1095.9 807.7h3.70V816.5h-3.70zM1095.9 825.2h3.70V834.0h-3.70zM1095.9 965.2h3.70V974.0h-3.70zM1118.1 851.5h3.70V886.5h-3.70zM1118.1 930.2h3.70V939.0h-3.70zM1118.1 956.5h3.70V965.2h-3.70zM1121.8 816.5h3.70V825.2h-3.70zM1121.8 869.0h3.70V877.7h-3.70zM1121.8 886.5h3.70V904.0h-3.70zM1125.5 912.7h3.70V921.5h-3.70zM1151.3 877.7h3.70V886.5h-3.70zM1169.8 772.7h3.70V781.5h-3.70zM1184.6 895.2h3.70V921.5h-3.70zM1188.3 886.5h3.70V904.0h-3.70zM1192.0 799.0h3.70V825.2h-3.70zM1192.0 834.0h3.70V842.7h-3.70zM1195.7 711.5h3.70V729.0h-3.70zM1195.7 790.2h3.70V834.0h-3.70zM1195.7 939.0h3.70V947.7h-3.70zM1195.7 956.5h3.70V974.0h-3.70zM1199.4 825.2h3.70V842.7h-3.70zM1199.4 860.2h3.70V877.7h-3.70zM1206.8 842.7h3.70V851.5h-3.70zM1206.8 860.2h3.70V877.7h-3.70zM1217.9 842.7h3.70V851.5h-3.70zM1221.6 790.2h3.70V807.7h-3.70zM1225.3 895.2h3.70V912.7h-3.70zM1225.3 921.5h3.70V930.2h-3.70zM1225.3 947.7h3.70V965.2h-3.70zM1229.0 895.2h3.70V904.0h-3.70zM1236.4 720.2h3.70V729.0h-3.70zM1243.8 869.0h3.70V877.7h-3.70zM1247.5 877.7h3.70V886.5h-3.70zM1247.5 912.7h3.70V921.5h-3.70zM1251.2 781.5h3.70V790.2h-3.70zM1254.9 764.0h3.70V772.7h-3.70zM1254.9 790.2h3.70V799.0h-3.70zM1254.9 816.5h3.70V825.2h-3.70zM1254.9 834.0h3.70V842.7h-3.70zM1258.6 895.2h3.70V921.5h-3.70zM1280.8 921.5h3.70V930.2h-3.70zM1280.8 947.7h3.70V965.2h-3.70zM1280.8 974.0h3.70V991.5h-3.70zM1288.2 807.7h3.70V816.5h-3.70zM1295.6 772.7h3.70V781.5h-3.70zM1295.6 825.2h3.70V834.0h-3.70zM1295.6 877.7h3.70V886.5h-3.70zM1299.2 816.5h3.70V825.2h-3.70zM1299.2 834.0h3.70V851.5h-3.70zM1299.2 860.2h3.70V869.0h-3.70zM1302.9 764.0h3.70V772.7h-3.70zM1302.9 781.5h3.70V790.2h-3.70zM1314.0 781.5h3.70V799.0h-3.70zM1317.7 737.7h3.70V746.5h-3.70zM1325.1 764.0h3.70V772.7h-3.70zM1328.8 764.0h3.70V781.5h-3.70zM1328.8 790.2h3.70V799.0h-3.70zM1328.8 816.5h3.70V869.0h-3.70zM1339.9 694.0h3.70V702.7h-3.70zM1339.9 737.7h3.70V755.2h-3.70zM1339.9 781.5h3.70V790.2h-3.70zM1339.9 799.0h3.70V807.7h-3.70zM1339.9 921.5h3.70V939.0h-3.70zM1351.0 807.7h3.70V816.5h-3.70zM1354.7 729.0h3.70V737.7h-3.70zM1354.7 781.5h3.70V799.0h-3.70zM1354.7 851.5h3.70V869.0h-3.70zM1354.7 886.5h3.70V895.2h-3.70zM1354.7 956.5h3.70V991.5h-3.70zM1358.4 702.7h3.70V711.5h-3.70zM1358.4 720.2h3.70V729.0h-3.70zM1358.4 764.0h3.70V772.7h-3.70zM1358.4 886.5h3.70V930.2h-3.70zM1358.4 939.0h3.70V956.5h-3.70zM1362.1 807.7h3.70V816.5h-3.70zM1362.1 921.5h3.70V930.2h-3.70zM1362.1 939.0h3.70V956.5h-3.70z"/><path fill="#008dff" d="M241.8 965.2h3.70V974.0h-3.70zM241.8 982.7h3.70V991.5h-3.70zM241.8 1017.7h3.70V1026.5h-3.70zM241.8 1035.2h3.70V1079.0h-3.70zM245.5 799.0h3.70V807.7h-3.70zM245.5 834.0h3.70V860.2h-3.70zM245.5 1009.0h3.70V1017.7h-3.70zM245.5 1105.2h3.70V1114.0h-3.70zM249.2 1035.2h3.70V1044.0h-3.70zM249.2 1061.5h3.70V1079.0h-3.70zM249.2 1087.7h3.70V1096.5h-3.70zM252.9 1026.5h3.70V1035.2h-3.70zM252.9 1044.0h3.70V1052.7h-3.70zM252.9 1061.5h3.70V1087.7h-3.70zM256.6 991.5h3.70V1000.2h-3.70zM256.6 1122.7h3.70V1131.5h-3.70zM260.3 1096.5h3.70V1105.2h-3.70zM264.0 1052.7h3.70V1079.0h-3.70zM264.0 1087.7h3.70V1096.5h-3.70zM267.7 1087.7h3.70V1114.0h-3.70zM267.7 1122.7h3.70V1131.5h-3.70zM271.3 1105.2h3.70V1131.5h-3.70zM289.8 895.2h3.70V904.0h-3.70zM297.2 886.5h3.70V895.2h-3.70zM334.2 764.0h3.70V772.7h-3.70zM334.2 860.2h3.70V877.7h-3.70zM334.2 886.5h3.70V895.2h-3.70zM382.3 921.5h3.70V930.2h-3.70zM441.4 912.7h3.70V921.5h-3.70zM441.4 930.2h3.70V939.0h-3.70zM448.8 895.2h3.70V904.0h-3.70zM474.7 799.0h3.70V807.7h-3.70zM474.7 816.5h3.70V825.2h-3.70zM474.7 1070.2h3.70V1079.0h-3.70zM478.4 921.5h3.70V930.2h-3.70zM478.4 1044.0h3.70V1052.7h-3.70zM485.8 781.5h3.70V790.2h-3.70zM485.8 869.0h3.70V877.7h-3.70zM485.8 886.5h3.70V895.2h-3.70zM485.8 904.0h3.70V912.7h-3.70zM489.5 746.5h3.70V755.2h-3.70zM489.5 851.5h3.70V860.2h-3.70zM489.5 869.0h3.70V877.7h-3.70zM489.5 1000.2h3.70V1009.0h-3.70zM493.2 816.5h3.70V834.0h-3.70zM493.2 921.5h3.70V930.2h-3.70zM496.9 790.2h3.70V807.7h-3.70zM496.9 825.2h3.70V834.0h-3.70zM500.6 790.2h3.70V799.0h-3.70zM500.6 816.5h3.70V842.7h-3.70zM504.3 755.2h3.70V764.0h-3.70zM504.3 842.7h3.70V860.2h-3.70zM504.3 1052.7h3.70V1061.5h-3.70zM508.0 799.0h3.70V807.7h-3.70zM511.7 764.0h3.70V772.7h-3.70zM511.7 781.5h3.70V790.2h-3.70zM511.7 886.5h3.70V904.0h-3.70zM515.4 790.2h3.70V799.0h-3.70zM515.4 807.7h3.70V816.5h-3.70zM519.1 729.0h3.70V746.5h-3.70zM519.1 921.5h3.70V930.2h-3.70zM519.1 939.0h3.70V965.2h-3.70zM519.1 1096.5h3.70V1105.2h-3.70zM522.8 711.5h3.70V720.2h-3.70zM522.8 772.7h3.70V781.5h-3.70zM522.8 877.7h3.70V895.2h-3.70zM522.8 947.7h3.70V956.5h-3.70zM522.8 974.0h3.70V982.7h-3.70zM522.8 1044.0h3.70V1087.7h-3.70zM522.8 1114.0h3.70V1131.5h-3.70zM526.5 755.2h3.70V764.0h-3.70zM526.5 921.5h3.70V956.5h-3.70zM526.5 965.2h3.70V974.0h-3.70zM526.5 991.5h3.70V1009.0h-3.70zM530.2 877.7h3.70V886.5h-3.70zM533.9 790.2h3.70V799.0h-3.70zM533.9 895.2h3.70V904.0h-3.70zM537.6 790.2h3.70V799.0h-3.70zM537.6 921.5h3.70V947.7h-3.70zM541.3 790.2h3.70V799.0h-3.70zM541.3 860.2h3.70V869.0h-3.70zM545.0 807.7h3.70V825.2h-3.70zM545.0 834.0h3.70V842.7h-3.70zM545.0 860.2h3.70V869.0h-3.70zM545.0 877.7h3.70V895.2h-3.70zM548.7 799.0h3.70V807.7h-3.70zM548.7 834.0h3.70V842.7h-3.70zM548.7 860.2h3.70V886.5h-3.70zM548.7 895.2h3.70V912.7h-3.70zM552.4 772.7h3.70V799.0h-3.70zM552.4 851.5h3.70V869.0h-3.70zM552.4 895.2h3.70V904.0h-3.70zM556.1 877.7h3.70V886.5h-3.70zM556.1 912.7h3.70V930.2h-3.70zM559.8 834.0h3.70V842.7h-3.70zM559.8 904.0h3.70V921.5h-3.70zM563.5 807.7h3.70V816.5h-3.70zM563.5 930.2h3.70V939.0h-3.70zM563.5 956.5h3.70V965.2h-3.70zM567.1 799.0h3.70V807.7h-3.70zM567.1 816.5h3.70V834.0h-3.70zM567.1 842.7h3.70V851.5h-3.70zM570.8 816.5h3.70V851.5h-3.70zM570.8 886.5h3.70V895.2h-3.70zM574.5 930.2h3.70V939.0h-3.70zM574.5 991.5h3.70V1000.2h-3.70zM574.5 1026.5h3.70V1035.2h-3.70zM578.2 755.2h3.70V764.0h-3.70zM578.2 790.2h3.70V799.0h-3.70zM578.2 825.2h3.70V834.0h-3.70zM578.2 1026.5h3.70V1044.0h-3.70zM581.9 869.0h3.70V886.5h-3.70zM581.9 947.7h3.70V956.5h-3.70zM585.6 877.7h3.70V886.5h-3.70zM589.3 842.7h3.70V851.5h-3.70zM589.3 939.0h3.70V956.5h-3.70zM593.0 834.0h3.70V842.7h-3.70zM593.0 956.5h3.70V965.2h-3.70zM593.0 991.5h3.70V1000.2h-3.70zM593.0 1017.7h3.70V1026.5h-3.70zM593.0 1035.2h3.70V1052.7h-3.70zM593.0 1070.2h3.70V1079.0h-3.70zM593.0 1096.5h3.70V1105.2h-3.70zM600.4 869.0h3.70V877.7h-3.70zM600.4 912.7h3.70V921.5h-3.70zM604.1 799.0h3.70V825.2h-3.70zM604.1 860.2h3.70V877.7h-3.70zM604.1 965.2h3.70V982.7h-3.70zM604.1 991.5h3.70V1009.0h-3.70zM607.8 807.7h3.70V825.2h-3.70zM607.8 965.2h3.70V982.7h-3.70zM607.8 1061.5h3.70V1079.0h-3.70zM611.5 834.0h3.70V842.7h-3.70zM611.5 965.2h3.70V974.0h-3.70zM615.2 851.5h3.70V860.2h-3.70zM615.2 1009.0h3.70V1017.7h-3.70zM618.9 965.2h3.70V974.0h-3.70zM622.6 851.5h3.70V912.7h-3.70zM622.6 991.5h3.70V1000.2h-3.70zM630.0 807.7h3.70V834.0h-3.70zM630.0 842.7h3.70V851.5h-3.70zM630.0 877.7h3.70V886.5h-3.70zM630.0 904.0h3.70V912.7h-3.70zM630.0 1035.2h3.70V1052.7h-3.70zM630.0 1061.5h3.70V1079.0h-3.70zM633.7 842.7h3.70V860.2h-3.70zM633.7 1000.2h3.70V1009.0h-3.70zM637.4 912.7h3.70V974.0h-3.70zM637.4 982.7h3.70V991.5h-3.70zM644.8 956.5h3.70V974.0h-3.70zM648.5 956.5h3.70V974.0h-3.70zM652.2 1000.2h3.70V1009.0h-3.70zM659.6 939.0h3.70V947.7h-3.70zM659.6 991.5h3.70V1000.2h-3.70zM659.6 1009.0h3.70V1017.7h-3.70zM663.3 912.7h3.70V930.2h-3.70zM663.3 939.0h3.70V947.7h-3.70zM663.3 1009.0h3.70V1026.5h-3.70zM667.0 982.7h3.70V991.5h-3.70zM667.0 1009.0h3.70V1017.7h-3.70zM670.7 965.2h3.70V974.0h-3.70zM670.7 1000.2h3.70V1009.0h-3.70zM674.4 991.5h3.70V1000.2h-3.70zM678.1 965.2h3.70V974.0h-3.70zM681.8 1017.7h3.70V1026.5h-3.70zM685.5 895.2h3.70V921.5h-3.70zM689.2 921.5h3.70V930.2h-3.70zM689.2 1044.0h3.70V1061.5h-3.70zM692.9 1035.2h3.70V1044.0h-3.70zM696.6 1044.0h3.70V1061.5h-3.70zM700.3 1052.7h3.70V1061.5h-3.70zM704.0 1061.5h3.70V1070.2h-3.70zM711.3 1070.2h3.70V1087.7h-3.70zM715.0 974.0h3.70V982.7h-3.70zM715.0 1052.7h3.70V1070.2h-3.70zM715.0 1079.0h3.70V1087.7h-3.70zM718.7 947.7h3.70V956.5h-3.70zM722.4 982.7h3.70V991.5h-3.70zM722.4 1035.2h3.70V1044.0h-3.70zM726.1 965.2h3.70V982.7h-3.70zM726.1 991.5h3.70V1000.2h-3.70zM729.8 947.7h3.70V956.5h-3.70zM729.8 974.0h3.70V991.5h-3.70zM729.8 1000.2h3.70V1009.0h-3.70zM729.8 1061.5h3.70V1070.2h-3.70zM733.5 939.0h3.70V974.0h-3.70zM733.5 1061.5h3.70V1070.2h-3.70zM744.6 1009.0h3.70V1017.7h-3.70zM755.7 965.2h3.70V974.0h-3.70zM755.7 1000.2h3.70V1009.0h-3.70zM755.7 1017.7h3.70V1026.5h-3.70zM763.1 947.7h3.70V956.5h-3.70zM763.1 965.2h3.70V974.0h-3.70zM763.1 991.5h3.70V1017.7h-3.70zM770.5 1009.0h3.70V1026.5h-3.70zM785.3 921.5h3.70V930.2h-3.70zM785.3 947.7h3.70V956.5h-3.70zM792.7 912.7h3.70V921.5h-3.70zM792.7 930.2h3.70V939.0h-3.70zM792.7 947.7h3.70V956.5h-3.70zM796.4 982.7h3.70V1035.2h-3.70zM796.4 1044.0h3.70V1052.7h-3.70zM800.1 886.5h3.70V895.2h-3.70zM800.1 1009.0h3.70V1026.5h-3.70zM800.1 1044.0h3.70V1052.7h-3.70zM800.1 1157.7h3.70V1166.5h-3.70zM807.5 869.0h3.70V877.7h-3.70zM807.5 974.0h3.70V982.7h-3.70zM811.2 965.2h3.70V974.0h-3.70zM814.9 877.7h3.70V895.2h-3.70zM814.9 930.2h3.70V939.0h-3.70zM814.9 947.7h3.70V956.5h-3.70zM833.4 921.5h3.70V965.2h-3.70zM837.1 1000.2h3.70V1009.0h-3.70zM837.1 1026.5h3.70V1035.2h-3.70zM840.8 895.2h3.70V904.0h-3.70zM840.8 921.5h3.70V939.0h-3.70zM840.8 1017.7h3.70V1026.5h-3.70zM844.5 877.7h3.70V886.5h-3.70zM844.5 974.0h3.70V982.7h-3.70zM848.2 895.2h3.70V904.0h-3.70zM848.2 947.7h3.70V965.2h-3.70zM848.2 974.0h3.70V991.5h-3.70zM855.6 869.0h3.70V877.7h-3.70zM855.6 991.5h3.70V1009.0h-3.70zM862.9 921.5h3.70V930.2h-3.70zM866.6 904.0h3.70V912.7h-3.70zM866.6 930.2h3.70V947.7h-3.70zM870.3 965.2h3.70V974.0h-3.70zM877.7 930.2h3.70V939.0h-3.70zM877.7 991.5h3.70V1000.2h-3.70zM881.4 904.0h3.70V930.2h-3.70zM888.8 904.0h3.70V912.7h-3.70zM888.8 921.5h3.70V930.2h-3.70zM888.8 982.7h3.70V991.5h-3.70zM888.8 1000.2h3.70V1017.7h-3.70zM896.2 895.2h3.70V904.0h-3.70zM896.2 921.5h3.70V930.2h-3.70zM896.2 982.7h3.70V991.5h-3.70zM911.0 947.7h3.70V956.5h-3.70zM914.7 912.7h3.70V921.5h-3.70zM914.7 930.2h3.70V947.7h-3.70zM914.7 1000.2h3.70V1017.7h-3.70zM918.4 947.7h3.70V956.5h-3.70zM918.4 965.2h3.70V991.5h-3.70zM922.1 904.0h3.70V912.7h-3.70zM922.1 1000.2h3.70V1009.0h-3.70zM925.8 912.7h3.70V921.5h-3.70zM925.8 947.7h3.70V956.5h-3.70zM925.8 982.7h3.70V1000.2h-3.70zM925.8 1009.0h3.70V1017.7h-3.70zM925.8 1026.5h3.70V1035.2h-3.70zM940.6 921.5h3.70V930.2h-3.70zM944.3 947.7h3.70V965.2h-3.70zM948.0 912.7h3.70V930.2h-3.70zM948.0 939.0h3.70V947.7h-3.70zM948.0 956.5h3.70V965.2h-3.70zM951.7 939.0h3.70V956.5h-3.70zM955.4 921.5h3.70V930.2h-3.70zM955.4 939.0h3.70V947.7h-3.70zM955.4 956.5h3.70V965.2h-3.70zM959.1 877.7h3.70V912.7h-3.70zM962.8 921.5h3.70V939.0h-3.70zM966.5 930.2h3.70V939.0h-3.70zM970.2 886.5h3.70V895.2h-3.70zM970.2 904.0h3.70V921.5h-3.70zM977.6 991.5h3.70V1000.2h-3.70zM985.0 851.5h3.70V869.0h-3.70zM988.7 851.5h3.70V877.7h-3.70zM992.4 851.5h3.70V860.2h-3.70zM992.4 877.7h3.70V886.5h-3.70zM1003.4 860.2h3.70V877.7h-3.70zM1003.4 904.0h3.70V912.7h-3.70zM1018.2 886.5h3.70V904.0h-3.70zM1021.9 825.2h3.70V842.7h-3.70zM1062.6 755.2h3.70V764.0h-3.70zM1095.9 834.0h3.70V851.5h-3.70zM1095.9 869.0h3.70V877.7h-3.70zM1095.9 930.2h3.70V947.7h-3.70zM1118.1 886.5h3.70V895.2h-3.70zM1118.1 965.2h3.70V974.0h-3.70zM1188.3 904.0h3.70V921.5h-3.70zM1195.7 781.5h3.70V790.2h-3.70zM1195.7 947.7h3.70V956.5h-3.70zM1199.4 842.7h3.70V860.2h-3.70zM1206.8 851.5h3.70V860.2h-3.70zM1217.9 930.2h3.70V939.0h-3.70zM1221.6 807.7h3.70V816.5h-3.70zM1221.6 825.2h3.70V834.0h-3.70zM1243.8 877.7h3.70V895.2h-3.70zM1243.8 904.0h3.70V921.5h-3.70zM1247.5 781.5h3.70V799.0h-3.70zM1247.5 869.0h3.70V877.7h-3.70zM1247.5 886.5h3.70V912.7h-3.70zM1251.2 746.5h3.70V764.0h-3.70zM1254.9 772.7h3.70V781.5h-3.70zM1254.9 799.0h3.70V807.7h-3.70zM1258.6 921.5h3.70V930.2h-3.70zM1280.8 965.2h3.70V974.0h-3.70zM1295.6 781.5h3.70V790.2h-3.70zM1295.6 816.5h3.70V825.2h-3.70zM1328.8 781.5h3.70V790.2h-3.70zM1339.9 755.2h3.70V772.7h-3.70zM1339.9 790.2h3.70V799.0h-3.70zM1339.9 834.0h3.70V842.7h-3.70zM1354.7 737.7h3.70V755.2h-3.70zM1354.7 764.0h3.70V781.5h-3.70zM1354.7 877.7h3.70V886.5h-3.70zM1358.4 869.0h3.70V886.5h-3.70zM1362.1 930.2h3.70V939.0h-3.70z"/><path fill="#0098ff" d="M241.8 877.7h3.70V886.5h-3.70zM245.5 1061.5h3.70V1070.2h-3.70zM245.5 1096.5h3.70V1105.2h-3.70zM252.9 1035.2h3.70V1044.0h-3.70zM256.6 1000.2h3.70V1009.0h-3.70zM256.6 1017.7h3.70V1044.0h-3.70zM256.6 1061.5h3.70V1070.2h-3.70zM256.6 1105.2h3.70V1122.7h-3.70zM267.7 1114.0h3.70V1122.7h-3.70zM271.3 1087.7h3.70V1096.5h-3.70zM289.8 921.5h3.70V930.2h-3.70zM293.5 904.0h3.70V921.5h-3.70zM297.2 939.0h3.70V947.7h-3.70zM334.2 807.7h3.70V816.5h-3.70zM441.4 1035.2h3.70V1044.0h-3.70zM448.8 904.0h3.70V921.5h-3.70zM448.8 939.0h3.70V947.7h-3.70zM474.7 807.7h3.70V816.5h-3.70zM478.4 755.2h3.70V781.5h-3.70zM478.4 816.5h3.70V834.0h-3.70zM485.8 790.2h3.70V851.5h-3.70zM489.5 755.2h3.70V764.0h-3.70zM489.5 807.7h3.70V851.5h-3.70zM489.5 860.2h3.70V869.0h-3.70zM493.2 764.0h3.70V772.7h-3.70zM493.2 807.7h3.70V816.5h-3.70zM496.9 807.7h3.70V816.5h-3.70zM496.9 886.5h3.70V895.2h-3.70zM500.6 799.0h3.70V816.5h-3.70zM504.3 834.0h3.70V842.7h-3.70zM504.3 1061.5h3.70V1070.2h-3.70zM508.0 816.5h3.70V825.2h-3.70zM508.0 860.2h3.70V869.0h-3.70zM511.7 790.2h3.70V807.7h-3.70zM511.7 869.0h3.70V886.5h-3.70zM515.4 781.5h3.70V790.2h-3.70zM515.4 816.5h3.70V825.2h-3.70zM515.4 834.0h3.70V842.7h-3.70zM519.1 746.5h3.70V764.0h-3.70zM519.1 886.5h3.70V895.2h-3.70zM519.1 974.0h3.70V982.7h-3.70zM519.1 991.5h3.70V1009.0h-3.70zM522.8 764.0h3.70V772.7h-3.70zM522.8 956.5h3.70V974.0h-3.70zM522.8 1035.2h3.70V1044.0h-3.70zM522.8 1087.7h3.70V1114.0h-3.70zM526.5 895.2h3.70V921.5h-3.70zM526.5 956.5h3.70V965.2h-3.70zM526.5 974.0h3.70V991.5h-3.70zM530.2 825.2h3.70V860.2h-3.70zM530.2 869.0h3.70V877.7h-3.70zM533.9 851.5h3.70V869.0h-3.70zM537.6 912.7h3.70V921.5h-3.70zM541.3 799.0h3.70V807.7h-3.70zM541.3 816.5h3.70V834.0h-3.70zM541.3 842.7h3.70V851.5h-3.70zM545.0 825.2h3.70V834.0h-3.70zM545.0 842.7h3.70V860.2h-3.70zM545.0 869.0h3.70V877.7h-3.70zM548.7 807.7h3.70V816.5h-3.70zM548.7 886.5h3.70V895.2h-3.70zM552.4 869.0h3.70V895.2h-3.70zM556.1 886.5h3.70V895.2h-3.70zM556.1 904.0h3.70V912.7h-3.70zM559.8 842.7h3.70V851.5h-3.70zM559.8 860.2h3.70V869.0h-3.70zM563.5 816.5h3.70V825.2h-3.70zM563.5 912.7h3.70V930.2h-3.70zM563.5 939.0h3.70V947.7h-3.70zM567.1 851.5h3.70V860.2h-3.70zM570.8 851.5h3.70V869.0h-3.70zM574.5 834.0h3.70V842.7h-3.70zM578.2 834.0h3.70V842.7h-3.70zM578.2 930.2h3.70V939.0h-3.70zM581.9 895.2h3.70V939.0h-3.70zM585.6 886.5h3.70V895.2h-3.70zM585.6 930.2h3.70V939.0h-3.70zM589.3 860.2h3.70V869.0h-3.70zM589.3 930.2h3.70V939.0h-3.70zM593.0 842.7h3.70V851.5h-3.70zM593.0 886.5h3.70V895.2h-3.70zM593.0 965.2h3.70V974.0h-3.70zM593.0 1052.7h3.70V1070.2h-3.70zM593.0 1079.0h3.70V1096.5h-3.70zM596.7 834.0h3.70V860.2h-3.70zM600.4 877.7h3.70V886.5h-3.70zM604.1 1009.0h3.70V1017.7h-3.70zM607.8 825.2h3.70V851.5h-3.70zM607.8 947.7h3.70V965.2h-3.70zM611.5 842.7h3.70V851.5h-3.70zM615.2 860.2h3.70V886.5h-3.70zM615.2 904.0h3.70V912.7h-3.70zM615.2 921.5h3.70V939.0h-3.70zM615.2 991.5h3.70V1009.0h-3.70zM618.9 939.0h3.70V947.7h-3.70zM622.6 834.0h3.70V842.7h-3.70zM622.6 921.5h3.70V930.2h-3.70zM626.3 869.0h3.70V877.7h-3.70zM626.3 982.7h3.70V991.5h-3.70zM630.0 895.2h3.70V904.0h-3.70zM630.0 912.7h3.70V921.5h-3.70zM630.0 930.2h3.70V939.0h-3.70zM630.0 974.0h3.70V982.7h-3.70zM630.0 991.5h3.70V1000.2h-3.70zM630.0 1017.7h3.70V1035.2h-3.70zM630.0 1052.7h3.70V1061.5h-3.70zM630.0 1079.0h3.70V1096.5h-3.70zM633.7 860.2h3.70V912.7h-3.70zM644.8 930.2h3.70V939.0h-3.70zM644.8 947.7h3.70V956.5h-3.70zM648.5 939.0h3.70V947.7h-3.70zM652.2 912.7h3.70V965.2h-3.70zM652.2 974.0h3.70V1000.2h-3.70zM655.9 921.5h3.70V930.2h-3.70zM655.9 1000.2h3.70V1009.0h-3.70zM659.6 947.7h3.70V965.2h-3.70zM659.6 974.0h3.70V991.5h-3.70zM667.0 974.0h3.70V982.7h-3.70zM667.0 991.5h3.70V1009.0h-3.70zM670.7 974.0h3.70V1000.2h-3.70zM678.1 1017.7h3.70V1026.5h-3.70zM681.8 1009.0h3.70V1017.7h-3.70zM685.5 921.5h3.70V930.2h-3.70zM685.5 1044.0h3.70V1052.7h-3.70zM689.2 930.2h3.70V939.0h-3.70zM692.9 956.5h3.70V965.2h-3.70zM704.0 1052.7h3.70V1061.5h-3.70zM707.7 1087.7h3.70V1096.5h-3.70zM707.7 1105.2h3.70V1114.0h-3.70zM711.3 1061.5h3.70V1070.2h-3.70zM715.0 1035.2h3.70V1052.7h-3.70zM715.0 1070.2h3.70V1079.0h-3.70zM718.7 1079.0h3.70V1087.7h-3.70zM722.4 1000.2h3.70V1009.0h-3.70zM722.4 1026.5h3.70V1035.2h-3.70zM726.1 956.5h3.70V965.2h-3.70zM726.1 1000.2h3.70V1026.5h-3.70zM729.8 956.5h3.70V965.2h-3.70zM729.8 991.5h3.70V1000.2h-3.70zM729.8 1009.0h3.70V1017.7h-3.70zM729.8 1052.7h3.70V1061.5h-3.70zM733.5 982.7h3.70V991.5h-3.70zM733.5 1026.5h3.70V1035.2h-3.70zM755.7 991.5h3.70V1000.2h-3.70zM755.7 1009.0h3.70V1017.7h-3.70zM755.7 1026.5h3.70V1035.2h-3.70zM763.1 974.0h3.70V991.5h-3.70zM785.3 939.0h3.70V947.7h-3.70zM789.0 921.5h3.70V939.0h-3.70zM789.0 947.7h3.70V974.0h-3.70zM792.7 939.0h3.70V947.7h-3.70zM796.4 895.2h3.70V904.0h-3.70zM796.4 956.5h3.70V982.7h-3.70zM796.4 1035.2h3.70V1044.0h-3.70zM800.1 1026.5h3.70V1035.2h-3.70zM803.8 886.5h3.70V904.0h-3.70zM803.8 974.0h3.70V982.7h-3.70zM803.8 1000.2h3.70V1009.0h-3.70zM807.5 877.7h3.70V886.5h-3.70zM807.5 982.7h3.70V991.5h-3.70zM811.2 895.2h3.70V904.0h-3.70zM814.9 895.2h3.70V904.0h-3.70zM814.9 912.7h3.70V921.5h-3.70zM814.9 939.0h3.70V947.7h-3.70zM818.6 965.2h3.70V974.0h-3.70zM840.8 947.7h3.70V965.2h-3.70zM844.5 886.5h3.70V904.0h-3.70zM844.5 921.5h3.70V930.2h-3.70zM844.5 939.0h3.70V947.7h-3.70zM848.2 939.0h3.70V947.7h-3.70zM862.9 912.7h3.70V921.5h-3.70zM862.9 930.2h3.70V965.2h-3.70zM866.6 912.7h3.70V930.2h-3.70zM870.3 904.0h3.70V921.5h-3.70zM870.3 956.5h3.70V965.2h-3.70zM870.3 974.0h3.70V982.7h-3.70zM877.7 904.0h3.70V921.5h-3.70zM877.7 939.0h3.70V974.0h-3.70zM888.8 912.7h3.70V921.5h-3.70zM888.8 930.2h3.70V939.0h-3.70zM888.8 965.2h3.70V982.7h-3.70zM896.2 904.0h3.70V921.5h-3.70zM896.2 930.2h3.70V947.7h-3.70zM896.2 974.0h3.70V982.7h-3.70zM907.3 939.0h3.70V974.0h-3.70zM907.3 982.7h3.70V991.5h-3.70zM914.7 974.0h3.70V982.7h-3.70zM914.7 991.5h3.70V1000.2h-3.70zM918.4 912.7h3.70V921.5h-3.70zM918.4 930.2h3.70V947.7h-3.70zM918.4 956.5h3.70V965.2h-3.70zM922.1 912.7h3.70V921.5h-3.70zM922.1 982.7h3.70V991.5h-3.70zM925.8 904.0h3.70V912.7h-3.70zM925.8 930.2h3.70V939.0h-3.70zM925.8 1017.7h3.70V1026.5h-3.70zM944.3 921.5h3.70V947.7h-3.70zM948.0 930.2h3.70V939.0h-3.70zM951.7 921.5h3.70V939.0h-3.70zM955.4 930.2h3.70V939.0h-3.70zM962.8 912.7h3.70V921.5h-3.70zM970.2 895.2h3.70V904.0h-3.70zM992.4 860.2h3.70V877.7h-3.70zM1003.4 877.7h3.70V904.0h-3.70zM1021.9 842.7h3.70V851.5h-3.70zM1095.9 851.5h3.70V869.0h-3.70zM1095.9 877.7h3.70V904.0h-3.70zM1095.9 921.5h3.70V930.2h-3.70zM1221.6 816.5h3.70V825.2h-3.70zM1243.8 895.2h3.70V904.0h-3.70zM1254.9 807.7h3.70V816.5h-3.70zM1295.6 790.2h3.70V816.5h-3.70zM1339.9 772.7h3.70V781.5h-3.70zM1339.9 851.5h3.70V877.7h-3.70zM1339.9 912.7h3.70V921.5h-3.70zM1354.7 755.2h3.70V764.0h-3.70z"/><path fill="#00a2ff" d="M241.8 974.0h3.70V982.7h-3.70zM245.5 1017.7h3.70V1035.2h-3.70zM245.5 1044.0h3.70V1061.5h-3.70zM245.5 1070.2h3.70V1079.0h-3.70zM245.5 1087.7h3.70V1096.5h-3.70zM256.6 1009.0h3.70V1017.7h-3.70zM256.6 1044.0h3.70V1061.5h-3.70zM256.6 1070.2h3.70V1105.2h-3.70zM271.3 1096.5h3.70V1105.2h-3.70zM282.4 825.2h3.70V834.0h-3.70zM289.8 807.7h3.70V816.5h-3.70zM289.8 834.0h3.70V842.7h-3.70zM293.5 860.2h3.70V869.0h-3.70zM293.5 877.7h3.70V886.5h-3.70zM297.2 816.5h3.70V825.2h-3.70zM297.2 860.2h3.70V877.7h-3.70zM448.8 921.5h3.70V939.0h-3.70zM478.4 781.5h3.70V790.2h-3.70zM482.1 790.2h3.70V807.7h-3.70zM482.1 842.7h3.70V851.5h-3.70zM489.5 764.0h3.70V781.5h-3.70zM489.5 790.2h3.70V807.7h-3.70zM493.2 799.0h3.70V807.7h-3.70zM504.3 764.0h3.70V772.7h-3.70zM504.3 825.2h3.70V834.0h-3.70zM508.0 825.2h3.70V842.7h-3.70zM511.7 807.7h3.70V869.0h-3.70zM515.4 799.0h3.70V807.7h-3.70zM515.4 825.2h3.70V834.0h-3.70zM519.1 764.0h3.70V772.7h-3.70zM519.1 877.7h3.70V886.5h-3.70zM519.1 965.2h3.70V974.0h-3.70zM519.1 982.7h3.70V991.5h-3.70zM522.8 781.5h3.70V799.0h-3.70zM522.8 869.0h3.70V877.7h-3.70zM526.5 764.0h3.70V772.7h-3.70zM526.5 851.5h3.70V860.2h-3.70zM526.5 886.5h3.70V895.2h-3.70zM530.2 807.7h3.70V825.2h-3.70zM533.9 799.0h3.70V807.7h-3.70zM537.6 799.0h3.70V816.5h-3.70zM537.6 825.2h3.70V860.2h-3.70zM537.6 895.2h3.70V912.7h-3.70zM541.3 807.7h3.70V816.5h-3.70zM548.7 816.5h3.70V834.0h-3.70zM548.7 842.7h3.70V851.5h-3.70zM556.1 895.2h3.70V904.0h-3.70zM559.8 851.5h3.70V860.2h-3.70zM559.8 869.0h3.70V904.0h-3.70zM563.5 842.7h3.70V860.2h-3.70zM563.5 869.0h3.70V895.2h-3.70zM563.5 947.7h3.70V956.5h-3.70zM567.1 834.0h3.70V842.7h-3.70zM570.8 869.0h3.70V886.5h-3.70zM574.5 842.7h3.70V851.5h-3.70zM574.5 912.7h3.70V930.2h-3.70zM578.2 842.7h3.70V851.5h-3.70zM578.2 921.5h3.70V930.2h-3.70zM578.2 939.0h3.70V956.5h-3.70zM581.9 886.5h3.70V895.2h-3.70zM581.9 939.0h3.70V947.7h-3.70zM581.9 956.5h3.70V965.2h-3.70zM589.3 851.5h3.70V860.2h-3.70zM589.3 869.0h3.70V877.7h-3.70zM593.0 851.5h3.70V860.2h-3.70zM593.0 877.7h3.70V886.5h-3.70zM593.0 921.5h3.70V939.0h-3.70zM593.0 947.7h3.70V956.5h-3.70zM596.7 869.0h3.70V877.7h-3.70zM596.7 947.7h3.70V956.5h-3.70zM600.4 886.5h3.70V904.0h-3.70zM604.1 877.7h3.70V904.0h-3.70zM604.1 930.2h3.70V939.0h-3.70zM604.1 947.7h3.70V965.2h-3.70zM607.8 869.0h3.70V877.7h-3.70zM607.8 939.0h3.70V947.7h-3.70zM611.5 860.2h3.70V877.7h-3.70zM611.5 956.5h3.70V965.2h-3.70zM615.2 886.5h3.70V895.2h-3.70zM615.2 912.7h3.70V921.5h-3.70zM615.2 939.0h3.70V947.7h-3.70zM615.2 982.7h3.70V991.5h-3.70zM618.9 956.5h3.70V965.2h-3.70zM622.6 912.7h3.70V921.5h-3.70zM622.6 930.2h3.70V939.0h-3.70zM622.6 982.7h3.70V991.5h-3.70zM626.3 877.7h3.70V895.2h-3.70zM626.3 904.0h3.70V912.7h-3.70zM630.0 834.0h3.70V842.7h-3.70zM630.0 921.5h3.70V930.2h-3.70zM630.0 939.0h3.70V947.7h-3.70zM630.0 982.7h3.70V991.5h-3.70zM630.0 1009.0h3.70V1017.7h-3.70zM633.7 912.7h3.70V921.5h-3.70zM633.7 965.2h3.70V974.0h-3.70zM633.7 982.7h3.70V991.5h-3.70zM652.2 965.2h3.70V974.0h-3.70zM655.9 930.2h3.70V939.0h-3.70zM655.9 991.5h3.70V1000.2h-3.70zM663.3 956.5h3.70V965.2h-3.70zM663.3 1000.2h3.70V1009.0h-3.70zM678.1 982.7h3.70V991.5h-3.70zM678.1 1009.0h3.70V1017.7h-3.70zM681.8 965.2h3.70V974.0h-3.70zM685.5 930.2h3.70V939.0h-3.70zM685.5 1035.2h3.70V1044.0h-3.70zM689.2 939.0h3.70V947.7h-3.70zM689.2 1035.2h3.70V1044.0h-3.70zM696.6 1035.2h3.70V1044.0h-3.70zM700.3 1044.0h3.70V1052.7h-3.70zM707.7 1079.0h3.70V1087.7h-3.70zM707.7 1096.5h3.70V1105.2h-3.70zM711.3 965.2h3.70V974.0h-3.70zM711.3 1052.7h3.70V1061.5h-3.70zM715.0 1026.5h3.70V1035.2h-3.70zM718.7 1070.2h3.70V1079.0h-3.70zM722.4 1009.0h3.70V1026.5h-3.70zM726.1 982.7h3.70V991.5h-3.70zM729.8 1044.0h3.70V1052.7h-3.70zM733.5 974.0h3.70V982.7h-3.70zM733.5 991.5h3.70V1026.5h-3.70zM785.3 930.2h3.70V939.0h-3.70zM789.0 939.0h3.70V947.7h-3.70zM792.7 921.5h3.70V930.2h-3.70zM796.4 912.7h3.70V921.5h-3.70zM796.4 939.0h3.70V956.5h-3.70zM800.1 991.5h3.70V1009.0h-3.70zM803.8 947.7h3.70V956.5h-3.70zM803.8 965.2h3.70V974.0h-3.70zM803.8 991.5h3.70V1000.2h-3.70zM807.5 956.5h3.70V974.0h-3.70zM811.2 904.0h3.70V921.5h-3.70zM811.2 939.0h3.70V965.2h-3.70zM814.9 904.0h3.70V912.7h-3.70zM814.9 921.5h3.70V930.2h-3.70zM840.8 912.7h3.70V921.5h-3.70zM840.8 939.0h3.70V947.7h-3.70zM840.8 991.5h3.70V1000.2h-3.70zM840.8 1009.0h3.70V1017.7h-3.70zM844.5 904.0h3.70V921.5h-3.70zM844.5 930.2h3.70V939.0h-3.70zM844.5 947.7h3.70V974.0h-3.70zM848.2 904.0h3.70V912.7h-3.70zM848.2 930.2h3.70V939.0h-3.70zM855.6 877.7h3.70V886.5h-3.70zM855.6 912.7h3.70V921.5h-3.70zM855.6 965.2h3.70V991.5h-3.70zM870.3 921.5h3.70V956.5h-3.70zM877.7 921.5h3.70V930.2h-3.70zM877.7 974.0h3.70V991.5h-3.70zM888.8 939.0h3.70V956.5h-3.70zM896.2 947.7h3.70V974.0h-3.70zM914.7 947.7h3.70V974.0h-3.70zM914.7 982.7h3.70V991.5h-3.70zM918.4 921.5h3.70V930.2h-3.70zM922.1 921.5h3.70V939.0h-3.70zM922.1 965.2h3.70V982.7h-3.70zM925.8 921.5h3.70V930.2h-3.70zM944.3 895.2h3.70V921.5h-3.70zM959.1 729.0h3.70V746.5h-3.70zM1003.4 764.0h3.70V772.7h-3.70zM1014.5 772.7h3.70V781.5h-3.70zM1025.6 772.7h3.70V781.5h-3.70zM1033.0 720.2h3.70V729.0h-3.70zM1095.9 904.0h3.70V921.5h-3.70zM1247.5 860.2h3.70V869.0h-3.70zM1339.9 877.7h3.70V886.5h-3.70zM1339.9 895.2h3.70V904.0h-3.70z"/><path fill="#00adff" d="M245.5 1035.2h3.70V1044.0h-3.70zM245.5 1079.0h3.70V1087.7h-3.70zM289.8 816.5h3.70V834.0h-3.70zM289.8 869.0h3.70V877.7h-3.70zM289.8 930.2h3.70V956.5h-3.70zM293.5 825.2h3.70V834.0h-3.70zM293.5 947.7h3.70V956.5h-3.70zM297.2 807.7h3.70V816.5h-3.70zM297.2 825.2h3.70V842.7h-3.70zM297.2 851.5h3.70V860.2h-3.70zM297.2 877.7h3.70V886.5h-3.70zM478.4 807.7h3.70V816.5h-3.70zM482.1 825.2h3.70V842.7h-3.70zM489.5 781.5h3.70V790.2h-3.70zM493.2 772.7h3.70V799.0h-3.70zM504.3 772.7h3.70V781.5h-3.70zM508.0 842.7h3.70V860.2h-3.70zM519.1 772.7h3.70V781.5h-3.70zM522.8 799.0h3.70V816.5h-3.70zM522.8 860.2h3.70V869.0h-3.70zM526.5 772.7h3.70V799.0h-3.70zM526.5 860.2h3.70V886.5h-3.70zM533.9 807.7h3.70V816.5h-3.70zM533.9 834.0h3.70V851.5h-3.70zM537.6 816.5h3.70V825.2h-3.70zM537.6 860.2h3.70V869.0h-3.70zM537.6 877.7h3.70V886.5h-3.70zM563.5 825.2h3.70V842.7h-3.70zM563.5 860.2h3.70V869.0h-3.70zM563.5 895.2h3.70V912.7h-3.70zM574.5 904.0h3.70V912.7h-3.70zM578.2 860.2h3.70V869.0h-3.70zM578.2 912.7h3.70V921.5h-3.70zM585.6 921.5h3.70V930.2h-3.70zM589.3 877.7h3.70V904.0h-3.70zM589.3 921.5h3.70V930.2h-3.70zM593.0 860.2h3.70V877.7h-3.70zM593.0 895.2h3.70V904.0h-3.70zM593.0 912.7h3.70V921.5h-3.70zM593.0 939.0h3.70V947.7h-3.70zM596.7 860.2h3.70V869.0h-3.70zM596.7 930.2h3.70V947.7h-3.70zM604.1 904.0h3.70V912.7h-3.70zM604.1 921.5h3.70V930.2h-3.70zM604.1 939.0h3.70V947.7h-3.70zM607.8 860.2h3.70V869.0h-3.70zM611.5 877.7h3.70V912.7h-3.70zM611.5 921.5h3.70V930.2h-3.70zM611.5 947.7h3.70V956.5h-3.70zM615.2 895.2h3.70V904.0h-3.70zM615.2 947.7h3.70V956.5h-3.70zM615.2 965.2h3.70V982.7h-3.70zM618.9 947.7h3.70V956.5h-3.70zM626.3 895.2h3.70V904.0h-3.70zM626.3 921.5h3.70V930.2h-3.70zM630.0 947.7h3.70V974.0h-3.70zM630.0 1000.2h3.70V1009.0h-3.70zM633.7 974.0h3.70V982.7h-3.70zM655.9 939.0h3.70V947.7h-3.70zM655.9 956.5h3.70V974.0h-3.70zM655.9 982.7h3.70V991.5h-3.70zM659.6 965.2h3.70V974.0h-3.70zM663.3 965.2h3.70V974.0h-3.70zM663.3 982.7h3.70V1000.2h-3.70zM678.1 974.0h3.70V982.7h-3.70zM678.1 1000.2h3.70V1009.0h-3.70zM681.8 974.0h3.70V982.7h-3.70zM685.5 939.0h3.70V947.7h-3.70zM685.5 1026.5h3.70V1035.2h-3.70zM689.2 947.7h3.70V956.5h-3.70zM692.9 1026.5h3.70V1035.2h-3.70zM696.6 982.7h3.70V991.5h-3.70zM696.6 1026.5h3.70V1035.2h-3.70zM700.3 982.7h3.70V991.5h-3.70zM707.7 1061.5h3.70V1079.0h-3.70zM715.0 1017.7h3.70V1026.5h-3.70zM718.7 956.5h3.70V974.0h-3.70zM718.7 1061.5h3.70V1070.2h-3.70zM729.8 1017.7h3.70V1044.0h-3.70zM796.4 904.0h3.70V912.7h-3.70zM796.4 930.2h3.70V939.0h-3.70zM800.1 895.2h3.70V904.0h-3.70zM803.8 904.0h3.70V912.7h-3.70zM803.8 939.0h3.70V947.7h-3.70zM803.8 956.5h3.70V965.2h-3.70zM803.8 982.7h3.70V991.5h-3.70zM807.5 886.5h3.70V895.2h-3.70zM807.5 947.7h3.70V956.5h-3.70zM811.2 921.5h3.70V939.0h-3.70zM840.8 974.0h3.70V982.7h-3.70zM840.8 1000.2h3.70V1009.0h-3.70zM848.2 912.7h3.70V930.2h-3.70zM855.6 886.5h3.70V912.7h-3.70zM855.6 921.5h3.70V930.2h-3.70zM855.6 947.7h3.70V965.2h-3.70zM888.8 956.5h3.70V965.2h-3.70zM922.1 947.7h3.70V956.5h-3.70zM1247.5 799.0h3.70V825.2h-3.70zM1247.5 851.5h3.70V860.2h-3.70zM1339.9 886.5h3.70V895.2h-3.70z"/><path fill="#00b8ff" d="M286.1 834.0h3.70V842.7h-3.70zM289.8 851.5h3.70V869.0h-3.70zM289.8 912.7h3.70V921.5h-3.70zM293.5 807.7h3.70V816.5h-3.70zM293.5 930.2h3.70V939.0h-3.70zM297.2 895.2h3.70V904.0h-3.70zM297.2 912.7h3.70V921.5h-3.70zM478.4 790.2h3.70V807.7h-3.70zM504.3 781.5h3.70V799.0h-3.70zM519.1 781.5h3.70V790.2h-3.70zM519.1 869.0h3.70V877.7h-3.70zM522.8 816.5h3.70V834.0h-3.70zM522.8 842.7h3.70V860.2h-3.70zM526.5 842.7h3.70V851.5h-3.70zM533.9 816.5h3.70V834.0h-3.70zM537.6 886.5h3.70V895.2h-3.70zM574.5 851.5h3.70V869.0h-3.70zM574.5 877.7h3.70V904.0h-3.70zM578.2 851.5h3.70V860.2h-3.70zM578.2 877.7h3.70V886.5h-3.70zM578.2 895.2h3.70V912.7h-3.70zM585.6 895.2h3.70V921.5h-3.70zM589.3 904.0h3.70V921.5h-3.70zM593.0 904.0h3.70V912.7h-3.70zM596.7 877.7h3.70V886.5h-3.70zM596.7 895.2h3.70V904.0h-3.70zM596.7 921.5h3.70V930.2h-3.70zM604.1 912.7h3.70V921.5h-3.70zM607.8 851.5h3.70V860.2h-3.70zM607.8 877.7h3.70V895.2h-3.70zM607.8 904.0h3.70V912.7h-3.70zM607.8 921.5h3.70V939.0h-3.70zM611.5 912.7h3.70V921.5h-3.70zM611.5 930.2h3.70V947.7h-3.70zM622.6 939.0h3.70V947.7h-3.70zM626.3 912.7h3.70V921.5h-3.70zM626.3 930.2h3.70V939.0h-3.70zM626.3 974.0h3.70V982.7h-3.70zM633.7 921.5h3.70V930.2h-3.70zM633.7 947.7h3.70V956.5h-3.70zM655.9 947.7h3.70V956.5h-3.70zM655.9 974.0h3.70V982.7h-3.70zM663.3 974.0h3.70V982.7h-3.70zM678.1 991.5h3.70V1000.2h-3.70zM681.8 1000.2h3.70V1009.0h-3.70zM685.5 947.7h3.70V956.5h-3.70zM685.5 1017.7h3.70V1026.5h-3.70zM689.2 1017.7h3.70V1035.2h-3.70zM692.9 1017.7h3.70V1026.5h-3.70zM696.6 1000.2h3.70V1009.0h-3.70zM700.3 1035.2h3.70V1044.0h-3.70zM704.0 1044.0h3.70V1052.7h-3.70zM707.7 1052.7h3.70V1061.5h-3.70zM711.3 1044.0h3.70V1052.7h-3.70zM715.0 1000.2h3.70V1017.7h-3.70zM796.4 921.5h3.70V930.2h-3.70zM800.1 904.0h3.70V912.7h-3.70zM800.1 982.7h3.70V991.5h-3.70zM803.8 912.7h3.70V939.0h-3.70zM807.5 895.2h3.70V904.0h-3.70zM807.5 939.0h3.70V947.7h-3.70zM840.8 965.2h3.70V974.0h-3.70zM840.8 982.7h3.70V991.5h-3.70zM855.6 939.0h3.70V947.7h-3.70zM922.1 939.0h3.70V947.7h-3.70zM922.1 956.5h3.70V965.2h-3.70zM1195.7 589.0h3.70V597.7h-3.70zM1247.5 842.7h3.70V851.5h-3.70zM1339.9 904.0h3.70V912.7h-3.70z"/><path fill="#00c3ff" d="M289.8 886.5h3.70V895.2h-3.70zM297.2 904.0h3.70V912.7h-3.70zM297.2 921.5h3.70V930.2h-3.70zM482.1 807.7h3.70V825.2h-3.70zM504.3 799.0h3.70V825.2h-3.70zM519.1 790.2h3.70V799.0h-3.70zM519.1 860.2h3.70V869.0h-3.70zM522.8 834.0h3.70V842.7h-3.70zM526.5 799.0h3.70V816.5h-3.70zM526.5 825.2h3.70V834.0h-3.70zM537.6 869.0h3.70V877.7h-3.70zM574.5 869.0h3.70V877.7h-3.70zM578.2 869.0h3.70V877.7h-3.70zM578.2 886.5h3.70V895.2h-3.70zM596.7 886.5h3.70V895.2h-3.70zM596.7 904.0h3.70V921.5h-3.70zM607.8 895.2h3.70V904.0h-3.70zM607.8 912.7h3.70V921.5h-3.70zM615.2 956.5h3.70V965.2h-3.70zM633.7 930.2h3.70V947.7h-3.70zM633.7 956.5h3.70V965.2h-3.70zM681.8 982.7h3.70V1000.2h-3.70zM685.5 1009.0h3.70V1017.7h-3.70zM689.2 956.5h3.70V974.0h-3.70zM692.9 965.2h3.70V974.0h-3.70zM696.6 1009.0h3.70V1026.5h-3.70zM704.0 1035.2h3.70V1044.0h-3.70zM711.3 974.0h3.70V982.7h-3.70zM718.7 982.7h3.70V991.5h-3.70zM718.7 1052.7h3.70V1061.5h-3.70zM800.1 930.2h3.70V939.0h-3.70zM800.1 947.7h3.70V982.7h-3.70zM807.5 904.0h3.70V939.0h-3.70zM855.6 930.2h3.70V939.0h-3.70zM1247.5 825.2h3.70V842.7h-3.70z"/><path fill="#00cdff" d="M267.7 1026.5h3.70V1044.0h-3.70zM286.1 781.5h3.70V790.2h-3.70zM289.8 877.7h3.70V886.5h-3.70zM293.5 816.5h3.70V825.2h-3.70zM293.5 842.7h3.70V851.5h-3.70zM293.5 869.0h3.70V877.7h-3.70zM293.5 895.2h3.70V904.0h-3.70zM297.2 947.7h3.70V956.5h-3.70zM519.1 799.0h3.70V807.7h-3.70zM519.1 816.5h3.70V825.2h-3.70zM519.1 851.5h3.70V860.2h-3.70zM526.5 816.5h3.70V825.2h-3.70zM526.5 834.0h3.70V842.7h-3.70zM622.6 974.0h3.70V982.7h-3.70zM626.3 939.0h3.70V947.7h-3.70zM678.1 939.0h3.70V947.7h-3.70zM685.5 956.5h3.70V965.2h-3.70zM707.7 1044.0h3.70V1052.7h-3.70zM711.3 1035.2h3.70V1044.0h-3.70zM718.7 1044.0h3.70V1052.7h-3.70zM800.1 912.7h3.70V930.2h-3.70zM800.1 939.0h3.70V947.7h-3.70z"/><path fill="#00d8ff" d="M293.5 921.5h3.70V930.2h-3.70zM293.5 939.0h3.70V947.7h-3.70zM312.0 842.7h3.70V851.5h-3.70zM315.7 851.5h3.70V877.7h-3.70zM319.4 877.7h3.70V886.5h-3.70zM519.1 807.7h3.70V816.5h-3.70zM519.1 825.2h3.70V851.5h-3.70zM681.8 939.0h3.70V947.7h-3.70zM689.2 974.0h3.70V1000.2h-3.70zM689.2 1009.0h3.70V1017.7h-3.70zM692.9 974.0h3.70V982.7h-3.70zM700.3 1000.2h3.70V1009.0h-3.70zM700.3 1017.7h3.70V1035.2h-3.70zM704.0 1026.5h3.70V1035.2h-3.70zM707.7 1035.2h3.70V1044.0h-3.70zM718.7 991.5h3.70V1009.0h-3.70zM718.7 1017.7h3.70V1026.5h-3.70zM718.7 1035.2h3.70V1044.0h-3.70z"/><path fill="#00e3ff" d="M245.5 204.0h3.70V212.7h-3.70zM267.7 1000.2h3.70V1026.5h-3.70zM289.8 842.7h3.70V851.5h-3.70zM293.5 886.5h3.70V895.2h-3.70zM315.7 842.7h3.70V851.5h-3.70zM626.3 965.2h3.70V974.0h-3.70zM674.4 947.7h3.70V956.5h-3.70zM685.5 1000.2h3.70V1009.0h-3.70zM689.2 1000.2h3.70V1009.0h-3.70zM692.9 982.7h3.70V991.5h-3.70zM692.9 1009.0h3.70V1017.7h-3.70zM700.3 1009.0h3.70V1017.7h-3.70zM718.7 1009.0h3.70V1017.7h-3.70zM718.7 1026.5h3.70V1035.2h-3.70z"/><path fill="#00eeff" d="M212.2 720.2h3.70V729.0h-3.70zM293.5 834.0h3.70V842.7h-3.70zM297.2 842.7h3.70V851.5h-3.70zM308.3 825.2h3.70V834.0h-3.70zM315.7 834.0h3.70V842.7h-3.70zM323.1 851.5h3.70V869.0h-3.70zM323.1 877.7h3.70V886.5h-3.70zM622.6 947.7h3.70V956.5h-3.70zM685.5 965.2h3.70V974.0h-3.70zM692.9 1000.2h3.70V1009.0h-3.70zM707.7 1026.5h3.70V1035.2h-3.70zM711.3 1000.2h3.70V1035.2h-3.70z"/><path fill="#00f8ff" d="M308.3 764.0h3.70V772.7h-3.70zM308.3 790.2h3.70V799.0h-3.70zM308.3 869.0h3.70V877.7h-3.70zM312.0 851.5h3.70V860.2h-3.70zM312.0 877.7h3.70V886.5h-3.70zM319.4 869.0h3.70V877.7h-3.70zM323.1 842.7h3.70V851.5h-3.70zM326.8 851.5h3.70V860.2h-3.70zM326.8 877.7h3.70V886.5h-3.70zM330.5 851.5h3.70V860.2h-3.70zM330.5 869.0h3.70V877.7h-3.70zM622.6 965.2h3.70V974.0h-3.70zM626.3 947.7h3.70V956.5h-3.70zM685.5 974.0h3.70V982.7h-3.70zM685.5 991.5h3.70V1000.2h-3.70zM692.9 991.5h3.70V1000.2h-3.70z"/><path fill="#04fffb" d="M204.8 729.0h3.70V737.7h-3.70zM204.8 755.2h3.70V764.0h-3.70zM252.9 886.5h3.70V895.2h-3.70zM252.9 947.7h3.70V956.5h-3.70zM256.6 939.0h3.70V956.5h-3.70zM264.0 991.5h3.70V1000.2h-3.70zM267.7 947.7h3.70V956.5h-3.70zM275.0 1079.0h3.70V1087.7h-3.70zM278.7 912.7h3.70V921.5h-3.70zM282.4 869.0h3.70V895.2h-3.70zM286.1 851.5h3.70V956.5h-3.70zM300.9 737.7h3.70V746.5h-3.70zM304.6 694.0h3.70V702.7h-3.70zM308.3 720.2h3.70V764.0h-3.70zM308.3 772.7h3.70V790.2h-3.70zM308.3 877.7h3.70V886.5h-3.70zM312.0 624.0h3.70V650.2h-3.70zM315.7 624.0h3.70V632.7h-3.70zM319.4 641.5h3.70V650.2h-3.70zM323.1 641.5h3.70V650.2h-3.70zM323.1 869.0h3.70V877.7h-3.70zM330.5 589.0h3.70V597.7h-3.70zM330.5 650.2h3.70V676.5h-3.70zM334.2 650.2h3.70V737.7h-3.70zM374.9 921.5h3.70V930.2h-3.70zM378.6 842.7h3.70V851.5h-3.70zM378.6 877.7h3.70V886.5h-3.70zM382.3 807.7h3.70V816.5h-3.70zM626.3 956.5h3.70V965.2h-3.70zM685.5 982.7h3.70V991.5h-3.70zM970.2 737.7h3.70V746.5h-3.70zM985.0 755.2h3.70V764.0h-3.70zM988.7 729.0h3.70V737.7h-3.70zM988.7 772.7h3.70V781.5h-3.70zM992.4 729.0h3.70V737.7h-3.70zM992.4 755.2h3.70V764.0h-3.70zM996.1 781.5h3.70V790.2h-3.70zM999.8 781.5h3.70V790.2h-3.70zM1018.2 772.7h3.70V781.5h-3.70zM1021.9 772.7h3.70V781.5h-3.70zM1033.0 702.7h3.70V711.5h-3.70zM1036.7 702.7h3.70V711.5h-3.70zM1062.6 711.5h3.70V720.2h-3.70zM1195.7 597.7h3.70V606.5h-3.70zM1269.7 562.7h3.70V571.5h-3.70z"/><path fill="#0ffff0" d="M308.3 799.0h3.70V825.2h-3.70zM308.3 834.0h3.70V860.2h-3.70zM308.3 904.0h3.70V912.7h-3.70zM326.8 869.0h3.70V877.7h-3.70zM330.5 834.0h3.70V842.7h-3.70zM622.6 956.5h3.70V965.2h-3.70z"/><path fill="#1affe5" d="M289.8 904.0h3.70V912.7h-3.70zM308.3 860.2h3.70V869.0h-3.70zM308.3 886.5h3.70V904.0h-3.70zM319.4 851.5h3.70V869.0h-3.70zM330.5 860.2h3.70V869.0h-3.70zM711.3 912.7h3.70V921.5h-3.70zM715.0 930.2h3.70V939.0h-3.70z"/><path fill="#24ffdb" d="M326.8 842.7h3.70V851.5h-3.70zM330.5 842.7h3.70V851.5h-3.70zM670.7 921.5h3.70V930.2h-3.70zM678.1 930.2h3.70V939.0h-3.70z"/><path fill="#2fffd0" d="M245.5 186.5h3.70V195.2h-3.70zM312.0 869.0h3.70V877.7h-3.70zM319.4 842.7h3.70V851.5h-3.70zM323.1 650.2h3.70V659.0h-3.70zM667.0 930.2h3.70V939.0h-3.70zM992.4 746.5h3.70V755.2h-3.70zM1269.7 554.0h3.70V562.7h-3.70z"/><path fill="#3affc5" d="M312.0 860.2h3.70V869.0h-3.70zM326.8 860.2h3.70V869.0h-3.70zM707.7 947.7h3.70V956.5h-3.70z"/><path fill="#44ffbb" d="M241.8 195.2h3.70V204.0h-3.70zM260.3 912.7h3.70V921.5h-3.70zM264.0 939.0h3.70V947.7h-3.70zM315.7 632.7h3.70V641.5h-3.70zM315.7 877.7h3.70V886.5h-3.70zM319.4 650.2h3.70V659.0h-3.70zM378.6 825.2h3.70V834.0h-3.70zM1014.5 746.5h3.70V755.2h-3.70zM1018.2 720.2h3.70V729.0h-3.70z"/><path fill="#5affa5" d="M245.5 169.0h3.70V177.7h-3.70zM326.8 624.0h3.70V632.7h-3.70zM326.8 790.2h3.70V799.0h-3.70zM330.5 816.5h3.70V825.2h-3.70zM970.2 755.2h3.70V764.0h-3.70zM992.4 720.2h3.70V729.0h-3.70z"/><path fill="#65ff9a" d="M319.4 799.0h3.70V807.7h-3.70z"/><path fill="#6fff90" d="M323.1 807.7h3.70V816.5h-3.70zM326.8 816.5h3.70V825.2h-3.70z"/><path fill="#7aff85" d="M212.2 729.0h3.70V737.7h-3.70zM252.9 895.2h3.70V904.0h-3.70zM256.6 895.2h3.70V904.0h-3.70zM271.3 965.2h3.70V974.0h-3.70zM282.4 895.2h3.70V912.7h-3.70zM282.4 939.0h3.70V974.0h-3.70zM286.1 790.2h3.70V799.0h-3.70zM315.7 790.2h3.70V799.0h-3.70zM315.7 816.5h3.70V825.2h-3.70zM330.5 807.7h3.70V816.5h-3.70zM352.7 501.5h3.70V510.2h-3.70zM374.9 825.2h3.70V834.0h-3.70zM400.8 825.2h3.70V834.0h-3.70zM711.3 860.2h3.70V869.0h-3.70zM948.0 764.0h3.70V772.7h-3.70zM955.4 764.0h3.70V772.7h-3.70zM1014.5 737.7h3.70V746.5h-3.70zM1021.9 729.0h3.70V737.7h-3.70zM1025.6 729.0h3.70V737.7h-3.70zM1033.0 676.5h3.70V685.2h-3.70zM1036.7 676.5h3.70V685.2h-3.70zM1114.4 702.7h3.70V711.5h-3.70z"/><path fill="#85ff7a" d="M312.0 807.7h3.70V816.5h-3.70zM323.1 764.0h3.70V781.5h-3.70zM323.1 790.2h3.70V807.7h-3.70z"/><path fill="#90ff6f" d="M289.8 781.5h3.70V790.2h-3.70zM297.2 702.7h3.70V711.5h-3.70zM297.2 755.2h3.70V764.0h-3.70zM304.6 711.5h3.70V720.2h-3.70zM308.3 676.5h3.70V685.2h-3.70zM312.0 615.2h3.70V624.0h-3.70zM312.0 790.2h3.70V799.0h-3.70zM312.0 816.5h3.70V825.2h-3.70zM312.0 834.0h3.70V842.7h-3.70zM319.4 702.7h3.70V711.5h-3.70zM326.8 685.2h3.70V764.0h-3.70zM330.5 641.5h3.70V650.2h-3.70zM334.2 624.0h3.70V650.2h-3.70z"/><path fill="#9aff65" d="M312.0 772.7h3.70V781.5h-3.70zM315.7 764.0h3.70V772.7h-3.70zM319.4 834.0h3.70V842.7h-3.70zM323.1 816.5h3.70V825.2h-3.70zM330.5 764.0h3.70V772.7h-3.70z"/><path fill="#a5ff5a" d="M245.5 177.7h3.70V186.5h-3.70zM289.8 764.0h3.70V772.7h-3.70zM319.4 737.7h3.70V772.7h-3.70zM323.1 720.2h3.70V764.0h-3.70zM323.1 834.0h3.70V842.7h-3.70zM326.8 764.0h3.70V781.5h-3.70zM330.5 799.0h3.70V807.7h-3.70zM718.7 851.5h3.70V860.2h-3.70z"/><path fill="#b0ff4f" d="M312.0 799.0h3.70V807.7h-3.70zM315.7 799.0h3.70V807.7h-3.70zM319.4 772.7h3.70V781.5h-3.70zM319.4 825.2h3.70V834.0h-3.70zM323.1 825.2h3.70V834.0h-3.70zM326.8 799.0h3.70V807.7h-3.70zM326.8 825.2h3.70V834.0h-3.70zM330.5 825.2h3.70V834.0h-3.70zM718.7 834.0h3.70V842.7h-3.70z"/><path fill="#bbff44" d="M312.0 781.5h3.70V790.2h-3.70zM315.7 737.7h3.70V764.0h-3.70zM315.7 781.5h3.70V790.2h-3.70zM319.4 711.5h3.70V737.7h-3.70zM319.4 781.5h3.70V790.2h-3.70zM319.4 816.5h3.70V825.2h-3.70zM323.1 702.7h3.70V720.2h-3.70zM330.5 772.7h3.70V781.5h-3.70zM711.3 834.0h3.70V842.7h-3.70zM718.7 860.2h3.70V869.0h-3.70z"/><path fill="#c5ff3a" d="M245.5 195.2h3.70V204.0h-3.70zM249.2 440.2h3.70V449.0h-3.70zM264.0 982.7h3.70V991.5h-3.70zM289.8 772.7h3.70V781.5h-3.70zM312.0 737.7h3.70V764.0h-3.70zM315.7 720.2h3.70V737.7h-3.70zM315.7 772.7h3.70V781.5h-3.70zM315.7 825.2h3.70V834.0h-3.70zM319.4 790.2h3.70V799.0h-3.70zM326.8 834.0h3.70V842.7h-3.70zM330.5 597.7h3.70V606.5h-3.70zM330.5 790.2h3.70V799.0h-3.70zM334.2 615.2h3.70V624.0h-3.70zM400.8 842.7h3.70V851.5h-3.70zM951.7 764.0h3.70V772.7h-3.70zM955.4 755.2h3.70V764.0h-3.70zM999.8 729.0h3.70V737.7h-3.70zM1003.4 711.5h3.70V720.2h-3.70zM1014.5 711.5h3.70V720.2h-3.70zM1018.2 764.0h3.70V772.7h-3.70zM1129.2 676.5h3.70V685.2h-3.70z"/><path fill="#d0ff2f" d="M312.0 764.0h3.70V772.7h-3.70zM319.4 807.7h3.70V816.5h-3.70zM323.1 781.5h3.70V790.2h-3.70zM330.5 781.5h3.70V790.2h-3.70zM667.0 877.7h3.70V886.5h-3.70z"/><path fill="#dbff24" d="M241.8 204.0h3.70V212.7h-3.70zM289.8 790.2h3.70V799.0h-3.70zM315.7 807.7h3.70V816.5h-3.70zM326.8 781.5h3.70V790.2h-3.70zM326.8 807.7h3.70V816.5h-3.70z"/><path fill="#f0ff0f" d="M204.8 746.5h3.70V755.2h-3.70zM312.0 825.2h3.70V834.0h-3.70zM378.6 834.0h3.70V842.7h-3.70zM667.0 904.0h3.70V912.7h-3.70z"/><path fill="#fbff04" d="M681.8 895.2h3.70V904.0h-3.70zM696.6 991.5h3.70V1000.2h-3.70zM715.0 912.7h3.70V921.5h-3.70z"/><path fill="#fff800" d="M667.0 912.7h3.70V921.5h-3.70zM674.4 930.2h3.70V939.0h-3.70zM700.3 965.2h3.70V974.0h-3.70zM707.7 921.5h3.70V930.2h-3.70zM711.3 904.0h3.70V912.7h-3.70z"/><path fill="#ffee00" d="M667.0 886.5h3.70V895.2h-3.70zM674.4 939.0h3.70V947.7h-3.70zM718.7 869.0h3.70V877.7h-3.70z"/><path fill="#ffe300" d="M204.8 737.7h3.70V746.5h-3.70zM249.2 177.7h3.70V186.5h-3.70zM260.3 921.5h3.70V930.2h-3.70zM260.3 956.5h3.70V965.2h-3.70zM267.7 956.5h3.70V965.2h-3.70zM271.3 1009.0h3.70V1017.7h-3.70zM275.0 1017.7h3.70V1026.5h-3.70zM278.7 921.5h3.70V930.2h-3.70zM282.4 912.7h3.70V921.5h-3.70zM282.4 930.2h3.70V939.0h-3.70zM286.1 799.0h3.70V807.7h-3.70zM297.2 737.7h3.70V746.5h-3.70zM300.9 816.5h3.70V825.2h-3.70zM308.3 711.5h3.70V720.2h-3.70zM312.0 650.2h3.70V659.0h-3.70zM312.0 676.5h3.70V694.0h-3.70zM312.0 729.0h3.70V737.7h-3.70zM315.7 667.7h3.70V676.5h-3.70zM315.7 711.5h3.70V720.2h-3.70zM319.4 659.0h3.70V667.7h-3.70zM323.1 659.0h3.70V667.7h-3.70zM326.8 632.7h3.70V650.2h-3.70zM326.8 676.5h3.70V685.2h-3.70zM334.2 606.5h3.70V615.2h-3.70zM374.9 834.0h3.70V842.7h-3.70zM374.9 912.7h3.70V921.5h-3.70zM678.1 956.5h3.70V965.2h-3.70zM700.3 921.5h3.70V930.2h-3.70zM700.3 947.7h3.70V956.5h-3.70zM704.0 956.5h3.70V965.2h-3.70zM711.3 842.7h3.70V860.2h-3.70zM715.0 834.0h3.70V842.7h-3.70zM715.0 991.5h3.70V1000.2h-3.70zM718.7 842.7h3.70V851.5h-3.70zM985.0 720.2h3.70V729.0h-3.70zM988.7 737.7h3.70V746.5h-3.70zM992.4 737.7h3.70V746.5h-3.70zM1003.4 755.2h3.70V764.0h-3.70zM1014.5 764.0h3.70V772.7h-3.70zM1021.9 764.0h3.70V772.7h-3.70zM1025.6 764.0h3.70V772.7h-3.70zM1033.0 685.2h3.70V694.0h-3.70zM1195.7 580.2h3.70V589.0h-3.70z"/><path fill="#ffd800" d="M241.8 230.2h3.70V239.0h-3.70zM249.2 457.7h3.70V466.5h-3.70zM667.0 895.2h3.70V904.0h-3.70zM700.3 991.5h3.70V1000.2h-3.70zM711.3 869.0h3.70V877.7h-3.70z"/><path fill="#ffcd00" d="M707.7 912.7h3.70V921.5h-3.70zM711.3 982.7h3.70V991.5h-3.70z"/><path fill="#ffc300" d="M286.1 842.7h3.70V851.5h-3.70zM300.9 772.7h3.70V781.5h-3.70zM696.6 912.7h3.70V921.5h-3.70zM1018.2 755.2h3.70V764.0h-3.70z"/><path fill="#ffb800" d="M715.0 965.2h3.70V974.0h-3.70z"/><path fill="#ffad00" d="M238.1 239.0h3.70V247.7h-3.70zM252.9 904.0h3.70V912.7h-3.70zM300.9 764.0h3.70V772.7h-3.70zM312.0 694.0h3.70V702.7h-3.70zM378.6 851.5h3.70V860.2h-3.70zM382.3 799.0h3.70V807.7h-3.70zM681.8 947.7h3.70V956.5h-3.70zM1114.4 694.0h3.70V702.7h-3.70z"/><path fill="#ffa200" d="M696.6 904.0h3.70V912.7h-3.70zM696.6 956.5h3.70V965.2h-3.70zM707.7 956.5h3.70V965.2h-3.70zM715.0 842.7h3.70V851.5h-3.70zM715.0 956.5h3.70V965.2h-3.70zM715.0 982.7h3.70V991.5h-3.70z"/><path fill="#ff9800" d="M711.3 930.2h3.70V939.0h-3.70z"/><path fill="#ff8d00" d="M707.7 930.2h3.70V939.0h-3.70z"/><path fill="#ff8200" d="M241.8 212.7h3.70V221.5h-3.70zM252.9 939.0h3.70V947.7h-3.70zM256.6 904.0h3.70V912.7h-3.70zM264.0 947.7h3.70V956.5h-3.70zM267.7 991.5h3.70V1000.2h-3.70zM271.3 974.0h3.70V982.7h-3.70zM275.0 1026.5h3.70V1035.2h-3.70zM278.7 947.7h3.70V956.5h-3.70zM282.4 834.0h3.70V842.7h-3.70zM293.5 755.2h3.70V764.0h-3.70zM297.2 746.5h3.70V755.2h-3.70zM300.9 746.5h3.70V755.2h-3.70zM304.6 720.2h3.70V729.0h-3.70zM304.6 755.2h3.70V764.0h-3.70zM308.3 685.2h3.70V694.0h-3.70zM312.0 659.0h3.70V676.5h-3.70zM312.0 702.7h3.70V711.5h-3.70zM315.7 641.5h3.70V667.7h-3.70zM315.7 676.5h3.70V685.2h-3.70zM319.4 667.7h3.70V676.5h-3.70zM323.1 667.7h3.70V676.5h-3.70zM326.8 650.2h3.70V659.0h-3.70zM330.5 606.5h3.70V615.2h-3.70zM330.5 632.7h3.70V641.5h-3.70zM334.2 589.0h3.70V606.5h-3.70zM374.9 904.0h3.70V912.7h-3.70zM378.6 869.0h3.70V877.7h-3.70zM382.3 755.2h3.70V764.0h-3.70zM696.6 921.5h3.70V930.2h-3.70zM700.3 974.0h3.70V982.7h-3.70zM704.0 1009.0h3.70V1017.7h-3.70zM715.0 860.2h3.70V869.0h-3.70zM951.7 755.2h3.70V764.0h-3.70zM970.2 746.5h3.70V755.2h-3.70zM985.0 729.0h3.70V737.7h-3.70zM985.0 746.5h3.70V755.2h-3.70zM988.7 755.2h3.70V772.7h-3.70zM996.1 737.7h3.70V755.2h-3.70zM996.1 772.7h3.70V781.5h-3.70zM999.8 755.2h3.70V764.0h-3.70zM999.8 772.7h3.70V781.5h-3.70zM1003.4 720.2h3.70V729.0h-3.70zM1014.5 755.2h3.70V764.0h-3.70zM1018.2 729.0h3.70V746.5h-3.70zM1021.9 737.7h3.70V746.5h-3.70zM1025.6 737.7h3.70V746.5h-3.70zM1033.0 711.5h3.70V720.2h-3.70zM1036.7 659.0h3.70V667.7h-3.70zM1062.6 659.0h3.70V667.7h-3.70zM1114.4 676.5h3.70V694.0h-3.70z"/><path fill="#ff7700" d="M667.0 921.5h3.70V930.2h-3.70zM678.1 947.7h3.70V956.5h-3.70zM681.8 877.7h3.70V886.5h-3.70zM704.0 982.7h3.70V991.5h-3.70zM707.7 982.7h3.70V1009.0h-3.70zM715.0 851.5h3.70V860.2h-3.70z"/><path fill="#ff6d00" d="M238.1 230.2h3.70V239.0h-3.70zM275.0 1070.2h3.70V1079.0h-3.70zM400.8 834.0h3.70V842.7h-3.70zM667.0 956.5h3.70V965.2h-3.70zM704.0 921.5h3.70V930.2h-3.70zM1062.6 702.7h3.70V711.5h-3.70z"/><path fill="#ff6200" d="M241.8 221.5h3.70V230.2h-3.70zM245.5 431.5h3.70V440.2h-3.70zM252.9 912.7h3.70V921.5h-3.70zM374.9 877.7h3.70V886.5h-3.70z"/><path fill="#ff5700" d="M707.7 965.2h3.70V974.0h-3.70zM715.0 947.7h3.70V956.5h-3.70z"/><path fill="#ff4c00" d="M245.5 440.2h3.70V449.0h-3.70zM260.3 930.2h3.70V939.0h-3.70zM267.7 965.2h3.70V974.0h-3.70zM271.3 1000.2h3.70V1009.0h-3.70zM278.7 930.2h3.70V939.0h-3.70zM297.2 694.0h3.70V702.7h-3.70zM300.9 807.7h3.70V816.5h-3.70zM315.7 702.7h3.70V711.5h-3.70zM667.0 939.0h3.70V947.7h-3.70zM988.7 746.5h3.70V755.2h-3.70zM1003.4 729.0h3.70V737.7h-3.70zM1018.2 746.5h3.70V755.2h-3.70zM1033.0 659.0h3.70V676.5h-3.70zM1129.2 667.7h3.70V676.5h-3.70z"/><path fill="#ff4200" d="M670.7 939.0h3.70V947.7h-3.70zM674.4 921.5h3.70V930.2h-3.70zM696.6 947.7h3.70V956.5h-3.70z"/><path fill="#ff3700" d="M249.2 449.0h3.70V457.7h-3.70z"/><path fill="#ff2c00" d="M696.6 965.2h3.70V974.0h-3.70z"/><path fill="#ff2200" d="M275.0 1035.2h3.70V1044.0h-3.70zM275.0 1061.5h3.70V1070.2h-3.70zM304.6 746.5h3.70V755.2h-3.70zM374.9 842.7h3.70V851.5h-3.70zM374.9 886.5h3.70V895.2h-3.70zM382.3 764.0h3.70V772.7h-3.70zM681.8 886.5h3.70V895.2h-3.70zM711.3 947.7h3.70V956.5h-3.70zM1129.2 650.2h3.70V659.0h-3.70z"/><path fill="#ff1700" d="M681.8 904.0h3.70V912.7h-3.70z"/><path fill="#ff0c00" d="M700.3 904.0h3.70V912.7h-3.70zM704.0 930.2h3.70V939.0h-3.70zM704.0 1017.7h3.70V1026.5h-3.70zM711.3 921.5h3.70V930.2h-3.70z"/><path fill="#ff0100" d="M256.6 912.7h3.70V921.5h-3.70zM256.6 930.2h3.70V939.0h-3.70zM264.0 956.5h3.70V965.2h-3.70zM264.0 974.0h3.70V982.7h-3.70zM267.7 974.0h3.70V991.5h-3.70zM271.3 982.7h3.70V991.5h-3.70zM275.0 1044.0h3.70V1061.5h-3.70zM282.4 842.7h3.70V851.5h-3.70zM282.4 860.2h3.70V869.0h-3.70zM282.4 921.5h3.70V930.2h-3.70zM286.1 807.7h3.70V816.5h-3.70zM286.1 825.2h3.70V834.0h-3.70zM304.6 729.0h3.70V746.5h-3.70zM308.3 702.7h3.70V711.5h-3.70zM312.0 711.5h3.70V729.0h-3.70zM315.7 685.2h3.70V702.7h-3.70zM319.4 676.5h3.70V702.7h-3.70zM323.1 676.5h3.70V685.2h-3.70zM323.1 694.0h3.70V702.7h-3.70zM326.8 659.0h3.70V676.5h-3.70zM330.5 615.2h3.70V632.7h-3.70zM334.2 580.2h3.70V589.0h-3.70zM374.9 895.2h3.70V904.0h-3.70zM382.3 790.2h3.70V799.0h-3.70zM704.0 1000.2h3.70V1009.0h-3.70zM707.7 1009.0h3.70V1017.7h-3.70zM985.0 737.7h3.70V746.5h-3.70zM996.1 755.2h3.70V764.0h-3.70zM999.8 737.7h3.70V755.2h-3.70zM999.8 764.0h3.70V772.7h-3.70zM1003.4 737.7h3.70V755.2h-3.70zM1014.5 720.2h3.70V737.7h-3.70zM1021.9 746.5h3.70V764.0h-3.70zM1025.6 746.5h3.70V755.2h-3.70zM1036.7 667.7h3.70V676.5h-3.70zM1129.2 659.0h3.70V667.7h-3.70z"/><path fill="#f60000" d="M670.7 947.7h3.70V956.5h-3.70zM700.3 930.2h3.70V939.0h-3.70zM704.0 965.2h3.70V974.0h-3.70z"/><path fill="#eb0000" d="M674.4 956.5h3.70V965.2h-3.70zM678.1 921.5h3.70V930.2h-3.70zM681.8 956.5h3.70V965.2h-3.70zM696.6 974.0h3.70V982.7h-3.70zM707.7 974.0h3.70V982.7h-3.70zM707.7 1017.7h3.70V1026.5h-3.70zM715.0 869.0h3.70V877.7h-3.70z"/><path fill="#e00000" d="M696.6 930.2h3.70V939.0h-3.70zM704.0 939.0h3.70V947.7h-3.70z"/><path fill="#d50000" d="M252.9 921.5h3.70V930.2h-3.70zM300.9 799.0h3.70V807.7h-3.70zM382.3 772.7h3.70V781.5h-3.70zM711.3 991.5h3.70V1000.2h-3.70z"/><path fill="#cb0000" d="M711.3 956.5h3.70V965.2h-3.70z"/><path fill="#b50000" d="M707.7 904.0h3.70V912.7h-3.70z"/><path fill="#aa0000" d="M252.9 930.2h3.70V939.0h-3.70zM256.6 921.5h3.70V930.2h-3.70zM260.3 939.0h3.70V956.5h-3.70zM264.0 965.2h3.70V974.0h-3.70zM271.3 991.5h3.70V1000.2h-3.70zM278.7 939.0h3.70V947.7h-3.70zM282.4 851.5h3.70V860.2h-3.70zM286.1 816.5h3.70V825.2h-3.70zM297.2 685.2h3.70V694.0h-3.70zM300.9 781.5h3.70V799.0h-3.70zM308.3 694.0h3.70V702.7h-3.70zM323.1 685.2h3.70V694.0h-3.70zM374.9 851.5h3.70V860.2h-3.70zM374.9 869.0h3.70V877.7h-3.70zM382.3 781.5h3.70V790.2h-3.70zM996.1 764.0h3.70V772.7h-3.70zM1025.6 755.2h3.70V764.0h-3.70z"/><path fill="#a00000" d="M704.0 991.5h3.70V1000.2h-3.70z"/></g>
<g stroke="#262626" stroke-width="1.8" fill="none">
<rect x="197.4" y="98.4" width="1172.1" height="1070.0"/>
<path d="M197.4 1168.4v12.8M197.4 98.4v-12.8M343.9 1168.4v12.8M343.9 98.4v-12.8M490.4 1168.4v12.8M490.4 98.4v-12.8M636.9 1168.4v12.8M636.9 98.4v-12.8M783.4 1168.4v12.8M783.4 98.4v-12.8M930.0 1168.4v12.8M930.0 98.4v-12.8M1076.5 1168.4v12.8M1076.5 98.4v-12.8M1223.0 1168.4v12.8M1223.0 98.4v-12.8M1369.5 1168.4v12.8M1369.5 98.4v-12.8M197.4 1063.4h-12.8M1369.5 1063.4h12.8M197.4 891.1h-12.8M1369.5 891.1h12.8M197.4 718.8h-12.8M1369.5 718.8h12.8M197.4 546.4h-12.8M1369.5 546.4h12.8M197.4 374.1h-12.8M1369.5 374.1h12.8M197.4 201.8h-12.8M1369.5 201.8h12.8"/>
</g>
<g fill="#262626" font-size="42" text-anchor="middle">
<text x="197.4" y="1238.7">00:00</text>
<text x="343.9" y="1238.7">03:00</text>
<text x="490.4" y="1238.7">06:00</text>
<text x="636.9" y="1238.7">09:00</text>
<text x="783.4" y="1238.7">12:00</text>
<text x="930.0" y="1238.7">15:00</text>
<text x="1076.5" y="1238.7">18:00</text>
<text x="1223.0" y="1238.7">21:00</text>
<text x="1369.5" y="1238.7">00:00</text>
</g>
<g fill="#262626" font-size="42" text-anchor="end">
<text x="169.5" y="1078.6">0.5</text>
<text x="169.5" y="906.3">1</text>
<text x="169.5" y="734.0">1.5</text>
<text x="169.5" y="561.6">2</text>
<text x="169.5" y="389.3">2.5</text>
<text x="169.5" y="217.0">3</text>
</g>
<text x="785" y="1300.7" font-size="46" fill="#262626" text-anchor="middle">Time of Day (UTC00:00 hr)</text>
<text transform="translate(86.9 632.8) rotate(-90)" font-size="46" fill="#262626" text-anchor="middle">Distance (km)</text>
<text x="784.4" y="83.7" font-size="45.85" font-weight="bold" fill="#000" text-anchor="middle">Horizontal Wind Speed West 2023-07-30 00-01 to 07-30 23-58</text>
<defs><linearGradient id="jg" x1="0" y1="0" x2="0" y2="1"><stop offset="0.0000" stop-color="#800000"/><stop offset="0.0156" stop-color="#8f0000"/><stop offset="0.0312" stop-color="#9f0000"/><stop offset="0.0469" stop-color="#af0000"/><stop offset="0.0625" stop-color="#bf0000"/><stop offset="0.0781" stop-color="#cf0000"/><stop offset="0.0938" stop-color="#df0000"/><stop offset="0.1094" stop-color="#ef0000"/><stop offset="0.1250" stop-color="#ff0000"/><stop offset="0.1406" stop-color="#ff1000"/><stop offset="0.1562" stop-color="#ff2000"/><stop offset="0.1719" stop-color="#ff3000"/><stop offset="0.1875" stop-color="#ff4000"/><stop offset="0.2031" stop-color="#ff5000"/><stop offset="0.2188" stop-color="#ff6000"/><stop offset="0.2344" stop-color="#ff7000"/><stop offset="0.2500" stop-color="#ff8000"/><stop offset="0.2656" stop-color="#ff8f00"/><stop offset="0.2812" stop-color="#ff9f00"/><stop offset="0.2969" stop-color="#ffaf00"/><stop offset="0.3125" stop-color="#ffbf00"/><stop offset="0.3281" stop-color="#ffcf00"/><stop offset="0.3438" stop-color="#ffdf00"/><stop offset="0.3594" stop-color="#ffef00"/><stop offset="0.3750" stop-color="#ffff00"/><stop offset="0.3906" stop-color="#efff10"/><stop offset="0.4062" stop-color="#dfff20"/><stop offset="0.4219" stop-color="#cfff30"/><stop offset="0.4375" stop-color="#bfff40"/><stop offset="0.4531" stop-color="#afff50"/><stop offset="0.4688" stop-color="#9fff60"/><stop offset="0.4844" stop-color="#8fff70"/><stop offset="0.5000" stop-color="#80ff80"/><stop offset="0.5156" stop-color="#70ff8f"/><stop offset="0.5312" stop-color="#60ff9f"/><stop offset="0.5469" stop-color="#50ffaf"/><stop offset="0.5625" stop-color="#40ffbf"/><stop offset="0.5781" stop-color="#30ffcf"/><stop offset="0.5938" stop-color="#20ffdf"/><stop offset="0.6094" stop-color="#10ffef"/><stop offset="0.6250" stop-color="#00ffff"/><stop offset="0.6406" stop-color="#00efff"/><stop offset="0.6562" stop-color="#00dfff"/><stop offset="0.6719" stop-color="#00cfff"/><stop offset="0.6875" stop-color="#00bfff"/><stop offset="0.7031" stop-color="#00afff"/><stop offset="0.7188" stop-color="#009fff"/><stop offset="0.7344" stop-color="#008fff"/><stop offset="0.7500" stop-color="#0080ff"/><stop offset="0.7656" stop-color="#0070ff"/><stop offset="0.7812" stop-color="#0060ff"/><stop offset="0.7969" stop-color="#0050ff"/><stop offset="0.8125" stop-color="#0040ff"/><stop offset="0.8281" stop-color="#0030ff"/><stop offset="0.8438" stop-color="#0020ff"/><stop offset="0.8594" stop-color="#0010ff"/><stop offset="0.8750" stop-color="#0000ff"/><stop offset="0.8906" stop-color="#0000ef"/><stop offset="0.9062" stop-color="#0000df"/><stop offset="0.9219" stop-color="#0000cf"/><stop offset="0.9375" stop-color="#0000bf"/><stop offset="0.9531" stop-color="#0000af"/><stop offset="0.9688" stop-color="#00009f"/><stop offset="0.9844" stop-color="#00008f"/><stop offset="1.0000" stop-color="#000080"/></linearGradient></defs>
<rect x="1458.0" y="96.2" width="66.8" height="1072.2" fill="url(#jg)" stroke="#262626" stroke-width="1.6"/>
<path d="M1524.8 167.5h-11.4M1524.8 269.6h-11.4M1524.8 371.7h-11.4M1524.8 473.8h-11.4M1524.8 575.9h-11.4M1524.8 678.0h-11.4M1524.8 780.1h-11.4M1524.8 882.2h-11.4M1524.8 984.3h-11.4M1524.8 1086.4h-11.4" stroke="#262626" stroke-width="1.6"/>
<g fill="#262626" font-size="37.6">
<text x="1541" y="180.9">15</text>
<text x="1541" y="283.0">10</text>
<text x="1541" y="385.1">5</text>
<text x="1541" y="487.2">0</text>
<text x="1541" y="589.3">-5</text>
<text x="1541" y="691.4">-10</text>
<text x="1541" y="793.5">-15</text>
<text x="1541" y="895.6">-20</text>
<text x="1541" y="997.7">-25</text>
<text x="1541" y="1099.8">-30</text>
</g>
<text transform="translate(1650 633.6) rotate(-90)" font-size="41.4" fill="#262626" text-anchor="middle">Wind Speed, m/s</text>
</svg></body></html>
